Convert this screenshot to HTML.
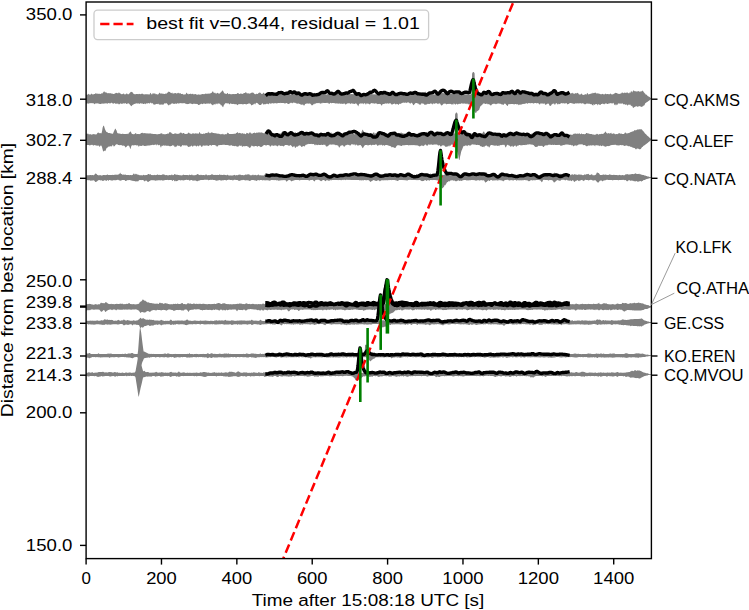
<!DOCTYPE html><html><head><meta charset="utf-8"><style>html,body{margin:0;padding:0;background:#fff;overflow:hidden}svg{display:block}text{font-family:"Liberation Sans",sans-serif;font-size:17.40px;fill:#000;stroke:none}</style></head><body>
<svg width="749" height="610" viewBox="0 0 749 610">
<rect width="749" height="610" fill="#fff"/>
<defs><clipPath id="ax"><rect x="86.10" y="2.00" width="565.30" height="556.60"/></clipPath></defs>
<g clip-path="url(#ax)">
<g fill="#808080" stroke="none"><path d="M86.1,95 86.6,94.6 87.1,94.8 87.6,94.8 88.1,93.8 88.6,93.9 89.1,94.6 89.6,94.6 90.1,94.7 90.6,94.4 91.1,94.1 91.6,93.5 92.1,94 92.6,94.4 93.1,94.4 93.6,94.3 94.1,94 94.6,94.1 95.1,94 95.6,93 96.1,93.5 96.6,93.6 97.1,94 97.6,93.6 98.1,93.6 98.6,93.9 99.1,93.8 99.6,93.7 100.1,93.9 100.6,93.9 101.1,93.6 101.6,93.3 102.1,93.8 102.6,93.1 103.1,92.6 103.6,92 104.1,91 104.6,92 105.1,92.4 105.6,92.2 106.1,92.4 106.6,92.5 107.1,93.3 107.6,93.2 108.1,93.1 108.6,93.2 109.1,93.2 109.6,93.2 110.1,93.3 110.6,93.3 111.1,93.3 111.6,93.8 112.1,93.6 112.6,93.8 113.1,93.9 113.6,93.9 114.1,93.8 114.6,93.7 115.1,93.4 115.6,92.9 116.1,92.7 116.6,93 117.1,93.1 117.6,93.3 118.1,93.5 118.6,92.4 119.1,92.4 119.6,93 120.1,93.5 120.6,93.6 121.1,94.1 121.6,94.3 122.1,94.3 122.6,94.1 123.1,93.8 123.6,93.5 124.1,93.8 124.6,94.4 125.1,94.4 125.6,94.3 126.1,93.7 126.6,93.6 127.1,93.4 127.6,94.2 128.1,94.3 128.6,94.3 129.1,93.9 129.6,93 130.1,92.8 130.6,92 131.1,91.7 131.6,91.9 132.1,92 132.6,92.5 133.1,93.1 133.6,93.9 134.1,94.1 134.6,94.2 135.1,94.3 135.6,94.2 136.1,94 136.6,94.1 137.1,94 137.6,93.9 138.1,94.3 138.6,93.9 139.1,93.8 139.6,94 140.1,94.1 140.6,94.2 141.1,93.9 141.6,93.8 142.1,93.6 142.6,93.8 143.1,94.2 143.6,94.3 144.1,94.3 144.6,94.4 145.1,94.3 145.6,94.3 146.1,94.2 146.6,94.2 147.1,94.3 147.6,94.3 148.1,94.5 148.6,94.3 149.1,94.4 149.6,94.5 150.1,93.3 150.6,92.7 151.1,93.8 151.6,94.5 152.1,94.5 152.6,93.3 153.1,93.5 153.6,93.4 154.1,93.2 154.6,93.7 155.1,93.2 155.6,94.2 156.1,94.2 156.6,94 157.1,94.5 157.6,94.4 158.1,94.2 158.6,94.2 159.1,92.7 159.6,92.8 160.1,93.5 160.6,93.6 161.1,93.5 161.6,93.6 162.1,93.6 162.6,93.8 163.1,93.8 163.6,93.8 164.1,93.9 164.6,94.1 165.1,93.8 165.6,93.6 166.1,93.8 166.6,93.6 167.1,93.1 167.6,92.6 168.1,92.3 168.6,91.6 169.1,91.7 169.6,92.1 170.1,92 170.6,92.9 171.1,93 171.6,93.3 172.1,92.3 172.6,93.4 173.1,93.6 173.6,93.6 174.1,93.3 174.6,93.3 175.1,92.9 175.6,93 176.1,93.4 176.6,93.5 177.1,93.2 177.6,93.2 178.1,92.5 178.6,93.2 179.1,93.1 179.6,93.6 180.1,93.6 180.6,93 181.1,93.9 181.6,94.1 182.1,94 182.6,93.8 183.1,94.4 183.6,94.4 184.1,94.5 184.6,94.6 185.1,94.3 185.6,94.4 186.1,93.2 186.6,92.6 187.1,93.5 187.6,94 188.1,93.5 188.6,94.4 189.1,94.1 189.6,93.9 190.1,93.8 190.6,93.7 191.1,93.8 191.6,94.3 192.1,93.9 192.6,93.7 193.1,93.8 193.6,94.5 194.1,94.2 194.6,94.2 195.1,93.9 195.6,94.1 196.1,94.6 196.6,94.6 197.1,94.8 197.6,94.8 198.1,94.3 198.6,94.4 199.1,94.7 199.6,94.6 200.1,94.7 200.6,94.6 201.1,94.5 201.6,94.2 202.1,94.1 202.6,94 203.1,94.3 203.6,93.9 204.1,94.2 204.6,94.1 205.1,93.8 205.6,93.6 206.1,93.9 206.6,93.7 207.1,93.3 207.6,93.9 208.1,93.7 208.6,93.6 209.1,93.7 209.6,93.6 210.1,93.6 210.6,93.3 211.1,93 211.6,93.1 212.1,91.8 212.6,91.6 213.1,91.5 213.6,92.5 214.1,93.3 214.6,92.7 215.1,92.6 215.6,93.5 216.1,93.6 216.6,93.6 217.1,92.9 217.6,92.8 218.1,93.3 218.6,93.5 219.1,93.7 219.6,93.4 220.1,93 220.6,92.4 221.1,92.1 221.6,91.6 222.1,90.9 222.6,90.2 223.1,91.1 223.6,92 224.1,92.9 224.6,93.5 225.1,93.4 225.6,93.7 226.1,94 226.6,93.9 227.1,92.9 227.6,93 228.1,93.7 228.6,94.2 229.1,94.1 229.6,93.7 230.1,94 230.6,94.3 231.1,94.3 231.6,94.3 232.1,94.3 232.6,94 233.1,94.1 233.6,94.1 234.1,94.2 234.6,94 235.1,94 235.6,94 236.1,93.9 236.6,94 237.1,93.5 237.6,93 238.1,92.9 238.6,93.6 239.1,94.1 239.6,94 240.1,93.8 240.6,93.6 241.1,93.6 241.6,93.8 242.1,93.9 242.6,93.8 243.1,93.9 243.6,92.9 244.1,92.9 244.6,93 245.1,92.9 245.6,91.9 246.1,92.6 246.6,92.7 247.1,93.9 247.6,93.1 248.1,92.9 248.6,93.5 249.1,93.7 249.6,93.5 250.1,93.6 250.6,93.3 251.1,92.8 251.6,92.7 252.1,92.7 252.6,92.4 253.1,92.6 253.6,93.1 254.1,93.6 254.6,93.9 255.1,94.3 255.6,94.2 256.1,93.8 256.6,93.8 257.1,94.1 257.6,94 258.1,93.6 258.6,93 259.1,92.7 259.6,92.5 260.1,92.8 260.6,92.7 261.1,93.6 261.6,93.9 262.1,94.1 262.6,93.7 263.1,93.1 263.6,92.6 264.1,93.6 264.6,93.6 265.1,94.2 265.6,94.2 266.1,94.2 266.6,94.3 267.1,94 267.6,94.3 268.1,94.3 268.6,94.2 269.1,93.4 269.6,94.2 270.1,93.7 270.6,94.1 271.1,94.1 271.6,94.4 272.1,94.2 272.6,94.2 273.1,94.2 273.6,94.1 274.1,94 274.6,93.9 275.1,94.1 275.6,93.6 276.1,93.7 276.6,93.8 277.1,93.8 277.6,94 278.1,93.5 278.6,93.4 279.1,93.4 279.6,93.5 280.1,93.9 280.6,93.6 281.1,93.8 281.6,93 282.1,93.8 282.6,94 283.1,93.9 283.6,94 284.1,93.6 284.6,93.8 285.1,94.3 285.6,94.4 286.1,94.3 286.6,94.1 287.1,94.1 287.6,93.8 288.1,93.1 288.6,93.1 289.1,92.9 289.6,93.1 290.1,94.3 290.6,94.6 291.1,94.7 291.6,94.5 292.1,94.1 292.6,94 293.1,94.5 293.6,94.3 294.1,94 294.6,94.2 295.1,94.4 295.6,94.3 296.1,93.7 296.6,93.9 297.1,94 297.6,94.3 298.1,93.4 298.6,93.6 299.1,93.8 299.6,93.7 300.1,94.2 300.6,94 301.1,93.9 301.6,94.2 302.1,93.6 302.6,93.6 303.1,93.6 303.6,93.6 304.1,93.9 304.6,94.3 305.1,94.7 305.6,94.7 306.1,95 306.6,95 307.1,94.9 307.6,94.8 308.1,93.6 308.6,94.7 309.1,94.7 309.6,94.7 310.1,94.5 310.6,94.1 311.1,93.5 311.6,93 312.1,92.6 312.6,92.7 313.1,93.3 313.6,93.6 314.1,92.7 314.6,93 315.1,93.5 315.6,94.1 316.1,94.6 316.6,94.4 317.1,93.7 317.6,93.9 318.1,94.5 318.6,94.4 319.1,94.2 319.6,94.4 320.1,94.4 320.6,94.6 321.1,94.8 321.6,93.7 322.1,93.9 322.6,94 323.1,94.5 323.6,94.3 324.1,94.8 324.6,94.7 325.1,94.6 325.6,94.6 326.1,94.7 326.6,94.6 327.1,93.8 327.6,94.3 328.1,94.6 328.6,94.5 329.1,94.3 329.6,94.2 330.1,93.8 330.6,94 331.1,94.1 331.6,94.3 332.1,93.9 332.6,94 333.1,93.4 333.6,93.4 334.1,93.9 334.6,93.7 335.1,93.9 335.6,94.3 336.1,94.4 336.6,94.5 337.1,93.9 337.6,93.6 338.1,93.9 338.6,94.4 339.1,93.5 339.6,94.6 340.1,94.4 340.6,94.3 341.1,94.5 341.6,94.9 342.1,94.8 342.6,94.9 343.1,94.7 343.6,94.6 344.1,94.2 344.6,94.3 345.1,93.9 345.6,94.2 346.1,94.2 346.6,94.6 347.1,94.6 347.6,94.3 348.1,94.3 348.6,94.3 349.1,94.3 349.6,94 350.1,94 350.6,94.2 351.1,94 351.6,94.1 352.1,94.3 352.6,94 353.1,94.1 353.6,94.2 354.1,94 354.6,94.1 355.1,94 355.6,94.1 356.1,93.6 356.6,93.6 357.1,93.3 357.6,92.8 358.1,92.5 358.6,91.7 359.1,93.4 359.6,93.7 360.1,94.1 360.6,94 361.1,94.4 361.6,94.3 362.1,94.3 362.6,94.1 363.1,94.2 363.6,93.7 364.1,94.1 364.6,93.1 365.1,93.1 365.6,93.9 366.1,93.6 366.6,93.5 367.1,93.8 367.6,93.6 368.1,93.7 368.6,93.4 369.1,93.4 369.6,93.4 370.1,93.5 370.6,93.5 371.1,93.3 371.6,93.6 372.1,94.2 372.6,94.2 373.1,93.9 373.6,94.4 374.1,94.5 374.6,94.3 375.1,94.1 375.6,94.6 376.1,94.6 376.6,94.7 377.1,94.4 377.6,94.7 378.1,94.6 378.6,94.4 379.1,94.6 379.6,93.8 380.1,93.7 380.6,93.4 381.1,94.2 381.6,93.9 382.1,92.5 382.6,92.7 383.1,93.5 383.6,93.7 384.1,93 384.6,92.4 385.1,92 385.6,92.6 386.1,93.3 386.6,93.5 387.1,93.1 387.6,93 388.1,93.6 388.6,93.5 389.1,93.4 389.6,93.2 390.1,93.2 390.6,93.1 391.1,93.3 391.6,93.1 392.1,92.6 392.6,93.2 393.1,93.2 393.6,93.5 394.1,94 394.6,94.1 395.1,94 395.6,94 396.1,94.2 396.6,94.2 397.1,94 397.6,93.8 398.1,94.1 398.6,94 399.1,94.2 399.6,94 400.1,94 400.6,94.1 401.1,93.6 401.6,93.8 402.1,93.7 402.6,93.3 403.1,93.6 403.6,93.7 404.1,93.8 404.6,93.6 405.1,93.4 405.6,93.3 406.1,93.6 406.6,92.9 407.1,93.2 407.6,93.2 408.1,93.1 408.6,92.4 409.1,92.7 409.6,93.9 410.1,94.1 410.6,94.3 411.1,94.4 411.6,93.9 412.1,93.7 412.6,93.3 413.1,92.5 413.6,92.2 414.1,92.8 414.6,93.5 415.1,93.7 415.6,94.3 416.1,94 416.6,93.9 417.1,93.9 417.6,93.8 418.1,94.1 418.6,94 419.1,93.9 419.6,93.7 420.1,93.7 420.6,93.5 421.1,93.4 421.6,92.5 422.1,92.5 422.6,92.4 423.1,92.9 423.6,92.6 424.1,92.3 424.6,92.2 425.1,91.6 425.6,92 426.1,92.3 426.6,92.9 427.1,93.2 427.6,93.2 428.1,93.8 428.6,92.8 429.1,93 429.6,93.4 430.1,93.6 430.6,93.9 431.1,94.1 431.6,94.2 432.1,94.4 432.6,94.1 433.1,94 433.6,94.5 434.1,94.4 434.6,94.5 435.1,94.3 435.6,94.4 436.1,94.3 436.6,94 437.1,94.6 437.6,94.5 438.1,94.5 438.6,94.5 439.1,94.5 439.6,94.5 440.1,94.1 440.6,93.6 441.1,93.4 441.6,92.5 442.1,92.5 442.6,93.1 443.1,93.5 443.6,92.9 444.1,93 444.6,93.2 445.1,94 445.6,93.9 446.1,93.9 446.6,92.6 447.1,92.6 447.6,92.7 448.1,93.7 448.6,93.7 449.1,93.5 449.6,92.9 450.1,93.3 450.6,93.7 451.1,93.7 451.6,93.4 452.1,93.7 452.6,94 453.1,93.9 453.6,92.9 454.1,93.6 454.6,93.6 455.1,93.5 455.6,94 456.1,94 456.6,94 457.1,93.7 457.6,94 458.1,94 458.6,93.8 459.1,93.8 459.6,94 460.1,93.9 460.6,93.9 461.1,94.2 461.6,94.3 462.1,94.2 462.6,94.2 463.1,94.2 463.6,94.4 464.1,94.4 464.6,94.4 465.1,94.3 465.6,94.5 466.1,93.9 466.6,94.8 467.1,94.6 467.6,94.6 468.1,94.6 468.6,94.7 469.1,94.7 469.6,94.8 470.1,94.7 470.6,94.6 471.1,93.5 471.6,93.8 472.1,73.7 472.6,72.6 473.1,72 473.6,71.9 474.1,72.4 474.6,73.5 475.1,93.8 475.6,93.3 476.1,93.4 476.6,93.2 477.1,93.1 477.6,91.7 478.1,92.7 478.6,92.8 479.1,92.4 479.6,93.1 480.1,94.1 480.6,94.4 481.1,94.5 481.6,94.3 482.1,93.3 482.6,93.5 483.1,93.6 483.6,94.5 484.1,94 484.6,94.2 485.1,94.2 485.6,94.4 486.1,94.2 486.6,93.6 487.1,93.3 487.6,93.5 488.1,93.9 488.6,94 489.1,93.9 489.6,94.1 490.1,93.1 490.6,92.8 491.1,93.7 491.6,93.5 492.1,94 492.6,94.5 493.1,94.4 493.6,94.7 494.1,94.5 494.6,94.6 495.1,94.4 495.6,93.7 496.1,93.8 496.6,93.6 497.1,94.3 497.6,93.7 498.1,93.8 498.6,93.9 499.1,93.9 499.6,94.1 500.1,93.9 500.6,93.6 501.1,93.1 501.6,92.7 502.1,92.6 502.6,92.3 503.1,92.5 503.6,92.6 504.1,92.4 504.6,93.5 505.1,93.2 505.6,93.5 506.1,93.5 506.6,93.8 507.1,93.8 507.6,93.9 508.1,93.8 508.6,93.5 509.1,93.6 509.6,93.4 510.1,93.4 510.6,93.2 511.1,93.5 511.6,93.2 512.1,93 512.6,93.6 513.1,92.6 513.6,92.6 514.1,92.2 514.6,93.6 515.1,93.6 515.6,92.6 516.1,92.5 516.6,92.7 517.1,94 517.6,93.9 518.1,94.1 518.6,93.7 519.1,93.7 519.6,93.8 520.1,93.8 520.6,93.8 521.1,93.6 521.6,93.1 522.1,92.9 522.6,93.7 523.1,93.5 523.6,93.2 524.1,93.5 524.6,93.3 525.1,93.2 525.6,93.5 526.1,93.4 526.6,93.4 527.1,93.2 527.6,93.2 528.1,93.4 528.6,93.2 529.1,93.6 529.6,93.7 530.1,93.6 530.6,93.4 531.1,93.6 531.6,93.7 532.1,94 532.6,93.7 533.1,93.8 533.6,94 534.1,93.9 534.6,93.8 535.1,93.7 535.6,93.4 536.1,94.1 536.6,93.9 537.1,93.8 537.6,93.7 538.1,94.1 538.6,94.2 539.1,94.1 539.6,93.8 540.1,94 540.6,93.5 541.1,93.9 541.6,94 542.1,93.7 542.6,94 543.1,94.1 543.6,93.8 544.1,93.6 544.6,93.6 545.1,93.3 545.6,93.3 546.1,93.4 546.6,93.5 547.1,93.5 547.6,93.6 548.1,92.7 548.6,92.6 549.1,92.8 549.6,92 550.1,92.6 550.6,92.6 551.1,92.6 551.6,92.5 552.1,92.7 552.6,92.6 553.1,92.9 553.6,93.5 554.1,93.5 554.6,93.3 555.1,93.6 555.6,93.7 556.1,93.8 556.6,93.5 557.1,93.6 557.6,92.5 558.1,92.8 558.6,93.3 559.1,93.7 559.6,93.5 560.1,94.2 560.6,94 561.1,93.2 561.6,94.3 562.1,94.1 562.6,94.1 563.1,94.4 563.6,94.1 564.1,94.3 564.6,94.2 565.1,92.9 565.6,94 566.1,93.9 566.6,93.8 567.1,93.3 567.6,92.8 568.1,92.1 568.6,92.7 569.1,93.2 569.6,93.7 570.1,93.7 570.6,93.6 571.1,93.4 571.6,93 572.1,93.6 572.6,92.6 573.1,93.5 573.6,93.6 574.1,93.7 574.6,93.8 575.1,93.6 575.6,92.9 576.1,93.3 576.6,93.6 577.1,92.8 577.6,93 578.1,93 578.6,94.1 579.1,94.4 579.6,94.5 580.1,94.5 580.6,94.5 581.1,93.5 581.6,93.7 582.1,94 582.6,95 583.1,94.7 583.6,94.9 584.1,94.9 584.6,94.5 585.1,94 585.6,94.2 586.1,94.8 586.6,94.2 587.1,93 587.6,93.1 588.1,94.5 588.6,94.3 589.1,94.2 589.6,94.1 590.1,94.1 590.6,93.8 591.1,93.4 591.6,93.7 592.1,92.5 592.6,93.5 593.1,93.3 593.6,93 594.1,92.7 594.6,92.9 595.1,92.7 595.6,92.5 596.1,93.2 596.6,93.6 597.1,93.6 597.6,93.2 598.1,93.4 598.6,93.6 599.1,93.8 599.6,93.7 600.1,93.9 600.6,94.3 601.1,94.3 601.6,94.3 602.1,93.9 602.6,93.7 603.1,94.3 603.6,94.3 604.1,94.5 604.6,94.2 605.1,94.1 605.6,93.6 606.1,93.9 606.6,94.2 607.1,94.1 607.6,94.1 608.1,94.1 608.6,94.2 609.1,94.2 609.6,94.2 610.1,93.8 610.6,93.6 611.1,93.9 611.6,94.5 612.1,94.3 612.6,94.5 613.1,94.3 613.6,94.1 614.1,93.5 614.6,93.5 615.1,92.9 615.6,92.8 616.1,93.1 616.6,93 617.1,93.2 617.6,93.6 618.1,94 618.6,93.8 619.1,93.7 619.6,93.9 620.1,93.8 620.6,93.5 621.1,93.4 621.6,93 622.1,92.1 622.6,92.9 623.1,92.7 623.6,93.3 624.1,93.1 624.6,92.6 625.1,92.4 625.6,92.9 626.1,92.9 626.6,92.5 627.1,92.5 627.6,92.5 628.1,93 628.6,93.3 629.1,93.5 629.6,92.2 630.1,92.9 630.6,92.3 631.1,90.8 631.6,91.6 632.1,92.5 632.6,91.7 633.1,90.6 633.6,90.6 634.1,90.7 634.6,91.2 635.1,91.2 635.6,91.2 636.1,91.5 636.6,91.5 637.1,91.3 637.6,91.4 638.1,91.3 638.6,90.9 639.1,91.5 639.6,91.7 640.1,91.6 640.6,91.6 641.1,91.5 641.6,91.2 642.1,90.9 642.6,90.6 643.1,90.9 643.6,91.9 644.1,92.5 644.6,93.2 645.1,93.6 645.6,94.4 646.1,94.4 646.6,94.8 647.1,95.3 647.6,95.9 648.1,96.3 648.6,96.6 649.1,96.8 649.6,97.1 650.1,97.6 650.6,98 651.1,98.4 651.1,99.1 650.6,99.4 650.1,99.9 649.6,100.2 649.1,100.5 648.6,100.9 648.1,101.2 647.6,101.7 647.1,102.1 646.6,102.3 646.1,102.8 645.6,103 645.1,103.5 644.6,104.9 644.1,105.5 643.6,105.5 643.1,106.2 642.6,106.5 642.1,106.5 641.6,106.9 641.1,106.7 640.6,106.8 640.1,106 639.6,106 639.1,106.4 638.6,106.4 638.1,106.3 637.6,107 637.1,106.5 636.6,106.3 636.1,106.3 635.6,106.4 635.1,106.7 634.6,106.9 634.1,107.3 633.6,107.7 633.1,107.9 632.6,106.9 632.1,105.8 631.6,105.7 631.1,106.2 630.6,105.1 630.1,104.6 629.6,104.7 629.1,104.7 628.6,104.6 628.1,105 627.6,105.7 627.1,105 626.6,104.5 626.1,104.4 625.6,104.8 625.1,104.7 624.6,104.2 624.1,104 623.6,104.4 623.1,104 622.6,103.3 622.1,103.4 621.6,103.6 621.1,103.7 620.6,103.8 620.1,103.3 619.6,103.4 619.1,103.8 618.6,103.4 618.1,103.3 617.6,104.5 617.1,105 616.6,105.3 616.1,104.1 615.6,104.4 615.1,105.4 614.6,104.8 614.1,104.5 613.6,103 613.1,102.7 612.6,103.6 612.1,103.4 611.6,103.4 611.1,102.9 610.6,103.1 610.1,103.6 609.6,103.5 609.1,103.2 608.6,103.4 608.1,103.9 607.6,104.1 607.1,104 606.6,103.6 606.1,103.6 605.6,103.5 605.1,103.6 604.6,103.9 604.1,104.4 603.6,104 603.1,103.8 602.6,103.6 602.1,104 601.6,103.9 601.1,103.9 600.6,104.9 600.1,104.7 599.6,104.9 599.1,104.2 598.6,104.1 598.1,104.7 597.6,105.5 597.1,104 596.6,104 596.1,104.2 595.6,104 595.1,104.4 594.6,104.9 594.1,104.4 593.6,104.1 593.1,105.9 592.6,104.9 592.1,105.1 591.6,104.2 591.1,103.9 590.6,104.3 590.1,104.1 589.6,103.6 589.1,104 588.6,103.7 588.1,103.6 587.6,103.6 587.1,103.7 586.6,103.6 586.1,103.8 585.6,104.6 585.1,104.1 584.6,104.5 584.1,103.8 583.6,103.8 583.1,103.2 582.6,103.6 582.1,103.1 581.6,103.8 581.1,103.6 580.6,103.1 580.1,103.4 579.6,103.6 579.1,103.1 578.6,103.4 578.1,103.5 577.6,103.1 577.1,103.7 576.6,103.2 576.1,103.4 575.6,103.2 575.1,103.4 574.6,103.8 574.1,104 573.6,104 573.1,103.3 572.6,103.6 572.1,103.4 571.6,103.2 571.1,103.1 570.6,103 570.1,103 569.6,103.2 569.1,103.4 568.6,103.9 568.1,104 567.6,104.5 567.1,104.1 566.6,102.9 566.1,103.2 565.6,103.2 565.1,103.6 564.6,103.6 564.1,103.4 563.6,102.9 563.1,103.5 562.6,103.4 562.1,103.1 561.6,103.2 561.1,103.1 560.6,103.5 560.1,104.1 559.6,104 559.1,104.3 558.6,103.6 558.1,104.4 557.6,104.6 557.1,103.7 556.6,103.2 556.1,103.1 555.6,103.7 555.1,104.8 554.6,104.7 554.1,103.6 553.6,103.4 553.1,103.7 552.6,103.7 552.1,104.3 551.6,104.6 551.1,105.6 550.6,106 550.1,105.7 549.6,105.8 549.1,104.4 548.6,103.5 548.1,103.8 547.6,103.6 547.1,104.1 546.6,104.2 546.1,104.4 545.6,104.7 545.1,104.7 544.6,103.6 544.1,103.3 543.6,103.7 543.1,103.7 542.6,103.4 542.1,103.4 541.6,103.4 541.1,103.5 540.6,103.3 540.1,104.3 539.6,104.2 539.1,104.4 538.6,103.3 538.1,103.3 537.6,103.1 537.1,103.2 536.6,103.5 536.1,102.9 535.6,103 535.1,102.9 534.6,103.2 534.1,103 533.6,104 533.1,103 532.6,103.2 532.1,102.9 531.6,103 531.1,103.2 530.6,103.2 530.1,103.2 529.6,103 529.1,103.2 528.6,103.1 528.1,103.3 527.6,103.4 527.1,104.1 526.6,103.1 526.1,103.3 525.6,103.5 525.1,103.8 524.6,103.8 524.1,103.9 523.6,104 523.1,103.8 522.6,103.9 522.1,104.3 521.6,104.6 521.1,104.6 520.6,104.7 520.1,104.4 519.6,104.5 519.1,105.1 518.6,105.3 518.1,104.2 517.6,104.2 517.1,104.2 516.6,104.4 516.1,104.1 515.6,104.1 515.1,104.1 514.6,104.2 514.1,104.4 513.6,104.3 513.1,104 512.6,104 512.1,103.9 511.6,104 511.1,104 510.6,103.9 510.1,104.3 509.6,104.2 509.1,104 508.6,104 508.1,104.9 507.6,106 507.1,106.1 506.6,105 506.1,104.7 505.6,103.7 505.1,103.7 504.6,103.6 504.1,104 503.6,104.7 503.1,105.1 502.6,104.8 502.1,104 501.6,104.6 501.1,104.2 500.6,103.8 500.1,103.7 499.6,103.7 499.1,103.5 498.6,103.6 498.1,103.6 497.6,103.8 497.1,103.6 496.6,103.9 496.1,104.3 495.6,104.2 495.1,103.7 494.6,103.7 494.1,103.8 493.6,103.7 493.1,103.7 492.6,104.1 492.1,104.3 491.6,104.7 491.1,105.4 490.6,105.4 490.1,105 489.6,104.7 489.1,104 488.6,104 488.1,104.4 487.6,104.2 487.1,103.5 486.6,103.7 486.1,103.7 485.6,104 485.1,104 484.6,103.4 484.1,103.5 483.6,103.5 483.1,103.5 482.6,104.2 482.1,105 481.6,105.2 481.1,105.7 480.6,106 480.1,107.1 479.6,108.5 479.1,109.9 478.6,110.2 478.1,110.5 477.6,111.2 477.1,111.1 476.6,111.8 476.1,113 475.6,112.9 475.1,112.2 474.6,111.6 474.1,111.6 473.6,110.3 473.1,107.9 472.6,106.9 472.1,106 471.6,104.8 471.1,104 470.6,103.5 470.1,104.3 469.6,104.4 469.1,104.3 468.6,103.8 468.1,104.9 467.6,103.6 467.1,103.7 466.6,103.5 466.1,104.3 465.6,103.8 465.1,103.5 464.6,103.5 464.1,103.4 463.6,103.6 463.1,103.8 462.6,103.5 462.1,103.4 461.6,103.3 461.1,103.5 460.6,103.8 460.1,104 459.6,104 459.1,103.6 458.6,104 458.1,104.3 457.6,104.4 457.1,104.2 456.6,103.7 456.1,103.8 455.6,104.7 455.1,104.6 454.6,103.9 454.1,103.6 453.6,103.6 453.1,105 452.6,104.3 452.1,104.2 451.6,104.6 451.1,104.2 450.6,103.7 450.1,103.9 449.6,103.8 449.1,104 448.6,103.9 448.1,103.8 447.6,104.1 447.1,104 446.6,104.4 446.1,103.9 445.6,103.7 445.1,103.6 444.6,103.7 444.1,103.6 443.6,103.8 443.1,104.3 442.6,104.7 442.1,105.2 441.6,105.6 441.1,105.2 440.6,104.5 440.1,103.5 439.6,103.4 439.1,103.3 438.6,103.5 438.1,104.2 437.6,104.1 437.1,103.3 436.6,103.2 436.1,103.3 435.6,103.2 435.1,103.4 434.6,103.8 434.1,103.8 433.6,103.2 433.1,103.7 432.6,104.7 432.1,103.5 431.6,103.7 431.1,103.6 430.6,103.5 430.1,103.5 429.6,104.1 429.1,104 428.6,104.1 428.1,103.8 427.6,103.8 427.1,104.3 426.6,104.6 426.1,104.6 425.6,104.5 425.1,105 424.6,104.7 424.1,104.2 423.6,103.8 423.1,103.5 422.6,103.5 422.1,103.4 421.6,103 421.1,104.2 420.6,104.5 420.1,104.8 419.6,104.4 419.1,104.4 418.6,104.1 418.1,103.3 417.6,103.5 417.1,103.2 416.6,103.1 416.1,103 415.6,103.1 415.1,103.5 414.6,104 414.1,104.7 413.6,105.2 413.1,104.9 412.6,103.8 412.1,103.3 411.6,103 411.1,102.5 410.6,103.7 410.1,103.4 409.6,103.2 409.1,102.7 408.6,102.6 408.1,102.3 407.6,102.4 407.1,102.4 406.6,103.3 406.1,102.4 405.6,102.6 405.1,102.8 404.6,102.8 404.1,102.8 403.6,102.6 403.1,102.8 402.6,102.8 402.1,103 401.6,103.2 401.1,103.4 400.6,103.7 400.1,104 399.6,103.8 399.1,103.8 398.6,104.9 398.1,104.8 397.6,104 397.1,103.9 396.6,103.7 396.1,104.4 395.6,104.3 395.1,104.2 394.6,103.5 394.1,103.5 393.6,103.9 393.1,104 392.6,104.2 392.1,104.7 391.6,104.5 391.1,103.9 390.6,103.5 390.1,102.9 389.6,103 389.1,103.9 388.6,104 388.1,102.9 387.6,103.3 387.1,103.7 386.6,103.7 386.1,103.3 385.6,103.4 385.1,103.5 384.6,103.7 384.1,104 383.6,103.9 383.1,104 382.6,104.1 382.1,105.3 381.6,105.5 381.1,105.2 380.6,104 380.1,103.9 379.6,104 379.1,103.8 378.6,103.9 378.1,104 377.6,104.3 377.1,103.8 376.6,103.6 376.1,103.4 375.6,103.3 375.1,103.5 374.6,103.7 374.1,103.4 373.6,103.2 373.1,103.4 372.6,103.2 372.1,103.3 371.6,103.1 371.1,103.2 370.6,103.4 370.1,104.3 369.6,104.4 369.1,104 368.6,103.6 368.1,103.9 367.6,103.4 367.1,103.5 366.6,103.2 366.1,104.4 365.6,104.5 365.1,103.3 364.6,103.3 364.1,103.2 363.6,104.5 363.1,103.3 362.6,103.4 362.1,103.4 361.6,103.5 361.1,103.6 360.6,103 360.1,104.2 359.6,103.4 359.1,104 358.6,105.4 358.1,106.5 357.6,105 357.1,104.4 356.6,103.9 356.1,103.3 355.6,103.5 355.1,103.5 354.6,104 354.1,104.1 353.6,103.5 353.1,103.9 352.6,103.7 352.1,103.3 351.6,103.4 351.1,103.3 350.6,104.3 350.1,103.5 349.6,103.5 349.1,103.1 348.6,103.3 348.1,103.5 347.6,103.5 347.1,103.3 346.6,104 346.1,104.2 345.6,104.7 345.1,103.9 344.6,103.5 344.1,103.5 343.6,103.7 343.1,103.8 342.6,103.7 342.1,103.9 341.6,103.7 341.1,103.5 340.6,103.9 340.1,103.5 339.6,103.5 339.1,103.5 338.6,103.8 338.1,103.6 337.6,103.6 337.1,103.4 336.6,103.4 336.1,103.2 335.6,103.4 335.1,103.4 334.6,103.1 334.1,103.2 333.6,103.1 333.1,103.1 332.6,103.1 332.1,103.1 331.6,103.3 331.1,103.2 330.6,102.8 330.1,103 329.6,103.9 329.1,103.6 328.6,103.8 328.1,102.8 327.6,102.8 327.1,103.2 326.6,102.8 326.1,103 325.6,102.9 325.1,103.1 324.6,103 324.1,103 323.6,103 323.1,102.8 322.6,102.8 322.1,103.4 321.6,103.6 321.1,102.8 320.6,103.7 320.1,103.8 319.6,103.3 319.1,102.8 318.6,102.9 318.1,103.2 317.6,103.1 317.1,103.2 316.6,103.3 316.1,103.1 315.6,103.6 315.1,104 314.6,103.6 314.1,104.4 313.6,103.8 313.1,104.9 312.6,105 312.1,105.6 311.6,105.3 311.1,104.5 310.6,103.9 310.1,103.4 309.6,103.5 309.1,103.6 308.6,103.7 308.1,103.5 307.6,103.6 307.1,103.6 306.6,103.6 306.1,103.7 305.6,104.1 305.1,103.8 304.6,105.4 304.1,105.2 303.6,105.5 303.1,104.5 302.6,104.6 302.1,104.7 301.6,104.6 301.1,104.9 300.6,104.6 300.1,104 299.6,103.9 299.1,103.8 298.6,103.6 298.1,103.6 297.6,104 297.1,103.2 296.6,103.5 296.1,103.4 295.6,102.9 295.1,102.8 294.6,102.7 294.1,102.7 293.6,102.6 293.1,102.8 292.6,103.1 292.1,103.5 291.6,102.8 291.1,102.7 290.6,102.7 290.1,103.2 289.6,103.4 289.1,103.7 288.6,104.1 288.1,103.9 287.6,103.7 287.1,103.3 286.6,102.9 286.1,103 285.6,103.5 285.1,103.2 284.6,103.4 284.1,103.3 283.6,102.9 283.1,103.1 282.6,103.1 282.1,102.9 281.6,102.9 281.1,103 280.6,102.8 280.1,103.2 279.6,102.9 279.1,103.1 278.6,103.1 278.1,103 277.6,103.3 277.1,103.3 276.6,103.6 276.1,103.2 275.6,103.3 275.1,103.1 274.6,103.4 274.1,103.1 273.6,103.6 273.1,103.5 272.6,103.2 272.1,103.1 271.6,103.5 271.1,103.6 270.6,103.7 270.1,103.5 269.6,103.1 269.1,103.8 268.6,104.4 268.1,103.7 267.6,104 267.1,103.5 266.6,103.8 266.1,103.9 265.6,104.2 265.1,104.3 264.6,104.2 264.1,104.2 263.6,104.7 263.1,103.9 262.6,103.3 262.1,103.5 261.6,104.1 261.1,105 260.6,105.1 260.1,105 259.6,104.9 259.1,104.8 258.6,104.3 258.1,103.8 257.6,103.3 257.1,103 256.6,102.8 256.1,103.1 255.6,103.4 255.1,104.7 254.6,103.7 254.1,103.5 253.6,104.3 253.1,104.7 252.6,104.8 252.1,105.1 251.6,105.4 251.1,105.1 250.6,104.1 250.1,103.8 249.6,103.6 249.1,103.5 248.6,103.6 248.1,103.8 247.6,103.9 247.1,104 246.6,104.4 246.1,104.2 245.6,104.2 245.1,103.9 244.6,104 244.1,103.9 243.6,104.4 243.1,104.1 242.6,104.3 242.1,104.5 241.6,103.9 241.1,104 240.6,104 240.1,104.2 239.6,104 239.1,104.2 238.6,104 238.1,104.8 237.6,105.2 237.1,104.7 236.6,104.6 236.1,104.1 235.6,104.3 235.1,104.3 234.6,104.3 234.1,104 233.6,104 233.1,103.8 232.6,104.1 232.1,104.1 231.6,103.9 231.1,103.6 230.6,103.6 230.1,103.5 229.6,104.4 229.1,104.1 228.6,103.3 228.1,103.4 227.6,103.4 227.1,103.2 226.6,103.2 226.1,103.2 225.6,103.2 225.1,103.2 224.6,104.4 224.1,104.5 223.6,105.9 223.1,107.3 222.6,106.9 222.1,106.1 221.6,104.9 221.1,105.8 220.6,104.7 220.1,104 219.6,103.8 219.1,103.5 218.6,103.5 218.1,103.5 217.6,103.5 217.1,104.4 216.6,103.7 216.1,103.6 215.6,103.7 215.1,105.1 214.6,104.3 214.1,104 213.6,104.4 213.1,105.2 212.6,105.2 212.1,104.8 211.6,104.6 211.1,104 210.6,103.5 210.1,103.2 209.6,103.7 209.1,103.8 208.6,103.4 208.1,103.5 207.6,103.5 207.1,103.8 206.6,103.5 206.1,103.7 205.6,103.9 205.1,103.8 204.6,103.6 204.1,103.8 203.6,103.6 203.1,103.7 202.6,104.3 202.1,104 201.6,103.8 201.1,103.8 200.6,103.9 200.1,104.4 199.6,104.7 199.1,104.8 198.6,104.9 198.1,104.9 197.6,104.1 197.1,103.9 196.6,103.9 196.1,103.8 195.6,103.9 195.1,103.7 194.6,103.7 194.1,103.8 193.6,103.7 193.1,103.8 192.6,104.2 192.1,104.1 191.6,103.9 191.1,103.5 190.6,103.4 190.1,103.5 189.6,103.4 189.1,103.7 188.6,104.1 188.1,104 187.6,104 187.1,104.2 186.6,104 186.1,103.8 185.6,103.7 185.1,103.4 184.6,103.2 184.1,103.1 183.6,103.2 183.1,103.2 182.6,103 182.1,103.8 181.6,103.2 181.1,102.9 180.6,103.2 180.1,103.1 179.6,103.2 179.1,103.4 178.6,103.5 178.1,103.5 177.6,103.2 177.1,103.3 176.6,103.7 176.1,104.1 175.6,103.6 175.1,103.6 174.6,104.1 174.1,103.8 173.6,104 173.1,103.5 172.6,103.4 172.1,103.2 171.6,103.4 171.1,104 170.6,104.4 170.1,104.5 169.6,104.5 169.1,105.3 168.6,105.2 168.1,105.3 167.6,104.2 167.1,103.7 166.6,103.1 166.1,103.5 165.6,103.5 165.1,103.3 164.6,103.3 164.1,103.8 163.6,104.4 163.1,104.8 162.6,104.9 162.1,104.1 161.6,104.6 161.1,104.7 160.6,104.6 160.1,104.7 159.6,104.3 159.1,105 158.6,103.8 158.1,103.8 157.6,104.3 157.1,103.7 156.6,103.9 156.1,104 155.6,104.1 155.1,104.9 154.6,104.3 154.1,105 153.6,104.4 153.1,103.8 152.6,103.1 152.1,103.5 151.6,103.5 151.1,102.8 150.6,102.8 150.1,102.7 149.6,103.6 149.1,103.8 148.6,103.1 148.1,103 147.6,103.4 147.1,103.5 146.6,103 146.1,104.1 145.6,104.2 145.1,103.4 144.6,103.5 144.1,103.9 143.6,103.9 143.1,104 142.6,103.4 142.1,103.5 141.6,103.6 141.1,103.5 140.6,103.2 140.1,103.2 139.6,103.8 139.1,104 138.6,103.3 138.1,103.4 137.6,103.6 137.1,103.4 136.6,103.3 136.1,103.4 135.6,103.8 135.1,103.6 134.6,103.9 134.1,104 133.6,104.5 133.1,104.5 132.6,104.9 132.1,105.3 131.6,106.2 131.1,105.9 130.6,105.4 130.1,104.9 129.6,104.2 129.1,103.8 128.6,103.2 128.1,103.5 127.6,103.2 127.1,104.3 126.6,103.7 126.1,104.1 125.6,103.1 125.1,103.3 124.6,103.4 124.1,103.4 123.6,103.2 123.1,103.4 122.6,103.4 122.1,103.9 121.6,103.7 121.1,103.7 120.6,103.3 120.1,103.8 119.6,104.1 119.1,104.4 118.6,104.2 118.1,103.5 117.6,103.7 117.1,103.6 116.6,103.5 116.1,104 115.6,103.7 115.1,103.5 114.6,103 114.1,103.2 113.6,103.8 113.1,103.5 112.6,103.6 112.1,103 111.6,102.8 111.1,102.8 110.6,103.3 110.1,103.4 109.6,103.5 109.1,103.1 108.6,103 108.1,103.3 107.6,103.8 107.1,103.6 106.6,103.2 106.1,103.4 105.6,103.3 105.1,103.5 104.6,103.4 104.1,103.4 103.6,103.7 103.1,103.6 102.6,103.5 102.1,103.7 101.6,103.6 101.1,103.9 100.6,104 100.1,103.9 99.6,103.7 99.1,103.9 98.6,103.5 98.1,103.6 97.6,103.3 97.1,103.4 96.6,103.6 96.1,103.3 95.6,103.3 95.1,104 94.6,104.3 94.1,103.8 93.6,103.5 93.1,103.1 92.6,103.3 92.1,103.3 91.6,103.2 91.1,103.1 90.6,103.1 90.1,103.6 89.6,103.3 89.1,103.3 88.6,103.7 88.1,103.4 87.6,103.2 87.1,103.7 86.6,103.7 86.1,103.4Z"/><path d="M86.1,133.7 86.6,133.8 87.1,133.8 87.6,133.7 88.1,133.6 88.6,134.2 89.1,134.4 89.6,134.3 90.1,134.1 90.6,134.3 91.1,134.7 91.6,134.6 92.1,134.5 92.6,134.2 93.1,134.2 93.6,133.9 94.1,134.2 94.6,134.3 95.1,134.3 95.6,134.5 96.1,134.4 96.6,134.2 97.1,133.6 97.6,132.8 98.1,132.8 98.6,132.5 99.1,133.1 99.6,133.3 100.1,133.2 100.6,133.1 101.1,133.4 101.6,133.1 102.1,131 102.6,127.8 103.1,126.2 103.6,125.4 104.1,126.2 104.6,127.9 105.1,129.4 105.6,130.4 106.1,131.6 106.6,131.9 107.1,132.2 107.6,132.3 108.1,132.9 108.6,133.1 109.1,133 109.6,133 110.1,133.2 110.6,133.3 111.1,133.5 111.6,133.6 112.1,133.7 112.6,133.8 113.1,133.6 113.6,132.1 114.1,131.1 114.6,129.8 115.1,129 115.6,128.5 116.1,130 116.6,130.6 117.1,132.5 117.6,133.2 118.1,133.2 118.6,133.5 119.1,133.5 119.6,133.6 120.1,133.8 120.6,133.8 121.1,133.9 121.6,133.9 122.1,133.7 122.6,133.7 123.1,133.8 123.6,133.9 124.1,134 124.6,133.9 125.1,134.1 125.6,133.9 126.1,134 126.6,134 127.1,133.6 127.6,134 128.1,134.3 128.6,133.4 129.1,132.2 129.6,132.7 130.1,131.4 130.6,131.4 131.1,132.3 131.6,133.4 132.1,133.9 132.6,134.1 133.1,134.3 133.6,134.3 134.1,134 134.6,134.3 135.1,133.2 135.6,133.3 136.1,133.3 136.6,134.3 137.1,134.1 137.6,134 138.1,134.1 138.6,134.1 139.1,134.2 139.6,133.9 140.1,134.1 140.6,133.6 141.1,133.1 141.6,133 142.1,132.8 142.6,132.8 143.1,133.4 143.6,133.1 144.1,133.2 144.6,133.1 145.1,133.3 145.6,133.2 146.1,133.3 146.6,133.4 147.1,133.3 147.6,133.5 148.1,133.5 148.6,133.4 149.1,133.4 149.6,133.5 150.1,133.3 150.6,133.4 151.1,133.7 151.6,133.7 152.1,133.6 152.6,134.1 153.1,134 153.6,134.1 154.1,134 154.6,134.1 155.1,134 155.6,134.1 156.1,134.3 156.6,134.3 157.1,134.1 157.6,134.4 158.1,134.3 158.6,134.1 159.1,134.1 159.6,134 160.1,133.8 160.6,133.4 161.1,133.4 161.6,133.2 162.1,133.3 162.6,134.2 163.1,134.3 163.6,134 164.1,134.3 164.6,134.2 165.1,134.2 165.6,134.2 166.1,134.1 166.6,134 167.1,134 167.6,133.2 168.1,134 168.6,133.5 169.1,132.6 169.6,132.2 170.1,132.1 170.6,132.4 171.1,132.5 171.6,133.2 172.1,133.8 172.6,133.8 173.1,134.1 173.6,133.9 174.1,133.7 174.6,133.6 175.1,133.3 175.6,133.4 176.1,133.4 176.6,133.8 177.1,134 177.6,133.8 178.1,133.8 178.6,133.8 179.1,133.8 179.6,133.3 180.1,132.6 180.6,132.8 181.1,132.6 181.6,133.1 182.1,133.4 182.6,133.6 183.1,132.9 183.6,133 184.1,133 184.6,134 185.1,133.9 185.6,133.9 186.1,133.8 186.6,133.9 187.1,133.9 187.6,133.6 188.1,133 188.6,132.6 189.1,132.7 189.6,133.3 190.1,133.9 190.6,133.5 191.1,133.6 191.6,134.2 192.1,133.7 192.6,133.2 193.1,133.2 193.6,133.5 194.1,133.4 194.6,133.7 195.1,133.4 195.6,133.3 196.1,133.4 196.6,133.6 197.1,133.6 197.6,133.5 198.1,133.7 198.6,133.7 199.1,132.7 199.6,131.7 200.1,133 200.6,133.7 201.1,133.7 201.6,133.8 202.1,134 202.6,134.1 203.1,133.7 203.6,133.6 204.1,133.8 204.6,133.8 205.1,133.6 205.6,133.1 206.1,133 206.6,132.9 207.1,133.3 207.6,132.9 208.1,131.5 208.6,132.2 209.1,133.4 209.6,132.5 210.1,133.2 210.6,133.1 211.1,132.3 211.6,132.4 212.1,132.8 212.6,132.4 213.1,133.1 213.6,133 214.1,133 214.6,133.3 215.1,133.3 215.6,133.3 216.1,133.3 216.6,133.5 217.1,133.7 217.6,133.6 218.1,134.1 218.6,133.6 219.1,133.8 219.6,134.1 220.1,134.3 220.6,134.3 221.1,134.3 221.6,134.1 222.1,134.4 222.6,133.8 223.1,133.8 223.6,134.5 224.1,134.5 224.6,134.5 225.1,134.2 225.6,133.9 226.1,134.4 226.6,134 227.1,133.6 227.6,132.5 228.1,133 228.6,133.3 229.1,134.1 229.6,133.9 230.1,133.9 230.6,133.9 231.1,134 231.6,134 232.1,133.9 232.6,133.9 233.1,133.8 233.6,133.9 234.1,133.8 234.6,133.8 235.1,133.7 235.6,133.7 236.1,133 236.6,132.9 237.1,132.3 237.6,132.3 238.1,132.8 238.6,133.4 239.1,132.8 239.6,132.9 240.1,132.9 240.6,133.2 241.1,133.4 241.6,133.4 242.1,133.4 242.6,133 243.1,133.4 243.6,133.8 244.1,133.7 244.6,133.6 245.1,134.1 245.6,134.2 246.1,133.7 246.6,132.7 247.1,132.9 247.6,133.1 248.1,133.8 248.6,133.6 249.1,133.3 249.6,132.5 250.1,132 250.6,133.1 251.1,133.6 251.6,133.6 252.1,133.8 252.6,133.6 253.1,133.1 253.6,133.1 254.1,132.8 254.6,132.5 255.1,133 255.6,133.2 256.1,132.8 256.6,132.4 257.1,132.9 257.6,132.4 258.1,132.4 258.6,132.4 259.1,132.3 259.6,132.6 260.1,132.8 260.6,132.5 261.1,132.3 261.6,132.4 262.1,132.7 262.6,132.8 263.1,133.1 263.6,133.2 264.1,133.3 264.6,133.2 265.1,132.6 265.6,132.8 266.1,131.9 266.6,132.6 267.1,132.5 267.6,133.1 268.1,133.2 268.6,133.2 269.1,132.7 269.6,131.8 270.1,131 270.6,131.3 271.1,131.9 271.6,132.8 272.1,132.3 272.6,133.2 273.1,133.8 273.6,133.8 274.1,133.8 274.6,133.6 275.1,133.8 275.6,133.1 276.1,133.4 276.6,132.9 277.1,133.6 277.6,134.3 278.1,134 278.6,133.9 279.1,133.8 279.6,133.3 280.1,133.6 280.6,133.5 281.1,133.3 281.6,132.5 282.1,131.5 282.6,131.5 283.1,131 283.6,132 284.1,132.2 284.6,132.7 285.1,133.2 285.6,132.1 286.1,132.6 286.6,132.6 287.1,133.4 287.6,133.4 288.1,133.3 288.6,133.1 289.1,133.6 289.6,133.8 290.1,133.8 290.6,134 291.1,134.2 291.6,133.8 292.1,133.4 292.6,133.1 293.1,133.1 293.6,133.4 294.1,134.5 294.6,132.5 295.1,132.2 295.6,132.2 296.1,133.1 296.6,133.5 297.1,133.4 297.6,132.9 298.1,132.9 298.6,133 299.1,133.4 299.6,132.6 300.1,132.3 300.6,131.9 301.1,132.4 301.6,131.8 302.1,131.7 302.6,132.6 303.1,132.9 303.6,133.1 304.1,132.6 304.6,132.2 305.1,132.4 305.6,133 306.1,133.5 306.6,133.5 307.1,133 307.6,133.8 308.1,133.1 308.6,133.9 309.1,133.8 309.6,132.7 310.1,133.3 310.6,133.3 311.1,133.3 311.6,133.8 312.1,133.9 312.6,133.8 313.1,134 313.6,133.9 314.1,133.9 314.6,133.9 315.1,133.8 315.6,133.7 316.1,133.9 316.6,133.8 317.1,133.9 317.6,133.9 318.1,134 318.6,133.6 319.1,133.8 319.6,133.8 320.1,133.5 320.6,133.3 321.1,133.4 321.6,133.5 322.1,133.7 322.6,133.7 323.1,133.6 323.6,133.8 324.1,133.5 324.6,132.7 325.1,133.1 325.6,133.2 326.1,133 326.6,132.8 327.1,132.3 327.6,132.6 328.1,133.3 328.6,133.8 329.1,134.1 329.6,133.8 330.1,133.6 330.6,132.5 331.1,132.8 331.6,132.4 332.1,133.3 332.6,133.6 333.1,133.4 333.6,133.8 334.1,134 334.6,133.8 335.1,133.9 335.6,133.9 336.1,133.4 336.6,133.8 337.1,133.4 337.6,132.5 338.1,133.1 338.6,132 339.1,130.9 339.6,132.3 340.1,132.5 340.6,132.9 341.1,133.6 341.6,133.1 342.1,133.6 342.6,133.4 343.1,133.3 343.6,132.7 344.1,132.2 344.6,132.7 345.1,133.5 345.6,134.2 346.1,134.1 346.6,134.3 347.1,134.2 347.6,134.2 348.1,134.3 348.6,134.4 349.1,133.9 349.6,133.5 350.1,134.3 350.6,133.8 351.1,133.9 351.6,134.3 352.1,132.8 352.6,133.1 353.1,133.3 353.6,134.1 354.1,134.1 354.6,134.4 355.1,134.1 355.6,134.1 356.1,134.5 356.6,133.9 357.1,134.4 357.6,134.1 358.1,134.1 358.6,133.8 359.1,134.2 359.6,134 360.1,134.1 360.6,132.8 361.1,133.2 361.6,131.8 362.1,130.5 362.6,129.5 363.1,130.6 363.6,131.1 364.1,132 364.6,133 365.1,133.3 365.6,133.5 366.1,133.7 366.6,133.6 367.1,133.4 367.6,133.4 368.1,133.4 368.6,133.7 369.1,133.4 369.6,133.2 370.1,133.4 370.6,133.3 371.1,133.3 371.6,133.6 372.1,133.4 372.6,133.7 373.1,132.7 373.6,132.6 374.1,132.2 374.6,133.7 375.1,133.9 375.6,132.8 376.1,133.8 376.6,133.3 377.1,131.6 377.6,132.1 378.1,132.8 378.6,133.4 379.1,133.8 379.6,134.2 380.1,133.8 380.6,134.4 381.1,134.4 381.6,134.2 382.1,133.3 382.6,133.4 383.1,133.1 383.6,134.2 384.1,134.2 384.6,134.3 385.1,133.6 385.6,133.4 386.1,133.5 386.6,133.7 387.1,134.1 387.6,133.7 388.1,133.3 388.6,133.4 389.1,133.6 389.6,133.5 390.1,132.6 390.6,132 391.1,131.9 391.6,131.8 392.1,131.4 392.6,131.9 393.1,132.5 393.6,132.9 394.1,132.3 394.6,131.7 395.1,131.4 395.6,131.8 396.1,132.6 396.6,133.1 397.1,133.5 397.6,133.8 398.1,133.2 398.6,132.7 399.1,133.3 399.6,133.6 400.1,133.2 400.6,132.8 401.1,132.4 401.6,132.7 402.1,132.9 402.6,133.2 403.1,133.6 403.6,133.5 404.1,133.7 404.6,133.5 405.1,133.4 405.6,133.7 406.1,133.7 406.6,133.6 407.1,133.8 407.6,133.9 408.1,134 408.6,133.1 409.1,133.6 409.6,133.5 410.1,134.3 410.6,134 411.1,134.3 411.6,134.6 412.1,134.4 412.6,134.2 413.1,134.2 413.6,134.5 414.1,134.1 414.6,133.9 415.1,134 415.6,134 416.1,134.1 416.6,134 417.1,133.9 417.6,133.4 418.1,133.2 418.6,132.9 419.1,132.5 419.6,132.8 420.1,133.1 420.6,133.4 421.1,133.3 421.6,133.3 422.1,133.1 422.6,133.1 423.1,133.3 423.6,133.1 424.1,133.3 424.6,133.3 425.1,133 425.6,133.1 426.1,132.7 426.6,132.1 427.1,131.8 427.6,132.6 428.1,133.8 428.6,133.7 429.1,133.5 429.6,133.6 430.1,134.1 430.6,134.4 431.1,134 431.6,134.1 432.1,134.2 432.6,133.9 433.1,133.9 433.6,134.4 434.1,134.8 434.6,134.8 435.1,134.7 435.6,134.8 436.1,134.4 436.6,134.2 437.1,134.7 437.6,134.7 438.1,134.3 438.6,134.6 439.1,134.5 439.6,134.2 440.1,134.6 440.6,134.2 441.1,134.3 441.6,133.8 442.1,134.3 442.6,134.4 443.1,133.3 443.6,133.5 444.1,134.3 444.6,133.9 445.1,132.7 445.6,133.3 446.1,132.9 446.6,132.1 447.1,131.5 447.6,132.3 448.1,133.3 448.6,133.5 449.1,133.6 449.6,133.5 450.1,133.9 450.6,133.9 451.1,133.7 451.6,133.4 452.1,133.4 452.6,133.7 453.1,133.8 453.6,133.6 454.1,133.4 454.6,133.5 455.1,114.4 455.6,113.2 456.1,112.6 456.6,112.5 457.1,113 457.6,114.1 458.1,133.3 458.6,133.3 459.1,132.6 459.6,131.3 460.1,130.6 460.6,131.8 461.1,132.1 461.6,133.1 462.1,133.5 462.6,133.4 463.1,133.6 463.6,133.4 464.1,133 464.6,132.5 465.1,133 465.6,133.2 466.1,133.3 466.6,133 467.1,131.7 467.6,132 468.1,133.3 468.6,133.4 469.1,133.4 469.6,133.4 470.1,132.9 470.6,132.9 471.1,133.7 471.6,133.6 472.1,133.8 472.6,133.3 473.1,133.6 473.6,133.6 474.1,133.5 474.6,133.1 475.1,132.6 475.6,133.2 476.1,133.2 476.6,133 477.1,133.7 477.6,133.7 478.1,133.7 478.6,133.5 479.1,133.5 479.6,133.6 480.1,133.8 480.6,133.8 481.1,133.5 481.6,133.8 482.1,133.4 482.6,133 483.1,132.1 483.6,131.6 484.1,131.6 484.6,132.8 485.1,134 485.6,134.3 486.1,134.5 486.6,134.3 487.1,134.2 487.6,133 488.1,132.8 488.6,133.2 489.1,133.6 489.6,133.9 490.1,134.1 490.6,134.5 491.1,134.2 491.6,134.4 492.1,134.2 492.6,134 493.1,133.8 493.6,134.3 494.1,134.3 494.6,134.2 495.1,134.1 495.6,133.8 496.1,134.1 496.6,134 497.1,134.1 497.6,134.1 498.1,134 498.6,134.1 499.1,133.8 499.6,133.7 500.1,133.4 500.6,133.8 501.1,133.7 501.6,133.7 502.1,133.8 502.6,132.8 503.1,132.9 503.6,133.5 504.1,133.5 504.6,133.5 505.1,133.6 505.6,133.5 506.1,133.4 506.6,133.4 507.1,133.1 507.6,132.8 508.1,132.7 508.6,132.5 509.1,132.5 509.6,132 510.1,131.4 510.6,132 511.1,132.6 511.6,132.7 512.1,133.1 512.6,131.9 513.1,132.2 513.6,132.7 514.1,133.3 514.6,133.6 515.1,132.7 515.6,132.9 516.1,133.8 516.6,133.8 517.1,133.9 517.6,134 518.1,133.8 518.6,133.5 519.1,133.2 519.6,132.9 520.1,133.6 520.6,134.1 521.1,134 521.6,134.1 522.1,134.1 522.6,134.3 523.1,134.2 523.6,133.9 524.1,133.8 524.6,133.7 525.1,133.1 525.6,132.9 526.1,134 526.6,134.2 527.1,133.9 527.6,134.1 528.1,134 528.6,134.1 529.1,134 529.6,134.2 530.1,134.1 530.6,134.2 531.1,134.1 531.6,133.8 532.1,133.1 532.6,134 533.1,134.2 533.6,133.4 534.1,133.2 534.6,132.8 535.1,132.2 535.6,131.7 536.1,133.4 536.6,133.6 537.1,133.4 537.6,134.1 538.1,134.3 538.6,134.6 539.1,134.5 539.6,134.1 540.1,134.5 540.6,134.6 541.1,134.4 541.6,134.7 542.1,134.5 542.6,134.7 543.1,134.5 543.6,134.5 544.1,134.4 544.6,134.3 545.1,134.4 545.6,134.1 546.1,133.9 546.6,133.7 547.1,134 547.6,133.6 548.1,133.1 548.6,133.3 549.1,133.5 549.6,133.9 550.1,134 550.6,133.9 551.1,133.7 551.6,134 552.1,133.9 552.6,134 553.1,134 553.6,134.1 554.1,134.2 554.6,134.3 555.1,134.2 555.6,133.9 556.1,133.5 556.6,133.6 557.1,133.2 557.6,133.8 558.1,133.7 558.6,133.7 559.1,133.6 559.6,133.5 560.1,132.4 560.6,131.6 561.1,132.3 561.6,133 562.1,133.4 562.6,133.7 563.1,133.3 563.6,132.9 564.1,133.2 564.6,134 565.1,134.1 565.6,133.8 566.1,134 566.6,133.7 567.1,134.4 567.6,134.5 568.1,134.2 568.6,134.8 569.1,134.8 569.6,134.6 570.1,134.6 570.6,134.6 571.1,134.7 571.6,134.7 572.1,134.8 572.6,134.7 573.1,134.3 573.6,133.7 574.1,133.7 574.6,133.8 575.1,133.2 575.6,133.7 576.1,133.6 576.6,133.9 577.1,133.7 577.6,133.4 578.1,133.8 578.6,133.8 579.1,133.5 579.6,133.3 580.1,133.9 580.6,134.3 581.1,133.8 581.6,133.2 582.1,134.2 582.6,134.1 583.1,134.1 583.6,134.1 584.1,134.3 584.6,134.3 585.1,134.1 585.6,133.9 586.1,133.1 586.6,133 587.1,133.1 587.6,133.5 588.1,133.5 588.6,133.5 589.1,133.6 589.6,133.9 590.1,134 590.6,133.9 591.1,133.9 591.6,133.9 592.1,134.2 592.6,134.4 593.1,134.5 593.6,134.6 594.1,134.8 594.6,134.7 595.1,134.8 595.6,134.5 596.1,134.4 596.6,133.8 597.1,133.9 597.6,133.8 598.1,134.8 598.6,134.6 599.1,134.2 599.6,134.1 600.1,134.2 600.6,134.1 601.1,133.9 601.6,133.8 602.1,133.7 602.6,134 603.1,134 603.6,133.5 604.1,133 604.6,132.8 605.1,131.8 605.6,131.6 606.1,132.5 606.6,132.9 607.1,133.4 607.6,133.5 608.1,133.2 608.6,133.1 609.1,133.5 609.6,133.6 610.1,133.3 610.6,133.2 611.1,132.6 611.6,133.7 612.1,133.7 612.6,133.9 613.1,132.9 613.6,133.7 614.1,133.3 614.6,133.9 615.1,134.2 615.6,134.2 616.1,134 616.6,134 617.1,134.3 617.6,134.1 618.1,133.8 618.6,133.3 619.1,133.5 619.6,132.9 620.1,133.5 620.6,133.7 621.1,133.7 621.6,133.4 622.1,134.1 622.6,134 623.1,134 623.6,133.9 624.1,133.9 624.6,132.9 625.1,132.5 625.6,132.5 626.1,133.6 626.6,133.3 627.1,133.5 627.6,133.2 628.1,133.3 628.6,132.9 629.1,132.9 629.6,132.7 630.1,132.3 630.6,132.3 631.1,131.8 631.6,132.1 632.1,131.4 632.6,131.4 633.1,131.3 633.6,131.2 634.1,130.8 634.6,130 635.1,130.1 635.6,130.5 636.1,130.2 636.6,130 637.1,129.4 637.6,129.5 638.1,129.5 638.6,129.6 639.1,129.3 639.6,129.3 640.1,129.5 640.6,129.2 641.1,129.1 641.6,129.4 642.1,129.8 642.6,130.4 643.1,131 643.6,131.5 644.1,132.1 644.6,132.9 645.1,133.4 645.6,133.9 646.1,134.3 646.6,134.9 647.1,135.5 647.6,136 648.1,136.3 648.6,136.7 649.1,137.2 649.6,137.7 650.1,138.2 650.6,138.6 651.1,139.1 651.1,139.9 650.6,140.4 650.1,140.8 649.6,141.3 649.1,141.7 648.6,142.1 648.1,142.5 647.6,142.9 647.1,143.3 646.6,143.8 646.1,144 645.6,144.4 645.1,144.7 644.6,145.2 644.1,145.6 643.6,145.8 643.1,146.2 642.6,147 642.1,147.1 641.6,147.7 641.1,148.4 640.6,149.2 640.1,149 639.6,149.4 639.1,148.9 638.6,148.8 638.1,148.7 637.6,148.6 637.1,148.6 636.6,148.8 636.1,149.5 635.6,149.2 635.1,148.4 634.6,148.1 634.1,148 633.6,147.9 633.1,147.5 632.6,147.6 632.1,147.4 631.6,147.1 631.1,146.7 630.6,146.7 630.1,146.7 629.6,146.2 629.1,146.1 628.6,146.3 628.1,146.3 627.6,146 627.1,145.6 626.6,145.4 626.1,145.4 625.6,145.5 625.1,146 624.6,146.1 624.1,145.8 623.6,145.6 623.1,145.2 622.6,145.3 622.1,145.1 621.6,145.2 621.1,145.2 620.6,145.1 620.1,145.1 619.6,145.2 619.1,145.4 618.6,145 618.1,145.9 617.6,145 617.1,145.4 616.6,145.2 616.1,144.9 615.6,144.8 615.1,144.7 614.6,144.7 614.1,145 613.6,145.1 613.1,144.8 612.6,144.9 612.1,145 611.6,144.9 611.1,145.3 610.6,145.5 610.1,145.3 609.6,146 609.1,145.9 608.6,146.1 608.1,146.2 607.6,146.1 607.1,146.1 606.6,146.5 606.1,146.2 605.6,146.7 605.1,146.8 604.6,146.1 604.1,146.7 603.6,145.7 603.1,145.7 602.6,145.6 602.1,145.8 601.6,146.3 601.1,146 600.6,145.5 600.1,145.6 599.6,145.7 599.1,146.3 598.6,145.4 598.1,145.3 597.6,145.4 597.1,145.2 596.6,145.3 596.1,145.2 595.6,145.1 595.1,146.4 594.6,145.7 594.1,145.3 593.6,145.5 593.1,145.1 592.6,145.3 592.1,145.6 591.6,145.5 591.1,145.4 590.6,145.3 590.1,145.4 589.6,145.6 589.1,145.8 588.6,145.6 588.1,145.6 587.6,145.9 587.1,146.2 586.6,146.1 586.1,146.6 585.6,145.6 585.1,145.2 584.6,145.1 584.1,145 583.6,145.2 583.1,145.1 582.6,144.6 582.1,144.3 581.6,144.3 581.1,144.5 580.6,144.3 580.1,144.6 579.6,144.4 579.1,144.3 578.6,144.5 578.1,145.1 577.6,145.5 577.1,145.1 576.6,145.4 576.1,146.2 575.6,145.5 575.1,144.9 574.6,145.7 574.1,145.8 573.6,146.5 573.1,146.1 572.6,145.1 572.1,145.5 571.6,145.5 571.1,145 570.6,144.8 570.1,144.9 569.6,144.8 569.1,145.1 568.6,144.6 568.1,144.7 567.6,144.5 567.1,144.5 566.6,144.6 566.1,144.5 565.6,144.5 565.1,144.7 564.6,144.7 564.1,145.2 563.6,145 563.1,144.9 562.6,145.4 562.1,145.3 561.6,145.6 561.1,145.9 560.6,145.7 560.1,145.3 559.6,144.8 559.1,144.9 558.6,145 558.1,144.8 557.6,144.9 557.1,144.9 556.6,145 556.1,144.9 555.6,145.1 555.1,145 554.6,144.8 554.1,144.8 553.6,145 553.1,145 552.6,144.8 552.1,144.7 551.6,145.1 551.1,144.9 550.6,144.8 550.1,144.8 549.6,144.6 549.1,144.9 548.6,144.8 548.1,144.8 547.6,145.3 547.1,145.5 546.6,145.1 546.1,145.8 545.6,145.3 545.1,145.4 544.6,145.8 544.1,146.5 543.6,147.1 543.1,147.1 542.6,146.3 542.1,145.8 541.6,145.8 541.1,145.9 540.6,145.8 540.1,146 539.6,145.8 539.1,145.9 538.6,145.8 538.1,145.8 537.6,146.6 537.1,147.1 536.6,146.8 536.1,147.1 535.6,147.1 535.1,146.7 534.6,146.2 534.1,145.8 533.6,145.1 533.1,145.1 532.6,144.7 532.1,144.6 531.6,144.4 531.1,144.7 530.6,144.3 530.1,144.4 529.6,144.2 529.1,144.3 528.6,144.6 528.1,144.5 527.6,144.5 527.1,144.6 526.6,145 526.1,144.7 525.6,144.8 525.1,145.2 524.6,145.1 524.1,145.1 523.6,144.9 523.1,145.1 522.6,144.9 522.1,145.4 521.6,145.4 521.1,145 520.6,145.6 520.1,144.9 519.6,145 519.1,145.1 518.6,145.3 518.1,146 517.6,145.7 517.1,145.6 516.6,146.4 516.1,146.9 515.6,145.8 515.1,145.2 514.6,146.1 514.1,145.7 513.6,146.8 513.1,147 512.6,146.4 512.1,145.6 511.6,146.3 511.1,146.6 510.6,146.9 510.1,145.9 509.6,145.8 509.1,145.5 508.6,145.6 508.1,144.8 507.6,144.8 507.1,145 506.6,145.7 506.1,146.9 505.6,147.5 505.1,146.4 504.6,145.1 504.1,144.7 503.6,144.8 503.1,145 502.6,144.8 502.1,144.9 501.6,144.9 501.1,145.3 500.6,145.1 500.1,145.3 499.6,145.2 499.1,146.4 498.6,145.6 498.1,145.8 497.6,146 497.1,145.8 496.6,145.6 496.1,145.5 495.6,145.8 495.1,145.5 494.6,145.7 494.1,145.6 493.6,145.4 493.1,145.2 492.6,145.2 492.1,145.1 491.6,145.1 491.1,145 490.6,145.3 490.1,146.1 489.6,147.3 489.1,147.4 488.6,146.9 488.1,145.8 487.6,146.8 487.1,145.9 486.6,145.5 486.1,145.5 485.6,145.8 485.1,145.9 484.6,146.3 484.1,147.4 483.6,146.8 483.1,146.6 482.6,147 482.1,147.1 481.6,146.3 481.1,146.6 480.6,146.3 480.1,146 479.6,145.1 479.1,145.2 478.6,145.1 478.1,145.1 477.6,144.8 477.1,145.1 476.6,144.9 476.1,144.9 475.6,144.7 475.1,144.5 474.6,144.6 474.1,144.7 473.6,144.6 473.1,144.6 472.6,144.3 472.1,144.5 471.6,144.6 471.1,145.3 470.6,145.5 470.1,145.6 469.6,145.4 469.1,145.4 468.6,145.3 468.1,145.1 467.6,145.8 467.1,146.2 466.6,145.6 466.1,145.5 465.6,145.5 465.1,145.6 464.6,146.3 464.1,145.7 463.6,146 463.1,147.1 462.6,148.3 462.1,149.6 461.6,150.4 461.1,152.1 460.6,154.4 460.1,156.6 459.6,159.4 459.1,160.2 458.6,157.7 458.1,154.5 457.6,152.6 457.1,151.6 456.6,150.3 456.1,149.3 455.6,147 455.1,145.5 454.6,145.2 454.1,145.1 453.6,145.8 453.1,145.2 452.6,144.5 452.1,144.7 451.6,144.6 451.1,144.7 450.6,145.5 450.1,146.1 449.6,146.4 449.1,145.1 448.6,145.9 448.1,146.6 447.6,146.2 447.1,146.8 446.6,146.9 446.1,146.3 445.6,147.1 445.1,146.6 444.6,146.1 444.1,145.2 443.6,145.5 443.1,145.2 442.6,145.4 442.1,145.2 441.6,146 441.1,146.5 440.6,146.5 440.1,146 439.6,144.9 439.1,145.2 438.6,145.5 438.1,145.4 437.6,144.9 437.1,144.6 436.6,144.5 436.1,144.5 435.6,144.6 435.1,144.5 434.6,144.6 434.1,144.4 433.6,144.6 433.1,144.9 432.6,145 432.1,144.6 431.6,144.4 431.1,144.5 430.6,144.5 430.1,144.8 429.6,144.8 429.1,144.4 428.6,144.5 428.1,144.4 427.6,145.4 427.1,146.1 426.6,145.6 426.1,145 425.6,144.6 425.1,144.6 424.6,145.1 424.1,145.8 423.6,145.8 423.1,146.2 422.6,145.6 422.1,145.8 421.6,145.5 421.1,145.4 420.6,146.1 420.1,146.2 419.6,146.2 419.1,146.5 418.6,145.7 418.1,145.7 417.6,145.4 417.1,145.3 416.6,145.3 416.1,145.4 415.6,145.3 415.1,145.2 414.6,145.2 414.1,145.1 413.6,145 413.1,145.2 412.6,145.1 412.1,145.3 411.6,145 411.1,145.3 410.6,145.2 410.1,144.9 409.6,145.1 409.1,145.6 408.6,145.5 408.1,144.9 407.6,144.9 407.1,145.1 406.6,145 406.1,145 405.6,145.1 405.1,145.3 404.6,145.2 404.1,145.2 403.6,145.4 403.1,145 402.6,145.2 402.1,145.7 401.6,146.1 401.1,146 400.6,145.8 400.1,145.6 399.6,145.5 399.1,145.2 398.6,145.2 398.1,145.3 397.6,145.2 397.1,145.5 396.6,146 396.1,146.7 395.6,147.7 395.1,148 394.6,147.9 394.1,147.6 393.6,147.5 393.1,146.9 392.6,147.3 392.1,147 391.6,147.5 391.1,146.6 390.6,146.3 390.1,146.1 389.6,145.7 389.1,146.1 388.6,145.6 388.1,145.6 387.6,145.2 387.1,145.1 386.6,145.1 386.1,145.1 385.6,144.9 385.1,145.2 384.6,146.2 384.1,144.9 383.6,144.9 383.1,145.4 382.6,145.5 382.1,145.6 381.6,144.7 381.1,144.7 380.6,144.8 380.1,145.4 379.6,144.4 379.1,145.4 378.6,145.1 378.1,145.8 377.6,146.1 377.1,145.3 376.6,144.6 376.1,144.4 375.6,144.4 375.1,144.5 374.6,145.1 374.1,144.9 373.6,144.7 373.1,144.9 372.6,144.7 372.1,145.1 371.6,145.5 371.1,145.3 370.6,144.7 370.1,144.7 369.6,145.1 369.1,145 368.6,145.3 368.1,145.6 367.6,145.5 367.1,144.7 366.6,145.1 366.1,145.1 365.6,145 365.1,145 364.6,145.4 364.1,146.1 363.6,146.9 363.1,147.7 362.6,148.2 362.1,147.3 361.6,146.3 361.1,145.8 360.6,145 360.1,145 359.6,145.3 359.1,144.9 358.6,145.6 358.1,145.6 357.6,145.7 357.1,145 356.6,144.8 356.1,144.4 355.6,144.7 355.1,145.9 354.6,144.3 354.1,144.6 353.6,144.9 353.1,144.1 352.6,144.6 352.1,144.2 351.6,144.2 351.1,144.6 350.6,145.6 350.1,145.4 349.6,145.5 349.1,144.7 348.6,145 348.1,144.8 347.6,144.7 347.1,144.8 346.6,145 346.1,145.3 345.6,145.4 345.1,145.4 344.6,146.4 344.1,147 343.6,146.2 343.1,145.5 342.6,145.2 342.1,145.2 341.6,145.5 341.1,145.4 340.6,145.8 340.1,146.5 339.6,147.3 339.1,147.8 338.6,146.5 338.1,145.4 337.6,145.5 337.1,145.3 336.6,145.1 336.1,145.3 335.6,145.2 335.1,144.8 334.6,144.7 334.1,144.6 333.6,144.6 333.1,144.6 332.6,144.5 332.1,144.5 331.6,144.7 331.1,144.5 330.6,144.6 330.1,144.6 329.6,144.6 329.1,144.9 328.6,145.4 328.1,145.8 327.6,146.2 327.1,146.6 326.6,146.6 326.1,146.6 325.6,145.8 325.1,144.6 324.6,144.7 324.1,145.1 323.6,144.6 323.1,144.9 322.6,144.9 322.1,145 321.6,144.8 321.1,144.8 320.6,144.9 320.1,144.9 319.6,144.9 319.1,144.9 318.6,144.8 318.1,144.8 317.6,145 317.1,145.3 316.6,145 316.1,144.6 315.6,144.6 315.1,145.4 314.6,145.1 314.1,144.2 313.6,144.1 313.1,144 312.6,144 312.1,144.3 311.6,144.1 311.1,143.8 310.6,143.9 310.1,144 309.6,143.9 309.1,144 308.6,143.8 308.1,144.3 307.6,144.2 307.1,144.3 306.6,144.6 306.1,144.9 305.6,144.7 305.1,145.7 304.6,146.7 304.1,146.1 303.6,146 303.1,146.2 302.6,146.2 302.1,147 301.6,147 301.1,146.6 300.6,145.8 300.1,145.6 299.6,145.5 299.1,145.3 298.6,145.8 298.1,146.2 297.6,146.8 297.1,146.6 296.6,146.5 296.1,147.1 295.6,147.8 295.1,148.1 294.6,146.8 294.1,145.7 293.6,146.5 293.1,147 292.6,147.3 292.1,146.4 291.6,145.9 291.1,145.4 290.6,145 290.1,145.3 289.6,145.6 289.1,145.9 288.6,145.8 288.1,145.2 287.6,145.2 287.1,145.1 286.6,145.1 286.1,145.1 285.6,145 285.1,145 284.6,145.4 284.1,145.9 283.6,146.4 283.1,146.2 282.6,145.8 282.1,145.9 281.6,145.8 281.1,146.1 280.6,145.9 280.1,145.7 279.6,145.4 279.1,145.2 278.6,145.6 278.1,145.6 277.6,146.4 277.1,146.2 276.6,146 276.1,145.3 275.6,145.5 275.1,145.5 274.6,145.2 274.1,145.9 273.6,145.8 273.1,145.8 272.6,145.5 272.1,145.4 271.6,145.4 271.1,145.6 270.6,146.5 270.1,146.7 269.6,145.7 269.1,145 268.6,145.2 268.1,144.9 267.6,144.9 267.1,145 266.6,145.8 266.1,145 265.6,145.4 265.1,145.3 264.6,145 264.1,145 263.6,145.3 263.1,145.7 262.6,145.9 262.1,146.8 261.6,147 261.1,146.8 260.6,146.7 260.1,147.2 259.6,146 259.1,146.2 258.6,146 258.1,145.9 257.6,146.4 257.1,147.1 256.6,146 256.1,146 255.6,145.9 255.1,146.1 254.6,146.3 254.1,146.5 253.6,146.3 253.1,146.5 252.6,145.9 252.1,145.7 251.6,145.6 251.1,146.5 250.6,147 250.1,147.9 249.6,147.7 249.1,147.7 248.6,146.9 248.1,146.6 247.6,146.5 247.1,146.3 246.6,146 246.1,146.1 245.6,146.2 245.1,146.1 244.6,146.6 244.1,146 243.6,145.9 243.1,146.5 242.6,146.5 242.1,147.1 241.6,145.7 241.1,145.5 240.6,145.8 240.1,145.9 239.6,145.4 239.1,145.4 238.6,146.2 238.1,146.7 237.6,146.6 237.1,146.7 236.6,146.4 236.1,146.1 235.6,145.7 235.1,146.2 234.6,146.1 234.1,146.2 233.6,145.8 233.1,146 232.6,145.9 232.1,145.4 231.6,145.3 231.1,145.3 230.6,145.5 230.1,145.4 229.6,145.7 229.1,145.5 228.6,145.2 228.1,145.2 227.6,145.1 227.1,144.9 226.6,145 226.1,145 225.6,144.9 225.1,144.9 224.6,144.8 224.1,144.7 223.6,144.7 223.1,144.8 222.6,144.8 222.1,145.1 221.6,145 221.1,145 220.6,145.1 220.1,145.1 219.6,145.2 219.1,145.1 218.6,145.3 218.1,145.5 217.6,146.4 217.1,146.4 216.6,146.4 216.1,145.6 215.6,145.4 215.1,145.2 214.6,145.1 214.1,145.1 213.6,145 213.1,145.1 212.6,145 212.1,145.1 211.6,146.2 211.1,145 210.6,145.2 210.1,145.1 209.6,145.2 209.1,145.6 208.6,145.9 208.1,146.1 207.6,145.7 207.1,145.3 206.6,145.5 206.1,145.6 205.6,145.4 205.1,145.8 204.6,145.7 204.1,145.5 203.6,145.4 203.1,145.6 202.6,145.8 202.1,147 201.6,146.7 201.1,146.4 200.6,145.3 200.1,145.5 199.6,145.6 199.1,145.4 198.6,146.2 198.1,146.4 197.6,145.6 197.1,145.8 196.6,146.5 196.1,146.6 195.6,145.7 195.1,145.6 194.6,145.6 194.1,145.9 193.6,145.6 193.1,146.5 192.6,146.6 192.1,146.6 191.6,145.6 191.1,145.7 190.6,146.6 190.1,146.5 189.6,146.5 189.1,147.1 188.6,146.9 188.1,146.8 187.6,146.2 187.1,145.4 186.6,145.4 186.1,145.3 185.6,145.6 185.1,145.5 184.6,145.2 184.1,145.4 183.6,145.5 183.1,145.3 182.6,145 182.1,145.5 181.6,146.3 181.1,146.7 180.6,146.8 180.1,146.6 179.6,145.8 179.1,145.7 178.6,145.9 178.1,145.5 177.6,145.4 177.1,145.6 176.6,146.4 176.1,146.7 175.6,146.4 175.1,147.3 174.6,147.1 174.1,145.6 173.6,145.8 173.1,145.3 172.6,145.3 172.1,145.5 171.6,145.9 171.1,146.1 170.6,146.2 170.1,146.2 169.6,146.2 169.1,145.9 168.6,145.8 168.1,145.8 167.6,145.8 167.1,145.8 166.6,145.8 166.1,145.8 165.6,145.6 165.1,145.4 164.6,145.8 164.1,145.5 163.6,145.4 163.1,145.2 162.6,146.1 162.1,145.7 161.6,145.7 161.1,147.6 160.6,147.2 160.1,145.4 159.6,145 159.1,144.8 158.6,145.4 158.1,145.1 157.6,144.4 157.1,144.5 156.6,145.7 156.1,144.3 155.6,144.7 155.1,144.6 154.6,145 154.1,144.8 153.6,145.2 153.1,144.8 152.6,144.8 152.1,145 151.6,145 151.1,145.3 150.6,145.3 150.1,145.3 149.6,145.6 149.1,145.5 148.6,145.4 148.1,145.5 147.6,145.6 147.1,145.7 146.6,145.5 146.1,146.2 145.6,145.9 145.1,145.8 144.6,146 144.1,145.9 143.6,145.6 143.1,145.5 142.6,145.6 142.1,145.6 141.6,145.9 141.1,146.1 140.6,145.8 140.1,145.9 139.6,145.5 139.1,146.5 138.6,146.8 138.1,145.6 137.6,145.3 137.1,145.5 136.6,145.6 136.1,145.2 135.6,145.1 135.1,145.2 134.6,144.9 134.1,145.4 133.6,145.2 133.1,145.6 132.6,145 132.1,145.5 131.6,145.5 131.1,146.7 130.6,149.1 130.1,148.6 129.6,147.1 129.1,146 128.6,145.5 128.1,145.7 127.6,145.7 127.1,145.8 126.6,147.1 126.1,146.8 125.6,147.7 125.1,146.7 124.6,145.9 124.1,145.7 123.6,145.6 123.1,145.8 122.6,145.8 122.1,145.4 121.6,145.3 121.1,145 120.6,144.9 120.1,145.2 119.6,145.3 119.1,144.9 118.6,144.9 118.1,144.9 117.6,144.4 117.1,144.3 116.6,144.3 116.1,144.4 115.6,144.8 115.1,145.5 114.6,146.3 114.1,146.3 113.6,146.6 113.1,145 112.6,144.8 112.1,146.2 111.6,146.2 111.1,146.6 110.6,145.9 110.1,146.4 109.6,146.4 109.1,146.4 108.6,146.5 108.1,147 107.6,147.4 107.1,147.8 106.6,148 106.1,149.3 105.6,150.4 105.1,151.2 104.6,150.5 104.1,151.1 103.6,151.6 103.1,151.3 102.6,149.6 102.1,147.4 101.6,145.9 101.1,145.4 100.6,145.4 100.1,146.2 99.6,146.8 99.1,146.6 98.6,145.6 98.1,145.4 97.6,145.6 97.1,145.9 96.6,145.5 96.1,145.5 95.6,145.5 95.1,144.9 94.6,145.1 94.1,145.3 93.6,145.5 93.1,145.4 92.6,145 92.1,144.8 91.6,145.1 91.1,144.8 90.6,144.9 90.1,145.4 89.6,145.4 89.1,145 88.6,144.9 88.1,145.1 87.6,144.9 87.1,145 86.6,145 86.1,145Z"/><path d="M86.1,175.1 86.6,175.3 87.1,175.2 87.6,175.2 88.1,175.3 88.6,175.3 89.1,175 89.6,175.3 90.1,175.1 90.6,175 91.1,175.1 91.6,175.3 92.1,175.1 92.6,175.1 93.1,175.2 93.6,175.3 94.1,175.1 94.6,174.6 95.1,173.8 95.6,173.5 96.1,173.7 96.6,174.1 97.1,174.7 97.6,174.9 98.1,175.1 98.6,175.5 99.1,175.3 99.6,175.2 100.1,175 100.6,175.2 101.1,175.5 101.6,175.4 102.1,175.4 102.6,175.3 103.1,174.9 103.6,174.9 104.1,175 104.6,175.1 105.1,175.3 105.6,174.9 106.1,175.1 106.6,175.1 107.1,174.6 107.6,174.6 108.1,175.1 108.6,175 109.1,174.9 109.6,175.1 110.1,175 110.6,175 111.1,175.1 111.6,175.1 112.1,175 112.6,174.8 113.1,175 113.6,175.1 114.1,174.8 114.6,174.8 115.1,174.9 115.6,174.4 116.1,174.4 116.6,174.8 117.1,175 117.6,174.5 118.1,174.7 118.6,174.2 119.1,174.3 119.6,173.8 120.1,172.6 120.6,173.6 121.1,173.9 121.6,174 122.1,174.5 122.6,174.7 123.1,174.8 123.6,174.6 124.1,174.6 124.6,174.8 125.1,175 125.6,174.3 126.1,174.9 126.6,175 127.1,175.1 127.6,175 128.1,175.1 128.6,175.1 129.1,174.9 129.6,175.2 130.1,175 130.6,175 131.1,175.1 131.6,175.2 132.1,175.1 132.6,175 133.1,174.2 133.6,173.6 134.1,173.5 134.6,174.5 135.1,174.6 135.6,173.7 136.1,173.7 136.6,174.2 137.1,174.4 137.6,174.5 138.1,174.8 138.6,174.8 139.1,175 139.6,175.2 140.1,175.3 140.6,175.3 141.1,175.3 141.6,175.2 142.1,175.2 142.6,175.4 143.1,175 143.6,174.8 144.1,175.1 144.6,175.2 145.1,175.2 145.6,174.9 146.1,175.1 146.6,175.1 147.1,174.9 147.6,174.4 148.1,174.1 148.6,174.1 149.1,174.2 149.6,174.6 150.1,174.5 150.6,174 151.1,174.9 151.6,175.1 152.1,175.2 152.6,175.1 153.1,175 153.6,175.2 154.1,174.8 154.6,174.9 155.1,175.2 155.6,175.1 156.1,175 156.6,175 157.1,174.5 157.6,174.5 158.1,174.8 158.6,174.9 159.1,175 159.6,174.7 160.1,174.9 160.6,175 161.1,174.9 161.6,174.9 162.1,174.6 162.6,174.6 163.1,174.2 163.6,174.4 164.1,174.4 164.6,174.8 165.1,175 165.6,175.2 166.1,175 166.6,175 167.1,175.3 167.6,175.3 168.1,175.4 168.6,175.3 169.1,175.1 169.6,175.1 170.1,175.3 170.6,175.1 171.1,175.3 171.6,174.4 172.1,174.4 172.6,175.2 173.1,175 173.6,175.2 174.1,174.6 174.6,173.9 175.1,174.1 175.6,174.7 176.1,174.8 176.6,174.8 177.1,174.8 177.6,174.7 178.1,174.9 178.6,175.1 179.1,175.1 179.6,175.3 180.1,175.2 180.6,175.3 181.1,175.2 181.6,175.4 182.1,175.3 182.6,175.2 183.1,174.6 183.6,174.7 184.1,174.9 184.6,175.1 185.1,175.1 185.6,175.1 186.1,175.1 186.6,175 187.1,175.1 187.6,175.1 188.1,175.2 188.6,175.2 189.1,174.9 189.6,174.6 190.1,174.9 190.6,175.1 191.1,175.3 191.6,174.6 192.1,174.6 192.6,175.3 193.1,175.2 193.6,175.2 194.1,175.3 194.6,175.2 195.1,175.3 195.6,175.1 196.1,175 196.6,174.7 197.1,174 197.6,174.2 198.1,174.1 198.6,174.7 199.1,175.1 199.6,174.9 200.1,175.2 200.6,174.8 201.1,174.8 201.6,175 202.1,175.2 202.6,175 203.1,175.1 203.6,175 204.1,175.1 204.6,175.2 205.1,175.2 205.6,174.4 206.1,174.3 206.6,174.7 207.1,175.2 207.6,175.2 208.1,175.2 208.6,174.9 209.1,174.9 209.6,175.2 210.1,175 210.6,175.1 211.1,174.8 211.6,174.3 212.1,174.3 212.6,174.4 213.1,174.7 213.6,175 214.1,175 214.6,175 215.1,174.8 215.6,174.9 216.1,174.9 216.6,175 217.1,174.7 217.6,174.9 218.1,175.1 218.6,175.1 219.1,175 219.6,174.3 220.1,174.4 220.6,175.1 221.1,175.1 221.6,174.7 222.1,174.9 222.6,175 223.1,175 223.6,174.8 224.1,174.5 224.6,175 225.1,175.1 225.6,175 226.1,175.3 226.6,175.2 227.1,174.7 227.6,174.8 228.1,175 228.6,175.4 229.1,175.4 229.6,175.4 230.1,175.2 230.6,175.4 231.1,175.5 231.6,175.5 232.1,175.5 232.6,175.4 233.1,175.3 233.6,175.3 234.1,174.9 234.6,174.8 235.1,175.3 235.6,175.4 236.1,175.3 236.6,174.9 237.1,175.2 237.6,175.2 238.1,175 238.6,174.7 239.1,174.5 239.6,174.7 240.1,174.6 240.6,174.8 241.1,175.2 241.6,175 242.1,174.9 242.6,175.1 243.1,175.3 243.6,175.3 244.1,175.3 244.6,175 245.1,174.7 245.6,174.4 246.1,174.4 246.6,174.8 247.1,174.7 247.6,174.3 248.1,174.2 248.6,174.4 249.1,173.9 249.6,175.1 250.1,175.2 250.6,175.2 251.1,175.3 251.6,175.3 252.1,175.3 252.6,174.7 253.1,174.6 253.6,175.2 254.1,175.3 254.6,175 255.1,174.8 255.6,175 256.1,175.3 256.6,175.2 257.1,175.2 257.6,175.1 258.1,174.4 258.6,174.6 259.1,175.3 259.6,175.3 260.1,175.3 260.6,175.2 261.1,175.3 261.6,175.4 262.1,175.2 262.6,175.5 263.1,175.4 263.6,175.4 264.1,175.3 264.6,174.6 265.1,174.6 265.6,175.2 266.1,175.1 266.6,175.2 267.1,175.1 267.6,175.1 268.1,175.3 268.6,175 269.1,174.4 269.6,174.6 270.1,174.5 270.6,174.9 271.1,175.1 271.6,175.1 272.1,174.9 272.6,175 273.1,175.1 273.6,175 274.1,175 274.6,174.9 275.1,175.1 275.6,174.5 276.1,174.7 276.6,175.1 277.1,175.2 277.6,175.1 278.1,175 278.6,174.7 279.1,174.7 279.6,174.9 280.1,175.2 280.6,175.2 281.1,175.4 281.6,174.9 282.1,175 282.6,175.3 283.1,175.3 283.6,175.5 284.1,175.3 284.6,175.3 285.1,175.4 285.6,174.9 286.1,174.6 286.6,174.7 287.1,174.8 287.6,174.9 288.1,175.2 288.6,175.2 289.1,175.2 289.6,175 290.1,174.8 290.6,174.5 291.1,174 291.6,173.6 292.1,173.8 292.6,174.3 293.1,174.3 293.6,174.7 294.1,174.8 294.6,174.3 295.1,174.3 295.6,174.5 296.1,175 296.6,175.2 297.1,175 297.6,174.6 298.1,174.9 298.6,175 299.1,175.1 299.6,175.2 300.1,175.2 300.6,175 301.1,175.1 301.6,174.8 302.1,174.9 302.6,175.1 303.1,175.2 303.6,174.6 304.1,174.6 304.6,175.3 305.1,175.2 305.6,175.3 306.1,174.8 306.6,174.7 307.1,175 307.6,174.7 308.1,175 308.6,174.8 309.1,175.1 309.6,174.8 310.1,174.5 310.6,174.7 311.1,175.1 311.6,175 312.1,175 312.6,175.2 313.1,174.7 313.6,174.2 314.1,173.7 314.6,174 315.1,174.4 315.6,174.8 316.1,175.3 316.6,175.1 317.1,175.3 317.6,175.4 318.1,175 318.6,174.8 319.1,174.9 319.6,174.5 320.1,174.5 320.6,174.3 321.1,173.7 321.6,174.1 322.1,174.3 322.6,174.5 323.1,174.9 323.6,175.1 324.1,175.1 324.6,174.8 325.1,174.3 325.6,173.6 326.1,174.5 326.6,174.9 327.1,175.1 327.6,175 328.1,175.2 328.6,175.3 329.1,175 329.6,175.2 330.1,175.4 330.6,175.3 331.1,175.3 331.6,175.2 332.1,175.4 332.6,175.2 333.1,175.4 333.6,175.3 334.1,175.4 334.6,175.1 335.1,175.3 335.6,174.9 336.1,175.2 336.6,175.2 337.1,175.2 337.6,175.3 338.1,174.8 338.6,175.2 339.1,175 339.6,175.3 340.1,175.3 340.6,175.1 341.1,175.2 341.6,175.3 342.1,174.6 342.6,174.9 343.1,174.8 343.6,175.4 344.1,175.3 344.6,175.2 345.1,175.4 345.6,175.3 346.1,175.4 346.6,175.4 347.1,175.1 347.6,175.1 348.1,175.1 348.6,175 349.1,175.1 349.6,174.5 350.1,174.8 350.6,174.8 351.1,174.8 351.6,175.4 352.1,175 352.6,174.9 353.1,175.4 353.6,175.2 354.1,175.4 354.6,175.4 355.1,175.4 355.6,175.3 356.1,175.2 356.6,175.3 357.1,175.3 357.6,175.3 358.1,175.4 358.6,175.5 359.1,175.3 359.6,174.8 360.1,174.9 360.6,175.1 361.1,174.8 361.6,174.8 362.1,174.7 362.6,175.1 363.1,175.1 363.6,175.2 364.1,175.1 364.6,175.3 365.1,175.3 365.6,175.3 366.1,175.4 366.6,175.3 367.1,175.3 367.6,174.8 368.1,175.3 368.6,175.1 369.1,174.8 369.6,174.6 370.1,174.5 370.6,174.3 371.1,174.5 371.6,174.7 372.1,174.9 372.6,175.2 373.1,175 373.6,175.2 374.1,175.1 374.6,174.9 375.1,174.2 375.6,174.2 376.1,174.4 376.6,174.7 377.1,174.6 377.6,174.7 378.1,174.8 378.6,175.1 379.1,174.8 379.6,174.2 380.1,174.2 380.6,174.6 381.1,174.5 381.6,174.8 382.1,175.1 382.6,175 383.1,175.2 383.6,175.3 384.1,175.1 384.6,175.3 385.1,175.3 385.6,175.4 386.1,175.4 386.6,175.4 387.1,175.3 387.6,175.4 388.1,175.3 388.6,175.2 389.1,175.4 389.6,174.6 390.1,174.7 390.6,174.4 391.1,175.2 391.6,175.3 392.1,175.3 392.6,175.3 393.1,175.3 393.6,174.7 394.1,174.5 394.6,174.2 395.1,174.4 395.6,174.4 396.1,174.1 396.6,173.7 397.1,173.4 397.6,173.4 398.1,173.9 398.6,174.4 399.1,174.7 399.6,174.9 400.1,174.9 400.6,175 401.1,174.3 401.6,173.7 402.1,173.7 402.6,174.4 403.1,174.8 403.6,175 404.1,174.7 404.6,174.9 405.1,174.7 405.6,174.8 406.1,175 406.6,174.9 407.1,174.8 407.6,174.9 408.1,174.9 408.6,175 409.1,174.9 409.6,174.8 410.1,174.9 410.6,174.9 411.1,174.8 411.6,174.8 412.1,174.9 412.6,174.7 413.1,175 413.6,174.9 414.1,174.9 414.6,174.6 415.1,175.1 415.6,175.2 416.1,174.5 416.6,173.9 417.1,174.5 417.6,174.9 418.1,175.2 418.6,175.1 419.1,175.1 419.6,175.1 420.1,175.2 420.6,175 421.1,174.7 421.6,174.3 422.1,174.1 422.6,174.4 423.1,174.1 423.6,174.4 424.1,175.1 424.6,175 425.1,175.2 425.6,175.2 426.1,174.5 426.6,173.9 427.1,174.7 427.6,174.8 428.1,174.6 428.6,174.5 429.1,175.2 429.6,174.3 430.1,173.4 430.6,173.6 431.1,175 431.6,175 432.1,175 432.6,175.1 433.1,175 433.6,175 434.1,175.2 434.6,175.2 435.1,175 435.6,174.4 436.1,174.6 436.6,174.8 437.1,174.4 437.6,174.2 438.1,174.4 438.6,174.7 439.1,175.1 439.6,175.1 440.1,174.8 440.6,174.8 441.1,174.4 441.6,174.3 442.1,174.3 442.6,175.1 443.1,175.1 443.6,175.1 444.1,174.5 444.6,174.5 445.1,174.9 445.6,175.1 446.1,175 446.6,175.1 447.1,175.2 447.6,174.9 448.1,174.7 448.6,174.3 449.1,174.5 449.6,174.7 450.1,174.7 450.6,175.1 451.1,175.2 451.6,175 452.1,174.9 452.6,175.3 453.1,175.2 453.6,175.1 454.1,175 454.6,174.9 455.1,174.8 455.6,174.8 456.1,174.2 456.6,173.9 457.1,174.3 457.6,174.7 458.1,175.1 458.6,175.2 459.1,174.9 459.6,174.7 460.1,174.9 460.6,175.3 461.1,175.4 461.6,175.4 462.1,175.4 462.6,175.2 463.1,175.2 463.6,175.3 464.1,175.3 464.6,175.1 465.1,175 465.6,175.1 466.1,175.1 466.6,174.3 467.1,175 467.6,174.9 468.1,174.8 468.6,174.3 469.1,174.3 469.6,175 470.1,175 470.6,175.2 471.1,174.8 471.6,174.6 472.1,174.7 472.6,174.7 473.1,174.6 473.6,175.2 474.1,175.3 474.6,175.1 475.1,175 475.6,175.1 476.1,175.3 476.6,175.1 477.1,174.6 477.6,174.5 478.1,174.4 478.6,175 479.1,175.1 479.6,175.1 480.1,175.2 480.6,175.1 481.1,175.1 481.6,174.8 482.1,174.6 482.6,175 483.1,175 483.6,175 484.1,174.6 484.6,174 485.1,172.8 485.6,172.7 486.1,172.3 486.6,172.6 487.1,174.3 487.6,174.6 488.1,175 488.6,175.1 489.1,175.2 489.6,175.2 490.1,174.8 490.6,175 491.1,175.1 491.6,175.2 492.1,174.5 492.6,174.7 493.1,174.1 493.6,175 494.1,174.8 494.6,175 495.1,175.1 495.6,175.1 496.1,175.1 496.6,175.3 497.1,175.1 497.6,175.1 498.1,174.7 498.6,175.3 499.1,175.2 499.6,175.1 500.1,175 500.6,174.4 501.1,174.4 501.6,175 502.1,174.7 502.6,174.5 503.1,174.2 503.6,173.9 504.1,173.6 504.6,173.8 505.1,174 505.6,174.3 506.1,175.2 506.6,175.1 507.1,175.1 507.6,175.1 508.1,175 508.6,174.8 509.1,174.8 509.6,174.8 510.1,174.6 510.6,174.3 511.1,173.9 511.6,174.7 512.1,174.6 512.6,174.6 513.1,174.8 513.6,174.5 514.1,174.2 514.6,174.4 515.1,174.9 515.6,174.8 516.1,174.7 516.6,174.9 517.1,175 517.6,175 518.1,175.1 518.6,175.1 519.1,174.5 519.6,174.5 520.1,174.5 520.6,175.3 521.1,175.2 521.6,175 522.1,174.9 522.6,174.9 523.1,175.1 523.6,175.3 524.1,175.3 524.6,174.9 525.1,174.9 525.6,175.1 526.1,175.4 526.6,175.4 527.1,175.3 527.6,174.9 528.1,174.6 528.6,173.9 529.1,174.3 529.6,175.1 530.1,175.4 530.6,175.6 531.1,175.5 531.6,175.7 532.1,175.3 532.6,175.1 533.1,175.4 533.6,175.6 534.1,175.4 534.6,175.6 535.1,175.2 535.6,175.1 536.1,175.2 536.6,174.9 537.1,174.5 537.6,174.7 538.1,175.2 538.6,175.4 539.1,175.6 539.6,175.3 540.1,175 540.6,174.6 541.1,174.5 541.6,174.2 542.1,174.4 542.6,175.1 543.1,175.5 543.6,175.4 544.1,175.2 544.6,174.6 545.1,174.6 545.6,175.3 546.1,175.2 546.6,175.2 547.1,175.2 547.6,175.1 548.1,175.2 548.6,175.2 549.1,174.6 549.6,174.4 550.1,174.6 550.6,174.9 551.1,174.9 551.6,175.1 552.1,174.6 552.6,174.8 553.1,174.2 553.6,173.3 554.1,173 554.6,172.4 555.1,172.9 555.6,173.4 556.1,174 556.6,174.4 557.1,174.8 557.6,175.1 558.1,175 558.6,174.9 559.1,175 559.6,174.4 560.1,174 560.6,173.8 561.1,173.9 561.6,174.3 562.1,174.8 562.6,175.3 563.1,175.2 563.6,175.3 564.1,175.3 564.6,175.4 565.1,175.2 565.6,175.3 566.1,175.4 566.6,175.4 567.1,175.4 567.6,175.2 568.1,174.9 568.6,174.3 569.1,174.8 569.6,174.9 570.1,174.8 570.6,175.2 571.1,175 571.6,174.5 572.1,174.1 572.6,174.6 573.1,174.8 573.6,174.7 574.1,174.5 574.6,174.1 575.1,174.4 575.6,174.6 576.1,174.5 576.6,174.8 577.1,174.8 577.6,175 578.1,174.6 578.6,174.6 579.1,174.5 579.6,174.6 580.1,174.7 580.6,174.6 581.1,174.7 581.6,174.6 582.1,175.3 582.6,175.1 583.1,175.2 583.6,174.9 584.1,175.1 584.6,174.3 585.1,174.2 585.6,175 586.1,174.2 586.6,174.2 587.1,174 587.6,174.2 588.1,173.9 588.6,173.7 589.1,174.7 589.6,174.9 590.1,174.8 590.6,174.9 591.1,174.5 591.6,174.3 592.1,174.3 592.6,175.2 593.1,175.2 593.6,175.3 594.1,175.2 594.6,175.3 595.1,175 595.6,174.8 596.1,174.4 596.6,173.1 597.1,172.3 597.6,172.8 598.1,173.1 598.6,173.1 599.1,173.5 599.6,174.2 600.1,174.9 600.6,175.1 601.1,175.1 601.6,174.9 602.1,174.9 602.6,174.8 603.1,174.4 603.6,174.6 604.1,174.8 604.6,174.8 605.1,174.7 605.6,174.4 606.1,174.6 606.6,174.9 607.1,175 607.6,175 608.1,174.8 608.6,174.9 609.1,174.9 609.6,174 610.1,174.6 610.6,174.8 611.1,174.8 611.6,174.9 612.1,174.9 612.6,174.9 613.1,175 613.6,174.7 614.1,174.7 614.6,175 615.1,175.1 615.6,175 616.1,174.9 616.6,175.1 617.1,175.1 617.6,175.2 618.1,175.2 618.6,175.3 619.1,174.7 619.6,175.1 620.1,175.1 620.6,175.2 621.1,175.3 621.6,175.3 622.1,175.1 622.6,175 623.1,175.2 623.6,175.2 624.1,175.2 624.6,175.3 625.1,174.8 625.6,174.3 626.1,174.5 626.6,174.3 627.1,174.1 627.6,174.2 628.1,174.5 628.6,174.5 629.1,174.5 629.6,174.6 630.1,174.2 630.6,174.4 631.1,174.1 631.6,174.2 632.1,174.1 632.6,174.1 633.1,174 633.6,174.2 634.1,174.1 634.6,173.8 635.1,173.8 635.6,173 636.1,173.9 636.6,173.8 637.1,174 637.6,174 638.1,174.1 638.6,173.9 639.1,173.4 639.6,174.2 640.1,174.3 640.6,174.3 641.1,174.4 641.6,174.7 642.1,174.7 642.6,175.1 643.1,175 643.6,175.1 644.1,175.2 644.6,175.4 645.1,175.7 645.6,175.4 646.1,175.9 646.6,176 647.1,176.2 647.6,176.4 648.1,176.4 648.6,176.5 649.1,176.8 649.6,176.9 650.1,177.1 650.6,177.2 651.1,177.2 651.1,177.9 650.6,177.9 650.1,178 649.6,178.2 649.1,178.3 648.6,178.5 648.1,178.7 647.6,178.8 647.1,178.9 646.6,179 646.1,179.2 645.6,179.6 645.1,179.8 644.6,180 644.1,180.1 643.6,180.1 643.1,180.4 642.6,180.9 642.1,180.9 641.6,181.5 641.1,181.6 640.6,181.1 640.1,181.1 639.6,181.1 639.1,181.8 638.6,181.3 638.1,182 637.6,181.8 637.1,181.3 636.6,181.1 636.1,181.2 635.6,181.3 635.1,181.4 634.6,181.1 634.1,181.6 633.6,181 633.1,180.7 632.6,180.6 632.1,181 631.6,180.6 631.1,180.5 630.6,180.7 630.1,180.7 629.6,180.2 629.1,180.1 628.6,180.2 628.1,180.7 627.6,180.9 627.1,181.4 626.6,181.1 626.1,180.4 625.6,180 625.1,179.9 624.6,180.3 624.1,179.9 623.6,179.8 623.1,179.9 622.6,179.9 622.1,179.8 621.6,179.9 621.1,179.9 620.6,179.9 620.1,180 619.6,180.1 619.1,179.9 618.6,180.2 618.1,180.3 617.6,180.1 617.1,180.1 616.6,180.1 616.1,180.1 615.6,179.9 615.1,180.1 614.6,180.1 614.1,180.1 613.6,180.1 613.1,180.3 612.6,180.4 612.1,180 611.6,180 611.1,180 610.6,180 610.1,179.9 609.6,180 609.1,179.9 608.6,180.1 608.1,179.9 607.6,179.8 607.1,179.8 606.6,179.8 606.1,179.9 605.6,180.3 605.1,180.3 604.6,180.5 604.1,180.3 603.6,180.6 603.1,180.9 602.6,181.3 602.1,181.2 601.6,180.8 601.1,180.1 600.6,180.7 600.1,180.5 599.6,181 599.1,181.8 598.6,182.4 598.1,182.6 597.6,182.5 597.1,182 596.6,181.4 596.1,181 595.6,180.3 595.1,180.2 594.6,180 594.1,180.8 593.6,180.3 593.1,180.7 592.6,180.6 592.1,179.9 591.6,180 591.1,179.8 590.6,179.8 590.1,179.9 589.6,179.9 589.1,180.2 588.6,180.6 588.1,180.3 587.6,179.9 587.1,179.9 586.6,180 586.1,179.9 585.6,179.8 585.1,179.8 584.6,180.4 584.1,180.5 583.6,181.2 583.1,180.4 582.6,180.5 582.1,179.8 581.6,180 581.1,179.9 580.6,180.2 580.1,180.8 579.6,180.6 579.1,181.3 578.6,181 578.1,180.6 577.6,180 577.1,180.2 576.6,180.5 576.1,180.9 575.6,180.7 575.1,181.4 574.6,181.7 574.1,181.9 573.6,181 573.1,180.2 572.6,180.3 572.1,180.6 571.6,181.3 571.1,180.9 570.6,180.3 570.1,180.7 569.6,180.8 569.1,180.5 568.6,180.7 568.1,180.3 567.6,180.4 567.1,180 566.6,179.8 566.1,180 565.6,180.3 565.1,180.5 564.6,180.1 564.1,179.8 563.6,179.8 563.1,179.7 562.6,179.7 562.1,179.8 561.6,179.8 561.1,179.9 560.6,180.6 560.1,181 559.6,180.8 559.1,180.4 558.6,180.4 558.1,180.2 557.6,180.1 557.1,180.2 556.6,180.4 556.1,180.9 555.6,181.4 555.1,181.8 554.6,182.6 554.1,182.2 553.6,182.2 553.1,181.1 552.6,180.7 552.1,180.1 551.6,180.1 551.1,180.2 550.6,180.1 550.1,180 549.6,180.1 549.1,180.3 548.6,180.6 548.1,180.5 547.6,180 547.1,180 546.6,180.1 546.1,180.1 545.6,179.9 545.1,180 544.6,179.8 544.1,179.9 543.6,179.8 543.1,180 542.6,181.2 542.1,182 541.6,182.2 541.1,181.2 540.6,180.7 540.1,180.3 539.6,180.3 539.1,179.9 538.6,180 538.1,180 537.6,180.1 537.1,180.1 536.6,180.1 536.1,180 535.6,180.3 535.1,180.2 534.6,180.3 534.1,180.3 533.6,180.1 533.1,180.4 532.6,180.4 532.1,180.3 531.6,180.2 531.1,180.1 530.6,180.2 530.1,180.7 529.6,181 529.1,181.2 528.6,181.3 528.1,180.8 527.6,180.4 527.1,180.2 526.6,180.3 526.1,180.2 525.6,180.3 525.1,180 524.6,180.1 524.1,180 523.6,180.2 523.1,180.2 522.6,180.2 522.1,180.2 521.6,180.3 521.1,180.4 520.6,180.2 520.1,180.2 519.6,180.2 519.1,180.4 518.6,180.2 518.1,180.2 517.6,180.1 517.1,180.6 516.6,180.8 516.1,180.2 515.6,180 515.1,180.1 514.6,180 514.1,179.9 513.6,180.6 513.1,180.6 512.6,180.4 512.1,180.1 511.6,180.2 511.1,180.1 510.6,180.2 510.1,180.3 509.6,180.6 509.1,180.4 508.6,180.3 508.1,179.7 507.6,179.7 507.1,179.8 506.6,179.9 506.1,179.8 505.6,180 505.1,180.1 504.6,180.3 504.1,180.5 503.6,180.9 503.1,181.6 502.6,180.7 502.1,180.5 501.6,180.4 501.1,180.2 500.6,180.3 500.1,180.3 499.6,180.2 499.1,180 498.6,180.3 498.1,180.5 497.6,180.5 497.1,180.4 496.6,180.2 496.1,180.3 495.6,180.3 495.1,180.4 494.6,180.4 494.1,180.3 493.6,180.4 493.1,180.4 492.6,180.8 492.1,180.2 491.6,180.1 491.1,180 490.6,179.9 490.1,180.6 489.6,180.9 489.1,181 488.6,180.3 488.1,180.4 487.6,181 487.1,181.3 486.6,181.9 486.1,182.1 485.6,182.5 485.1,182.4 484.6,181.2 484.1,180.6 483.6,180.2 483.1,180.3 482.6,180.4 482.1,180.2 481.6,180.2 481.1,180.1 480.6,180.4 480.1,180.1 479.6,180.4 479.1,180.7 478.6,180.1 478.1,180.2 477.6,180.2 477.1,180.3 476.6,180.4 476.1,180.8 475.6,180.5 475.1,180.5 474.6,180.2 474.1,180.1 473.6,180.1 473.1,180.2 472.6,180 472.1,180 471.6,180.1 471.1,180.1 470.6,180.3 470.1,180.3 469.6,180.3 469.1,180.3 468.6,180.4 468.1,180.3 467.6,180.4 467.1,180.3 466.6,180.4 466.1,180.2 465.6,180.1 465.1,180 464.6,180.1 464.1,180.1 463.6,180.2 463.1,180.1 462.6,180.8 462.1,180.2 461.6,180.9 461.1,181 460.6,180.6 460.1,180.7 459.6,181.1 459.1,180.7 458.6,180.3 458.1,180.6 457.6,180.7 457.1,180.8 456.6,181.2 456.1,181.3 455.6,181.3 455.1,181 454.6,180.5 454.1,180.5 453.6,180.7 453.1,180.5 452.6,180.2 452.1,180.3 451.6,180.3 451.1,180.4 450.6,180.2 450.1,181 449.6,181.2 449.1,181.5 448.6,180.9 448.1,181.8 447.6,182.2 447.1,182 446.6,182.9 446.1,184 445.6,184.7 445.1,185.4 444.6,185.1 444.1,186.6 443.6,187.2 443.1,187.5 442.6,188.6 442.1,187.9 441.6,186.5 441.1,185 440.6,184.2 440.1,183 439.6,181.8 439.1,180.8 438.6,180.9 438.1,180 437.6,180.6 437.1,180.6 436.6,180.1 436.1,180.5 435.6,179.9 435.1,180 434.6,180 434.1,179.9 433.6,180 433.1,179.9 432.6,180 432.1,180.2 431.6,180.1 431.1,180 430.6,180.1 430.1,180.1 429.6,180.6 429.1,180.7 428.6,180.3 428.1,180.1 427.6,180 427.1,180.7 426.6,180.9 426.1,180.4 425.6,180 425.1,180.3 424.6,180.3 424.1,180.6 423.6,180.9 423.1,180.9 422.6,181.1 422.1,181.2 421.6,181 421.1,180.7 420.6,180.5 420.1,179.9 419.6,179.9 419.1,180 418.6,179.9 418.1,180.2 417.6,180.1 417.1,180.2 416.6,180 416.1,180.2 415.6,180.1 415.1,179.9 414.6,179.9 414.1,179.9 413.6,180.1 413.1,180 412.6,179.9 412.1,180 411.6,179.9 411.1,180 410.6,179.8 410.1,179.9 409.6,179.8 409.1,179.9 408.6,179.9 408.1,180 407.6,180.4 407.1,180.6 406.6,180.6 406.1,180.3 405.6,180.3 405.1,180.3 404.6,180.2 404.1,180.1 403.6,180.1 403.1,180.2 402.6,180.1 402.1,180 401.6,180 401.1,179.9 400.6,180 400.1,180 399.6,180 399.1,179.9 398.6,180.2 398.1,181 397.6,181 397.1,180.8 396.6,180.6 396.1,180.4 395.6,180.2 395.1,180.3 394.6,180.1 394.1,179.9 393.6,179.9 393.1,180.1 392.6,179.9 392.1,180.1 391.6,180.2 391.1,180 390.6,180 390.1,180 389.6,180.1 389.1,180.2 388.6,180.1 388.1,180.3 387.6,180.5 387.1,180.1 386.6,180.3 386.1,180.3 385.6,180.3 385.1,180.3 384.6,180.3 384.1,180.3 383.6,180.3 383.1,180.4 382.6,180.3 382.1,180.2 381.6,180.3 381.1,180.4 380.6,180.8 380.1,181.2 379.6,181.3 379.1,180.6 378.6,180.2 378.1,180.3 377.6,180.6 377.1,180.5 376.6,181 376.1,181 375.6,180.8 375.1,180.8 374.6,180.4 374.1,180.1 373.6,180.1 373.1,180.2 372.6,180.5 372.1,181 371.6,181.2 371.1,181.2 370.6,182 370.1,181.7 369.6,181.1 369.1,180.4 368.6,180.3 368.1,180.1 367.6,180.1 367.1,180.2 366.6,180.3 366.1,180.2 365.6,180.2 365.1,180.1 364.6,180 364.1,180 363.6,180.4 363.1,180.2 362.6,180.3 362.1,180.3 361.6,180.4 361.1,180.3 360.6,180.2 360.1,180.2 359.6,180.5 359.1,180 358.6,180.1 358.1,180 357.6,180.1 357.1,180 356.6,180 356.1,180 355.6,180 355.1,180 354.6,180 354.1,179.9 353.6,180 353.1,180 352.6,180.1 352.1,180.1 351.6,180 351.1,180 350.6,179.9 350.1,179.8 349.6,180 349.1,179.8 348.6,180.1 348.1,179.8 347.6,179.8 347.1,179.9 346.6,179.8 346.1,179.7 345.6,180.1 345.1,180.2 344.6,179.7 344.1,179.7 343.6,179.7 343.1,180.2 342.6,179.7 342.1,180 341.6,180.1 341.1,180.4 340.6,180.1 340.1,180 339.6,179.9 339.1,180 338.6,180.1 338.1,180.2 337.6,180.1 337.1,179.9 336.6,179.9 336.1,179.9 335.6,180 335.1,180.1 334.6,180 334.1,179.9 333.6,180 333.1,180 332.6,180.1 332.1,180 331.6,180.4 331.1,180.1 330.6,180 330.1,180.4 329.6,180.6 329.1,180.7 328.6,180.8 328.1,180.5 327.6,180.3 327.1,180.2 326.6,180.3 326.1,180.6 325.6,181.3 325.1,181.1 324.6,180.6 324.1,180.1 323.6,180 323.1,180.1 322.6,180.3 322.1,180.6 321.6,181.1 321.1,181.2 320.6,181 320.1,180.6 319.6,180.2 319.1,180 318.6,179.8 318.1,179.8 317.6,179.8 317.1,179.8 316.6,180 316.1,179.7 315.6,180 315.1,180.4 314.6,181.5 314.1,181.2 313.6,180.7 313.1,180.3 312.6,179.8 312.1,180.1 311.6,179.9 311.1,180.1 310.6,180.1 310.1,180.3 309.6,180.4 309.1,180.8 308.6,180.2 308.1,180 307.6,180.1 307.1,180 306.6,180 306.1,180.1 305.6,179.9 305.1,179.9 304.6,180 304.1,180.1 303.6,179.9 303.1,180 302.6,179.9 302.1,179.9 301.6,180 301.1,179.9 300.6,180.1 300.1,180.3 299.6,180.6 299.1,180.2 298.6,180.1 298.1,179.9 297.6,179.9 297.1,179.9 296.6,180 296.1,180.1 295.6,180 295.1,179.9 294.6,180.2 294.1,180.2 293.6,180.4 293.1,180.7 292.6,180.8 292.1,181 291.6,181.4 291.1,180.9 290.6,180.6 290.1,180.2 289.6,180.1 289.1,180 288.6,180.1 288.1,180.4 287.6,180.8 287.1,181.3 286.6,181.4 286.1,181.5 285.6,180.2 285.1,180.1 284.6,180.2 284.1,180.1 283.6,180.2 283.1,180.1 282.6,180.2 282.1,180.2 281.6,180.3 281.1,180.3 280.6,180.5 280.1,180.2 279.6,180.6 279.1,180.7 278.6,180.8 278.1,180.5 277.6,180.3 277.1,180.3 276.6,180.3 276.1,180.4 275.6,180 275.1,180 274.6,180.2 274.1,180 273.6,180.1 273.1,180.3 272.6,180.1 272.1,180.1 271.6,180.1 271.1,180.1 270.6,180.2 270.1,180.7 269.6,180.7 269.1,180.6 268.6,180.4 268.1,180.3 267.6,180.2 267.1,180.2 266.6,180.2 266.1,180.2 265.6,180.2 265.1,180.5 264.6,180.3 264.1,180.3 263.6,180.3 263.1,180.1 262.6,180.4 262.1,180.3 261.6,180 261.1,179.9 260.6,180.1 260.1,180 259.6,180.6 259.1,180.2 258.6,180.1 258.1,180.2 257.6,180.1 257.1,180.7 256.6,180.7 256.1,181 255.6,180.5 255.1,180.3 254.6,180.3 254.1,180.4 253.6,180.1 253.1,180 252.6,180.1 252.1,180.1 251.6,180 251.1,180.3 250.6,180.5 250.1,180.9 249.6,180.7 249.1,180.9 248.6,180.3 248.1,180.6 247.6,180.2 247.1,180.3 246.6,180.2 246.1,180.3 245.6,180.5 245.1,180.2 244.6,180.2 244.1,180 243.6,179.9 243.1,179.8 242.6,180 242.1,180.2 241.6,180.2 241.1,180 240.6,180.2 240.1,181 239.6,180.7 239.1,180.7 238.6,180.7 238.1,180.4 237.6,180.1 237.1,179.9 236.6,180 236.1,179.9 235.6,179.8 235.1,179.9 234.6,179.8 234.1,179.8 233.6,179.9 233.1,180.6 232.6,180.5 232.1,179.8 231.6,180 231.1,179.9 230.6,180 230.1,179.9 229.6,179.7 229.1,179.8 228.6,179.8 228.1,179.8 227.6,180.1 227.1,180 226.6,180.3 226.1,180.7 225.6,180 225.1,180 224.6,180 224.1,180 223.6,180 223.1,180.8 222.6,180.1 222.1,180.4 221.6,180.6 221.1,180.5 220.6,180.2 220.1,180.6 219.6,180.1 219.1,179.9 218.6,180.2 218.1,180.4 217.6,180.6 217.1,180.6 216.6,180.9 216.1,180.2 215.6,180.4 215.1,180.3 214.6,180 214.1,180 213.6,180.1 213.1,180 212.6,179.8 212.1,179.8 211.6,180 211.1,179.8 210.6,179.8 210.1,179.9 209.6,180 209.1,180.1 208.6,180.2 208.1,180.2 207.6,179.6 207.1,179.9 206.6,179.8 206.1,179.8 205.6,179.8 205.1,179.7 204.6,179.7 204.1,179.7 203.6,179.9 203.1,180 202.6,180 202.1,179.9 201.6,180 201.1,180 200.6,180 200.1,180.2 199.6,180.4 199.1,180.6 198.6,180.8 198.1,180.8 197.6,180.9 197.1,181.4 196.6,180.9 196.1,180.7 195.6,180.4 195.1,180.4 194.6,180.4 194.1,180.6 193.6,180.6 193.1,180.7 192.6,180.7 192.1,180.1 191.6,180 191.1,179.9 190.6,180.2 190.1,180.3 189.6,180.8 189.1,180.3 188.6,179.9 188.1,179.8 187.6,179.9 187.1,179.9 186.6,179.8 186.1,179.7 185.6,180 185.1,180.1 184.6,180.1 184.1,180.5 183.6,180.6 183.1,180.2 182.6,180.3 182.1,180.2 181.6,180.2 181.1,179.9 180.6,180.7 180.1,180.1 179.6,180 179.1,180.3 178.6,180.1 178.1,180.5 177.6,180.7 177.1,181 176.6,181.2 176.1,181 175.6,180.5 175.1,181.4 174.6,181.2 174.1,180.6 173.6,180.1 173.1,180.1 172.6,180.9 172.1,180.7 171.6,179.9 171.1,180 170.6,180 170.1,180 169.6,179.9 169.1,179.9 168.6,180.1 168.1,180.3 167.6,179.8 167.1,180.1 166.6,180 166.1,180 165.6,179.9 165.1,180 164.6,180.2 164.1,180.3 163.6,180.5 163.1,180.6 162.6,180.6 162.1,180.4 161.6,180.2 161.1,180.1 160.6,180.4 160.1,180.3 159.6,180.2 159.1,180.3 158.6,180.2 158.1,180.3 157.6,180.4 157.1,180.3 156.6,180.4 156.1,180.4 155.6,180.9 155.1,180.3 154.6,180.4 154.1,180.3 153.6,180.3 153.1,180.2 152.6,180.1 152.1,180.4 151.6,180.2 151.1,180.1 150.6,180.3 150.1,180.9 149.6,181 149.1,181.3 148.6,181.7 148.1,181.9 147.6,182.1 147.1,181.1 146.6,180.7 146.1,180.5 145.6,180.4 145.1,181.3 144.6,181.4 144.1,180.8 143.6,180.5 143.1,180 142.6,180.1 142.1,179.9 141.6,179.9 141.1,180.3 140.6,180.1 140.1,180 139.6,180.1 139.1,180.3 138.6,180.7 138.1,181.5 137.6,181.4 137.1,180.9 136.6,181.1 136.1,182 135.6,181.6 135.1,181.1 134.6,181.1 134.1,181.2 133.6,181 133.1,180.7 132.6,180.9 132.1,180.6 131.6,180.8 131.1,180.2 130.6,180.3 130.1,180.2 129.6,180.1 129.1,180.1 128.6,180.2 128.1,180.1 127.6,180.1 127.1,180.4 126.6,180.6 126.1,181.1 125.6,181 125.1,180.8 124.6,180 124.1,180 123.6,180 123.1,179.9 122.6,179.9 122.1,179.9 121.6,179.9 121.1,180.9 120.6,180.9 120.1,180 119.6,180.4 119.1,180.6 118.6,180 118.1,179.7 117.6,179.7 117.1,179.9 116.6,180.1 116.1,180.3 115.6,180.2 115.1,180.2 114.6,180 114.1,180.4 113.6,180.2 113.1,179.9 112.6,180.6 112.1,180.7 111.6,180.7 111.1,179.9 110.6,180.4 110.1,180 109.6,180.1 109.1,180 108.6,180.7 108.1,180.8 107.6,180.1 107.1,180.1 106.6,181 106.1,180.8 105.6,180.5 105.1,180.3 104.6,180.2 104.1,180.3 103.6,180.8 103.1,180.9 102.6,180.9 102.1,180.6 101.6,180.4 101.1,180.1 100.6,180.7 100.1,180.1 99.6,180 99.1,180.3 98.6,180.1 98.1,180.4 97.6,180.8 97.1,181.3 96.6,181.5 96.1,181.9 95.6,182 95.1,181.8 94.6,180.9 94.1,180.4 93.6,180.1 93.1,180.7 92.6,180.3 92.1,180.7 91.6,180.2 91.1,181 90.6,180.6 90.1,180.7 89.6,180.2 89.1,180.1 88.6,180.2 88.1,180.2 87.6,180.1 87.1,180.2 86.6,180.3 86.1,180.2Z"/><path d="M86.1,304.4 86.6,303.9 87.1,304.5 87.6,304.6 88.1,304.3 88.6,304.3 89.1,304 89.6,303.7 90.1,304.1 90.6,304.3 91.1,304.7 91.6,304.7 92.1,304.7 92.6,304.9 93.1,304.9 93.6,304.9 94.1,304.9 94.6,305 95.1,305.1 95.6,304.9 96.1,305 96.6,305.2 97.1,305.1 97.6,304.8 98.1,304.1 98.6,304.4 99.1,304.8 99.6,304.3 100.1,303.7 100.6,302.9 101.1,302.6 101.6,303 102.1,303.2 102.6,302.9 103.1,303.1 103.6,303.3 104.1,303.3 104.6,303.2 105.1,302.8 105.6,301.9 106.1,302.2 106.6,302.5 107.1,302.8 107.6,303.4 108.1,303.6 108.6,303.9 109.1,303.9 109.6,304.2 110.1,304.1 110.6,304.2 111.1,303.6 111.6,304.2 112.1,304.2 112.6,304.2 113.1,304.3 113.6,304.3 114.1,304.4 114.6,304.4 115.1,304.1 115.6,304 116.1,303.9 116.6,303.8 117.1,303.7 117.6,303.9 118.1,304.1 118.6,303.9 119.1,304 119.6,303.8 120.1,303.8 120.6,303.4 121.1,304 121.6,303.7 122.1,303.6 122.6,303.8 123.1,304.4 123.6,304.2 124.1,304.2 124.6,304.3 125.1,304.3 125.6,304.3 126.1,304 126.6,303.7 127.1,303.7 127.6,303.9 128.1,303.7 128.6,304.1 129.1,304.1 129.6,304 130.1,304.3 130.6,304 131.1,304.3 131.6,304.4 132.1,304.4 132.6,304.4 133.1,304.5 133.6,304.5 134.1,304.6 134.6,304.5 135.1,304.7 135.6,304.6 136.1,304.5 136.6,304.5 137.1,304.4 137.6,303.9 138.1,303.8 138.6,303.9 139.1,303.6 139.6,302.4 140.1,301.7 140.6,301.7 141.1,301.5 141.6,301.1 142.1,300.6 142.6,299.6 143.1,299.4 143.6,299.9 144.1,300.5 144.6,300.7 145.1,300.6 145.6,300.9 146.1,301.4 146.6,301.8 147.1,302.1 147.6,302.4 148.1,302.5 148.6,302.3 149.1,302.5 149.6,303 150.1,303.1 150.6,303.1 151.1,303.2 151.6,303 152.1,303 152.6,303.5 153.1,303.8 153.6,303.3 154.1,303.6 154.6,303.7 155.1,303.8 155.6,303.7 156.1,303.6 156.6,303.7 157.1,303.8 157.6,303.5 158.1,304 158.6,304 159.1,303.3 159.6,302.7 160.1,302.5 160.6,303.2 161.1,303 161.6,303.3 162.1,303.2 162.6,303.2 163.1,303.6 163.6,304.1 164.1,303.8 164.6,303.3 165.1,303.4 165.6,303.1 166.1,303.2 166.6,303.4 167.1,303.7 167.6,303.6 168.1,304 168.6,303.9 169.1,304.2 169.6,304.5 170.1,304.5 170.6,304.5 171.1,304.5 171.6,304.5 172.1,304.6 172.6,304.5 173.1,304.1 173.6,303.8 174.1,303.9 174.6,304.1 175.1,303.8 175.6,303.8 176.1,304.1 176.6,304.2 177.1,304.3 177.6,304.4 178.1,304.2 178.6,304.3 179.1,304.2 179.6,304.4 180.1,304.1 180.6,303.8 181.1,303.7 181.6,303 182.1,303 182.6,303.1 183.1,304.1 183.6,304.3 184.1,304.6 184.6,304.7 185.1,304.6 185.6,304.5 186.1,304.7 186.6,304.5 187.1,303.8 187.6,303.3 188.1,303.3 188.6,303.4 189.1,303.9 189.6,304.1 190.1,304.5 190.6,304.5 191.1,304.4 191.6,304.6 192.1,304.7 192.6,304.5 193.1,304.6 193.6,304.7 194.1,304.5 194.6,304.7 195.1,304.5 195.6,304.4 196.1,304.3 196.6,304.6 197.1,304.7 197.6,304.6 198.1,304.5 198.6,304.5 199.1,304.5 199.6,304.6 200.1,304.3 200.6,304.5 201.1,304.3 201.6,304.1 202.1,304 202.6,303.8 203.1,303.7 203.6,303.8 204.1,303.8 204.6,304 205.1,304 205.6,304.2 206.1,304.3 206.6,304.3 207.1,304.4 207.6,304.5 208.1,304.1 208.6,303.9 209.1,304.6 209.6,304.6 210.1,304.4 210.6,304.4 211.1,304.4 211.6,304.3 212.1,303.9 212.6,303.9 213.1,303.9 213.6,303.9 214.1,304 214.6,304.1 215.1,303.9 215.6,304 216.1,303.9 216.6,303.5 217.1,303.2 217.6,303.5 218.1,303.1 218.6,302.9 219.1,303.2 219.6,303.3 220.1,303.5 220.6,304 221.1,303.9 221.6,304 222.1,303.9 222.6,303.3 223.1,303.6 223.6,303.7 224.1,304.2 224.6,304.3 225.1,304.3 225.6,304.5 226.1,304.6 226.6,304.6 227.1,304.6 227.6,304.4 228.1,304.3 228.6,304.7 229.1,304.8 229.6,304.8 230.1,304.7 230.6,304.7 231.1,304.7 231.6,304.7 232.1,304.7 232.6,304.6 233.1,304.6 233.6,304.6 234.1,304.5 234.6,304.4 235.1,304.5 235.6,304 236.1,303.9 236.6,304 237.1,303.8 237.6,303.7 238.1,303.9 238.6,304.2 239.1,304.2 239.6,304.1 240.1,303.9 240.6,303.6 241.1,303.5 241.6,303.8 242.1,303.8 242.6,304.3 243.1,304.4 243.6,304.3 244.1,304.2 244.6,304.3 245.1,303.9 245.6,303.6 246.1,303.6 246.6,303.3 247.1,303.6 247.6,304.6 248.1,304.6 248.6,304.5 249.1,304.6 249.6,304.6 250.1,304.7 250.6,304.4 251.1,304.5 251.6,304.5 252.1,304.7 252.6,304.7 253.1,304.5 253.6,304.6 254.1,304.5 254.6,304.6 255.1,304.6 255.6,304.2 256.1,304.2 256.6,304.3 257.1,304.6 257.6,304.6 258.1,304.7 258.6,304.5 259.1,304.4 259.6,304.5 260.1,303.9 260.6,304.2 261.1,304.4 261.6,304.6 262.1,304.2 262.6,303.4 263.1,303.8 263.6,303.6 264.1,304.1 264.6,304.3 265.1,304.3 265.6,303.6 266.1,303.6 266.6,303.4 267.1,303.5 267.6,303.6 268.1,303.7 268.6,303.9 269.1,304.2 269.6,304.2 270.1,304.3 270.6,303.9 271.1,303.3 271.6,303 272.1,304 272.6,304.5 273.1,304 273.6,304 274.1,304 274.6,304.5 275.1,304.4 275.6,304.4 276.1,304.5 276.6,304.4 277.1,304.2 277.6,303.8 278.1,304.1 278.6,304.3 279.1,304.5 279.6,303.9 280.1,304 280.6,304.5 281.1,304.1 281.6,304.3 282.1,304.6 282.6,304.7 283.1,304.6 283.6,304.6 284.1,304.7 284.6,304.6 285.1,304.7 285.6,304.7 286.1,304.7 286.6,304.7 287.1,304.6 287.6,304.2 288.1,303.5 288.6,303.3 289.1,303.1 289.6,303.7 290.1,304.1 290.6,303.9 291.1,304.3 291.6,304.4 292.1,304.4 292.6,304.7 293.1,304.6 293.6,304.6 294.1,304.4 294.6,304.5 295.1,304.7 295.6,304.6 296.1,304.4 296.6,304.5 297.1,304.6 297.6,304.6 298.1,304 298.6,303.6 299.1,303.6 299.6,303.9 300.1,304 300.6,304.1 301.1,304.4 301.6,304.5 302.1,304.3 302.6,304.2 303.1,304.3 303.6,304.3 304.1,304.5 304.6,304.2 305.1,304.4 305.6,304.6 306.1,304.6 306.6,304.4 307.1,304.5 307.6,304.6 308.1,304.6 308.6,304.6 309.1,304.4 309.6,304.6 310.1,304.4 310.6,304.4 311.1,304.5 311.6,304.6 312.1,304.5 312.6,304.2 313.1,304.2 313.6,304.1 314.1,304.3 314.6,304.4 315.1,304 315.6,303.8 316.1,304.3 316.6,304.4 317.1,304.5 317.6,304.4 318.1,304.5 318.6,304.2 319.1,304.4 319.6,304.6 320.1,304.5 320.6,304.5 321.1,304.3 321.6,304.6 322.1,303.7 322.6,303.6 323.1,303.8 323.6,304.4 324.1,304.3 324.6,304.4 325.1,304.4 325.6,304.4 326.1,304.4 326.6,303.7 327.1,303.5 327.6,303.9 328.1,304.2 328.6,304.3 329.1,304.3 329.6,304.2 330.1,304.3 330.6,304.2 331.1,304.2 331.6,304.2 332.1,304.3 332.6,304.2 333.1,303.9 333.6,303.8 334.1,303.6 334.6,303.4 335.1,303.2 335.6,303.4 336.1,303.8 336.6,303.8 337.1,303.5 337.6,303.9 338.1,304.3 338.6,304.5 339.1,304.3 339.6,304.5 340.1,304.6 340.6,304.7 341.1,304.7 341.6,304.7 342.1,304.6 342.6,304.5 343.1,304.7 343.6,304.6 344.1,304.4 344.6,304.3 345.1,304.2 345.6,304.4 346.1,304.5 346.6,304.7 347.1,304.7 347.6,304.6 348.1,304.7 348.6,304.6 349.1,304.5 349.6,304.6 350.1,304.5 350.6,304.4 351.1,304.4 351.6,304.2 352.1,304.1 352.6,303.8 353.1,303.8 353.6,304.3 354.1,304.4 354.6,304.2 355.1,304.3 355.6,304 356.1,304.4 356.6,304.3 357.1,304.4 357.6,304.3 358.1,304.1 358.6,304.1 359.1,303.9 359.6,304 360.1,303.9 360.6,304 361.1,304.3 361.6,304.4 362.1,304.3 362.6,304 363.1,303.4 363.6,303.2 364.1,303.5 364.6,303.8 365.1,303.6 365.6,303.9 366.1,304.4 366.6,304.4 367.1,304.4 367.6,304.3 368.1,304.3 368.6,304.2 369.1,304.4 369.6,304.5 370.1,304.2 370.6,303.9 371.1,304 371.6,303.8 372.1,303.8 372.6,303.9 373.1,304 373.6,303.3 374.1,303.6 374.6,304.1 375.1,303.6 375.6,303.7 376.1,304.2 376.6,304.3 377.1,304.2 377.6,304.1 378.1,304.1 378.6,303.9 379.1,303.9 379.6,303.9 380.1,303.4 380.6,302.7 381.1,302.7 381.6,303.1 382.1,303.5 382.6,303.9 383.1,304 383.6,304.6 384.1,304.6 384.6,304.6 385.1,304.3 385.6,304.3 386.1,304.1 386.6,304.1 387.1,303.8 387.6,303.6 388.1,303.8 388.6,304.1 389.1,304.2 389.6,304.2 390.1,304.3 390.6,304.4 391.1,304.2 391.6,304.1 392.1,303.8 392.6,303.4 393.1,303.8 393.6,304.3 394.1,304.6 394.6,304.4 395.1,304.3 395.6,304.3 396.1,304.5 396.6,304.4 397.1,304.4 397.6,304.4 398.1,304.5 398.6,304.5 399.1,304.4 399.6,304.3 400.1,304.4 400.6,304.3 401.1,303.8 401.6,303.5 402.1,303.3 402.6,303.6 403.1,304 403.6,304.3 404.1,304.3 404.6,304.3 405.1,304.1 405.6,304 406.1,304.3 406.6,304.3 407.1,304.2 407.6,304.3 408.1,304.1 408.6,304.2 409.1,304.1 409.6,303.8 410.1,303.6 410.6,303.7 411.1,304 411.6,303.9 412.1,303.7 412.6,303.5 413.1,303.6 413.6,303.8 414.1,303.8 414.6,304.1 415.1,304.2 415.6,304.4 416.1,304.4 416.6,304.2 417.1,304.3 417.6,304.5 418.1,304.4 418.6,304.4 419.1,304.2 419.6,304.3 420.1,304.3 420.6,304.5 421.1,304.2 421.6,304.1 422.1,304.3 422.6,303.8 423.1,303.7 423.6,303.6 424.1,303.7 424.6,303.6 425.1,304.1 425.6,303.9 426.1,303.8 426.6,303.8 427.1,304.1 427.6,304.1 428.1,304.1 428.6,304 429.1,304.1 429.6,304 430.1,304 430.6,304 431.1,304.2 431.6,304.3 432.1,304.1 432.6,304 433.1,304.2 433.6,304.4 434.1,304.4 434.6,304.6 435.1,304.6 435.6,304.6 436.1,304.7 436.6,304.6 437.1,304.5 437.6,304.6 438.1,304.6 438.6,304.5 439.1,304.4 439.6,304.4 440.1,304 440.6,304 441.1,304.1 441.6,304.2 442.1,304.1 442.6,303.8 443.1,303.7 443.6,303.5 444.1,303.8 444.6,304 445.1,303.8 445.6,303.2 446.1,303 446.6,302.9 447.1,303.6 447.6,303.8 448.1,304.5 448.6,304.5 449.1,304.7 449.6,304.7 450.1,304.8 450.6,304.8 451.1,304.8 451.6,304.8 452.1,304.9 452.6,304.8 453.1,304.8 453.6,304.8 454.1,304.7 454.6,304.6 455.1,304.5 455.6,304.6 456.1,304.7 456.6,304.3 457.1,304.4 457.6,304.2 458.1,304.3 458.6,304.5 459.1,304.6 459.6,304.5 460.1,304.5 460.6,304.4 461.1,304.5 461.6,304.6 462.1,304.7 462.6,304.7 463.1,304.6 463.6,304.5 464.1,304.9 464.6,304.8 465.1,304.8 465.6,304.5 466.1,304.6 466.6,304.1 467.1,303.9 467.6,304.2 468.1,304.4 468.6,304.6 469.1,304.7 469.6,304.7 470.1,304.7 470.6,304.6 471.1,304.3 471.6,303.7 472.1,303.6 472.6,304 473.1,304.1 473.6,304.2 474.1,304.6 474.6,304.5 475.1,304.6 475.6,304.4 476.1,304.7 476.6,304.6 477.1,304.7 477.6,304.8 478.1,304.4 478.6,304.9 479.1,304.9 479.6,304.9 480.1,304.9 480.6,304.9 481.1,304.9 481.6,304.8 482.1,304.7 482.6,304.6 483.1,304.7 483.6,304.7 484.1,304.3 484.6,304.1 485.1,304.2 485.6,304.1 486.1,303.2 486.6,303.1 487.1,303.7 487.6,304.4 488.1,304.5 488.6,304.5 489.1,304.3 489.6,304.5 490.1,304.5 490.6,304.4 491.1,304.6 491.6,304.4 492.1,304.6 492.6,304.7 493.1,304.7 493.6,304.6 494.1,304.8 494.6,304.5 495.1,304.6 495.6,304.8 496.1,304.7 496.6,304.7 497.1,304.8 497.6,304.8 498.1,304.8 498.6,304.7 499.1,304.9 499.6,304.9 500.1,304.9 500.6,304.8 501.1,304.1 501.6,304.3 502.1,303.9 502.6,303.7 503.1,303.9 503.6,304.4 504.1,304.5 504.6,304.6 505.1,304.5 505.6,304.7 506.1,304.8 506.6,304.7 507.1,304.7 507.6,304.7 508.1,304.3 508.6,304.3 509.1,304.2 509.6,304.8 510.1,304.7 510.6,304.8 511.1,304.8 511.6,304.8 512.1,304.9 512.6,304.9 513.1,304.8 513.6,304.8 514.1,304.9 514.6,304.9 515.1,304.9 515.6,304.9 516.1,304.9 516.6,304.8 517.1,304.9 517.6,304.6 518.1,304.8 518.6,304.3 519.1,304.3 519.6,304.8 520.1,304.7 520.6,304.5 521.1,304.5 521.6,304.6 522.1,304.7 522.6,304.4 523.1,304.5 523.6,304.7 524.1,304.7 524.6,304.6 525.1,304.5 525.6,304.4 526.1,304.4 526.6,304.3 527.1,304.2 527.6,304.2 528.1,304.2 528.6,304.4 529.1,304.3 529.6,304.6 530.1,304.7 530.6,304.6 531.1,304.6 531.6,304.5 532.1,304.7 532.6,304.2 533.1,304.9 533.6,304.9 534.1,304.9 534.6,304.8 535.1,304.7 535.6,304.7 536.1,304.7 536.6,304.7 537.1,304.5 537.6,304.6 538.1,304.4 538.6,304.5 539.1,304.5 539.6,304.3 540.1,304.4 540.6,304.3 541.1,304.5 541.6,304.4 542.1,304.5 542.6,304.5 543.1,304.5 543.6,304.5 544.1,303.6 544.6,303.2 545.1,303.6 545.6,303.7 546.1,304.3 546.6,304.6 547.1,304.5 547.6,304.6 548.1,304.5 548.6,304.6 549.1,304.5 549.6,304.4 550.1,304.4 550.6,304.5 551.1,304.5 551.6,304.4 552.1,304.3 552.6,304.6 553.1,304.6 553.6,304.5 554.1,304.1 554.6,304 555.1,304.4 555.6,304.3 556.1,304.3 556.6,304.2 557.1,303.5 557.6,303.7 558.1,304.3 558.6,304.2 559.1,304.3 559.6,304.3 560.1,304.2 560.6,304 561.1,303.7 561.6,303.3 562.1,303.8 562.6,304.1 563.1,304.2 563.6,304.2 564.1,303.7 564.6,303.5 565.1,303.5 565.6,304.3 566.1,304.4 566.6,303.9 567.1,303.5 567.6,304.5 568.1,304.5 568.6,304.5 569.1,304.6 569.6,304.6 570.1,304.6 570.6,304.7 571.1,304.6 571.6,304.5 572.1,304.2 572.6,304.3 573.1,304.5 573.6,304.4 574.1,304.4 574.6,304.4 575.1,304.2 575.6,303.8 576.1,303.6 576.6,303.8 577.1,304 577.6,304 578.1,304.2 578.6,304.2 579.1,304.4 579.6,304.5 580.1,304.1 580.6,304.5 581.1,304.4 581.6,304.2 582.1,304.1 582.6,304.2 583.1,304.4 583.6,304.3 584.1,304.1 584.6,304.2 585.1,304.1 585.6,304.1 586.1,304.3 586.6,304.5 587.1,304.3 587.6,304.7 588.1,304.7 588.6,304.7 589.1,304.4 589.6,304.6 590.1,304.7 590.6,304.7 591.1,304.2 591.6,304 592.1,304.5 592.6,304 593.1,304.5 593.6,304.1 594.1,304.1 594.6,304.1 595.1,304 595.6,304.1 596.1,303.8 596.6,304 597.1,304.4 597.6,304.4 598.1,304.2 598.6,304.1 599.1,304 599.6,304.3 600.1,304.6 600.6,304.3 601.1,304.2 601.6,304.7 602.1,304.1 602.6,304.2 603.1,304.3 603.6,304.3 604.1,304.9 604.6,304.1 605.1,304.2 605.6,304.8 606.1,304.3 606.6,304.4 607.1,304.2 607.6,304.8 608.1,304.5 608.6,304.6 609.1,304.7 609.6,304.5 610.1,304.7 610.6,304.8 611.1,304.7 611.6,304.4 612.1,304.4 612.6,303.9 613.1,304.6 613.6,304.8 614.1,304.9 614.6,304.9 615.1,304.9 615.6,304.9 616.1,304.9 616.6,304.6 617.1,304.7 617.6,304.7 618.1,304.5 618.6,304.5 619.1,304.4 619.6,304 620.1,303.9 620.6,303.9 621.1,304.1 621.6,304.1 622.1,303.1 622.6,302.8 623.1,303.3 623.6,302.9 624.1,303.2 624.6,303.3 625.1,303.3 625.6,303.1 626.1,303 626.6,303.2 627.1,304 627.6,303.6 628.1,304 628.6,304 629.1,303.9 629.6,303.4 630.1,303.7 630.6,303.1 631.1,303.5 631.6,303.6 632.1,303.6 632.6,303.6 633.1,303.6 633.6,303.1 634.1,302.7 634.6,302.7 635.1,302.9 635.6,303.3 636.1,303.2 636.6,303.2 637.1,303.1 637.6,303.1 638.1,302.6 638.6,302.7 639.1,302.6 639.6,303.2 640.1,303 640.6,303.1 641.1,303.4 641.6,303.6 642.1,303.7 642.6,303.7 643.1,304.1 643.6,304.2 644.1,304.5 644.6,304.6 645.1,304.9 645.6,305 646.1,305 646.6,304.9 647.1,305 647.6,305.2 648.1,305.3 648.6,305.5 649.1,305.8 649.6,306.2 650.1,306.4 650.6,306.6 651.1,306.6 651.1,307.4 650.6,307.4 650.1,307.6 649.6,307.8 649.1,308.1 648.6,308.3 648.1,308.6 647.6,308.8 647.1,308.9 646.6,308.9 646.1,308.9 645.6,309 645.1,309 644.6,309.2 644.1,309.5 643.6,309.8 643.1,309.9 642.6,310 642.1,310.2 641.6,310.3 641.1,310.4 640.6,310.6 640.1,310.4 639.6,310.4 639.1,310.4 638.6,310.5 638.1,310.5 637.6,310.4 637.1,310.4 636.6,310.4 636.1,310.5 635.6,310.4 635.1,310.4 634.6,310.4 634.1,310.4 633.6,310.3 633.1,310.4 632.6,310.2 632.1,310.4 631.6,310.1 631.1,310.2 630.6,310.3 630.1,310.1 629.6,310 629.1,310.2 628.6,310.1 628.1,310 627.6,310 627.1,310.1 626.6,310.5 626.1,310.6 625.6,310.7 625.1,311.3 624.6,311.4 624.1,311.4 623.6,311.2 623.1,310.8 622.6,310.4 622.1,310.1 621.6,309.8 621.1,309.7 620.6,309.7 620.1,309.7 619.6,309.6 619.1,309.5 618.6,309.5 618.1,310 617.6,310.1 617.1,310 616.6,309.6 616.1,309.6 615.6,309.5 615.1,309.6 614.6,309.7 614.1,309.7 613.6,309.6 613.1,309.6 612.6,309.7 612.1,309.7 611.6,310.1 611.1,310.3 610.6,310.5 610.1,309.7 609.6,309.6 609.1,309.6 608.6,309.9 608.1,310.2 607.6,310.1 607.1,309.8 606.6,309.7 606.1,310.2 605.6,309.7 605.1,309.6 604.6,309.7 604.1,310 603.6,310 603.1,310.5 602.6,310.1 602.1,310 601.6,309.5 601.1,309.6 600.6,309.6 600.1,309.7 599.6,310 599.1,310.4 598.6,310.3 598.1,309.7 597.6,309.6 597.1,309.7 596.6,309.7 596.1,309.6 595.6,309.5 595.1,310.2 594.6,310.1 594.1,309.6 593.6,310 593.1,309.6 592.6,309.4 592.1,309.4 591.6,309.4 591.1,309.6 590.6,309.8 590.1,309.4 589.6,309.5 589.1,309.3 588.6,309.4 588.1,309.3 587.6,309.5 587.1,309.5 586.6,309.6 586.1,309.7 585.6,309.9 585.1,310.1 584.6,310.1 584.1,309.7 583.6,309.3 583.1,309.6 582.6,309.6 582.1,309.7 581.6,309.2 581.1,309.2 580.6,309.4 580.1,309.8 579.6,309.7 579.1,309.4 578.6,309.4 578.1,309.4 577.6,309.5 577.1,309.6 576.6,310.1 576.1,310.6 575.6,310.4 575.1,310.4 574.6,309.7 574.1,309.4 573.6,309.4 573.1,309.4 572.6,309.5 572.1,309.5 571.6,309.5 571.1,309.5 570.6,309.7 570.1,309.8 569.6,309.7 569.1,309.6 568.6,309.7 568.1,309.8 567.6,309.8 567.1,309.5 566.6,309.6 566.1,309.7 565.6,309.6 565.1,309.6 564.6,309.4 564.1,309.4 563.6,309.2 563.1,309.2 562.6,309.1 562.1,309.4 561.6,309.8 561.1,309.6 560.6,309.2 560.1,309.2 559.6,309.2 559.1,309.2 558.6,309.3 558.1,309.5 557.6,309.6 557.1,309.6 556.6,309.5 556.1,309.9 555.6,309.9 555.1,309.7 554.6,309.7 554.1,309.7 553.6,309.8 553.1,309.9 552.6,309.7 552.1,310.1 551.6,309.9 551.1,309.9 550.6,309.9 550.1,309.7 549.6,309.6 549.1,310.4 548.6,309.8 548.1,309.7 547.6,310.3 547.1,310.2 546.6,310.2 546.1,309.8 545.6,310.1 545.1,311.1 544.6,310.7 544.1,310.1 543.6,309.7 543.1,309.8 542.6,310 542.1,309.7 541.6,309.6 541.1,309.6 540.6,309.6 540.1,309.8 539.6,309.5 539.1,309.6 538.6,309.5 538.1,309.5 537.6,309.4 537.1,309.3 536.6,309.4 536.1,309.6 535.6,309.6 535.1,309.4 534.6,309.5 534.1,309.6 533.6,309.6 533.1,309.5 532.6,310 532.1,310.1 531.6,309.8 531.1,309.7 530.6,309.9 530.1,310 529.6,310 529.1,310.1 528.6,310.2 528.1,310.1 527.6,310.2 527.1,310 526.6,309.9 526.1,309.8 525.6,309.5 525.1,309.5 524.6,309.5 524.1,309.5 523.6,309.5 523.1,309.4 522.6,309.5 522.1,309.5 521.6,309.5 521.1,309.5 520.6,309.4 520.1,309.4 519.6,309.4 519.1,309.5 518.6,309.7 518.1,309.8 517.6,309.7 517.1,309.6 516.6,309.5 516.1,309.8 515.6,309.8 515.1,309.7 514.6,309.9 514.1,309.9 513.6,309.8 513.1,309.7 512.6,309.9 512.1,309.8 511.6,309.7 511.1,309.7 510.6,309.9 510.1,309.8 509.6,309.8 509.1,309.7 508.6,309.8 508.1,309.7 507.6,309.7 507.1,309.6 506.6,309.7 506.1,309.7 505.6,309.9 505.1,310.4 504.6,310.5 504.1,310 503.6,309.9 503.1,310.1 502.6,310.1 502.1,310.1 501.6,310 501.1,310.3 500.6,309.4 500.1,309.5 499.6,309.7 499.1,309.6 498.6,309.9 498.1,309.7 497.6,309.6 497.1,309.5 496.6,309.4 496.1,309.5 495.6,309.7 495.1,309.7 494.6,309.4 494.1,309.6 493.6,309.6 493.1,309.5 492.6,309.6 492.1,309.4 491.6,309.5 491.1,309.6 490.6,309.8 490.1,309.7 489.6,309.5 489.1,309.5 488.6,309.6 488.1,309.6 487.6,309.8 487.1,310.1 486.6,310.4 486.1,310.4 485.6,310.1 485.1,309.7 484.6,309.8 484.1,309.9 483.6,309.9 483.1,310.2 482.6,310.2 482.1,310.3 481.6,310.1 481.1,309.8 480.6,309.8 480.1,309.6 479.6,309.7 479.1,309.6 478.6,309.5 478.1,309.6 477.6,309.8 477.1,309.6 476.6,309.5 476.1,309.5 475.6,309.3 475.1,309.5 474.6,309.4 474.1,309.3 473.6,309.4 473.1,310 472.6,309.8 472.1,310.1 471.6,310.2 471.1,309.3 470.6,309.3 470.1,309.5 469.6,309.5 469.1,309.7 468.6,309.9 468.1,309.9 467.6,310.3 467.1,310.2 466.6,309.9 466.1,309.6 465.6,309.4 465.1,309.3 464.6,309.3 464.1,309.4 463.6,309.3 463.1,309.3 462.6,309.7 462.1,309.8 461.6,309.5 461.1,309.4 460.6,309.5 460.1,309.5 459.6,309.6 459.1,309.5 458.6,309.2 458.1,309.4 457.6,309.4 457.1,310 456.6,309.7 456.1,309.8 455.6,309.3 455.1,309.3 454.6,309.4 454.1,309.3 453.6,309.3 453.1,309.4 452.6,309.5 452.1,309.5 451.6,309.5 451.1,309.4 450.6,309.5 450.1,309.4 449.6,309.5 449.1,309.5 448.6,309.5 448.1,309.7 447.6,309.6 447.1,309.7 446.6,309.9 446.1,309.9 445.6,310 445.1,309.9 444.6,309.9 444.1,309.9 443.6,309.9 443.1,310.3 442.6,310.1 442.1,310 441.6,309.5 441.1,309.4 440.6,309.4 440.1,309.4 439.6,309.5 439.1,309.4 438.6,309.5 438.1,309.6 437.6,309.5 437.1,309.3 436.6,309.6 436.1,310.1 435.6,309.9 435.1,309.9 434.6,309.2 434.1,309.2 433.6,309.4 433.1,309.1 432.6,309.4 432.1,309.4 431.6,309.4 431.1,309.4 430.6,309.2 430.1,309.2 429.6,309.4 429.1,309.4 428.6,309.7 428.1,309.7 427.6,309.7 427.1,309.9 426.6,309.5 426.1,309.4 425.6,309.3 425.1,309.8 424.6,309.9 424.1,309.6 423.6,309.5 423.1,309.4 422.6,309.4 422.1,309.6 421.6,309.7 421.1,309.4 420.6,309.6 420.1,309.4 419.6,309.4 419.1,309.5 418.6,309.6 418.1,309.6 417.6,309.3 417.1,309.5 416.6,309.7 416.1,309.4 415.6,309.3 415.1,309.3 414.6,309.8 414.1,310.2 413.6,310.2 413.1,310.1 412.6,310.6 412.1,310.3 411.6,309.7 411.1,309.6 410.6,309.3 410.1,309.3 409.6,309.4 409.1,309.2 408.6,309.3 408.1,309.4 407.6,309.3 407.1,309.3 406.6,309.4 406.1,309.4 405.6,309.3 405.1,309.4 404.6,309.4 404.1,309.5 403.6,309.7 403.1,310.2 402.6,310.3 402.1,310.4 401.6,310.6 401.1,309.8 400.6,309.6 400.1,309.8 399.6,310 399.1,309.9 398.6,309.8 398.1,309.8 397.6,309.9 397.1,310.2 396.6,310.2 396.1,310.2 395.6,310.2 395.1,310.5 394.6,311.3 394.1,311.5 393.6,312.2 393.1,312.6 392.6,312.7 392.1,312.9 391.6,313 391.1,313.5 390.6,313.8 390.1,313.5 389.6,314.1 389.1,314.7 388.6,314 388.1,314.1 387.6,313.5 387.1,312.6 386.6,311.9 386.1,311.2 385.6,310.7 385.1,310 384.6,309.8 384.1,309.8 383.6,309.6 383.1,309.9 382.6,310.1 382.1,310.3 381.6,310.8 381.1,311.1 380.6,311.3 380.1,310.8 379.6,310 379.1,309.8 378.6,310 378.1,309.7 377.6,309.5 377.1,309.3 376.6,309.3 376.1,309.4 375.6,309.2 375.1,309.2 374.6,309.3 374.1,309.3 373.6,309.4 373.1,309.7 372.6,310 372.1,309.9 371.6,309.8 371.1,309.7 370.6,309.5 370.1,309.8 369.6,309.6 369.1,309.6 368.6,309.6 368.1,309.7 367.6,309.5 367.1,309.5 366.6,309.6 366.1,309.8 365.6,310.1 365.1,310.2 364.6,310.3 364.1,310.5 363.6,310.8 363.1,310.4 362.6,310.1 362.1,309.8 361.6,309.9 361.1,309.9 360.6,310.1 360.1,310 359.6,309.9 359.1,310 358.6,310 358.1,309.7 357.6,309.7 357.1,309.5 356.6,309.4 356.1,309.6 355.6,309.3 355.1,309.3 354.6,309.5 354.1,309.3 353.6,309.5 353.1,309.4 352.6,309.6 352.1,309.7 351.6,309.5 351.1,309.5 350.6,309.9 350.1,309.9 349.6,309.9 349.1,309.9 348.6,310.1 348.1,309.7 347.6,309.7 347.1,309.8 346.6,309.8 346.1,310 345.6,310.2 345.1,310.3 344.6,310.5 344.1,310.1 343.6,309.9 343.1,309.7 342.6,309.7 342.1,310.1 341.6,309.5 341.1,309.5 340.6,309.4 340.1,309.5 339.6,309.5 339.1,309.5 338.6,309.4 338.1,309.9 337.6,310.1 337.1,309.6 336.6,309.6 336.1,310 335.6,310.4 335.1,310 334.6,309.7 334.1,309.6 333.6,310 333.1,310 332.6,309.2 332.1,309.3 331.6,309.4 331.1,309.4 330.6,309.4 330.1,309.7 329.6,309.7 329.1,310 328.6,309.7 328.1,309.5 327.6,309.6 327.1,309.9 326.6,310.3 326.1,310.1 325.6,309.8 325.1,309.7 324.6,309.7 324.1,309.7 323.6,309.8 323.1,310.4 322.6,310.4 322.1,309.8 321.6,309.7 321.1,309.6 320.6,309.6 320.1,309.8 319.6,309.7 319.1,309.7 318.6,309.8 318.1,310.1 317.6,309.9 317.1,309.9 316.6,309.9 316.1,309.9 315.6,310.2 315.1,310.1 314.6,309.9 314.1,310.3 313.6,310.3 313.1,310.1 312.6,309.8 312.1,310.2 311.6,310.1 311.1,309.9 310.6,309.6 310.1,309.4 309.6,309.5 309.1,309.4 308.6,309.4 308.1,309.5 307.6,309.4 307.1,309.5 306.6,309.5 306.1,309.5 305.6,309.5 305.1,309.6 304.6,309.6 304.1,309.6 303.6,309.6 303.1,310 302.6,309.7 302.1,309.9 301.6,309.5 301.1,309.7 300.6,309.6 300.1,309.9 299.6,310.3 299.1,310.9 298.6,310.9 298.1,310.5 297.6,309.8 297.1,309.9 296.6,309.8 296.1,309.5 295.6,309.4 295.1,309.4 294.6,310.1 294.1,309.9 293.6,309.3 293.1,309.3 292.6,309.4 292.1,309.3 291.6,309.3 291.1,309.8 290.6,309.7 290.1,309.9 289.6,310.9 289.1,311.3 288.6,311.2 288.1,311.2 287.6,310.3 287.1,309.5 286.6,309.3 286.1,309.4 285.6,309.4 285.1,309.5 284.6,309.5 284.1,309.6 283.6,309.7 283.1,309.6 282.6,309.7 282.1,309.7 281.6,310.2 281.1,310.2 280.6,310.1 280.1,309.7 279.6,309.8 279.1,309.8 278.6,309.7 278.1,309.7 277.6,309.8 277.1,309.8 276.6,309.7 276.1,309.5 275.6,309.6 275.1,309.7 274.6,309.8 274.1,309.3 273.6,309.4 273.1,309.8 272.6,309.8 272.1,309.5 271.6,309.8 271.1,310.1 270.6,309.9 270.1,309.9 269.6,309.6 269.1,309.4 268.6,309.7 268.1,310 267.6,310.2 267.1,310.4 266.6,310.1 266.1,310.1 265.6,309.9 265.1,309.6 264.6,309.6 264.1,310.3 263.6,310.4 263.1,310.6 262.6,310.4 262.1,310.1 261.6,309.6 261.1,310.3 260.6,310.3 260.1,310.7 259.6,310.3 259.1,310.3 258.6,309.7 258.1,310.2 257.6,310.1 257.1,310.2 256.6,309.8 256.1,309.5 255.6,309.5 255.1,309.4 254.6,309.4 254.1,309.4 253.6,309.4 253.1,309.2 252.6,309.3 252.1,309.2 251.6,309.2 251.1,309.1 250.6,309.1 250.1,309.1 249.6,309.3 249.1,309.2 248.6,309.2 248.1,309.3 247.6,309.4 247.1,309.7 246.6,310.2 246.1,310.5 245.6,310.6 245.1,310.2 244.6,309.6 244.1,309.7 243.6,309.6 243.1,309.9 242.6,310.2 242.1,309.9 241.6,309.9 241.1,310 240.6,310.1 240.1,310.1 239.6,309.9 239.1,309.8 238.6,309.6 238.1,309.7 237.6,310.6 237.1,311.2 236.6,310.9 236.1,309.7 235.6,309.6 235.1,309.5 234.6,309.3 234.1,309.4 233.6,309.4 233.1,309.4 232.6,309.4 232.1,309.5 231.6,309.7 231.1,309.8 230.6,309.8 230.1,309.6 229.6,309.5 229.1,309.7 228.6,309.9 228.1,309.5 227.6,310.4 227.1,310 226.6,309.6 226.1,309.6 225.6,310.5 225.1,310.4 224.6,310.2 224.1,309.7 223.6,309.8 223.1,310.4 222.6,310.4 222.1,309.8 221.6,309.8 221.1,309.6 220.6,309.6 220.1,310.1 219.6,310.6 219.1,310.4 218.6,310.3 218.1,309.9 217.6,309.7 217.1,309.7 216.6,309.6 216.1,309.6 215.6,309.5 215.1,309.5 214.6,309.9 214.1,310 213.6,309.6 213.1,309.8 212.6,310 212.1,310.3 211.6,310.2 211.1,309.9 210.6,310 210.1,309.8 209.6,309.9 209.1,309.8 208.6,310 208.1,310 207.6,309.9 207.1,309.7 206.6,309.8 206.1,309.8 205.6,309.8 205.1,310 204.6,310.1 204.1,310 203.6,310.1 203.1,310.1 202.6,310.4 202.1,310.3 201.6,309.9 201.1,310 200.6,310 200.1,309.8 199.6,309.5 199.1,309.3 198.6,309.3 198.1,309.3 197.6,309.3 197.1,309.3 196.6,309.3 196.1,309.4 195.6,309.4 195.1,309.3 194.6,309.3 194.1,309.2 193.6,309.5 193.1,309.6 192.6,309.7 192.1,309.5 191.6,309.4 191.1,309.4 190.6,309.7 190.1,310.1 189.6,310.2 189.1,310.9 188.6,311.9 188.1,311.4 187.6,310.6 187.1,310.2 186.6,309.6 186.1,309.6 185.6,309.6 185.1,309.6 184.6,309.6 184.1,310.3 183.6,310.5 183.1,310.6 182.6,310.4 182.1,310.3 181.6,310.5 181.1,310.3 180.6,310 180.1,309.7 179.6,309.7 179.1,309.9 178.6,309.9 178.1,309.6 177.6,309.9 177.1,310.1 176.6,310 176.1,310.1 175.6,310.3 175.1,310.5 174.6,310.6 174.1,311.1 173.6,310.7 173.1,310.4 172.6,309.9 172.1,310 171.6,310.1 171.1,309.7 170.6,309.8 170.1,309.6 169.6,309.5 169.1,309.6 168.6,309.5 168.1,309.7 167.6,310.1 167.1,310.2 166.6,310.4 166.1,310.7 165.6,310.3 165.1,309.9 164.6,309.9 164.1,309.9 163.6,309.7 163.1,309.9 162.6,309.9 162.1,310.1 161.6,310.3 161.1,310.5 160.6,310.3 160.1,310.1 159.6,310 159.1,309.9 158.6,309.9 158.1,309.9 157.6,309.8 157.1,310 156.6,310.2 156.1,310.4 155.6,310.4 155.1,310 154.6,310 154.1,310.2 153.6,310.1 153.1,310 152.6,310.3 152.1,310.5 151.6,310.5 151.1,310.9 150.6,311.2 150.1,311.9 149.6,311.8 149.1,311.7 148.6,311.2 148.1,311 147.6,311.1 147.1,311.3 146.6,311.5 146.1,311.7 145.6,312.2 145.1,312.4 144.6,312.5 144.1,312.4 143.6,312.3 143.1,312.6 142.6,312 142.1,311.9 141.6,312 141.1,312.6 140.6,312.9 140.1,312.5 139.6,311.7 139.1,311 138.6,310.5 138.1,310.2 137.6,310.1 137.1,309.8 136.6,309.4 136.1,309.4 135.6,309.3 135.1,309.5 134.6,309.4 134.1,309.5 133.6,309.5 133.1,309.5 132.6,309.5 132.1,309.5 131.6,309.7 131.1,309.8 130.6,309.7 130.1,309.5 129.6,309.4 129.1,309.4 128.6,309.6 128.1,309.6 127.6,309.7 127.1,309.6 126.6,309.6 126.1,309.7 125.6,309.6 125.1,309.6 124.6,309.7 124.1,309.5 123.6,309.4 123.1,309.6 122.6,309.7 122.1,309.7 121.6,309.7 121.1,309.7 120.6,309.7 120.1,309.7 119.6,309.6 119.1,310 118.6,309.4 118.1,309.4 117.6,309.4 117.1,309.5 116.6,309.9 116.1,310.5 115.6,310.1 115.1,309.5 114.6,309.4 114.1,309.4 113.6,309.4 113.1,309.4 112.6,309.7 112.1,310.3 111.6,310.1 111.1,309.4 110.6,309.5 110.1,309.6 109.6,309.7 109.1,309.6 108.6,310 108.1,310.1 107.6,310.4 107.1,310.6 106.6,310.9 106.1,311.4 105.6,312.1 105.1,311.7 104.6,310.8 104.1,310 103.6,310.1 103.1,310.5 102.6,311.1 102.1,311.5 101.6,311.7 101.1,311.7 100.6,311.3 100.1,310.5 99.6,310 99.1,309.5 98.6,309.4 98.1,309.4 97.6,309.5 97.1,309.4 96.6,309.5 96.1,309.4 95.6,309.5 95.1,309.4 94.6,309.4 94.1,309.6 93.6,309.6 93.1,309.7 92.6,309.5 92.1,309.3 91.6,309.6 91.1,309.6 90.6,309.7 90.1,310.2 89.6,310.3 89.1,309.9 88.6,310.3 88.1,310.3 87.6,310.1 87.1,310.4 86.6,310.7 86.1,310.2Z"/><path d="M86.1,304.5 86.6,304.5 87.1,304.2 87.6,304.2 88.1,304.3 88.6,304 89.1,304.6 89.6,304.2 90.1,304.2 90.6,304.1 91.1,304 91.6,304.7 92.1,304.6 92.6,304.5 93.1,304.7 93.6,304.7 94.1,304.6 94.6,304.6 95.1,304.5 95.6,303.9 96.1,304.1 96.6,304.6 97.1,304.8 97.6,304.8 98.1,304.7 98.6,304.8 99.1,304.8 99.6,304.8 100.1,304.8 100.6,304.8 101.1,304.6 101.6,304.7 102.1,304.8 102.6,304.9 103.1,304.8 103.6,304.7 104.1,304.4 104.6,304.2 105.1,304 105.6,303.1 106.1,303.3 106.6,303 107.1,303.7 107.6,303.8 108.1,304.2 108.6,304.4 109.1,304.3 109.6,304.4 110.1,304.4 110.6,304.4 111.1,304.5 111.6,304.4 112.1,304.2 112.6,304.2 113.1,304.1 113.6,304.4 114.1,304.4 114.6,304.5 115.1,304.4 115.6,304.3 116.1,304 116.6,304.5 117.1,304.3 117.6,304.4 118.1,304.5 118.6,304.6 119.1,304.5 119.6,304.5 120.1,304.4 120.6,304.6 121.1,304.5 121.6,304.6 122.1,304.6 122.6,304.6 123.1,304.6 123.6,304.5 124.1,304.5 124.6,304.6 125.1,304.5 125.6,304.6 126.1,304 126.6,303.9 127.1,303.9 127.6,304.2 128.1,304.2 128.6,303.1 129.1,302.9 129.6,303.2 130.1,304.1 130.6,304.2 131.1,304.1 131.6,304.4 132.1,304.5 132.6,304.4 133.1,304.1 133.6,304.2 134.1,304.4 134.6,304.6 135.1,304.4 135.6,304.7 136.1,304.6 136.6,304.4 137.1,304.5 137.6,304.6 138.1,304.7 138.6,304.8 139.1,304.7 139.6,304.7 140.1,304.6 140.6,304.7 141.1,304.5 141.6,304.4 142.1,304.1 142.6,303.9 143.1,303.8 143.6,304 144.1,304 144.6,304 145.1,303.5 145.6,303.6 146.1,304 146.6,304.3 147.1,304.4 147.6,303.7 148.1,303.8 148.6,304.5 149.1,304.5 149.6,304.4 150.1,304.5 150.6,304.6 151.1,303.9 151.6,304 152.1,303.7 152.6,304.4 153.1,304.5 153.6,304.2 154.1,304.3 154.6,304.4 155.1,304.4 155.6,304.4 156.1,304.4 156.6,304.4 157.1,304.5 157.6,304.5 158.1,304.4 158.6,304.4 159.1,304.5 159.6,304.5 160.1,303.8 160.6,304 161.1,303.9 161.6,304.2 162.1,303.7 162.6,304 163.1,304 163.6,304.4 164.1,304.5 164.6,304.5 165.1,304.5 165.6,304.4 166.1,304.3 166.6,304.3 167.1,304.4 167.6,304 168.1,304.1 168.6,304.2 169.1,304.5 169.6,304.5 170.1,304.6 170.6,304.5 171.1,304.4 171.6,304.3 172.1,304.6 172.6,304.6 173.1,304.7 173.6,304.5 174.1,304.6 174.6,304.7 175.1,304.6 175.6,304.2 176.1,304.2 176.6,304 177.1,303.7 177.6,303.6 178.1,303.8 178.6,304 179.1,304 179.6,304.1 180.1,304.1 180.6,304 181.1,304 181.6,304.1 182.1,304 182.6,303.9 183.1,304.2 183.6,304.6 184.1,303.9 184.6,304 185.1,304.3 185.6,304.4 186.1,304.4 186.6,304.4 187.1,304.2 187.6,304 188.1,304.1 188.6,303.6 189.1,303.6 189.6,303.7 190.1,303.6 190.6,303.6 191.1,303.8 191.6,304 192.1,304.1 192.6,303.9 193.1,303.7 193.6,303.5 194.1,303.5 194.6,303.8 195.1,303.7 195.6,304.2 196.1,303.8 196.6,303.8 197.1,304.1 197.6,304.1 198.1,303.5 198.6,304.2 199.1,304.1 199.6,303.8 200.1,303.5 200.6,303.9 201.1,304.1 201.6,304.2 202.1,304.4 202.6,304.1 203.1,304.4 203.6,304.4 204.1,304.3 204.6,304.3 205.1,304.3 205.6,304.4 206.1,304.4 206.6,304.4 207.1,304.4 207.6,304.5 208.1,304.5 208.6,304.2 209.1,304.1 209.6,304.1 210.1,304.2 210.6,304.3 211.1,304.3 211.6,304.2 212.1,304.3 212.6,304.3 213.1,303.8 213.6,304.2 214.1,303.7 214.6,303.8 215.1,303.9 215.6,304.3 216.1,304.2 216.6,304.2 217.1,303.8 217.6,304 218.1,304.3 218.6,304.3 219.1,303.9 219.6,303.5 220.1,303.4 220.6,303.9 221.1,304.2 221.6,304.1 222.1,303.9 222.6,303.9 223.1,303.6 223.6,303.6 224.1,303.2 224.6,303.3 225.1,303.4 225.6,303.7 226.1,303.9 226.6,304.1 227.1,304.3 227.6,304.3 228.1,304.1 228.6,304.2 229.1,304.4 229.6,304.3 230.1,304.3 230.6,304.2 231.1,304.3 231.6,304.4 232.1,304.4 232.6,304.4 233.1,304.3 233.6,304.2 234.1,304.2 234.6,304.3 235.1,304.4 235.6,304.5 236.1,304.5 236.6,304.4 237.1,304.2 237.6,304.3 238.1,304.2 238.6,303.8 239.1,303.6 239.6,303.6 240.1,303.6 240.6,303.9 241.1,304.1 241.6,304.4 242.1,304.5 242.6,304.3 243.1,304 243.6,303.9 244.1,304.5 244.6,304.6 245.1,304.6 245.6,304.5 246.1,304.3 246.6,304 247.1,304 247.6,303.8 248.1,304.1 248.6,304 249.1,304 249.6,303.7 250.1,304.3 250.6,304.3 251.1,304.2 251.6,303.9 252.1,303.9 252.6,303.7 253.1,303.8 253.6,304 254.1,304.1 254.6,304.4 255.1,304.4 255.6,304.4 256.1,304.4 256.6,304.4 257.1,304.5 257.6,304.4 258.1,304.2 258.6,303.9 259.1,303.9 259.6,304.4 260.1,304.5 260.6,304.5 261.1,304.6 261.6,304.6 262.1,304.6 262.6,304.3 263.1,304.5 263.6,304.6 264.1,304.7 264.6,304.5 265.1,304.4 265.6,304.8 266.1,304.5 266.6,304.7 267.1,304.7 267.6,304.7 268.1,304.7 268.6,304.6 269.1,304.2 269.6,304.1 270.1,303.9 270.6,304.1 271.1,304.1 271.6,304.3 272.1,304.4 272.6,304.1 273.1,303.7 273.6,303.5 274.1,303.6 274.6,303.8 275.1,304.2 275.6,304.2 276.1,304.4 276.6,304.2 277.1,303.8 277.6,303.2 278.1,303.7 278.6,304.1 279.1,303.9 279.6,304.4 280.1,304.2 280.6,304.2 281.1,304.5 281.6,304.2 282.1,304.3 282.6,304.2 283.1,304.1 283.6,303.8 284.1,303.5 284.6,303.8 285.1,303.8 285.6,304.6 286.1,304.5 286.6,304.2 287.1,304 287.6,304.1 288.1,304.7 288.6,304.7 289.1,304.8 289.6,304.8 290.1,304.8 290.6,304.7 291.1,304.6 291.6,304.5 292.1,304.6 292.6,304.7 293.1,304.9 293.6,304.4 294.1,304.4 294.6,304.5 295.1,304.8 295.6,304.7 296.1,304.6 296.6,304.7 297.1,304.7 297.6,304.6 298.1,304.3 298.6,304.2 299.1,303.8 299.6,303.5 300.1,303.7 300.6,304.1 301.1,304.2 301.6,304.4 302.1,304.6 302.6,304.4 303.1,304.4 303.6,304.6 304.1,304.3 304.6,304.4 305.1,304.6 305.6,304.6 306.1,304.6 306.6,304.5 307.1,304.3 307.6,304.5 308.1,304.4 308.6,303.7 309.1,304.2 309.6,304.5 310.1,304.6 310.6,304.5 311.1,304.6 311.6,304.6 312.1,304.7 312.6,304.6 313.1,304.7 313.6,304 314.1,304 314.6,304.1 315.1,304.5 315.6,304.5 316.1,304.3 316.6,304.5 317.1,304.5 317.6,304.5 318.1,304.4 318.6,304.2 319.1,304.2 319.6,304.2 320.1,304 320.6,304 321.1,304 321.6,304.1 322.1,304.3 322.6,304.4 323.1,304.6 323.6,304.7 324.1,304.5 324.6,304.7 325.1,304.7 325.6,304.7 326.1,304.5 326.6,304.5 327.1,303.9 327.6,303.9 328.1,303.7 328.6,304 329.1,304.5 329.6,304.5 330.1,304.4 330.6,304.4 331.1,304.2 331.6,304.2 332.1,304.3 332.6,304.2 333.1,304.4 333.6,304.5 334.1,304.2 334.6,304.1 335.1,304.5 335.6,304.3 336.1,304.2 336.6,303.9 337.1,304.4 337.6,304.3 338.1,304.3 338.6,304 339.1,304.2 339.6,304.3 340.1,304.1 340.6,303.9 341.1,304 341.6,304 342.1,304.3 342.6,304.2 343.1,303.6 343.6,303.6 344.1,304.1 344.6,304.3 345.1,303.8 345.6,303.7 346.1,303.9 346.6,304.3 347.1,304.3 347.6,304 348.1,303.9 348.6,304.2 349.1,304.2 349.6,304.1 350.1,303.6 350.6,303.5 351.1,304.2 351.6,303.8 352.1,303.5 352.6,303.5 353.1,303.5 353.6,303.9 354.1,304.3 354.6,304.3 355.1,304 355.6,303.3 356.1,303.1 356.6,303.8 357.1,304.3 357.6,304.4 358.1,304.8 358.6,304.5 359.1,304.4 359.6,304.3 360.1,304.5 360.6,304.8 361.1,304.7 361.6,304.9 362.1,304.7 362.6,304.6 363.1,304.7 363.6,304.7 364.1,304.4 364.6,304.6 365.1,304.2 365.6,303.9 366.1,303.8 366.6,303.7 367.1,303.4 367.6,303.9 368.1,303.9 368.6,304.2 369.1,304.3 369.6,304.3 370.1,304.4 370.6,304.4 371.1,304.4 371.6,304 372.1,304.1 372.6,304.3 373.1,304 373.6,303.7 374.1,303.3 374.6,303.7 375.1,303.8 375.6,304.1 376.1,304.2 376.6,304.4 377.1,304.5 377.6,304.5 378.1,304.3 378.6,304.3 379.1,304.3 379.6,304.4 380.1,304 380.6,304.3 381.1,304.1 381.6,304 382.1,303.8 382.6,304 383.1,304.1 383.6,303.6 384.1,303.3 384.6,303.5 385.1,304.5 385.6,304.4 386.1,304.5 386.6,304.5 387.1,304.5 387.6,304.5 388.1,304.2 388.6,303.6 389.1,303.9 389.6,304.1 390.1,304.1 390.6,304.2 391.1,304.4 391.6,304.4 392.1,304.5 392.6,304.5 393.1,304.4 393.6,304.4 394.1,304.3 394.6,304.3 395.1,304.1 395.6,304 396.1,304.1 396.6,304.3 397.1,304.1 397.6,304.1 398.1,304.1 398.6,304.3 399.1,303.9 399.6,303.7 400.1,303.3 400.6,303.5 401.1,303.7 401.6,304.3 402.1,304.3 402.6,304.1 403.1,304.2 403.6,304.3 404.1,304.3 404.6,304.3 405.1,304.2 405.6,304.1 406.1,304.1 406.6,303.9 407.1,303.8 407.6,303.7 408.1,303.6 408.6,303.1 409.1,303.5 409.6,304.2 410.1,304.4 410.6,304.5 411.1,304.7 411.6,304.6 412.1,304.1 412.6,304.4 413.1,304.4 413.6,304.2 414.1,304.2 414.6,304 415.1,303.6 415.6,303.9 416.1,303.7 416.6,304.5 417.1,304.5 417.6,304.7 418.1,304.6 418.6,304.5 419.1,304.7 419.6,304.7 420.1,304.5 420.6,304.5 421.1,304.6 421.6,304.6 422.1,304.3 422.6,304.3 423.1,304.2 423.6,304 424.1,304 424.6,303.8 425.1,304 425.6,304.1 426.1,304.5 426.6,304.4 427.1,304.4 427.6,304.4 428.1,304.5 428.6,304.2 429.1,304.2 429.6,303.5 430.1,303.4 430.6,303 431.1,302.8 431.6,303.4 432.1,303.7 432.6,303.6 433.1,303.9 433.6,303.8 434.1,304.2 434.6,304.2 435.1,304.3 435.6,304.4 436.1,304.4 436.6,304.2 437.1,304.3 437.6,304.3 438.1,304.2 438.6,304.4 439.1,304.4 439.6,304.4 440.1,304.3 440.6,304.1 441.1,304 441.6,304.2 442.1,304.3 442.6,304.4 443.1,304.4 443.6,304.6 444.1,304 444.6,303.9 445.1,304.4 445.6,304.5 446.1,304.4 446.6,304.5 447.1,304.4 447.6,304.5 448.1,304.5 448.6,304.5 449.1,304.4 449.6,304.5 450.1,304.5 450.6,304.5 451.1,304.5 451.6,304.4 452.1,304.5 452.6,304.3 453.1,304.2 453.6,304.1 454.1,304.3 454.6,304.5 455.1,304.4 455.6,304.3 456.1,304 456.6,303.5 457.1,303.5 457.6,303.8 458.1,304 458.6,304.5 459.1,304.3 459.6,304.4 460.1,303.8 460.6,304.4 461.1,304.4 461.6,304 462.1,303.9 462.6,304.3 463.1,304.4 463.6,304.6 464.1,304.6 464.6,304.7 465.1,304.7 465.6,304.8 466.1,304.7 466.6,304.6 467.1,304.1 467.6,304 468.1,304.4 468.6,304.2 469.1,303.3 469.6,303.3 470.1,303.8 470.6,304.3 471.1,304.7 471.6,304.6 472.1,304.5 472.6,304.4 473.1,304.4 473.6,304.2 474.1,304 474.6,304.3 475.1,304.5 475.6,304.5 476.1,304.4 476.6,304.6 477.1,304.6 477.6,304 478.1,303.7 478.6,303.7 479.1,304.1 479.6,304.7 480.1,304.3 480.6,304.7 481.1,304.7 481.6,304.7 482.1,304.5 482.6,304.2 483.1,303.7 483.6,304.2 484.1,304.2 484.6,304.6 485.1,304.7 485.6,304.7 486.1,304.5 486.6,304.2 487.1,304.2 487.6,304.2 488.1,304 488.6,304.3 489.1,304 489.6,304.2 490.1,304.2 490.6,304.1 491.1,304.6 491.6,304.7 492.1,304.7 492.6,304.3 493.1,303.7 493.6,303.3 494.1,303.8 494.6,304.2 495.1,304.6 495.6,304.5 496.1,304.6 496.6,304.5 497.1,304.5 497.6,304.5 498.1,304.3 498.6,304.5 499.1,304.4 499.6,304.3 500.1,304.5 500.6,304.2 501.1,304.4 501.6,304.5 502.1,304.4 502.6,304.3 503.1,304.1 503.6,304.1 504.1,304.4 504.6,304.4 505.1,304.5 505.6,304.5 506.1,304.4 506.6,304.3 507.1,304.4 507.6,304.3 508.1,304.2 508.6,304.3 509.1,304.4 509.6,304.4 510.1,304.2 510.6,304.4 511.1,304 511.6,304 512.1,303.7 512.6,304 513.1,304.1 513.6,304.4 514.1,304.1 514.6,304.1 515.1,303.1 515.6,302.7 516.1,302.9 516.6,303.7 517.1,303.9 517.6,304 518.1,303.9 518.6,304 519.1,304.3 519.6,304.3 520.1,304.2 520.6,304.3 521.1,304.3 521.6,304.3 522.1,304.4 522.6,304.4 523.1,304.4 523.6,304.5 524.1,304.4 524.6,304.5 525.1,304.5 525.6,304.4 526.1,304.5 526.6,304.1 527.1,304 527.6,303.4 528.1,303.1 528.6,303 529.1,303.9 529.6,303.6 530.1,303.3 530.6,303.4 531.1,303.6 531.6,303.9 532.1,304 532.6,304 533.1,303.9 533.6,304.3 534.1,304.3 534.6,304.3 535.1,304.4 535.6,304.2 536.1,304.1 536.6,304.3 537.1,304.2 537.6,303.6 538.1,303.9 538.6,304.3 539.1,303.9 539.6,304.6 540.1,304.8 540.6,304.8 541.1,304.2 541.6,304.3 542.1,304.3 542.6,304.5 543.1,304.3 543.6,304 544.1,303.9 544.6,303.9 545.1,304 545.6,304.3 546.1,304.5 546.6,304.6 547.1,304.5 547.6,304.2 548.1,304.1 548.6,304.1 549.1,304.1 549.6,304.4 550.1,303.8 550.6,304.3 551.1,303.7 551.6,304.4 552.1,304.4 552.6,304.2 553.1,304.2 553.6,304.4 554.1,304.4 554.6,304.1 555.1,303.9 555.6,304.3 556.1,304.3 556.6,303.6 557.1,303.8 557.6,304.5 558.1,304.5 558.6,304.6 559.1,304.5 559.6,304.5 560.1,304.5 560.6,304.3 561.1,303.8 561.6,303.4 562.1,303.3 562.6,303.2 563.1,303.3 563.6,304.3 564.1,304.5 564.6,304.7 565.1,304.8 565.6,304.8 566.1,304.8 566.6,304.8 567.1,304.7 567.6,304.6 568.1,304.4 568.6,304.2 569.1,303.9 569.6,304 570.1,304.1 570.6,304.3 571.1,304.5 571.6,304.5 572.1,304.4 572.6,304.5 573.1,304.6 573.6,304.5 574.1,304.2 574.6,304.8 575.1,304.8 575.6,304.8 576.1,304.6 576.6,304.9 577.1,304.7 577.6,304.4 578.1,304.7 578.6,304.9 579.1,304.9 579.6,304.8 580.1,304.5 580.6,304.3 581.1,304.3 581.6,304 582.1,303.7 582.6,303.8 583.1,304.1 583.6,304.2 584.1,304.4 584.6,304.6 585.1,304.3 585.6,304.3 586.1,304.2 586.6,304.3 587.1,304.2 587.6,304 588.1,303.9 588.6,303.8 589.1,304 589.6,304 590.1,304 590.6,304.1 591.1,304.4 591.6,304.4 592.1,304.4 592.6,304.4 593.1,303.7 593.6,303.8 594.1,303.7 594.6,304.3 595.1,304.5 595.6,304.6 596.1,304.6 596.6,304.4 597.1,304.3 597.6,303.5 598.1,303.6 598.6,303.3 599.1,302.6 599.6,304.2 600.1,304.4 600.6,304.4 601.1,304.5 601.6,304.5 602.1,304 602.6,303.8 603.1,303.5 603.6,303.3 604.1,303.3 604.6,303.2 605.1,303.4 605.6,303.4 606.1,303.3 606.6,303.4 607.1,304.1 607.6,304.1 608.1,304.4 608.6,304.2 609.1,304.5 609.6,304.4 610.1,304.4 610.6,304.4 611.1,304.4 611.6,304.4 612.1,304.5 612.6,304.4 613.1,304 613.6,304.4 614.1,304.5 614.6,304.4 615.1,304.3 615.6,304.6 616.1,304.3 616.6,303.7 617.1,303.8 617.6,303.6 618.1,303.6 618.6,304 619.1,304 619.6,304.3 620.1,304.7 620.6,304.7 621.1,304.5 621.6,304.4 622.1,304.4 622.6,303.9 623.1,303.8 623.6,304.3 624.1,304.2 624.6,303.7 625.1,303.3 625.6,303.5 626.1,303.8 626.6,303.9 627.1,304.1 627.6,303.9 628.1,304 628.6,303.7 629.1,303.7 629.6,303.7 630.1,303.5 630.6,303.4 631.1,303.4 631.6,304 632.1,303.5 632.6,303.4 633.1,303.2 633.6,303.7 634.1,303.9 634.6,303.9 635.1,303.9 635.6,303.9 636.1,303.5 636.6,303.3 637.1,303.4 637.6,303.4 638.1,303.6 638.6,303.8 639.1,303.7 639.6,303.8 640.1,303.8 640.6,303.7 641.1,303.8 641.6,303.5 642.1,303.4 642.6,303.6 643.1,303.4 643.6,303.8 644.1,304.4 644.6,304.6 645.1,304.4 645.6,304.4 646.1,304.7 646.6,305.1 647.1,305.2 647.6,305.4 648.1,305.5 648.6,305.6 649.1,305.8 649.6,305.9 650.1,306.1 650.6,306.2 651.1,306.2 651.1,307 650.6,307 650.1,307.1 649.6,307.2 649.1,307.3 648.6,307.6 648.1,307.7 647.6,307.8 647.1,308.6 646.6,308.4 646.1,308.2 645.6,308.4 645.1,308.5 644.6,309 644.1,309.1 643.6,309.4 643.1,309.8 642.6,309.9 642.1,309.5 641.6,309.3 641.1,309.4 640.6,309.4 640.1,309.6 639.6,309.3 639.1,309.4 638.6,309.3 638.1,309.4 637.6,309.3 637.1,309.2 636.6,309.4 636.1,309.3 635.6,309.4 635.1,309.5 634.6,309.5 634.1,309.5 633.6,309.2 633.1,309.4 632.6,309.5 632.1,309.4 631.6,309.3 631.1,309.3 630.6,309.2 630.1,309.4 629.6,309.2 629.1,309.1 628.6,309 628.1,309 627.6,308.9 627.1,309 626.6,309.6 626.1,309.2 625.6,309.3 625.1,309.4 624.6,309.3 624.1,308.9 623.6,308.5 623.1,308.5 622.6,308.6 622.1,308.6 621.6,308.6 621.1,308.4 620.6,308.8 620.1,308.6 619.6,308.9 619.1,308.9 618.6,309.2 618.1,309.4 617.6,309.4 617.1,309.2 616.6,309 616.1,308.8 615.6,308.7 615.1,308.8 614.6,308.9 614.1,308.8 613.6,308.9 613.1,309 612.6,309 612.1,308.9 611.6,309 611.1,308.8 610.6,309 610.1,309.2 609.6,309.1 609.1,308.7 608.6,309 608.1,308.8 607.6,308.7 607.1,308.8 606.6,308.9 606.1,309.2 605.6,309.2 605.1,309.4 604.6,309.5 604.1,309.3 603.6,309.3 603.1,309.1 602.6,308.9 602.1,308.9 601.6,308.7 601.1,308.6 600.6,308.7 600.1,308.8 599.6,308.9 599.1,309.3 598.6,309.4 598.1,308.9 597.6,308.6 597.1,308.6 596.6,308.7 596.1,308.7 595.6,308.6 595.1,308.8 594.6,309 594.1,309.3 593.6,309.1 593.1,309.1 592.6,308.5 592.1,308.6 591.6,308.7 591.1,308.5 590.6,308.5 590.1,308.7 589.6,308.8 589.1,308.9 588.6,309.2 588.1,309.2 587.6,309.3 587.1,309.1 586.6,309.3 586.1,309.3 585.6,308.8 585.1,308.8 584.6,308.8 584.1,308.8 583.6,309.1 583.1,309.1 582.6,309.5 582.1,309.7 581.6,309.7 581.1,309.3 580.6,309.3 580.1,308.9 579.6,309 579.1,308.8 578.6,308.9 578.1,309.1 577.6,309.2 577.1,308.9 576.6,308.9 576.1,309 575.6,309.1 575.1,309 574.6,309 574.1,309 573.6,308.9 573.1,308.9 572.6,309 572.1,308.8 571.6,308.8 571.1,308.8 570.6,309.3 570.1,309.4 569.6,309.6 569.1,309.7 568.6,309.6 568.1,309.3 567.6,308.7 567.1,308.8 566.6,309.1 566.1,309 565.6,308.8 565.1,308.6 564.6,309.3 564.1,309.4 563.6,309.3 563.1,309.5 562.6,309.9 562.1,310 561.6,309.9 561.1,309.4 560.6,309.1 560.1,308.8 559.6,308.8 559.1,308.8 558.6,308.8 558.1,309 557.6,308.8 557.1,308.7 556.6,309 556.1,309 555.6,308.8 555.1,309.3 554.6,309.2 554.1,308.8 553.6,309.2 553.1,308.7 552.6,309.4 552.1,309.4 551.6,309.3 551.1,308.8 550.6,308.8 550.1,308.7 549.6,309 549.1,308.9 548.6,308.9 548.1,308.9 547.6,308.9 547.1,309.1 546.6,309 546.1,308.9 545.6,309.1 545.1,309.2 544.6,309.4 544.1,309.5 543.6,309.9 543.1,309.1 542.6,308.8 542.1,308.8 541.6,308.9 541.1,308.9 540.6,308.7 540.1,308.7 539.6,308.7 539.1,308.6 538.6,308.7 538.1,309 537.6,309.3 537.1,309.6 536.6,309.4 536.1,308.8 535.6,308.6 535.1,308.7 534.6,308.7 534.1,308.8 533.6,308.7 533.1,309 532.6,309.1 532.1,309.1 531.6,309.2 531.1,309.2 530.6,309.5 530.1,309.5 529.6,309.5 529.1,309.7 528.6,309.2 528.1,309 527.6,309.3 527.1,309.4 526.6,309.1 526.1,309.3 525.6,309.1 525.1,308.6 524.6,308.6 524.1,308.5 523.6,308.7 523.1,308.5 522.6,308.5 522.1,308.7 521.6,308.7 521.1,308.6 520.6,308.6 520.1,308.7 519.6,308.8 519.1,308.8 518.6,309 518.1,309.1 517.6,309.2 517.1,309 516.6,309.2 516.1,309.2 515.6,309.3 515.1,309 514.6,308.9 514.1,308.8 513.6,309 513.1,309.1 512.6,309.2 512.1,309.2 511.6,309.2 511.1,308.8 510.6,308.9 510.1,309 509.6,309.2 509.1,309.2 508.6,309.8 508.1,310 507.6,309.5 507.1,309.3 506.6,308.8 506.1,308.8 505.6,308.7 505.1,308.7 504.6,308.7 504.1,308.7 503.6,308.6 503.1,308.5 502.6,308.6 502.1,308.8 501.6,309.1 501.1,309 500.6,308.9 500.1,308.7 499.6,308.6 499.1,308.7 498.6,308.5 498.1,308.4 497.6,308.6 497.1,308.6 496.6,308.3 496.1,308.8 495.6,309.1 495.1,309.3 494.6,309.1 494.1,309.9 493.6,310 493.1,309.2 492.6,308.7 492.1,308.3 491.6,308.5 491.1,308.3 490.6,308.4 490.1,308.6 489.6,308.7 489.1,308.8 488.6,309 488.1,309 487.6,309.1 487.1,308.9 486.6,308.8 486.1,308.9 485.6,308.7 485.1,308.7 484.6,308.7 484.1,308.9 483.6,308.9 483.1,308.7 482.6,308.8 482.1,308.7 481.6,308.8 481.1,309.3 480.6,309 480.1,308.9 479.6,308.7 479.1,308.8 478.6,308.8 478.1,308.7 477.6,308.8 477.1,309.2 476.6,309.4 476.1,309 475.6,308.8 475.1,308.8 474.6,308.8 474.1,309.1 473.6,308.8 473.1,308.6 472.6,308.4 472.1,308.6 471.6,308.5 471.1,308.4 470.6,308.4 470.1,308.5 469.6,308.5 469.1,308.6 468.6,309.2 468.1,309.4 467.6,310 467.1,310.3 466.6,309.3 466.1,308.6 465.6,308.7 465.1,308.9 464.6,308.7 464.1,308.9 463.6,308.7 463.1,308.7 462.6,308.8 462.1,308.9 461.6,308.9 461.1,308.7 460.6,308.9 460.1,308.9 459.6,308.7 459.1,308.8 458.6,308.8 458.1,309.1 457.6,309.4 457.1,309.6 456.6,309.7 456.1,309.7 455.6,309.5 455.1,308.7 454.6,308.6 454.1,308.6 453.6,308.6 453.1,308.5 452.6,308.5 452.1,308.6 451.6,308.6 451.1,308.5 450.6,308.6 450.1,308.9 449.6,309 449.1,308.7 448.6,308.8 448.1,309 447.6,308.8 447.1,308.8 446.6,308.8 446.1,309 445.6,309 445.1,309.1 444.6,308.9 444.1,308.7 443.6,308.7 443.1,308.7 442.6,308.9 442.1,309.3 441.6,308.8 441.1,308.7 440.6,308.7 440.1,308.9 439.6,308.7 439.1,309 438.6,309.2 438.1,309.2 437.6,309 437.1,308.6 436.6,308.9 436.1,308.9 435.6,308.7 435.1,308.6 434.6,308.7 434.1,309 433.6,309.3 433.1,309.4 432.6,309.5 432.1,309.5 431.6,309.9 431.1,311 430.6,310.7 430.1,310.3 429.6,309.6 429.1,309.1 428.6,308.6 428.1,308.4 427.6,308.8 427.1,308.9 426.6,308.7 426.1,308.6 425.6,308.6 425.1,308.7 424.6,308.9 424.1,309 423.6,309 423.1,308.8 422.6,309.1 422.1,309.4 421.6,309.3 421.1,308.9 420.6,308.9 420.1,308.7 419.6,308.7 419.1,308.7 418.6,308.5 418.1,308.7 417.6,308.5 417.1,308.8 416.6,308.7 416.1,308.8 415.6,308.8 415.1,308.9 414.6,308.9 414.1,309.1 413.6,309 413.1,309.2 412.6,309.2 412.1,308.8 411.6,309 411.1,308.7 410.6,308.8 410.1,308.9 409.6,309.2 409.1,309.4 408.6,309.6 408.1,309.3 407.6,309.3 407.1,309.4 406.6,309.1 406.1,308.8 405.6,308.8 405.1,308.4 404.6,308.6 404.1,308.7 403.6,308.6 403.1,308.7 402.6,308.6 402.1,309.1 401.6,309.1 401.1,309.1 400.6,309.1 400.1,308.6 399.6,308.9 399.1,308.7 398.6,309.3 398.1,309.1 397.6,308.9 397.1,308.7 396.6,309 396.1,308.8 395.6,308.6 395.1,308.5 394.6,308.5 394.1,308.5 393.6,308.7 393.1,308.6 392.6,308.6 392.1,308.9 391.6,308.9 391.1,308.9 390.6,309.1 390.1,309 389.6,309.6 389.1,309.8 388.6,309.6 388.1,309.7 387.6,309.2 387.1,309 386.6,309.2 386.1,309.2 385.6,308.8 385.1,309 384.6,309 384.1,309 383.6,309.3 383.1,309.4 382.6,310.2 382.1,310.1 381.6,309.3 381.1,309.3 380.6,309.1 380.1,308.9 379.6,308.8 379.1,309.1 378.6,308.8 378.1,309.1 377.6,308.9 377.1,308.8 376.6,308.7 376.1,308.9 375.6,309.2 375.1,310 374.6,310.3 374.1,309.8 373.6,309.3 373.1,309.1 372.6,309 372.1,308.6 371.6,308.8 371.1,308.7 370.6,308.6 370.1,308.7 369.6,308.9 369.1,308.6 368.6,308.8 368.1,309.2 367.6,309.2 367.1,309.3 366.6,309.2 366.1,309.2 365.6,309.2 365.1,309 364.6,308.5 364.1,308.5 363.6,308.7 363.1,308.9 362.6,308.9 362.1,308.9 361.6,308.9 361.1,308.8 360.6,308.9 360.1,309.1 359.6,309.2 359.1,309.2 358.6,308.8 358.1,308.6 357.6,309.1 357.1,309.1 356.6,309.1 356.1,309.4 355.6,309.1 355.1,308.7 354.6,308.8 354.1,308.9 353.6,308.9 353.1,309.2 352.6,309.6 352.1,309.6 351.6,309.2 351.1,308.7 350.6,308.7 350.1,308.7 349.6,308.8 349.1,308.8 348.6,308.8 348.1,309 347.6,308.9 347.1,308.9 346.6,308.9 346.1,308.9 345.6,308.7 345.1,308.7 344.6,308.6 344.1,308.7 343.6,308.7 343.1,308.6 342.6,308.7 342.1,308.7 341.6,308.7 341.1,308.8 340.6,308.6 340.1,308.7 339.6,309.3 339.1,309.3 338.6,308.7 338.1,308.7 337.6,308.8 337.1,308.7 336.6,308.8 336.1,308.9 335.6,309 335.1,308.9 334.6,308.6 334.1,309.3 333.6,309.1 333.1,308.8 332.6,308.8 332.1,308.8 331.6,308.5 331.1,308.6 330.6,308.7 330.1,308.7 329.6,309.3 329.1,308.6 328.6,309 328.1,309.1 327.6,309.3 327.1,308.9 326.6,308.8 326.1,308.9 325.6,308.9 325.1,308.9 324.6,308.8 324.1,308.9 323.6,308.9 323.1,309.2 322.6,309.1 322.1,309.2 321.6,309.4 321.1,309.7 320.6,309.7 320.1,309.6 319.6,309.6 319.1,309.4 318.6,309 318.1,308.9 317.6,309.2 317.1,309.3 316.6,309.2 316.1,309.2 315.6,308.9 315.1,308.9 314.6,309.5 314.1,308.9 313.6,308.9 313.1,308.8 312.6,309.2 312.1,308.8 311.6,308.8 311.1,309.1 310.6,309.1 310.1,308.7 309.6,308.8 309.1,308.8 308.6,309 308.1,308.8 307.6,308.8 307.1,308.6 306.6,308.6 306.1,308.6 305.6,308.5 305.1,308.7 304.6,308.5 304.1,308.8 303.6,309 303.1,308.8 302.6,308.6 302.1,308.6 301.6,308.8 301.1,308.9 300.6,309.1 300.1,309.8 299.6,309.3 299.1,309 298.6,308.9 298.1,309 297.6,309 297.1,308.8 296.6,308.7 296.1,309.3 295.6,309.4 295.1,309.4 294.6,308.7 294.1,308.8 293.6,308.8 293.1,309 292.6,309.1 292.1,309.5 291.6,308.6 291.1,308.6 290.6,308.6 290.1,308.5 289.6,308.6 289.1,308.5 288.6,308.5 288.1,309 287.6,309.4 287.1,309.4 286.6,308.8 286.1,309 285.6,308.8 285.1,309 284.6,309.2 284.1,309.4 283.6,309.6 283.1,309.3 282.6,309.1 282.1,308.9 281.6,308.8 281.1,308.7 280.6,308.7 280.1,308.7 279.6,309 279.1,309.2 278.6,308.9 278.1,309.4 277.6,309.5 277.1,309.6 276.6,309.1 276.1,308.8 275.6,309 275.1,309.2 274.6,309.4 274.1,309.6 273.6,309.6 273.1,309.4 272.6,309.1 272.1,309 271.6,309.1 271.1,309.3 270.6,309.2 270.1,309.4 269.6,309.4 269.1,309.3 268.6,308.9 268.1,308.8 267.6,308.9 267.1,308.9 266.6,309.1 266.1,308.9 265.6,308.8 265.1,309 264.6,308.7 264.1,308.9 263.6,308.8 263.1,308.8 262.6,308.8 262.1,308.7 261.6,308.8 261.1,308.9 260.6,308.7 260.1,308.7 259.6,309 259.1,308.8 258.6,308.8 258.1,308.9 257.6,308.7 257.1,308.8 256.6,308.9 256.1,308.6 255.6,308.8 255.1,308.6 254.6,308.9 254.1,309 253.6,309 253.1,309.1 252.6,309.1 252.1,309 251.6,308.8 251.1,308.7 250.6,308.6 250.1,308.5 249.6,308.6 249.1,308.7 248.6,308.8 248.1,308.7 247.6,309 247.1,309.1 246.6,309.1 246.1,309 245.6,308.8 245.1,308.8 244.6,308.8 244.1,308.8 243.6,309 243.1,308.9 242.6,308.8 242.1,309 241.6,309 241.1,309.1 240.6,309.2 240.1,309.3 239.6,309.7 239.1,309.5 238.6,309.4 238.1,309.1 237.6,308.7 237.1,308.5 236.6,308.5 236.1,308.6 235.6,308.6 235.1,309.2 234.6,309.1 234.1,309.2 233.6,308.6 233.1,308.6 232.6,308.7 232.1,308.6 231.6,308.9 231.1,308.6 230.6,308.6 230.1,308.8 229.6,308.8 229.1,309.3 228.6,309.5 228.1,309.5 227.6,308.8 227.1,309.2 226.6,309.4 226.1,309.4 225.6,309.2 225.1,309.3 224.6,309.8 224.1,309.6 223.6,309.3 223.1,309.3 222.6,309 222.1,309 221.6,308.8 221.1,309.4 220.6,308.8 220.1,308.7 219.6,308.7 219.1,308.8 218.6,308.8 218.1,308.9 217.6,308.8 217.1,309.2 216.6,309.4 216.1,309.1 215.6,309.1 215.1,308.8 214.6,308.8 214.1,308.8 213.6,308.8 213.1,308.9 212.6,308.8 212.1,308.8 211.6,308.8 211.1,309.4 210.6,308.7 210.1,308.8 209.6,308.6 209.1,308.6 208.6,308.5 208.1,308.5 207.6,308.7 207.1,309.2 206.6,309.1 206.1,309 205.6,308.9 205.1,308.8 204.6,308.6 204.1,308.6 203.6,309.1 203.1,309 202.6,309.4 202.1,309.1 201.6,308.9 201.1,308.9 200.6,309.1 200.1,309.1 199.6,309 199.1,308.9 198.6,308.7 198.1,308.6 197.6,309.1 197.1,308.8 196.6,309.3 196.1,308.8 195.6,308.8 195.1,308.9 194.6,309 194.1,309.1 193.6,309.3 193.1,309.2 192.6,309.2 192.1,309.3 191.6,309.7 191.1,309.6 190.6,309.7 190.1,310 189.6,309.8 189.1,309.6 188.6,309.4 188.1,309.1 187.6,309.4 187.1,309.3 186.6,308.8 186.1,308.6 185.6,308.5 185.1,308.6 184.6,309.1 184.1,309.2 183.6,309.3 183.1,309.1 182.6,308.6 182.1,309 181.6,309.1 181.1,309.2 180.6,309.4 180.1,309.4 179.6,309.7 179.1,309.7 178.6,309.8 178.1,310.3 177.6,309.7 177.1,309.6 176.6,309.6 176.1,309.2 175.6,309.2 175.1,308.9 174.6,308.7 174.1,308.8 173.6,309 173.1,308.8 172.6,308.7 172.1,308.8 171.6,308.9 171.1,308.6 170.6,308.8 170.1,308.8 169.6,308.8 169.1,308.8 168.6,308.8 168.1,308.9 167.6,309 167.1,308.9 166.6,308.8 166.1,308.8 165.6,308.9 165.1,308.9 164.6,308.9 164.1,308.8 163.6,308.8 163.1,308.9 162.6,309.6 162.1,309.6 161.6,309 161.1,308.9 160.6,309 160.1,308.9 159.6,308.7 159.1,308.7 158.6,308.8 158.1,308.6 157.6,308.8 157.1,308.8 156.6,308.8 156.1,308.8 155.6,308.7 155.1,308.8 154.6,308.9 154.1,308.7 153.6,309 153.1,309 152.6,309 152.1,309.2 151.6,309 151.1,308.8 150.6,308.9 150.1,308.9 149.6,309.1 149.1,308.8 148.6,308.7 148.1,308.7 147.6,308.7 147.1,308.8 146.6,308.9 146.1,309 145.6,309.2 145.1,309.1 144.6,308.8 144.1,309 143.6,308.9 143.1,309.1 142.6,309.4 142.1,309.3 141.6,308.8 141.1,308.6 140.6,308.7 140.1,308.7 139.6,308.8 139.1,308.6 138.6,308.5 138.1,308.5 137.6,308.5 137.1,308.5 136.6,308.6 136.1,308.6 135.6,309 135.1,308.9 134.6,308.6 134.1,308.5 133.6,308.8 133.1,308.7 132.6,308.6 132.1,308.7 131.6,308.6 131.1,308.6 130.6,308.7 130.1,309 129.6,309.1 129.1,309.1 128.6,309.1 128.1,308.9 127.6,309 127.1,308.6 126.6,308.8 126.1,308.5 125.6,308.6 125.1,308.6 124.6,308.6 124.1,308.4 123.6,308.4 123.1,308.5 122.6,308.5 122.1,308.8 121.6,309 121.1,308.8 120.6,308.6 120.1,308.5 119.6,308.6 119.1,308.7 118.6,308.6 118.1,308.7 117.6,308.5 117.1,308.4 116.6,308.5 116.1,308.5 115.6,308.5 115.1,308.6 114.6,308.6 114.1,308.6 113.6,308.9 113.1,309 112.6,309 112.1,309.1 111.6,309.1 111.1,308.7 110.6,308.6 110.1,308.7 109.6,308.8 109.1,308.8 108.6,308.8 108.1,309.1 107.6,309.1 107.1,309.1 106.6,309.3 106.1,309.5 105.6,309.5 105.1,309.4 104.6,309.2 104.1,309.4 103.6,308.8 103.1,308.9 102.6,309 102.1,308.9 101.6,309 101.1,309 100.6,308.9 100.1,308.9 99.6,308.8 99.1,308.9 98.6,309.3 98.1,309 97.6,309 97.1,308.9 96.6,308.8 96.1,308.8 95.6,308.8 95.1,309 94.6,309.3 94.1,309.5 93.6,309.2 93.1,309 92.6,309 92.1,308.9 91.6,309 91.1,308.9 90.6,309.1 90.1,309.1 89.6,309 89.1,308.7 88.6,308.7 88.1,308.9 87.6,309.6 87.1,309.6 86.6,309.4 86.1,308.5Z"/><path d="M86.1,320.7 86.6,320.9 87.1,320.8 87.6,320.8 88.1,320.9 88.6,320.7 89.1,320.8 89.6,320.8 90.1,320.7 90.6,320.6 91.1,320.7 91.6,320.7 92.1,320.6 92.6,320.7 93.1,320.8 93.6,320.7 94.1,320.7 94.6,320.8 95.1,320.7 95.6,320.8 96.1,320.8 96.6,320.6 97.1,320.3 97.6,320.4 98.1,320.8 98.6,320.7 99.1,320.7 99.6,320.8 100.1,320.7 100.6,320.4 101.1,320.3 101.6,320.3 102.1,320.2 102.6,320.4 103.1,320.4 103.6,320 104.1,319.5 104.6,319.2 105.1,319.4 105.6,319.5 106.1,319.7 106.6,319.7 107.1,319.4 107.6,319.4 108.1,319.8 108.6,320.1 109.1,320 109.6,319.7 110.1,319.9 110.6,320 111.1,319.8 111.6,320.1 112.1,320.1 112.6,320.1 113.1,320.5 113.6,320.7 114.1,320.8 114.6,320.7 115.1,320.7 115.6,320.6 116.1,320.8 116.6,320.7 117.1,320.5 117.6,320.2 118.1,319.8 118.6,320 119.1,320.2 119.6,320.6 120.1,320.7 120.6,320.8 121.1,320.4 121.6,320.2 122.1,320.4 122.6,320.3 123.1,320.2 123.6,319.5 124.1,319.4 124.6,319.9 125.1,320.2 125.6,320.6 126.1,320.6 126.6,320.5 127.1,320.2 127.6,319.9 128.1,320.1 128.6,320.4 129.1,320.4 129.6,320.6 130.1,320.8 130.6,320.8 131.1,320.8 131.6,320.7 132.1,320.8 132.6,320.8 133.1,320.5 133.6,320.3 134.1,320.2 134.6,320.7 135.1,320.8 135.6,320.7 136.1,320.6 136.6,320.5 137.1,320.5 137.6,320.2 138.1,319.9 138.6,319.6 139.1,319.3 139.6,318.8 140.1,318 140.6,317.8 141.1,318.4 141.6,318.7 142.1,318.5 142.6,318.4 143.1,318.3 143.6,318.3 144.1,318.8 144.6,318.9 145.1,319.2 145.6,319.4 146.1,319.7 146.6,319.7 147.1,319.6 147.6,319.7 148.1,319.8 148.6,319.9 149.1,319.6 149.6,319.5 150.1,319.7 150.6,319.8 151.1,319.8 151.6,319.8 152.1,319.9 152.6,319.9 153.1,319.8 153.6,320.1 154.1,320.2 154.6,320.4 155.1,320.5 155.6,320.5 156.1,320.5 156.6,320.5 157.1,320.4 157.6,320.5 158.1,320.4 158.6,320.7 159.1,320.6 159.6,320.7 160.1,320.7 160.6,320 161.1,319.8 161.6,320 162.1,320.3 162.6,320.4 163.1,320.6 163.6,320.7 164.1,320.9 164.6,320.9 165.1,320.8 165.6,320.8 166.1,320.9 166.6,320.8 167.1,320.8 167.6,320.7 168.1,320.9 168.6,320.8 169.1,320.9 169.6,320.6 170.1,320.2 170.6,319.4 171.1,319.7 171.6,320.1 172.1,320.7 172.6,320.9 173.1,320.7 173.6,320.7 174.1,320.8 174.6,320.7 175.1,320.8 175.6,320.5 176.1,320.5 176.6,320.7 177.1,320.6 177.6,320.6 178.1,320.4 178.6,320.6 179.1,320.5 179.6,320.6 180.1,320.7 180.6,320.6 181.1,320.5 181.6,320.6 182.1,320.6 182.6,320.5 183.1,320.7 183.6,320.7 184.1,320.6 184.6,320.7 185.1,320.6 185.6,320.4 186.1,320 186.6,319.7 187.1,319.3 187.6,319.7 188.1,320.3 188.6,320.4 189.1,320.6 189.6,320.8 190.1,320.6 190.6,320.7 191.1,320.7 191.6,320.9 192.1,320.8 192.6,320.9 193.1,320.8 193.6,320.7 194.1,320.4 194.6,320.6 195.1,320.5 195.6,320.6 196.1,320.8 196.6,320.8 197.1,320.8 197.6,320.8 198.1,320.9 198.6,320.8 199.1,320.9 199.6,320.7 200.1,320.6 200.6,320.6 201.1,320.8 201.6,320.7 202.1,320.8 202.6,320.8 203.1,320.8 203.6,320.8 204.1,320.6 204.6,320.8 205.1,320.5 205.6,320.5 206.1,320.5 206.6,320.8 207.1,320.7 207.6,320.8 208.1,320.9 208.6,320.8 209.1,320.9 209.6,320.9 210.1,320.8 210.6,320.7 211.1,320.7 211.6,320.8 212.1,320.9 212.6,320.8 213.1,320.9 213.6,320.9 214.1,320.8 214.6,320.6 215.1,320.5 215.6,320.4 216.1,320.3 216.6,320.2 217.1,320.4 217.6,320.8 218.1,320.6 218.6,320.5 219.1,320.4 219.6,320.2 220.1,320.4 220.6,320.5 221.1,320.8 221.6,320.2 222.1,320.2 222.6,320.6 223.1,320.8 223.6,320.6 224.1,320.4 224.6,320.2 225.1,320.1 225.6,319.8 226.1,320.4 226.6,320.6 227.1,320.7 227.6,320.6 228.1,320.6 228.6,320.7 229.1,320.7 229.6,320.7 230.1,320.7 230.6,320.8 231.1,320.4 231.6,320.2 232.1,320.2 232.6,320.4 233.1,320.6 233.6,320.6 234.1,320.8 234.6,320.8 235.1,320.9 235.6,320.8 236.1,320.8 236.6,320.8 237.1,320.8 237.6,320.4 238.1,320.4 238.6,320.7 239.1,320.6 239.6,320.5 240.1,320.4 240.6,320.4 241.1,320.3 241.6,320.5 242.1,320.5 242.6,320.5 243.1,320.5 243.6,320.6 244.1,320.6 244.6,320.4 245.1,320.4 245.6,320.7 246.1,320.8 246.6,320.7 247.1,320.6 247.6,320.7 248.1,320.6 248.6,320.7 249.1,320.5 249.6,320.4 250.1,320.4 250.6,320.7 251.1,319.9 251.6,319.8 252.1,319.8 252.6,320.3 253.1,320.8 253.6,320.6 254.1,320.6 254.6,320.7 255.1,320.7 255.6,320.6 256.1,320.6 256.6,320.8 257.1,320.8 257.6,320.7 258.1,320.9 258.6,320.8 259.1,320.7 259.6,320.4 260.1,319.8 260.6,319.7 261.1,320.5 261.6,320.6 262.1,320.8 262.6,320.9 263.1,321 263.6,320.9 264.1,320.9 264.6,321 265.1,320.8 265.6,320.9 266.1,320.9 266.6,320.6 267.1,320.5 267.6,320.6 268.1,320.9 268.6,320.9 269.1,320.9 269.6,320.8 270.1,320.9 270.6,320.9 271.1,321 271.6,320.9 272.1,320.9 272.6,320.8 273.1,320.6 273.6,320.3 274.1,320.1 274.6,320.5 275.1,320.2 275.6,320.8 276.1,320.8 276.6,320.5 277.1,320.1 277.6,320.1 278.1,320.4 278.6,320.9 279.1,320.9 279.6,320.5 280.1,320.2 280.6,319.9 281.1,320.1 281.6,320.4 282.1,320.5 282.6,320.8 283.1,321 283.6,321 284.1,321 284.6,321 285.1,320.8 285.6,320.6 286.1,320.8 286.6,320.6 287.1,320.9 287.6,320.9 288.1,321 288.6,320.8 289.1,320.9 289.6,320.9 290.1,320.9 290.6,321 291.1,320.8 291.6,320.8 292.1,320.8 292.6,320.6 293.1,320.7 293.6,320.6 294.1,320.7 294.6,320.2 295.1,320.4 295.6,320.7 296.1,320.4 296.6,320 297.1,320.5 297.6,320.5 298.1,320.7 298.6,320.4 299.1,320.6 299.6,320.4 300.1,320.2 300.6,320.5 301.1,320.6 301.6,320.5 302.1,320.2 302.6,320.1 303.1,320.4 303.6,320.8 304.1,320.7 304.6,320.9 305.1,320.9 305.6,320.8 306.1,320.9 306.6,320.8 307.1,320.6 307.6,320.4 308.1,320.9 308.6,320.9 309.1,320.8 309.6,320.8 310.1,320.9 310.6,320.7 311.1,320.8 311.6,320.9 312.1,320.7 312.6,320.9 313.1,320.8 313.6,320.6 314.1,320.2 314.6,319.9 315.1,320 315.6,320.3 316.1,320.6 316.6,320.8 317.1,320.4 317.6,320.3 318.1,320.9 318.6,320.9 319.1,320.8 319.6,320.9 320.1,320.8 320.6,320.7 321.1,320.4 321.6,320.7 322.1,320.8 322.6,320.7 323.1,320.5 323.6,320.3 324.1,320 324.6,319.9 325.1,320 325.6,320.3 326.1,320.5 326.6,320.7 327.1,320.8 327.6,320.6 328.1,320.6 328.6,320.7 329.1,320.8 329.6,320.8 330.1,320.6 330.6,320.5 331.1,320.4 331.6,320.4 332.1,320.5 332.6,320.5 333.1,320.6 333.6,320.8 334.1,320.8 334.6,320.7 335.1,320.3 335.6,320.4 336.1,320.3 336.6,320.8 337.1,320.8 337.6,320.8 338.1,320.8 338.6,320.7 339.1,320.7 339.6,320.8 340.1,320.4 340.6,320.6 341.1,320.3 341.6,320.3 342.1,320.3 342.6,320.5 343.1,320.4 343.6,320.6 344.1,320.6 344.6,320 345.1,320.2 345.6,320.1 346.1,320.4 346.6,320.6 347.1,320.6 347.6,320.7 348.1,320.8 348.6,320.8 349.1,320.7 349.6,320.5 350.1,320.6 350.6,320.5 351.1,320.7 351.6,320.9 352.1,320.8 352.6,320.6 353.1,320.8 353.6,320.8 354.1,320.9 354.6,320.9 355.1,320.8 355.6,320.9 356.1,320.9 356.6,320.9 357.1,320.8 357.6,320.9 358.1,320.9 358.6,320.9 359.1,320.7 359.6,320.8 360.1,320.8 360.6,320.9 361.1,320.8 361.6,320.8 362.1,320.9 362.6,321 363.1,320.9 363.6,320.7 364.1,320.7 364.6,320.6 365.1,320.8 365.6,320.4 366.1,320.3 366.6,320.7 367.1,320.5 367.6,320.4 368.1,320.4 368.6,320.7 369.1,320.6 369.6,320.6 370.1,320.4 370.6,320.2 371.1,320.3 371.6,320.6 372.1,320.6 372.6,320.8 373.1,320.5 373.6,320.6 374.1,320.8 374.6,320.8 375.1,320.9 375.6,320.8 376.1,320.9 376.6,320.6 377.1,320.7 377.6,320.8 378.1,320.7 378.6,320.9 379.1,320.8 379.6,320.8 380.1,320.6 380.6,320.6 381.1,320.5 381.6,320.5 382.1,320.6 382.6,320.3 383.1,320.3 383.6,320.3 384.1,320.8 384.6,320.7 385.1,320.6 385.6,320.3 386.1,320.4 386.6,320.4 387.1,320.5 387.6,320.7 388.1,320.8 388.6,320.8 389.1,320.8 389.6,320.7 390.1,320.5 390.6,320.6 391.1,320.6 391.6,320.5 392.1,320.5 392.6,320.5 393.1,320.7 393.6,320.4 394.1,320 394.6,320.4 395.1,320.3 395.6,320.8 396.1,320.8 396.6,320.7 397.1,320.9 397.6,320.9 398.1,320.8 398.6,320.8 399.1,320.9 399.6,320.8 400.1,320.8 400.6,320.7 401.1,320.8 401.6,320.8 402.1,320.8 402.6,320.6 403.1,320.7 403.6,320.8 404.1,320.7 404.6,320.8 405.1,320.7 405.6,320.7 406.1,320.8 406.6,320.9 407.1,320.6 407.6,320.1 408.1,320.3 408.6,320.5 409.1,320.7 409.6,320.8 410.1,320.8 410.6,320.2 411.1,320 411.6,320.1 412.1,320.4 412.6,320.5 413.1,320.8 413.6,320.8 414.1,320.8 414.6,320.9 415.1,320.8 415.6,320.8 416.1,320.8 416.6,320.7 417.1,320.3 417.6,320.2 418.1,320.2 418.6,320.8 419.1,320.8 419.6,320.8 420.1,320.9 420.6,320.9 421.1,320.9 421.6,320.8 422.1,320.9 422.6,320.5 423.1,320.2 423.6,320.9 424.1,320.9 424.6,320.4 425.1,320.3 425.6,320.1 426.1,320.2 426.6,320.4 427.1,320.6 427.6,320.6 428.1,320.5 428.6,320.5 429.1,320 429.6,320.2 430.1,320 430.6,320.3 431.1,320.3 431.6,320.6 432.1,320.5 432.6,320.5 433.1,320.6 433.6,320.5 434.1,320.7 434.6,320.8 435.1,320.3 435.6,320.3 436.1,320.4 436.6,320.8 437.1,320.8 437.6,320.8 438.1,320.7 438.6,320.8 439.1,320.8 439.6,320.5 440.1,320.6 440.6,320.7 441.1,320.6 441.6,320.4 442.1,320.2 442.6,320 443.1,320.2 443.6,320.3 444.1,320.3 444.6,320.6 445.1,320.7 445.6,320.8 446.1,320.8 446.6,320.8 447.1,320.6 447.6,320.6 448.1,320.5 448.6,320.2 449.1,320.3 449.6,320.2 450.1,320.5 450.6,320.6 451.1,320.8 451.6,320.9 452.1,320.8 452.6,320.8 453.1,320.8 453.6,320.7 454.1,320.7 454.6,320.8 455.1,320.9 455.6,320.7 456.1,320.8 456.6,320.9 457.1,320.8 457.6,320.7 458.1,320.9 458.6,320.9 459.1,320.7 459.6,320.6 460.1,320.6 460.6,320.8 461.1,320.7 461.6,320.8 462.1,320.7 462.6,320.7 463.1,320.7 463.6,320.6 464.1,320.7 464.6,320.7 465.1,320.7 465.6,320.8 466.1,320.7 466.6,320.4 467.1,320.3 467.6,320.5 468.1,320.1 468.6,319.8 469.1,320.1 469.6,320.1 470.1,320.3 470.6,320.6 471.1,320.7 471.6,320.5 472.1,320.6 472.6,320.9 473.1,320.9 473.6,320.7 474.1,320.7 474.6,320.4 475.1,320.3 475.6,320.2 476.1,319.9 476.6,320.3 477.1,320.2 477.6,320.3 478.1,320.5 478.6,320.5 479.1,320.7 479.6,320.9 480.1,320.8 480.6,320.9 481.1,320.9 481.6,320.8 482.1,320.8 482.6,320.8 483.1,320.7 483.6,320.6 484.1,320.4 484.6,320.8 485.1,320.7 485.6,320.8 486.1,320.8 486.6,320.8 487.1,320.7 487.6,320.7 488.1,320.8 488.6,320.8 489.1,320.8 489.6,320.8 490.1,320.7 490.6,320.5 491.1,320.7 491.6,320.8 492.1,320.8 492.6,320.9 493.1,320.9 493.6,320.9 494.1,320.8 494.6,320.7 495.1,320.8 495.6,320.8 496.1,321 496.6,320.8 497.1,320.5 497.6,320.3 498.1,320.1 498.6,320.3 499.1,320.5 499.6,320.5 500.1,319.9 500.6,320.7 501.1,320.7 501.6,320.8 502.1,320.6 502.6,320.3 503.1,319.7 503.6,319 504.1,319.4 504.6,320 505.1,320.3 505.6,320.5 506.1,320.4 506.6,320.4 507.1,320.3 507.6,320.4 508.1,320.4 508.6,320.5 509.1,320.6 509.6,320.5 510.1,320.7 510.6,320.7 511.1,320.6 511.6,320.4 512.1,320.1 512.6,319.9 513.1,319.7 513.6,319.9 514.1,320.3 514.6,320.4 515.1,320.5 515.6,320.7 516.1,320.8 516.6,320.4 517.1,320.5 517.6,320.6 518.1,320.7 518.6,320.8 519.1,320.7 519.6,320.8 520.1,320.8 520.6,320.7 521.1,320.8 521.6,320.8 522.1,320.8 522.6,320.7 523.1,320.5 523.6,320.6 524.1,320.8 524.6,320.8 525.1,320.7 525.6,320.7 526.1,320.5 526.6,320.7 527.1,320.7 527.6,320.7 528.1,320.7 528.6,320.6 529.1,320.6 529.6,320.8 530.1,320.7 530.6,320.7 531.1,320.7 531.6,320.7 532.1,320.7 532.6,320.5 533.1,320.2 533.6,319.7 534.1,319.8 534.6,320.6 535.1,320.8 535.6,320.9 536.1,320.9 536.6,320.9 537.1,320.9 537.6,320.9 538.1,320.8 538.6,320.7 539.1,320.4 539.6,320.2 540.1,320.1 540.6,320.4 541.1,320.4 541.6,320.2 542.1,319.6 542.6,320.4 543.1,320.7 543.6,320.7 544.1,320.7 544.6,320.7 545.1,320.8 545.6,320.8 546.1,320.7 546.6,320.5 547.1,320.6 547.6,320.8 548.1,320.8 548.6,320.5 549.1,320.5 549.6,320.4 550.1,320.7 550.6,320.7 551.1,320.8 551.6,320.8 552.1,320.5 552.6,320.6 553.1,320.7 553.6,320.7 554.1,320.7 554.6,320.8 555.1,320.7 555.6,320.7 556.1,320.5 556.6,320.5 557.1,320.8 557.6,320.7 558.1,320.8 558.6,320.8 559.1,320.9 559.6,320.8 560.1,320.9 560.6,320.4 561.1,319.7 561.6,319.9 562.1,320.6 562.6,320.9 563.1,320.9 563.6,320.5 564.1,320.6 564.6,320.2 565.1,320.5 565.6,320.8 566.1,320.8 566.6,320.9 567.1,320.8 567.6,320.7 568.1,320.7 568.6,320.5 569.1,320.3 569.6,320.3 570.1,320.6 570.6,320.6 571.1,320.7 571.6,320.6 572.1,320.2 572.6,320.3 573.1,320.9 573.6,320.9 574.1,320.8 574.6,320.7 575.1,320.8 575.6,320.7 576.1,320.8 576.6,320.7 577.1,320.6 577.6,320.6 578.1,320.6 578.6,320.5 579.1,320.5 579.6,320.6 580.1,320.7 580.6,320.7 581.1,320.7 581.6,320.3 582.1,320.3 582.6,320.2 583.1,320.7 583.6,320.6 584.1,320.6 584.6,320.6 585.1,320.2 585.6,320.4 586.1,320.6 586.6,320.5 587.1,320.5 587.6,320.7 588.1,320.8 588.6,320.8 589.1,320.8 589.6,320.6 590.1,320.7 590.6,320.8 591.1,320.8 591.6,320.8 592.1,320.8 592.6,320.4 593.1,320.7 593.6,320.4 594.1,320.6 594.6,320.3 595.1,320.7 595.6,320.6 596.1,320 596.6,319.7 597.1,319.3 597.6,319.5 598.1,319.7 598.6,319.8 599.1,319.7 599.6,319.6 600.1,319.7 600.6,320.1 601.1,320.6 601.6,320.7 602.1,320.7 602.6,320.3 603.1,320.1 603.6,320 604.1,320.5 604.6,320.6 605.1,320.6 605.6,320.1 606.1,320.4 606.6,320.6 607.1,320.6 607.6,320.5 608.1,320.5 608.6,320.6 609.1,320.7 609.6,320.5 610.1,320.6 610.6,320.7 611.1,320.3 611.6,320.1 612.1,320.2 612.6,320.3 613.1,320.6 613.6,320.5 614.1,320.7 614.6,320.6 615.1,320.5 615.6,320.5 616.1,320.7 616.6,320.6 617.1,320.6 617.6,320.6 618.1,320.6 618.6,320.3 619.1,320.3 619.6,320.5 620.1,320.3 620.6,320.3 621.1,320.2 621.6,319.7 622.1,319.7 622.6,319.2 623.1,319.2 623.6,319.7 624.1,319.5 624.6,320 625.1,319.9 625.6,319.8 626.1,320.1 626.6,319.9 627.1,319.9 627.6,319.8 628.1,319.8 628.6,319.7 629.1,319.7 629.6,319.5 630.1,319.3 630.6,319.2 631.1,319.4 631.6,319.1 632.1,319.3 632.6,319.2 633.1,319.1 633.6,319.2 634.1,319.1 634.6,319 635.1,319 635.6,319 636.1,318.9 636.6,319 637.1,319.1 637.6,319.1 638.1,318.9 638.6,319 639.1,318.7 639.6,318.9 640.1,318.8 640.6,318.7 641.1,318.8 641.6,318.3 642.1,318.7 642.6,319.1 643.1,319.6 643.6,320.1 644.1,320.3 644.6,320.5 645.1,320.6 645.6,320.8 646.1,320.9 646.6,321.1 647.1,321.2 647.6,321.4 648.1,321.5 648.6,321.6 649.1,321.8 649.6,321.9 650.1,322.1 650.6,322.1 651.1,322.1 651.1,322.9 650.6,322.9 650.1,323 649.6,323 649.1,323.2 648.6,323.3 648.1,323.4 647.6,323.6 647.1,323.7 646.6,323.9 646.1,324 645.6,324.2 645.1,324.4 644.6,324.6 644.1,325.1 643.6,325.6 643.1,325.5 642.6,325.8 642.1,326.2 641.6,326.5 641.1,326.5 640.6,326.2 640.1,326 639.6,326.6 639.1,326.2 638.6,326.1 638.1,326.4 637.6,326.3 637.1,326.3 636.6,326 636.1,326.1 635.6,326.1 635.1,325.9 634.6,325.9 634.1,326 633.6,325.9 633.1,325.9 632.6,325.8 632.1,325.8 631.6,325.8 631.1,326 630.6,326.3 630.1,325.7 629.6,325.5 629.1,325.6 628.6,325.6 628.1,325.5 627.6,325.3 627.1,325.4 626.6,325.2 626.1,325.2 625.6,325 625.1,324.9 624.6,324.9 624.1,325.1 623.6,325.3 623.1,325.2 622.6,325 622.1,325.1 621.6,324.9 621.1,325 620.6,324.8 620.1,324.6 619.6,324.8 619.1,324.7 618.6,324.6 618.1,324.3 617.6,324.3 617.1,324.2 616.6,324.2 616.1,324.2 615.6,324.4 615.1,324.3 614.6,324.2 614.1,324.2 613.6,324.2 613.1,324.3 612.6,324.7 612.1,324.9 611.6,324.9 611.1,324.5 610.6,324.3 610.1,324.4 609.6,324.3 609.1,324.1 608.6,324.3 608.1,324.2 607.6,324.3 607.1,324.3 606.6,324.5 606.1,324.3 605.6,324.2 605.1,324.3 604.6,324.4 604.1,324.4 603.6,324.3 603.1,324.2 602.6,324.2 602.1,324.5 601.6,324.5 601.1,324.4 600.6,324.7 600.1,324.5 599.6,324.6 599.1,324.3 598.6,324.6 598.1,324.8 597.6,325 597.1,325 596.6,324.5 596.1,324.2 595.6,324.2 595.1,324.3 594.6,324 594.1,324.1 593.6,324.1 593.1,324.1 592.6,324.2 592.1,324.3 591.6,324.3 591.1,324.8 590.6,324.7 590.1,324.3 589.6,324.5 589.1,325.1 588.6,324.9 588.1,324.4 587.6,324.4 587.1,324.4 586.6,324.4 586.1,324.5 585.6,324.6 585.1,324.7 584.6,324.7 584.1,324.5 583.6,324.5 583.1,324.4 582.6,324.4 582.1,324.3 581.6,324.3 581.1,324.4 580.6,324.5 580.1,324.4 579.6,324.3 579.1,324.3 578.6,324.3 578.1,324.3 577.6,324.3 577.1,324.2 576.6,324.3 576.1,324.4 575.6,324.2 575.1,324.4 574.6,324.3 574.1,324.3 573.6,324.4 573.1,324.3 572.6,324.4 572.1,324.3 571.6,324.5 571.1,324.6 570.6,324.6 570.1,324.5 569.6,324.6 569.1,324.8 568.6,324.6 568.1,324.4 567.6,324.3 567.1,324.3 566.6,324.2 566.1,324.1 565.6,324.2 565.1,324.1 564.6,324.2 564.1,324.3 563.6,324.3 563.1,324.2 562.6,324.2 562.1,324.5 561.6,324.9 561.1,325.2 560.6,324.6 560.1,324.2 559.6,324.3 559.1,324.3 558.6,324.5 558.1,324.5 557.6,324.5 557.1,324.5 556.6,324.5 556.1,324.4 555.6,324.3 555.1,324.4 554.6,324.5 554.1,324.4 553.6,324.4 553.1,324.5 552.6,324.3 552.1,324.3 551.6,324.2 551.1,324.5 550.6,324.2 550.1,324.1 549.6,324.1 549.1,324.2 548.6,324.3 548.1,324.2 547.6,324.2 547.1,324 546.6,324 546.1,324.1 545.6,324.3 545.1,324.4 544.6,324.3 544.1,324 543.6,324.1 543.1,324.3 542.6,324.5 542.1,325 541.6,325 541.1,324.6 540.6,324.8 540.1,324.9 539.6,324.9 539.1,324.6 538.6,324.5 538.1,324.2 537.6,324.1 537.1,324.1 536.6,324.1 536.1,324.5 535.6,324.7 535.1,324.4 534.6,324.6 534.1,324.9 533.6,325 533.1,325.3 532.6,325.1 532.1,324.5 531.6,324.3 531.1,324.3 530.6,324.8 530.1,324.7 529.6,324.7 529.1,324.3 528.6,324.2 528.1,324.3 527.6,324.2 527.1,324.5 526.6,324.5 526.1,324.1 525.6,324.2 525.1,324.5 524.6,324.1 524.1,324.1 523.6,324.2 523.1,324.1 522.6,324.1 522.1,324.1 521.6,324.2 521.1,324.3 520.6,324.3 520.1,324.2 519.6,324.2 519.1,324.2 518.6,324.1 518.1,324.2 517.6,324.2 517.1,324.5 516.6,324.6 516.1,324.6 515.6,324.3 515.1,324.3 514.6,324.4 514.1,324.6 513.6,324.6 513.1,324.5 512.6,324.4 512.1,324.5 511.6,324.1 511.1,324.2 510.6,324.1 510.1,324.1 509.6,324.1 509.1,324.1 508.6,324.2 508.1,324 507.6,324.2 507.1,324 506.6,324.1 506.1,324.5 505.6,324.3 505.1,325 504.6,325.4 504.1,325.7 503.6,325.6 503.1,325.6 502.6,324.8 502.1,324.6 501.6,324.6 501.1,324.7 500.6,324.6 500.1,324.8 499.6,324.7 499.1,324.6 498.6,324.4 498.1,324.5 497.6,324.5 497.1,324.4 496.6,324.3 496.1,324.2 495.6,324.2 495.1,324.2 494.6,324.3 494.1,324.2 493.6,324.2 493.1,324.5 492.6,324.2 492.1,324.1 491.6,324.2 491.1,324.8 490.6,324.6 490.1,324.2 489.6,324.2 489.1,324.2 488.6,324.2 488.1,324.6 487.6,324.1 487.1,324.1 486.6,324.1 486.1,324.1 485.6,324.2 485.1,324.4 484.6,324.1 484.1,324.6 483.6,324.6 483.1,324.2 482.6,324.2 482.1,324.1 481.6,324.3 481.1,324.2 480.6,324.2 480.1,324.6 479.6,324.5 479.1,324.2 478.6,324.4 478.1,324.5 477.6,324.7 477.1,324.8 476.6,325 476.1,324.9 475.6,324.7 475.1,324.4 474.6,324.2 474.1,324.2 473.6,324.2 473.1,324.6 472.6,324.6 472.1,325 471.6,324.7 471.1,324.6 470.6,324.2 470.1,324.3 469.6,325 469.1,325.1 468.6,324.9 468.1,324.5 467.6,324.6 467.1,324.6 466.6,324.5 466.1,324.3 465.6,324.3 465.1,324.2 464.6,324.2 464.1,324.2 463.6,324.4 463.1,324.3 462.6,324.2 462.1,324.3 461.6,324.3 461.1,324.4 460.6,324.4 460.1,324.3 459.6,324.3 459.1,324.2 458.6,324.2 458.1,324.1 457.6,324.1 457.1,324.1 456.6,324.1 456.1,324 455.6,324.2 455.1,324.2 454.6,324.1 454.1,324.2 453.6,324.1 453.1,324.1 452.6,324 452.1,324.1 451.6,324 451.1,324.1 450.6,324.6 450.1,324.1 449.6,324.4 449.1,324.4 448.6,324.4 448.1,324.4 447.6,324.3 447.1,324.2 446.6,324.1 446.1,324.2 445.6,324.2 445.1,324.3 444.6,324.4 444.1,324.6 443.6,324.9 443.1,325.5 442.6,325.2 442.1,325.1 441.6,325 441.1,324.6 440.6,324.6 440.1,324.4 439.6,324.2 439.1,324.2 438.6,324.2 438.1,324.1 437.6,324.1 437.1,324.3 436.6,324.4 436.1,324.1 435.6,324.6 435.1,324.1 434.6,324.4 434.1,324.5 433.6,324.5 433.1,324.3 432.6,324.2 432.1,324.2 431.6,324.3 431.1,324.5 430.6,324.7 430.1,325.3 429.6,325.3 429.1,324.9 428.6,324.6 428.1,324.4 427.6,324.3 427.1,324.4 426.6,324.5 426.1,324.7 425.6,324.9 425.1,324.6 424.6,324.4 424.1,324.2 423.6,324.3 423.1,324.5 422.6,324.2 422.1,324.2 421.6,324.3 421.1,324.2 420.6,324.3 420.1,324.3 419.6,324.2 419.1,324.2 418.6,324 418.1,324.3 417.6,325 417.1,324.8 416.6,324.4 416.1,324.1 415.6,323.9 415.1,323.9 414.6,324.1 414.1,323.9 413.6,323.9 413.1,323.9 412.6,324.1 412.1,324.8 411.6,325.1 411.1,324.7 410.6,324.4 410.1,324.1 409.6,324 409.1,324 408.6,324.3 408.1,324.5 407.6,324.8 407.1,324.3 406.6,324.1 406.1,324.6 405.6,325.1 405.1,324.5 404.6,324.5 404.1,324.2 403.6,324.3 403.1,324.2 402.6,324.2 402.1,324.3 401.6,324.3 401.1,324.4 400.6,324.2 400.1,324.7 399.6,324.3 399.1,324.2 398.6,324.3 398.1,324.2 397.6,324.2 397.1,324.2 396.6,324.3 396.1,324.2 395.6,324.3 395.1,324.2 394.6,324.4 394.1,324.3 393.6,324.3 393.1,324.4 392.6,324.4 392.1,324.2 391.6,324.3 391.1,324.5 390.6,324.9 390.1,324.9 389.6,324.6 389.1,324.7 388.6,324.8 388.1,325.1 387.6,325.4 387.1,326 386.6,326.1 386.1,326.6 385.6,326.5 385.1,326.7 384.6,326.7 384.1,326.7 383.6,326.9 383.1,327.5 382.6,327.6 382.1,327 381.6,326.1 381.1,325.6 380.6,325.4 380.1,324.9 379.6,324.5 379.1,324.2 378.6,324.3 378.1,324.1 377.6,324.1 377.1,324.1 376.6,324 376.1,324.1 375.6,324.1 375.1,324 374.6,324 374.1,324.1 373.6,324 373.1,324 372.6,324.1 372.1,324.2 371.6,324.5 371.1,324.5 370.6,324.4 370.1,324.4 369.6,324.2 369.1,324.4 368.6,324.6 368.1,324.4 367.6,324.6 367.1,324.7 366.6,324.6 366.1,324.4 365.6,324.3 365.1,324.4 364.6,324.4 364.1,324.4 363.6,324.3 363.1,324.4 362.6,324.3 362.1,324.1 361.6,324.2 361.1,324.3 360.6,324.2 360.1,324.2 359.6,324.2 359.1,324.3 358.6,324.4 358.1,324.4 357.6,324.4 357.1,324.4 356.6,324.4 356.1,324.4 355.6,324.3 355.1,324.3 354.6,324.7 354.1,324.7 353.6,324.5 353.1,324.5 352.6,324.4 352.1,324.4 351.6,324.3 351.1,324.4 350.6,324.6 350.1,324.9 349.6,324.5 349.1,324.9 348.6,324.7 348.1,324.2 347.6,324.6 347.1,325.2 346.6,325.2 346.1,324.8 345.6,324.8 345.1,324.8 344.6,324.7 344.1,324.5 343.6,324.2 343.1,324.4 342.6,324.2 342.1,324.4 341.6,324.8 341.1,324.5 340.6,324.5 340.1,324.2 339.6,324.3 339.1,324.1 338.6,324.2 338.1,324.2 337.6,324.2 337.1,324.3 336.6,324.3 336.1,324.2 335.6,324.2 335.1,324.2 334.6,324.2 334.1,324.1 333.6,324.2 333.1,324.3 332.6,324.3 332.1,324.4 331.6,324.5 331.1,324.7 330.6,324.2 330.1,324.3 329.6,324.2 329.1,324 328.6,324.1 328.1,324.1 327.6,324 327.1,324.1 326.6,324.1 326.1,324.3 325.6,325 325.1,325.2 324.6,324.9 324.1,324.8 323.6,324.6 323.1,324.3 322.6,324.1 322.1,324.1 321.6,324 321.1,324.1 320.6,324 320.1,324 319.6,324.1 319.1,324.2 318.6,324.2 318.1,324.1 317.6,324.1 317.1,324.1 316.6,324.3 316.1,324.5 315.6,324.6 315.1,324.8 314.6,325 314.1,324.7 313.6,324.6 313.1,324.3 312.6,324.3 312.1,324.3 311.6,324.3 311.1,324.3 310.6,324.6 310.1,324.7 309.6,324.4 309.1,324.3 308.6,324.2 308.1,324.3 307.6,324.3 307.1,324.3 306.6,324.2 306.1,324.1 305.6,324.3 305.1,324.2 304.6,324.1 304.1,324.2 303.6,324.1 303.1,324.4 302.6,324.7 302.1,324.5 301.6,324.3 301.1,324.4 300.6,324.6 300.1,324.9 299.6,324.7 299.1,324.2 298.6,324.1 298.1,324.2 297.6,324.2 297.1,324.2 296.6,324.1 296.1,324.2 295.6,324.3 295.1,324.4 294.6,324.3 294.1,324.2 293.6,324.7 293.1,324.8 292.6,324.3 292.1,324.2 291.6,324.6 291.1,324.6 290.6,324.6 290.1,324.1 289.6,324.2 289.1,324.3 288.6,324.2 288.1,324.1 287.6,324.3 287.1,324.1 286.6,324.3 286.1,324.2 285.6,324.1 285.1,324.1 284.6,324.2 284.1,324.2 283.6,324.1 283.1,324.1 282.6,324.3 282.1,324.9 281.6,325.2 281.1,325.4 280.6,324.7 280.1,324.6 279.6,324.3 279.1,324.1 278.6,324.2 278.1,324.2 277.6,324.2 277.1,324.1 276.6,324.1 276.1,324.1 275.6,324.4 275.1,324.4 274.6,324.5 274.1,324.8 273.6,324.6 273.1,324.3 272.6,324.4 272.1,324.5 271.6,324.1 271.1,324.1 270.6,324.2 270.1,324.2 269.6,324.1 269.1,324.1 268.6,324.1 268.1,324.1 267.6,324.1 267.1,324.2 266.6,324.3 266.1,324.2 265.6,324.3 265.1,324.3 264.6,324.3 264.1,324.3 263.6,324.3 263.1,324.4 262.6,324.3 262.1,324.3 261.6,324.5 261.1,324.8 260.6,325 260.1,324.9 259.6,324.8 259.1,324.6 258.6,324.6 258.1,324.3 257.6,324.4 257.1,324.4 256.6,324.2 256.1,324.2 255.6,324.2 255.1,324.1 254.6,324.1 254.1,324.3 253.6,324.2 253.1,324.5 252.6,324.7 252.1,325 251.6,324.8 251.1,324.7 250.6,324.1 250.1,324.1 249.6,324.2 249.1,324.2 248.6,324.2 248.1,324.6 247.6,324.7 247.1,324.5 246.6,324.4 246.1,324.3 245.6,324.3 245.1,324.3 244.6,324.2 244.1,324.3 243.6,324.3 243.1,324.2 242.6,324.3 242.1,324.4 241.6,324.6 241.1,324.7 240.6,324.6 240.1,324.6 239.6,324.5 239.1,324.4 238.6,324.3 238.1,324.2 237.6,324.7 237.1,324.7 236.6,324.2 236.1,324.1 235.6,324.2 235.1,324.4 234.6,324.2 234.1,324.3 233.6,324.6 233.1,324.6 232.6,324.7 232.1,325 231.6,324.9 231.1,324.6 230.6,324.3 230.1,324.2 229.6,324.3 229.1,324.5 228.6,324.5 228.1,324.5 227.6,324.6 227.1,324.5 226.6,324.4 226.1,324.4 225.6,324.5 225.1,324.6 224.6,324.7 224.1,324.6 223.6,324.5 223.1,324.3 222.6,324.2 222.1,324 221.6,324 221.1,324.2 220.6,324.3 220.1,324.2 219.6,324.3 219.1,324.3 218.6,324.2 218.1,324.5 217.6,324.3 217.1,324.5 216.6,324.5 216.1,324.5 215.6,324.5 215.1,324.6 214.6,324.4 214.1,324.3 213.6,324 213.1,324.2 212.6,324.2 212.1,324.4 211.6,324.1 211.1,324.2 210.6,324.2 210.1,324.3 209.6,324.4 209.1,324.1 208.6,324.2 208.1,324.2 207.6,324.2 207.1,324.3 206.6,324.2 206.1,324.4 205.6,324.5 205.1,324.2 204.6,324.2 204.1,324.7 203.6,324.3 203.1,324.1 202.6,324.1 202.1,324.1 201.6,324.1 201.1,324.1 200.6,324.4 200.1,324.4 199.6,324.2 199.1,324 198.6,324 198.1,324.1 197.6,324 197.1,324.1 196.6,324.2 196.1,324.3 195.6,324.2 195.1,324.2 194.6,324.1 194.1,324.2 193.6,324.1 193.1,324.3 192.6,324.4 192.1,324.3 191.6,324.2 191.1,324.2 190.6,324.3 190.1,324.3 189.6,324.2 189.1,324.3 188.6,324.6 188.1,324.6 187.6,324.7 187.1,325.1 186.6,325.2 186.1,325 185.6,325 185.1,324.9 184.6,324.6 184.1,324.5 183.6,324.5 183.1,324.2 182.6,324.2 182.1,324.3 181.6,324.3 181.1,324.2 180.6,324.2 180.1,324.2 179.6,324.4 179.1,324.2 178.6,324.4 178.1,324.2 177.6,324.2 177.1,324.1 176.6,324.1 176.1,324.2 175.6,324.6 175.1,324.7 174.6,324.3 174.1,324.7 173.6,324.8 173.1,324.8 172.6,324.3 172.1,324.5 171.6,324.8 171.1,324.9 170.6,325 170.1,324.5 169.6,324.3 169.1,324.3 168.6,324.2 168.1,324.2 167.6,324.2 167.1,324.2 166.6,324.2 166.1,324.2 165.6,324.4 165.1,324.4 164.6,324.5 164.1,324.3 163.6,324.4 163.1,324.7 162.6,324.7 162.1,324.8 161.6,325.2 161.1,325.6 160.6,325.1 160.1,324.5 159.6,324.3 159.1,324.4 158.6,324.4 158.1,324.5 157.6,324.9 157.1,324.8 156.6,324.4 156.1,324.4 155.6,324.7 155.1,324.7 154.6,324.7 154.1,325 153.6,325.3 153.1,325.7 152.6,325.6 152.1,325.5 151.6,325.5 151.1,325.6 150.6,325.7 150.1,326.1 149.6,326 149.1,325.6 148.6,325.2 148.1,324.9 147.6,325.2 147.1,325.4 146.6,325.6 146.1,326 145.6,326.1 145.1,326 144.6,326 144.1,326.4 143.6,326.9 143.1,327.5 142.6,327.7 142.1,327.2 141.6,326.9 141.1,327.5 140.6,327.9 140.1,327.7 139.6,326.4 139.1,325.3 138.6,325.1 138.1,324.9 137.6,324.7 137.1,325.1 136.6,325 136.1,324.6 135.6,324.5 135.1,324.4 134.6,324.6 134.1,324.5 133.6,324.2 133.1,325 132.6,325.5 132.1,325.1 131.6,324.6 131.1,324.2 130.6,324.2 130.1,324.2 129.6,324.4 129.1,324.5 128.6,324.7 128.1,324.9 127.6,324.9 127.1,324.6 126.6,324.4 126.1,324.7 125.6,324.5 125.1,324.9 124.6,324.9 124.1,325.5 123.6,325.3 123.1,324.7 122.6,324.2 122.1,324 121.6,324 121.1,324.1 120.6,324.1 120.1,324 119.6,324.2 119.1,324.3 118.6,324.5 118.1,324.6 117.6,324.5 117.1,324.5 116.6,324.3 116.1,324.2 115.6,324.2 115.1,324.2 114.6,324.3 114.1,324.3 113.6,324.3 113.1,324.2 112.6,324.3 112.1,324.4 111.6,324.5 111.1,324.4 110.6,324.5 110.1,325 109.6,324.4 109.1,324.5 108.6,324.6 108.1,324.6 107.6,324.8 107.1,324.6 106.6,324.5 106.1,324.3 105.6,324.3 105.1,324.4 104.6,324.8 104.1,325.1 103.6,325 103.1,324.5 102.6,324.9 102.1,324.8 101.6,324.8 101.1,324.5 100.6,324.5 100.1,324.5 99.6,324.6 99.1,324.3 98.6,324.2 98.1,324.3 97.6,324.2 97.1,324.3 96.6,324.3 96.1,324.3 95.6,324.4 95.1,324.6 94.6,324.7 94.1,324.4 93.6,324.7 93.1,324.6 92.6,324.6 92.1,324.5 91.6,324.4 91.1,324.4 90.6,324.4 90.1,324.2 89.6,324.2 89.1,324.2 88.6,324.5 88.1,324.4 87.6,324.1 87.1,324.1 86.6,324.1 86.1,324Z"/><path d="M86.1,353.6 86.6,353.3 87.1,353.5 87.6,353.6 88.1,353.7 88.6,353.3 89.1,352.9 89.6,353 90.1,353.3 90.6,353.7 91.1,353.9 91.6,354.1 92.1,353.9 92.6,353.9 93.1,354.1 93.6,353.9 94.1,353.9 94.6,353.9 95.1,353.9 95.6,354.1 96.1,354 96.6,353.9 97.1,353.9 97.6,354 98.1,353.6 98.6,353.3 99.1,353.7 99.6,354.1 100.1,354 100.6,354 101.1,354.1 101.6,354.1 102.1,354 102.6,354 103.1,354.1 103.6,354.1 104.1,354 104.6,354.1 105.1,354.1 105.6,354.1 106.1,354.1 106.6,354.1 107.1,353.8 107.6,353.8 108.1,353.5 108.6,353.8 109.1,353.6 109.6,353.8 110.1,353.8 110.6,353.6 111.1,353.6 111.6,353.7 112.1,353.9 112.6,354 113.1,354 113.6,353.9 114.1,353.9 114.6,354 115.1,354 115.6,354 116.1,354 116.6,353.9 117.1,354 117.6,354 118.1,354 118.6,354 119.1,353.9 119.6,353.9 120.1,354 120.6,354 121.1,354 121.6,354 122.1,354 122.6,353.8 123.1,354 123.6,354 124.1,353.9 124.6,353.8 125.1,353.7 125.6,353.6 126.1,353.9 126.6,354 127.1,353.9 127.6,353.7 128.1,353.5 128.6,353.5 129.1,353.6 129.6,353.5 130.1,353.6 130.6,353.5 131.1,353.2 131.6,353.1 132.1,352.9 132.6,352.9 133.1,353.4 133.6,353.7 134.1,353.8 134.6,354 135.1,354.1 135.6,354 136.1,354.1 136.6,354 137.1,354 137.6,354.1 138.1,350.5 138.6,343.9 139.1,337.3 139.6,330.8 140.1,326.2 140.6,329.3 141.1,332.1 141.6,335.9 142.1,340.2 142.6,344.2 143.1,348.1 143.6,351.4 144.1,351.6 144.6,351.8 145.1,352.1 145.6,352.2 146.1,352.6 146.6,352.7 147.1,352.9 147.6,353.3 148.1,353.6 148.6,353.7 149.1,353.9 149.6,353.8 150.1,353.8 150.6,354 151.1,353.9 151.6,353.8 152.1,354 152.6,353.9 153.1,353.8 153.6,353.9 154.1,353.9 154.6,353.9 155.1,354 155.6,354 156.1,354 156.6,354 157.1,354 157.6,353.9 158.1,354 158.6,353.9 159.1,354 159.6,353.9 160.1,354 160.6,354 161.1,354 161.6,354 162.1,354 162.6,354.1 163.1,353.7 163.6,353.9 164.1,353.8 164.6,353.6 165.1,353.6 165.6,353.6 166.1,353.9 166.6,354 167.1,353.6 167.6,353.6 168.1,353.5 168.6,353.6 169.1,353.5 169.6,354 170.1,354.1 170.6,354.1 171.1,354.1 171.6,354.1 172.1,354.2 172.6,354.1 173.1,354.1 173.6,354 174.1,353.9 174.6,353.9 175.1,353.8 175.6,353.9 176.1,353.9 176.6,354 177.1,353.9 177.6,353.9 178.1,353.9 178.6,353.9 179.1,354.1 179.6,354.1 180.1,354.1 180.6,354.1 181.1,354 181.6,354.1 182.1,354 182.6,354 183.1,354 183.6,354 184.1,354.1 184.6,354 185.1,354.1 185.6,354.1 186.1,353.9 186.6,353.9 187.1,353.9 187.6,353.8 188.1,354.1 188.6,353.9 189.1,353.2 189.6,353.3 190.1,353.9 190.6,354.1 191.1,354 191.6,354.1 192.1,354 192.6,354.1 193.1,354.2 193.6,354.2 194.1,353.9 194.6,354.1 195.1,353.9 195.6,354 196.1,353.7 196.6,353.9 197.1,354 197.6,354.1 198.1,354.1 198.6,354.2 199.1,354.2 199.6,354 200.1,354.1 200.6,354.1 201.1,354.1 201.6,354.1 202.1,354.1 202.6,354 203.1,353.8 203.6,354 204.1,353.9 204.6,354 205.1,354 205.6,354 206.1,354 206.6,354 207.1,353.6 207.6,353.3 208.1,353.4 208.6,353.6 209.1,353.9 209.6,354 210.1,353.9 210.6,353.6 211.1,353.3 211.6,353.3 212.1,353.5 212.6,353.6 213.1,353.8 213.6,353.9 214.1,353.9 214.6,353.8 215.1,353.7 215.6,353.9 216.1,353.9 216.6,353.9 217.1,354 217.6,354 218.1,354 218.6,354.1 219.1,353.6 219.6,353.7 220.1,353.7 220.6,353.7 221.1,354 221.6,354.1 222.1,353.7 222.6,354 223.1,353.9 223.6,353.8 224.1,353.6 224.6,353.5 225.1,353.7 225.6,353.6 226.1,353.6 226.6,353.5 227.1,353.8 227.6,353.7 228.1,353.7 228.6,353.3 229.1,353.8 229.6,353.9 230.1,353.9 230.6,353.7 231.1,354 231.6,353.9 232.1,353.9 232.6,354.1 233.1,353.9 233.6,353.9 234.1,354.1 234.6,354.1 235.1,353.9 235.6,353.9 236.1,354.1 236.6,354.1 237.1,354.1 237.6,354.1 238.1,354.1 238.6,354.1 239.1,354 239.6,354 240.1,354.1 240.6,354.1 241.1,354.1 241.6,354.1 242.1,354.1 242.6,354 243.1,353.9 243.6,353.8 244.1,353.9 244.6,354 245.1,353.9 245.6,353.9 246.1,353.5 246.6,353.6 247.1,353.5 247.6,353.7 248.1,353.8 248.6,353.9 249.1,353.9 249.6,354 250.1,354 250.6,353.8 251.1,353.4 251.6,353.5 252.1,353.4 252.6,353.6 253.1,353.5 253.6,353.6 254.1,353.7 254.6,353.7 255.1,353.7 255.6,353.7 256.1,353.8 256.6,353.9 257.1,354 257.6,353.9 258.1,354 258.6,354 259.1,354 259.6,353.7 260.1,353.7 260.6,353.3 261.1,354 261.6,354 262.1,354 262.6,353.8 263.1,353.9 263.6,354 264.1,353.6 264.6,354 265.1,353.9 265.6,353.9 266.1,354 266.6,354 267.1,353.8 267.6,353.9 268.1,353.8 268.6,353.7 269.1,353.7 269.6,353.9 270.1,354 270.6,354 271.1,354 271.6,354 272.1,354.1 272.6,354.1 273.1,354 273.6,354 274.1,354 274.6,354.1 275.1,354 275.6,353.9 276.1,353.9 276.6,354 277.1,353.9 277.6,354 278.1,354.1 278.6,354.1 279.1,354.1 279.6,354.1 280.1,354 280.6,353.7 281.1,353.3 281.6,353.4 282.1,353.8 282.6,354 283.1,353.9 283.6,353.9 284.1,354 284.6,354 285.1,353.9 285.6,354 286.1,353.9 286.6,354 287.1,353.9 287.6,353.8 288.1,353.7 288.6,353.6 289.1,353.8 289.6,353.9 290.1,354.1 290.6,353.9 291.1,354 291.6,354 292.1,354.1 292.6,354 293.1,354.1 293.6,353.9 294.1,354.1 294.6,354.1 295.1,354 295.6,353.9 296.1,354.1 296.6,353.8 297.1,354.1 297.6,353.8 298.1,353.8 298.6,354.1 299.1,354 299.6,354.1 300.1,354.1 300.6,354 301.1,354 301.6,354 302.1,354 302.6,353.9 303.1,353.9 303.6,353.9 304.1,353.9 304.6,353.9 305.1,353.7 305.6,353.7 306.1,353.4 306.6,353.7 307.1,353.5 307.6,353.5 308.1,353.6 308.6,353.5 309.1,353.4 309.6,353.5 310.1,353.2 310.6,353 311.1,353.2 311.6,353.6 312.1,353.5 312.6,353.8 313.1,353.7 313.6,354.1 314.1,354.2 314.6,354.2 315.1,354.1 315.6,354.2 316.1,354 316.6,354.1 317.1,353.8 317.6,354.1 318.1,354.1 318.6,354.1 319.1,354.1 319.6,354.1 320.1,354.1 320.6,354.2 321.1,354.2 321.6,354 322.1,354.2 322.6,354.1 323.1,354.1 323.6,354 324.1,354.1 324.6,354.1 325.1,354.2 325.6,354.1 326.1,354 326.6,353.8 327.1,353.9 327.6,354 328.1,353.8 328.6,354 329.1,354.1 329.6,354.1 330.1,354.1 330.6,354 331.1,354.1 331.6,354.1 332.1,354.1 332.6,354 333.1,353.9 333.6,353.9 334.1,354 334.6,354.1 335.1,354 335.6,354 336.1,354 336.6,354 337.1,354 337.6,354 338.1,354 338.6,353.7 339.1,353.7 339.6,353.5 340.1,353.7 340.6,353.7 341.1,353.8 341.6,354.1 342.1,354.1 342.6,354.1 343.1,354 343.6,353.9 344.1,354 344.6,354 345.1,354 345.6,354.2 346.1,354.1 346.6,354.1 347.1,354.2 347.6,354.2 348.1,354 348.6,353.7 349.1,353.7 349.6,354.1 350.1,354.1 350.6,353.9 351.1,354 351.6,354 352.1,354 352.6,353.9 353.1,353.8 353.6,353.9 354.1,353.9 354.6,354 355.1,353.9 355.6,353.9 356.1,354 356.6,354 357.1,353.9 357.6,353.9 358.1,353.7 358.6,353.6 359.1,353.7 359.6,353.7 360.1,353.7 360.6,353.8 361.1,353.9 361.6,353.7 362.1,353.4 362.6,353.1 363.1,353.4 363.6,353.8 364.1,353.9 364.6,354 365.1,345.1 365.6,344.7 366.1,344.6 366.6,344.8 367.1,345.3 367.6,354 368.1,354 368.6,354.1 369.1,354.1 369.6,354.1 370.1,354.1 370.6,354.1 371.1,354.1 371.6,354.1 372.1,354 372.6,354.1 373.1,354.1 373.6,354.1 374.1,354.1 374.6,354.1 375.1,353.9 375.6,354.1 376.1,354.1 376.6,354.1 377.1,354.1 377.6,354 378.1,354 378.6,354.1 379.1,354 379.6,354.1 380.1,354.1 380.6,354 381.1,354.1 381.6,354.1 382.1,354.1 382.6,354.1 383.1,354.1 383.6,354.1 384.1,354 384.6,354 385.1,354.1 385.6,354.1 386.1,354 386.6,353.9 387.1,354 387.6,353.6 388.1,353.6 388.6,353.9 389.1,353.8 389.6,354 390.1,354 390.6,353.9 391.1,353.7 391.6,353.5 392.1,353.7 392.6,353.6 393.1,353.6 393.6,353.8 394.1,353.7 394.6,353.9 395.1,353.5 395.6,353.9 396.1,353.9 396.6,353.8 397.1,353.7 397.6,353.7 398.1,354 398.6,353.9 399.1,353.7 399.6,353.6 400.1,353.5 400.6,353.7 401.1,353.8 401.6,353.8 402.1,353.8 402.6,353.9 403.1,354 403.6,354 404.1,354 404.6,354 405.1,354 405.6,354 406.1,353.9 406.6,353.8 407.1,354 407.6,354 408.1,354.1 408.6,353.7 409.1,354 409.6,353.9 410.1,353.7 410.6,353.7 411.1,353.7 411.6,353.8 412.1,354 412.6,354.2 413.1,354.2 413.6,354.2 414.1,354.2 414.6,354.1 415.1,354.2 415.6,354.1 416.1,354.2 416.6,354.1 417.1,354.1 417.6,354.2 418.1,354.1 418.6,354.1 419.1,354.1 419.6,354.1 420.1,354.1 420.6,354.1 421.1,354 421.6,353.9 422.1,353.9 422.6,354 423.1,354.1 423.6,354.2 424.1,354.1 424.6,354.1 425.1,354.1 425.6,354.1 426.1,354.1 426.6,354.2 427.1,353.8 427.6,353.7 428.1,354.1 428.6,354.1 429.1,354.1 429.6,353.9 430.1,353.7 430.6,353.7 431.1,354 431.6,353.9 432.1,353.7 432.6,353.6 433.1,353.7 433.6,353.8 434.1,354 434.6,353.9 435.1,354.1 435.6,354.1 436.1,353.9 436.6,353.8 437.1,353.8 437.6,353.6 438.1,353.8 438.6,354 439.1,354 439.6,353.9 440.1,353.9 440.6,353.9 441.1,353.8 441.6,353.9 442.1,354 442.6,354 443.1,354 443.6,353.7 444.1,354 444.6,353.8 445.1,353.7 445.6,353.6 446.1,353.7 446.6,353.8 447.1,353.8 447.6,354 448.1,354.1 448.6,354.1 449.1,354.1 449.6,354.1 450.1,354.1 450.6,354.2 451.1,354.1 451.6,353.8 452.1,354.2 452.6,354.2 453.1,354.2 453.6,354.2 454.1,354.2 454.6,354.1 455.1,354.1 455.6,354.1 456.1,354.1 456.6,354 457.1,354.1 457.6,354.1 458.1,354 458.6,354 459.1,354.1 459.6,354.1 460.1,353.7 460.6,353.8 461.1,353.8 461.6,354 462.1,354.1 462.6,354.1 463.1,354 463.6,354.1 464.1,354.1 464.6,354.1 465.1,354.1 465.6,354 466.1,354.1 466.6,353.8 467.1,353.7 467.6,353.9 468.1,353.9 468.6,353.7 469.1,353.9 469.6,354 470.1,353.7 470.6,353.7 471.1,353.8 471.6,354.1 472.1,353.8 472.6,354 473.1,353.7 473.6,353.6 474.1,353.4 474.6,354 475.1,354 475.6,354.1 476.1,354 476.6,354.2 477.1,354.2 477.6,354.2 478.1,354.1 478.6,354.1 479.1,354 479.6,354.1 480.1,354.2 480.6,354.2 481.1,354.2 481.6,354.1 482.1,354.2 482.6,354.1 483.1,354.2 483.6,354.1 484.1,353.6 484.6,353.5 485.1,353.9 485.6,354 486.1,354 486.6,354 487.1,354.1 487.6,354.2 488.1,354.2 488.6,354.1 489.1,354 489.6,353.9 490.1,353.8 490.6,353.8 491.1,353.8 491.6,353.8 492.1,353.8 492.6,353.8 493.1,353.7 493.6,353.6 494.1,353.4 494.6,353.7 495.1,353.8 495.6,354 496.1,354.1 496.6,354 497.1,354.1 497.6,354 498.1,353.9 498.6,353.9 499.1,353.9 499.6,354 500.1,354 500.6,354.1 501.1,353.8 501.6,353.8 502.1,353.7 502.6,353.9 503.1,353.9 503.6,353.9 504.1,354 504.6,353.9 505.1,354 505.6,353.8 506.1,353.3 506.6,353.3 507.1,353.3 507.6,353.5 508.1,353.8 508.6,353.9 509.1,354 509.6,354 510.1,354.1 510.6,354.1 511.1,353.9 511.6,353.9 512.1,353.5 512.6,353.5 513.1,353.6 513.6,353.7 514.1,354 514.6,353.9 515.1,353.8 515.6,353.7 516.1,353.6 516.6,353.6 517.1,353.6 517.6,353.8 518.1,353.8 518.6,353.9 519.1,354 519.6,354 520.1,353.8 520.6,353.8 521.1,353.8 521.6,353.8 522.1,354 522.6,354 523.1,353.9 523.6,353.5 524.1,353.3 524.6,353.6 525.1,353.5 525.6,353.8 526.1,354.1 526.6,353.9 527.1,354 527.6,353.9 528.1,354 528.6,354 529.1,354 529.6,354 530.1,354 530.6,353.9 531.1,354 531.6,353.7 532.1,354 532.6,354 533.1,353.7 533.6,353.9 534.1,353.9 534.6,353.9 535.1,353.9 535.6,354 536.1,354 536.6,354 537.1,354 537.6,354 538.1,353.9 538.6,353.8 539.1,353.8 539.6,354 540.1,354 540.6,354 541.1,354 541.6,354 542.1,353.9 542.6,353.9 543.1,353.6 543.6,353.5 544.1,353.5 544.6,353.8 545.1,353.6 545.6,353.7 546.1,353.7 546.6,353.9 547.1,354 547.6,353.9 548.1,353.9 548.6,353.7 549.1,353.7 549.6,353.5 550.1,353.1 550.6,353.1 551.1,353.6 551.6,353.5 552.1,353.5 552.6,353.3 553.1,353.2 553.6,353.2 554.1,353.4 554.6,353.5 555.1,353.8 555.6,353.9 556.1,354 556.6,354 557.1,354.1 557.6,354.1 558.1,354.1 558.6,354.1 559.1,354.1 559.6,354 560.1,353.9 560.6,353.7 561.1,353.3 561.6,353.6 562.1,353.8 562.6,353.9 563.1,353.9 563.6,353.7 564.1,353.7 564.6,353.5 565.1,353.9 565.6,353.9 566.1,354 566.6,354 567.1,354.1 567.6,354.1 568.1,354 568.6,354.1 569.1,354 569.6,354 570.1,354 570.6,354.1 571.1,354.1 571.6,354.1 572.1,354.1 572.6,354 573.1,354 573.6,353.7 574.1,353.8 574.6,353.4 575.1,353.5 575.6,353.4 576.1,353.9 576.6,353.8 577.1,353.8 577.6,354 578.1,353.7 578.6,353.7 579.1,354.1 579.6,354.1 580.1,354.1 580.6,354.1 581.1,354.1 581.6,354.2 582.1,354.1 582.6,354.1 583.1,354.1 583.6,354.1 584.1,353.9 584.6,354.1 585.1,354 585.6,353.9 586.1,354 586.6,354.1 587.1,353.7 587.6,353.7 588.1,353.5 588.6,353.5 589.1,353.6 589.6,353.7 590.1,353.4 590.6,353.7 591.1,353.7 591.6,354 592.1,354 592.6,354 593.1,354 593.6,354 594.1,353.9 594.6,353.9 595.1,353.8 595.6,353.9 596.1,353.6 596.6,353.6 597.1,353.7 597.6,353.7 598.1,353.8 598.6,353.8 599.1,353.8 599.6,353.9 600.1,353.7 600.6,353.4 601.1,353.2 601.6,353.7 602.1,353.8 602.6,353.9 603.1,353.8 603.6,353.6 604.1,353.8 604.6,353.9 605.1,354 605.6,353.9 606.1,353.9 606.6,354 607.1,354 607.6,354 608.1,354 608.6,353.9 609.1,353.7 609.6,353.7 610.1,353.4 610.6,353.4 611.1,353.7 611.6,353.8 612.1,353.7 612.6,353.6 613.1,353.5 613.6,353.4 614.1,353.5 614.6,353.6 615.1,354 615.6,353.9 616.1,353.9 616.6,353.9 617.1,354 617.6,354.1 618.1,354.1 618.6,354.1 619.1,354.1 619.6,354 620.1,354.1 620.6,353.9 621.1,354.1 621.6,353.9 622.1,354 622.6,354.1 623.1,354 623.6,353.9 624.1,353.9 624.6,353.8 625.1,353.6 625.6,353.3 626.1,353.2 626.6,353.3 627.1,353.6 627.6,353.6 628.1,353.8 628.6,354 629.1,354 629.6,354 630.1,354 630.6,354 631.1,354 631.6,353.9 632.1,353.9 632.6,353.9 633.1,353.9 633.6,353.9 634.1,353.9 634.6,353.8 635.1,353.7 635.6,353.6 636.1,353.3 636.6,353.5 637.1,353.3 637.6,353.6 638.1,353.4 638.6,353.2 639.1,353.4 639.6,353.6 640.1,353.7 640.6,353.8 641.1,353.8 641.6,353.7 642.1,353.4 642.6,353.6 643.1,354.1 643.6,353.8 644.1,354.1 644.6,354.2 645.1,354.4 645.6,354.5 646.1,354.6 646.6,354.7 647.1,354.7 647.6,354.6 648.1,354.6 648.6,354.9 649.1,355 649.6,355.1 650.1,355.2 650.6,355.2 651.1,355.2 651.1,356 650.6,356 650.1,356 649.6,356.1 649.1,356.2 648.6,356.3 648.1,356.3 647.6,356.5 647.1,356.5 646.6,356.6 646.1,356.5 645.6,356.8 645.1,357 644.6,357.1 644.1,357 643.6,356.9 643.1,357 642.6,357 642.1,357.2 641.6,357.2 641.1,357.2 640.6,357.4 640.1,357.2 639.6,357.3 639.1,357.5 638.6,357.9 638.1,357.6 637.6,357.8 637.1,357.5 636.6,357.5 636.1,357.4 635.6,357.5 635.1,357.4 634.6,357.3 634.1,357.3 633.6,357.3 633.1,357.3 632.6,357.3 632.1,357.3 631.6,357.5 631.1,357.5 630.6,357.5 630.1,357.2 629.6,357.3 629.1,357.3 628.6,357.5 628.1,357.6 627.6,357.7 627.1,357.7 626.6,357.7 626.1,357.9 625.6,357.8 625.1,357.6 624.6,357.5 624.1,357.4 623.6,357.3 623.1,357.4 622.6,357.6 622.1,357.5 621.6,357.2 621.1,357.2 620.6,357.5 620.1,357.2 619.6,357.3 619.1,357.3 618.6,357.3 618.1,357.2 617.6,357.3 617.1,357.3 616.6,357.3 616.1,357.2 615.6,357.3 615.1,357.5 614.6,357.4 614.1,357.6 613.6,357.6 613.1,357.7 612.6,357.7 612.1,357.6 611.6,357.5 611.1,357.4 610.6,357.4 610.1,357.3 609.6,357.3 609.1,357.4 608.6,357.6 608.1,357.4 607.6,357.5 607.1,357.3 606.6,357.4 606.1,357.4 605.6,357.5 605.1,357.5 604.6,357.5 604.1,357.7 603.6,357.6 603.1,357.3 602.6,357.2 602.1,357.4 601.6,357.5 601.1,357.6 600.6,357.3 600.1,357.3 599.6,357.2 599.1,357.2 598.6,357.3 598.1,357.4 597.6,357.9 597.1,357.9 596.6,357.5 596.1,357.5 595.6,357.2 595.1,357.2 594.6,357.4 594.1,357.4 593.6,357 593.1,357.2 592.6,357.4 592.1,357.3 591.6,357.3 591.1,357.4 590.6,357.3 590.1,357.4 589.6,357.4 589.1,357.5 588.6,357.5 588.1,357.6 587.6,357.4 587.1,357.2 586.6,357.1 586.1,357.1 585.6,357.1 585.1,357.2 584.6,357.1 584.1,357.1 583.6,357.2 583.1,357.3 582.6,357.2 582.1,357.1 581.6,357.1 581.1,357.1 580.6,357.2 580.1,357.1 579.6,357.1 579.1,357.1 578.6,357.1 578.1,357.3 577.6,357.3 577.1,357.5 576.6,357.4 576.1,357.4 575.6,357.4 575.1,357.6 574.6,357.5 574.1,357.3 573.6,357.3 573.1,357.2 572.6,357.1 572.1,357.2 571.6,357.1 571.1,357.1 570.6,357.2 570.1,357.1 569.6,357.1 569.1,357.2 568.6,357.1 568.1,357.2 567.6,357.1 567.1,357.3 566.6,357.2 566.1,357.2 565.6,357.4 565.1,357.4 564.6,357.2 564.1,357.1 563.6,357.3 563.1,357.3 562.6,357.3 562.1,357.5 561.6,357.6 561.1,357.6 560.6,357.5 560.1,357.2 559.6,357.2 559.1,357.2 558.6,357.1 558.1,357 557.6,357.1 557.1,357.1 556.6,357 556.1,357.1 555.6,357.2 555.1,357.4 554.6,357.4 554.1,357.6 553.6,357.6 553.1,357.8 552.6,357.7 552.1,357.5 551.6,357.9 551.1,357.6 550.6,357.7 550.1,357.6 549.6,357.5 549.1,357.5 548.6,357.7 548.1,357.6 547.6,357.6 547.1,357.1 546.6,357.3 546.1,357.3 545.6,357.3 545.1,357.4 544.6,357.5 544.1,357.4 543.6,357.4 543.1,357.4 542.6,357.2 542.1,357.2 541.6,357.3 541.1,357.3 540.6,357.5 540.1,357.6 539.6,357.6 539.1,357.3 538.6,357.3 538.1,357.5 537.6,357.3 537.1,357.2 536.6,357.2 536.1,357.2 535.6,357.2 535.1,357.2 534.6,357.2 534.1,357.2 533.6,357.2 533.1,357.1 532.6,357.2 532.1,357.2 531.6,357.2 531.1,357.3 530.6,357.4 530.1,357.3 529.6,357.2 529.1,357.2 528.6,357.2 528.1,357.2 527.6,357.2 527.1,357.2 526.6,357.1 526.1,357.1 525.6,357.2 525.1,357.2 524.6,357.5 524.1,357.7 523.6,357.4 523.1,357.1 522.6,357.2 522.1,357.1 521.6,357.4 521.1,357.6 520.6,357.4 520.1,357.3 519.6,357.1 519.1,357.1 518.6,357.1 518.1,357.2 517.6,357.2 517.1,357.3 516.6,357.3 516.1,357.4 515.6,357.3 515.1,357.3 514.6,357.1 514.1,357.1 513.6,357.3 513.1,357.3 512.6,357.4 512.1,357.3 511.6,357.1 511.1,357.1 510.6,357.1 510.1,357.2 509.6,357.2 509.1,357.4 508.6,357.2 508.1,357.5 507.6,357.6 507.1,358.1 506.6,358 506.1,357.6 505.6,357.3 505.1,357.2 504.6,357.1 504.1,357.1 503.6,357.4 503.1,357.6 502.6,357.6 502.1,357.2 501.6,357.1 501.1,357.1 500.6,357.2 500.1,357.2 499.6,357.2 499.1,357.4 498.6,357.4 498.1,357.5 497.6,357.5 497.1,357.6 496.6,357.3 496.1,357.5 495.6,357.4 495.1,357.5 494.6,357.6 494.1,357.8 493.6,357.7 493.1,357.6 492.6,357.6 492.1,357.5 491.6,357.5 491.1,357.5 490.6,357.7 490.1,357.7 489.6,357.5 489.1,357.3 488.6,357.2 488.1,357.1 487.6,357.1 487.1,357.1 486.6,357.3 486.1,357.3 485.6,357.6 485.1,357.6 484.6,357.8 484.1,357.5 483.6,357.5 483.1,357.1 482.6,357.1 482.1,357.2 481.6,357.1 481.1,357.1 480.6,357.4 480.1,357.1 479.6,357.1 479.1,357.2 478.6,357.3 478.1,357.1 477.6,357.2 477.1,357.1 476.6,357.1 476.1,357.1 475.6,357.1 475.1,357.1 474.6,357.2 474.1,357.2 473.6,357.1 473.1,357.1 472.6,357.2 472.1,357.1 471.6,357.1 471.1,357.2 470.6,357.3 470.1,357.3 469.6,357.4 469.1,357.2 468.6,357.3 468.1,357.2 467.6,357.5 467.1,357.5 466.6,357.4 466.1,357.1 465.6,357.1 465.1,357 464.6,357.2 464.1,357.2 463.6,357.2 463.1,357.2 462.6,357.1 462.1,357.1 461.6,357.1 461.1,357.5 460.6,357.1 460.1,357.1 459.6,357.1 459.1,357.4 458.6,357.5 458.1,357.1 457.6,357.1 457.1,357.1 456.6,357.5 456.1,357.1 455.6,357.1 455.1,357.2 454.6,357.3 454.1,357.3 453.6,357.4 453.1,357.1 452.6,357.1 452.1,357.2 451.6,357.1 451.1,357.1 450.6,357.2 450.1,357 449.6,357.1 449.1,357.3 448.6,357.3 448.1,357 447.6,357.1 447.1,357.1 446.6,357 446.1,357.2 445.6,357.4 445.1,357.3 444.6,357.1 444.1,357.1 443.6,357 443.1,357.5 442.6,357.5 442.1,357.1 441.6,357.1 441.1,357.1 440.6,357.1 440.1,357.1 439.6,357.2 439.1,357.2 438.6,357.2 438.1,357.2 437.6,357.4 437.1,357.3 436.6,357.3 436.1,357.1 435.6,357.2 435.1,357.2 434.6,357.1 434.1,357.2 433.6,357.5 433.1,357.6 432.6,357.8 432.1,357.9 431.6,357.8 431.1,357.5 430.6,357.1 430.1,357.1 429.6,357.1 429.1,357.4 428.6,357.4 428.1,357.2 427.6,357.2 427.1,357.4 426.6,357.2 426.1,357.2 425.6,357.4 425.1,357.3 424.6,357 424.1,357.4 423.6,357.3 423.1,357.2 422.6,357.3 422.1,357.4 421.6,357.6 421.1,357.4 420.6,357.2 420.1,357.1 419.6,357.1 419.1,357.2 418.6,357.1 418.1,357.1 417.6,357.1 417.1,357.2 416.6,357.2 416.1,357.2 415.6,357.3 415.1,357.2 414.6,357.1 414.1,357 413.6,357.2 413.1,357.2 412.6,357.2 412.1,357 411.6,357 411.1,357 410.6,357 410.1,357 409.6,357 409.1,357.1 408.6,357 408.1,357 407.6,357.3 407.1,357.5 406.6,357.1 406.1,357.1 405.6,357.2 405.1,357.1 404.6,357.1 404.1,357.1 403.6,357.1 403.1,357.2 402.6,357.2 402.1,357.2 401.6,357.4 401.1,357.6 400.6,357.7 400.1,357.9 399.6,357.7 399.1,357.5 398.6,357.3 398.1,357.6 397.6,357.6 397.1,357.4 396.6,357.3 396.1,357.2 395.6,357.2 395.1,357.3 394.6,357.4 394.1,357.5 393.6,357.5 393.1,357.6 392.6,357.8 392.1,357.9 391.6,358.4 391.1,357.9 390.6,357.3 390.1,357.2 389.6,357.2 389.1,357.1 388.6,357.2 388.1,357.2 387.6,357.2 387.1,357.1 386.6,357.3 386.1,357.2 385.6,357.2 385.1,357.1 384.6,357.5 384.1,357.5 383.6,357.5 383.1,357.2 382.6,357.2 382.1,357.3 381.6,357.2 381.1,357.2 380.6,357.2 380.1,357.2 379.6,357.2 379.1,357.3 378.6,357.2 378.1,357.2 377.6,357.3 377.1,357.3 376.6,357.3 376.1,357.2 375.6,357.4 375.1,357.8 374.6,358.4 374.1,358.8 373.6,358.8 373.1,359.1 372.6,359.3 372.1,360 371.6,360.2 371.1,360.5 370.6,361.2 370.1,361.2 369.6,360.4 369.1,360.1 368.6,359.7 368.1,359 367.6,358.7 367.1,358.2 366.6,357.7 366.1,357.3 365.6,357.1 365.1,357.2 364.6,357.2 364.1,357.1 363.6,357.3 363.1,357.4 362.6,357.5 362.1,357.6 361.6,357.4 361.1,357.2 360.6,357.3 360.1,357.6 359.6,357.6 359.1,357.4 358.6,357.4 358.1,357.6 357.6,357.4 357.1,357.4 356.6,357.3 356.1,357.2 355.6,357.3 355.1,357.1 354.6,357.2 354.1,357.4 353.6,357.4 353.1,357.3 352.6,357.1 352.1,357.2 351.6,357.2 351.1,357.2 350.6,357 350.1,357.4 349.6,357.2 349.1,357.3 348.6,357 348.1,357.1 347.6,357.1 347.1,357.4 346.6,357.4 346.1,357.5 345.6,357.1 345.1,357.3 344.6,357.3 344.1,357.3 343.6,357.4 343.1,357.3 342.6,357.2 342.1,357.2 341.6,357.1 341.1,357.2 340.6,357.3 340.1,357.5 339.6,357.6 339.1,357.6 338.6,357.4 338.1,357.4 337.6,357.3 337.1,357.4 336.6,357.2 336.1,357.4 335.6,357.4 335.1,357.2 334.6,357.2 334.1,357.3 333.6,357.4 333.1,357.4 332.6,357.4 332.1,357.3 331.6,357.2 331.1,357.2 330.6,357.5 330.1,357.5 329.6,357.3 329.1,357.4 328.6,357.4 328.1,357.4 327.6,357.4 327.1,357.5 326.6,357.4 326.1,357.5 325.6,357.2 325.1,357.1 324.6,357.2 324.1,357.2 323.6,357.1 323.1,357.2 322.6,357.3 322.1,357.4 321.6,357.4 321.1,357.3 320.6,357.3 320.1,357.2 319.6,357.3 319.1,357.3 318.6,357.3 318.1,357.3 317.6,357.2 317.1,357.2 316.6,357.3 316.1,357.2 315.6,357.4 315.1,357.3 314.6,357.3 314.1,357.2 313.6,357.3 313.1,357.2 312.6,357.4 312.1,357.5 311.6,357.8 311.1,358.4 310.6,358.6 310.1,358.3 309.6,357.8 309.1,358 308.6,357.9 308.1,357.6 307.6,357.5 307.1,357.4 306.6,357.3 306.1,357.5 305.6,357.5 305.1,357.4 304.6,357.1 304.1,357.2 303.6,357.1 303.1,357.6 302.6,357.3 302.1,357.2 301.6,357.2 301.1,357.1 300.6,357.1 300.1,357.1 299.6,357.2 299.1,357.6 298.6,357.3 298.1,357.3 297.6,357.1 297.1,357.1 296.6,357.3 296.1,357.2 295.6,357.2 295.1,357.1 294.6,357.3 294.1,357.3 293.6,357.2 293.1,357.3 292.6,357.2 292.1,357.2 291.6,357.2 291.1,357.2 290.6,357.2 290.1,357.2 289.6,357.1 289.1,357.2 288.6,357.2 288.1,357.2 287.6,357.2 287.1,357.3 286.6,357.5 286.1,357.5 285.6,357.3 285.1,357.3 284.6,357.2 284.1,357.3 283.6,357.3 283.1,357.2 282.6,357.2 282.1,357.4 281.6,357.6 281.1,357.7 280.6,357.4 280.1,357.1 279.6,357.1 279.1,357.1 278.6,357 278.1,357 277.6,357.1 277.1,357.2 276.6,357.4 276.1,357.4 275.6,357.4 275.1,357 274.6,357.2 274.1,357.1 273.6,357 273.1,357.1 272.6,357.1 272.1,357.1 271.6,357.1 271.1,357.1 270.6,357.2 270.1,357.1 269.6,357.1 269.1,357.2 268.6,357.3 268.1,357.1 267.6,357.4 267.1,357.3 266.6,357.4 266.1,357.4 265.6,357.4 265.1,357.1 264.6,357.1 264.1,357.2 263.6,357.2 263.1,357.1 262.6,357.1 262.1,357.3 261.6,357.3 261.1,357.1 260.6,357.1 260.1,357.2 259.6,357.2 259.1,357.2 258.6,357.2 258.1,357.2 257.6,357.3 257.1,357.3 256.6,357.8 256.1,357.8 255.6,357.9 255.1,357.7 254.6,357.7 254.1,357.6 253.6,357.5 253.1,357.5 252.6,357.3 252.1,357.4 251.6,357.4 251.1,357.3 250.6,357.1 250.1,357.1 249.6,357.1 249.1,357.2 248.6,357.4 248.1,357.4 247.6,357.4 247.1,357.4 246.6,357.4 246.1,357.2 245.6,357.2 245.1,357.1 244.6,357.2 244.1,357.2 243.6,357.2 243.1,357.3 242.6,357.2 242.1,357.1 241.6,357.1 241.1,357 240.6,357 240.1,357.2 239.6,357.2 239.1,357.3 238.6,357 238.1,357 237.6,357 237.1,357 236.6,357.4 236.1,357.4 235.6,357.4 235.1,357.1 234.6,357.1 234.1,357.1 233.6,357.2 233.1,357.3 232.6,357.2 232.1,357.1 231.6,357.1 231.1,357.1 230.6,357.2 230.1,357.3 229.6,357.3 229.1,357.5 228.6,357.4 228.1,357.3 227.6,357.3 227.1,357.4 226.6,357.4 226.1,357.2 225.6,357.4 225.1,357.5 224.6,357.6 224.1,357.8 223.6,357.5 223.1,357.3 222.6,357.2 222.1,357.3 221.6,357.4 221.1,357.3 220.6,357.2 220.1,357.3 219.6,357.3 219.1,357.2 218.6,357.2 218.1,357.2 217.6,357.4 217.1,357.5 216.6,357.6 216.1,357.5 215.6,357.5 215.1,357.5 214.6,357.5 214.1,357.5 213.6,357.3 213.1,357.3 212.6,357.5 212.1,357.7 211.6,358 211.1,357.9 210.6,357.7 210.1,357.4 209.6,357.3 209.1,357.5 208.6,357.7 208.1,358.1 207.6,358.2 207.1,357.7 206.6,357.6 206.1,357.2 205.6,357.2 205.1,357.4 204.6,357.5 204.1,357.3 203.6,357.2 203.1,357.2 202.6,357.2 202.1,357.3 201.6,357.1 201.1,357.1 200.6,357.1 200.1,357.2 199.6,357.1 199.1,357.1 198.6,357.2 198.1,357.2 197.6,357.1 197.1,357.1 196.6,357.2 196.1,357.4 195.6,357.3 195.1,357.1 194.6,357.1 194.1,357.2 193.6,357.1 193.1,357.1 192.6,357.2 192.1,357.4 191.6,357.3 191.1,357.5 190.6,357.6 190.1,357.2 189.6,357.5 189.1,357.8 188.6,357.4 188.1,357.3 187.6,357.6 187.1,357.8 186.6,357.6 186.1,357.3 185.6,357.1 185.1,357.1 184.6,357.1 184.1,357.1 183.6,357.1 183.1,357.1 182.6,357.2 182.1,357.2 181.6,357.1 181.1,357.1 180.6,357.2 180.1,357.4 179.6,357.5 179.1,357.2 178.6,357.3 178.1,357.2 177.6,357.1 177.1,357.2 176.6,357.6 176.1,357.3 175.6,357.4 175.1,357.8 174.6,357.9 174.1,357.6 173.6,357.5 173.1,357.1 172.6,357 172.1,357.1 171.6,357.2 171.1,357.2 170.6,357.1 170.1,357.1 169.6,357.2 169.1,357.3 168.6,357.5 168.1,357.6 167.6,357.6 167.1,357.4 166.6,357.3 166.1,357.1 165.6,357.1 165.1,357.2 164.6,357.3 164.1,357.4 163.6,357.3 163.1,357.2 162.6,357.2 162.1,357.1 161.6,357.1 161.1,357.3 160.6,357.3 160.1,357.3 159.6,357.4 159.1,357.2 158.6,357.1 158.1,357.1 157.6,357.1 157.1,357.1 156.6,357.1 156.1,357.5 155.6,357.4 155.1,357.2 154.6,357.1 154.1,357.1 153.6,357.1 153.1,357.1 152.6,357.1 152.1,357.1 151.6,357.2 151.1,357.3 150.6,357.2 150.1,357.3 149.6,357.7 149.1,357.7 148.6,357.6 148.1,357.3 147.6,357.5 147.1,357.9 146.6,357.7 146.1,357.8 145.6,358 145.1,358.1 144.6,358.2 144.1,358.3 143.6,359.3 143.1,360.5 142.6,361.6 142.1,362.7 141.6,364.4 141.1,365.5 140.6,365.8 140.1,366.1 139.6,364.7 139.1,362.8 138.6,360.9 138.1,359 137.6,357.4 137.1,357.1 136.6,357.1 136.1,357 135.6,357.1 135.1,357.2 134.6,357.3 134.1,357.3 133.6,357.8 133.1,358.1 132.6,358.2 132.1,358.3 131.6,358.1 131.1,358 130.6,357.7 130.1,357.4 129.6,357.5 129.1,357.5 128.6,357.6 128.1,357.6 127.6,357.5 127.1,357.3 126.6,357.4 126.1,357.3 125.6,357.1 125.1,357.3 124.6,357.2 124.1,357.1 123.6,357.1 123.1,357.1 122.6,357.1 122.1,357 121.6,357.1 121.1,357 120.6,357.1 120.1,357.2 119.6,357.2 119.1,357.3 118.6,357.5 118.1,357.6 117.6,357.2 117.1,357.1 116.6,357.1 116.1,357.1 115.6,357.1 115.1,357.2 114.6,357.3 114.1,357.3 113.6,357.2 113.1,357.3 112.6,357.3 112.1,357.1 111.6,357.3 111.1,357.3 110.6,357.3 110.1,357.5 109.6,357.9 109.1,357.4 108.6,357.3 108.1,357.2 107.6,357.2 107.1,357.2 106.6,357.2 106.1,357.2 105.6,357.2 105.1,357.2 104.6,357.3 104.1,357.2 103.6,357.3 103.1,357.2 102.6,357.3 102.1,357.4 101.6,357.3 101.1,357.6 100.6,357.6 100.1,357.5 99.6,357.2 99.1,357.2 98.6,357.2 98.1,357.2 97.6,357.1 97.1,357.2 96.6,357.1 96.1,357.3 95.6,357.3 95.1,357.3 94.6,357.1 94.1,357.1 93.6,357.1 93.1,357.2 92.6,357.1 92.1,357.1 91.6,357.5 91.1,357.4 90.6,357.7 90.1,358 89.6,358.2 89.1,358.3 88.6,358 88.1,357.6 87.6,357.6 87.1,357.8 86.6,357.9 86.1,357.5Z"/><path d="M86.1,372.8 86.6,372.7 87.1,372.7 87.6,372.7 88.1,372.6 88.6,372.3 89.1,372.2 89.6,372.5 90.1,372.6 90.6,372.7 91.1,372.7 91.6,372.2 92.1,372.4 92.6,372.1 93.1,372.7 93.6,372.9 94.1,372.8 94.6,372.8 95.1,372.7 95.6,372.6 96.1,372.7 96.6,372.6 97.1,372.6 97.6,372.4 98.1,372.2 98.6,372.1 99.1,372.1 99.6,372 100.1,372 100.6,371.9 101.1,372 101.6,371.9 102.1,371.9 102.6,371.7 103.1,371.7 103.6,372 104.1,372.2 104.6,372.5 105.1,372.4 105.6,372.3 106.1,372.4 106.6,372.3 107.1,372.4 107.6,372.4 108.1,372.4 108.6,372 109.1,372.1 109.6,372 110.1,372.3 110.6,372 111.1,372 111.6,372.2 112.1,372.5 112.6,372.6 113.1,372.5 113.6,372.5 114.1,372.3 114.6,372 115.1,372 115.6,372.2 116.1,372.4 116.6,372.6 117.1,372.3 117.6,372.3 118.1,372.7 118.6,372.8 119.1,372.8 119.6,372.8 120.1,372.8 120.6,372.9 121.1,372.9 121.6,372.8 122.1,372.4 122.6,372.4 123.1,372.9 123.6,372.8 124.1,372.9 124.6,372.9 125.1,372.8 125.6,372.5 126.1,372.5 126.6,372.6 127.1,372.7 127.6,372.7 128.1,372.9 128.6,372.5 129.1,372.5 129.6,372.5 130.1,372.4 130.6,372.6 131.1,372.9 131.6,372.7 132.1,372.8 132.6,372.8 133.1,372.8 133.6,372.5 134.1,372.7 134.6,372.6 135.1,372.1 135.6,371 136.1,368 136.6,365.3 137.1,362.4 137.6,359.6 138.1,356.4 138.6,354.2 139.1,355.8 139.6,357.8 140.1,359.9 140.6,361.8 141.1,363.8 141.6,365.7 142.1,367.7 142.6,369.6 143.1,371.3 143.6,371.3 144.1,370.7 144.6,371.1 145.1,371.4 145.6,372.1 146.1,372.2 146.6,372.1 147.1,372.1 147.6,372 148.1,372.1 148.6,372.2 149.1,372.6 149.6,372.7 150.1,372.9 150.6,372.5 151.1,372.4 151.6,372.7 152.1,372.8 152.6,372.6 153.1,372.7 153.6,372.6 154.1,372.4 154.6,372.5 155.1,372.5 155.6,372.1 156.1,371.8 156.6,372.1 157.1,372.4 157.6,372.5 158.1,372.5 158.6,372.7 159.1,372.5 159.6,372.6 160.1,372.6 160.6,372.5 161.1,372.4 161.6,372.1 162.1,371.9 162.6,372.5 163.1,372.5 163.6,372.4 164.1,372.7 164.6,372.8 165.1,372.6 165.6,372.6 166.1,372.8 166.6,372.7 167.1,372.6 167.6,372.7 168.1,372.7 168.6,372.7 169.1,372.5 169.6,372.4 170.1,371.9 170.6,371.9 171.1,371.7 171.6,372.1 172.1,372.4 172.6,372.4 173.1,372.4 173.6,372.6 174.1,372.8 174.6,372.6 175.1,372.4 175.6,372.6 176.1,372.7 176.6,372.8 177.1,372.8 177.6,372.5 178.1,372.2 178.6,371.6 179.1,371.5 179.6,372.3 180.1,372.6 180.6,372.8 181.1,372.8 181.6,372.8 182.1,372.8 182.6,372.6 183.1,372.3 183.6,372.6 184.1,372.3 184.6,372.6 185.1,372.9 185.6,372.8 186.1,372.9 186.6,372.8 187.1,372.8 187.6,372.6 188.1,372.9 188.6,372.8 189.1,372.7 189.6,372.8 190.1,372.8 190.6,372.8 191.1,372.9 191.6,372.8 192.1,372.9 192.6,372.8 193.1,372.8 193.6,372.8 194.1,372.7 194.6,372.7 195.1,372.7 195.6,372.8 196.1,372.6 196.6,372.6 197.1,372.7 197.6,372.8 198.1,372.7 198.6,372.9 199.1,372.8 199.6,372.8 200.1,372.7 200.6,372.1 201.1,372.5 201.6,372.6 202.1,372.6 202.6,372.3 203.1,372 203.6,372 204.1,372 204.6,372 205.1,372.1 205.6,372.3 206.1,372.4 206.6,372.3 207.1,372.4 207.6,372.8 208.1,372.6 208.6,372.6 209.1,372.7 209.6,372.7 210.1,372.9 210.6,372.8 211.1,372.9 211.6,372.8 212.1,372.7 212.6,372.6 213.1,372.5 213.6,372.5 214.1,372.1 214.6,372.3 215.1,372.4 215.6,372.7 216.1,372.7 216.6,372.6 217.1,372.7 217.6,372.7 218.1,372.7 218.6,372.6 219.1,372.5 219.6,372.7 220.1,372.8 220.6,372.8 221.1,372.4 221.6,372.3 222.1,372.7 222.6,372.8 223.1,372.8 223.6,372.8 224.1,372.8 224.6,372.6 225.1,372.4 225.6,372.3 226.1,372.3 226.6,372.6 227.1,372.5 227.6,372.7 228.1,372.4 228.6,372.2 229.1,371.8 229.6,371.8 230.1,371.6 230.6,371.9 231.1,371.8 231.6,371.8 232.1,371.8 232.6,372 233.1,372.1 233.6,372.2 234.1,372.1 234.6,372.6 235.1,372.7 235.6,372.8 236.1,372.6 236.6,372.3 237.1,372 237.6,371.4 238.1,371.3 238.6,371.6 239.1,371.8 239.6,372.1 240.1,372.4 240.6,372.6 241.1,372.8 241.6,372.8 242.1,372.8 242.6,372.7 243.1,372.8 243.6,372.3 244.1,372.3 244.6,372.4 245.1,372.6 245.6,372.5 246.1,372.2 246.6,372.4 247.1,372.8 247.6,372.8 248.1,372.9 248.6,372.8 249.1,372.8 249.6,372.8 250.1,372.9 250.6,372.8 251.1,372.8 251.6,372.6 252.1,372.7 252.6,372.7 253.1,372.5 253.6,372.3 254.1,372.3 254.6,372.5 255.1,372.5 255.6,372.7 256.1,372.8 256.6,372.8 257.1,372.8 257.6,372.9 258.1,372.8 258.6,372.1 259.1,372.3 259.6,372.5 260.1,372.7 260.6,372.8 261.1,372.7 261.6,372.7 262.1,372.9 262.6,372.9 263.1,372.4 263.6,372.3 264.1,372.7 264.6,372.3 265.1,372.4 265.6,372.3 266.1,372.4 266.6,372.6 267.1,372.6 267.6,372.8 268.1,373 268.6,372.8 269.1,372.6 269.6,372.3 270.1,372.5 270.6,372.4 271.1,372.8 271.6,372.8 272.1,372.6 272.6,371.9 273.1,372 273.6,372.5 274.1,372.4 274.6,372.5 275.1,372.5 275.6,372.6 276.1,372.4 276.6,372 277.1,371.7 277.6,371.9 278.1,372.1 278.6,372.3 279.1,372.5 279.6,372.7 280.1,372.4 280.6,372.6 281.1,372.3 281.6,371.8 282.1,372.1 282.6,372.2 283.1,372.5 283.6,372.9 284.1,372.8 284.6,372.8 285.1,372.9 285.6,372.6 286.1,372.2 286.6,372.7 287.1,372.3 287.6,371.9 288.1,371.8 288.6,372 289.1,372.2 289.6,372.2 290.1,372.3 290.6,372.2 291.1,371.8 291.6,372.4 292.1,372.2 292.6,372.6 293.1,372.8 293.6,372.8 294.1,372.7 294.6,372.5 295.1,372.8 295.6,372.8 296.1,372.9 296.6,372.8 297.1,372.9 297.6,372.8 298.1,372.9 298.6,372.9 299.1,372.8 299.6,372.9 300.1,372.7 300.6,372.8 301.1,373 301.6,373 302.1,373 302.6,372.7 303.1,372.8 303.6,373 304.1,373 304.6,372.9 305.1,372.9 305.6,373 306.1,372.8 306.6,372.6 307.1,372.6 307.6,372.4 308.1,372.5 308.6,372.6 309.1,372.8 309.6,372.6 310.1,372.4 310.6,372.4 311.1,372.7 311.6,372.8 312.1,372.7 312.6,372.8 313.1,372.7 313.6,372.6 314.1,372.3 314.6,372.2 315.1,371.8 315.6,372.3 316.1,372.2 316.6,371.8 317.1,372 317.6,372.1 318.1,372.7 318.6,372.6 319.1,372.9 319.6,373 320.1,372.8 320.6,372.8 321.1,372.7 321.6,372.6 322.1,372.8 322.6,372.6 323.1,373 323.6,372.5 324.1,372.6 324.6,373 325.1,373.1 325.6,373 326.1,372.9 326.6,372.9 327.1,372.9 327.6,373 328.1,373 328.6,372.9 329.1,372.9 329.6,372.6 330.1,372.5 330.6,372.6 331.1,372.6 331.6,372.8 332.1,372.5 332.6,372.3 333.1,372.8 333.6,372.8 334.1,372.8 334.6,372.7 335.1,372.8 335.6,372.8 336.1,372.8 336.6,372.8 337.1,372.5 337.6,372.7 338.1,372.6 338.6,372.7 339.1,372.7 339.6,372.7 340.1,372.6 340.6,372.8 341.1,372.6 341.6,372.6 342.1,372.8 342.6,372.8 343.1,372.7 343.6,372.7 344.1,372.4 344.6,372.5 345.1,372.8 345.6,372.8 346.1,372.8 346.6,372.8 347.1,372.8 347.6,372.8 348.1,372.8 348.6,372.7 349.1,372.8 349.6,372.6 350.1,372.7 350.6,372.8 351.1,372.6 351.6,372.5 352.1,372.5 352.6,372.2 353.1,372 353.6,372.2 354.1,372.3 354.6,372.4 355.1,372.2 355.6,372.4 356.1,372.6 356.6,372.5 357.1,372.3 357.6,372.3 358.1,372.5 358.6,372.9 359.1,372.8 359.6,372.8 360.1,372.8 360.6,373 361.1,373 361.6,373 362.1,372.9 362.6,372.8 363.1,372.8 363.6,372.8 364.1,373 364.6,372.8 365.1,372.5 365.6,372.9 366.1,372.7 366.6,372.6 367.1,372.7 367.6,372.7 368.1,372.8 368.6,372.8 369.1,372.6 369.6,372.3 370.1,372 370.6,372.7 371.1,372.7 371.6,372.4 372.1,372.6 372.6,372.8 373.1,372.8 373.6,372.9 374.1,372.9 374.6,372.8 375.1,372.7 375.6,372.8 376.1,372.9 376.6,372.9 377.1,372.9 377.6,372.6 378.1,372.7 378.6,372.9 379.1,372 379.6,372.2 380.1,372.6 380.6,373 381.1,372.8 381.6,372.4 382.1,372.5 382.6,372.8 383.1,373 383.6,372.9 384.1,373 384.6,372.8 385.1,372.9 385.6,372.9 386.1,373 386.6,372.8 387.1,372.9 387.6,372.8 388.1,372.5 388.6,372.6 389.1,372.7 389.6,372.4 390.1,372.3 390.6,372.5 391.1,372.5 391.6,372.6 392.1,372.7 392.6,372.8 393.1,372.9 393.6,372.8 394.1,372.7 394.6,372.6 395.1,372.6 395.6,372.4 396.1,372.7 396.6,372.7 397.1,372.8 397.6,372.5 398.1,372.3 398.6,372.1 399.1,372.5 399.6,372.5 400.1,372.8 400.6,372.9 401.1,372.9 401.6,372.9 402.1,372.8 402.6,372.8 403.1,372.8 403.6,372.6 404.1,372.7 404.6,372.9 405.1,372.7 405.6,372.7 406.1,372.6 406.6,372.9 407.1,372.8 407.6,372.9 408.1,372.7 408.6,372.7 409.1,372.7 409.6,372.9 410.1,372.7 410.6,372.8 411.1,372.2 411.6,372.2 412.1,372.2 412.6,372.8 413.1,372.8 413.6,372.8 414.1,372.8 414.6,372.8 415.1,372.8 415.6,372.4 416.1,372.8 416.6,372.8 417.1,372.7 417.6,372.9 418.1,372.4 418.6,372.4 419.1,372.9 419.6,372.9 420.1,372.8 420.6,372.9 421.1,372.8 421.6,372.9 422.1,372.7 422.6,372.7 423.1,372.5 423.6,372.6 424.1,372.3 424.6,372.5 425.1,372.4 425.6,372.6 426.1,372.5 426.6,372.8 427.1,372.3 427.6,372.2 428.1,372.3 428.6,372.4 429.1,372.2 429.6,372.6 430.1,372.7 430.6,372.8 431.1,372.8 431.6,372.2 432.1,372.2 432.6,372.7 433.1,372.7 433.6,372.7 434.1,372.6 434.6,372.7 435.1,372.5 435.6,372.1 436.1,371.6 436.6,371.8 437.1,372 437.6,371.7 438.1,371.5 438.6,371.9 439.1,372 439.6,372.1 440.1,372.3 440.6,372.5 441.1,372.6 441.6,372.5 442.1,372.7 442.6,372.6 443.1,372.6 443.6,372.7 444.1,372.7 444.6,372.8 445.1,372.7 445.6,372.6 446.1,372.4 446.6,372.7 447.1,372.7 447.6,372.7 448.1,372.6 448.6,372.6 449.1,372.6 449.6,372.7 450.1,372.7 450.6,372.7 451.1,372.6 451.6,372.7 452.1,372.7 452.6,372.4 453.1,372.1 453.6,371.9 454.1,372 454.6,372.2 455.1,372.5 455.6,372.9 456.1,372.9 456.6,372.9 457.1,372.9 457.6,372.9 458.1,372.9 458.6,372.9 459.1,372.9 459.6,372.9 460.1,372.9 460.6,372.9 461.1,372.6 461.6,372.7 462.1,372.7 462.6,372.7 463.1,372.4 463.6,372.5 464.1,372.6 464.6,372.8 465.1,372.8 465.6,372.8 466.1,372.9 466.6,373 467.1,373 467.6,372.9 468.1,373 468.6,372.8 469.1,372.9 469.6,372.4 470.1,372.2 470.6,372.9 471.1,372.9 471.6,372.8 472.1,372.9 472.6,372.7 473.1,372.8 473.6,372.8 474.1,372.7 474.6,372.8 475.1,372.5 475.6,372.4 476.1,372.6 476.6,372.7 477.1,372.8 477.6,372.7 478.1,372.7 478.6,372.8 479.1,372.8 479.6,372.8 480.1,372.7 480.6,372.8 481.1,372.8 481.6,372.8 482.1,372.8 482.6,372.8 483.1,372.6 483.6,372.7 484.1,372.7 484.6,372.8 485.1,372.8 485.6,372.7 486.1,372.8 486.6,372.8 487.1,372.8 487.6,372.8 488.1,372.8 488.6,372.8 489.1,372.8 489.6,372.9 490.1,372.9 490.6,372.8 491.1,372.7 491.6,372.9 492.1,372.9 492.6,372.8 493.1,372.8 493.6,372.3 494.1,372.3 494.6,372.6 495.1,372.5 495.6,372.4 496.1,372.4 496.6,372.5 497.1,372.6 497.6,372.8 498.1,372.9 498.6,372.8 499.1,372.8 499.6,372.7 500.1,372.8 500.6,372.8 501.1,372.9 501.6,372.9 502.1,372.9 502.6,372.9 503.1,372.8 503.6,372.8 504.1,372.9 504.6,373 505.1,373 505.6,372.8 506.1,372.8 506.6,372.6 507.1,372.5 507.6,372.7 508.1,372.4 508.6,372.3 509.1,372.1 509.6,371.8 510.1,371.9 510.6,372.1 511.1,372.3 511.6,372.4 512.1,372.7 512.6,372.2 513.1,372.3 513.6,372.4 514.1,373.1 514.6,372.9 515.1,372.8 515.6,372.9 516.1,372.6 516.6,372.6 517.1,372.7 517.6,372.9 518.1,372.9 518.6,373 519.1,373 519.6,373 520.1,373 520.6,372.9 521.1,372.9 521.6,373 522.1,373 522.6,372.9 523.1,372.9 523.6,373 524.1,372.4 524.6,372.3 525.1,372.4 525.6,373 526.1,372.5 526.6,372.4 527.1,372.8 527.6,372.9 528.1,372.8 528.6,372.9 529.1,372.6 529.6,372.7 530.1,372.3 530.6,372.2 531.1,371.8 531.6,371.8 532.1,371.9 532.6,372 533.1,371.8 533.6,371.5 534.1,371.9 534.6,372.2 535.1,372.6 535.6,372.7 536.1,372.8 536.6,372.4 537.1,371.9 537.6,371.8 538.1,372.3 538.6,372.7 539.1,372.6 539.6,372.3 540.1,372.9 540.6,372.8 541.1,372.9 541.6,372.6 542.1,372.2 542.6,372.1 543.1,372.4 543.6,372.6 544.1,372.8 544.6,372.7 545.1,372.5 545.6,372.2 546.1,372.1 546.6,372.4 547.1,372.1 547.6,372.7 548.1,372.4 548.6,372.2 549.1,372.3 549.6,372 550.1,372.6 550.6,372.6 551.1,372.7 551.6,372.8 552.1,372.7 552.6,372.8 553.1,372.8 553.6,372.8 554.1,372.8 554.6,372.8 555.1,372.8 555.6,372.6 556.1,372.6 556.6,372.8 557.1,372.7 557.6,372.7 558.1,372.8 558.6,372.8 559.1,372.7 559.6,372.6 560.1,372.6 560.6,372.5 561.1,372.5 561.6,372.6 562.1,372.8 562.6,372.8 563.1,372.8 563.6,372.8 564.1,372.7 564.6,372.8 565.1,372.7 565.6,372.5 566.1,372.1 566.6,371.7 567.1,372.2 567.6,372.4 568.1,372.6 568.6,372.6 569.1,372.6 569.6,372.6 570.1,372.5 570.6,372.6 571.1,372.3 571.6,372.2 572.1,372.4 572.6,372.5 573.1,372.7 573.6,372.4 574.1,372.7 574.6,372.7 575.1,372.3 575.6,372.3 576.1,372.1 576.6,372.1 577.1,372.3 577.6,372.5 578.1,372.5 578.6,372.7 579.1,372.7 579.6,372.6 580.1,372.4 580.6,372.2 581.1,372.1 581.6,371.8 582.1,371.8 582.6,371.8 583.1,371.6 583.6,372.1 584.1,371.9 584.6,372 585.1,372.4 585.6,372.5 586.1,372.8 586.6,372.8 587.1,372.9 587.6,372.8 588.1,372.7 588.6,372.7 589.1,372.6 589.6,372.6 590.1,372.6 590.6,372.5 591.1,372.7 591.6,372.5 592.1,372.5 592.6,372.7 593.1,372.8 593.6,372.7 594.1,372.9 594.6,372.5 595.1,372.5 595.6,372.4 596.1,372.8 596.6,372.9 597.1,372.9 597.6,372.8 598.1,372.8 598.6,372.5 599.1,372.4 599.6,372.8 600.1,372.6 600.6,372.3 601.1,372.5 601.6,372.6 602.1,372.7 602.6,372.8 603.1,372.5 603.6,372.4 604.1,372.7 604.6,372.8 605.1,372.7 605.6,372.8 606.1,372.7 606.6,372.7 607.1,372.5 607.6,372.6 608.1,372.6 608.6,372.7 609.1,372.8 609.6,372.6 610.1,372.7 610.6,372.8 611.1,372.4 611.6,372.2 612.1,372.2 612.6,372.4 613.1,372.4 613.6,372.5 614.1,372.7 614.6,372.7 615.1,372.6 615.6,372.7 616.1,372.4 616.6,372.3 617.1,371.9 617.6,372 618.1,372.3 618.6,372.4 619.1,372.7 619.6,372.7 620.1,372.7 620.6,372.4 621.1,372.6 621.6,372.8 622.1,372.7 622.6,372.8 623.1,372.8 623.6,372.7 624.1,372.6 624.6,372.7 625.1,372.7 625.6,372.6 626.1,372.4 626.6,372.2 627.1,372.3 627.6,372.3 628.1,372.2 628.6,372.1 629.1,372.1 629.6,372 630.1,371.7 630.6,371.3 631.1,371.2 631.6,370.8 632.1,370.9 632.6,370.7 633.1,371 633.6,371.3 634.1,370.7 634.6,370.3 635.1,370.1 635.6,370.3 636.1,370.9 636.6,370.7 637.1,370.3 637.6,370.6 638.1,370.6 638.6,370.6 639.1,370.4 639.6,370.5 640.1,370.7 640.6,370.9 641.1,371.1 641.6,371.5 642.1,371.8 642.6,372 643.1,372.2 643.6,372.5 644.1,372.6 644.6,372.8 645.1,372.8 645.6,373.1 646.1,373.2 646.6,373.3 647.1,373.3 647.6,373.3 648.1,373.4 648.6,373.7 649.1,373.9 649.6,374 650.1,374 650.6,374 651.1,374 651.1,374.8 650.6,374.8 650.1,374.8 649.6,374.8 649.1,375 648.6,375.1 648.1,375.1 647.6,375.4 647.1,375.5 646.6,375.5 646.1,375.7 645.6,375.8 645.1,375.9 644.6,376.1 644.1,376.2 643.6,376.4 643.1,376.8 642.6,377.1 642.1,377.2 641.6,377.4 641.1,377.8 640.6,378 640.1,378.4 639.6,378.4 639.1,378.5 638.6,378.3 638.1,378.3 637.6,378.1 637.1,378.1 636.6,378 636.1,378.2 635.6,378.1 635.1,378 634.6,377.8 634.1,377.7 633.6,377.6 633.1,377.6 632.6,377.5 632.1,377.6 631.6,377.6 631.1,377.8 630.6,377.7 630.1,377.4 629.6,377.2 629.1,376.8 628.6,376.6 628.1,376.7 627.6,376.6 627.1,376.6 626.6,376.8 626.1,376.9 625.6,376.7 625.1,376.6 624.6,376.1 624.1,376.1 623.6,376.4 623.1,376.3 622.6,376 622.1,376.1 621.6,376.1 621.1,375.9 620.6,375.9 620.1,376 619.6,376 619.1,376 618.6,376 618.1,376.4 617.6,376.8 617.1,376.9 616.6,376.4 616.1,376.1 615.6,376.1 615.1,376.1 614.6,376.3 614.1,376.3 613.6,376.4 613.1,376.4 612.6,376.4 612.1,376.4 611.6,376.3 611.1,376.2 610.6,376.3 610.1,376.3 609.6,376.2 609.1,376.1 608.6,376.1 608.1,376.1 607.6,376.4 607.1,376.5 606.6,376.7 606.1,376.3 605.6,376 605.1,376.1 604.6,376 604.1,376 603.6,376 603.1,376 602.6,376 602.1,376.4 601.6,376.5 601.1,376.6 600.6,376.8 600.1,376.4 599.6,376.1 599.1,376.1 598.6,376.7 598.1,376.5 597.6,376.4 597.1,376.1 596.6,376.1 596.1,376.2 595.6,376.1 595.1,376 594.6,376.3 594.1,376.3 593.6,376.1 593.1,376.1 592.6,375.9 592.1,375.9 591.6,376.1 591.1,375.9 590.6,376.2 590.1,376.3 589.6,375.9 589.1,375.9 588.6,376.1 588.1,376.1 587.6,375.9 587.1,376.6 586.6,376.3 586.1,376 585.6,376.1 585.1,376.3 584.6,376.7 584.1,376.7 583.6,376.4 583.1,376.3 582.6,376.4 582.1,376.4 581.6,376.6 581.1,376.4 580.6,376.3 580.1,376.1 579.6,375.9 579.1,375.9 578.6,376 578.1,375.9 577.6,375.9 577.1,376 576.6,376 576.1,375.9 575.6,376.2 575.1,376.3 574.6,376.3 574.1,376 573.6,375.9 573.1,375.9 572.6,376.1 572.1,376.5 571.6,376.3 571.1,376.1 570.6,376.1 570.1,376.2 569.6,376.3 569.1,376.4 568.6,376.3 568.1,376.1 567.6,376.6 567.1,376.6 566.6,376.5 566.1,376.3 565.6,376.3 565.1,376.1 564.6,376 564.1,376 563.6,376 563.1,375.8 562.6,375.8 562.1,375.9 561.6,376.2 561.1,376.2 560.6,376 560.1,375.8 559.6,376.2 559.1,376.2 558.6,376 558.1,376 557.6,375.9 557.1,375.8 556.6,375.9 556.1,376.1 555.6,375.9 555.1,375.8 554.6,375.8 554.1,375.8 553.6,375.9 553.1,376 552.6,375.8 552.1,375.9 551.6,375.9 551.1,375.9 550.6,375.9 550.1,375.9 549.6,376 549.1,376 548.6,376 548.1,375.9 547.6,376 547.1,376.1 546.6,376.2 546.1,376.8 545.6,377.1 545.1,376.8 544.6,376.5 544.1,376.1 543.6,375.9 543.1,376 542.6,376.6 542.1,376.2 541.6,376.1 541.1,375.8 540.6,375.8 540.1,375.8 539.6,376.1 539.1,376 538.6,375.9 538.1,376 537.6,375.9 537.1,375.9 536.6,376 536.1,376.1 535.6,376 535.1,376.6 534.6,376.5 534.1,376.9 533.6,377.4 533.1,377.5 532.6,377.6 532.1,377 531.6,377 531.1,377.7 530.6,377.4 530.1,376.7 529.6,376.3 529.1,376.4 528.6,376.4 528.1,376.1 527.6,376 527.1,376.2 526.6,376.2 526.1,376.2 525.6,376 525.1,376.2 524.6,376.1 524.1,376 523.6,376.1 523.1,376 522.6,376 522.1,376.2 521.6,376.1 521.1,376.1 520.6,376.2 520.1,376.1 519.6,376.3 519.1,375.9 518.6,375.9 518.1,375.9 517.6,376.1 517.1,376.3 516.6,376.7 516.1,376.5 515.6,375.9 515.1,376 514.6,375.9 514.1,375.9 513.6,376.2 513.1,376.2 512.6,376.1 512.1,376.1 511.6,376.2 511.1,376.4 510.6,376.8 510.1,377.1 509.6,376.9 509.1,376.4 508.6,376.3 508.1,376.3 507.6,376.3 507.1,376.3 506.6,376.2 506.1,376.6 505.6,376.5 505.1,376.4 504.6,376 504.1,376.1 503.6,376 503.1,376 502.6,376 502.1,376.1 501.6,376.2 501.1,376.7 500.6,376.5 500.1,376.1 499.6,376.1 499.1,376.2 498.6,376.1 498.1,376.1 497.6,376.3 497.1,376.4 496.6,376.3 496.1,376.8 495.6,376.9 495.1,376.9 494.6,376.7 494.1,376.4 493.6,376.3 493.1,376 492.6,376 492.1,376 491.6,376 491.1,376 490.6,375.9 490.1,375.9 489.6,375.8 489.1,375.8 488.6,375.9 488.1,376 487.6,375.8 487.1,375.8 486.6,375.8 486.1,375.8 485.6,375.8 485.1,376.1 484.6,375.9 484.1,375.9 483.6,376.3 483.1,376.4 482.6,376 482.1,375.9 481.6,375.8 481.1,375.8 480.6,376.3 480.1,376.3 479.6,376.3 479.1,376.1 478.6,375.9 478.1,376 477.6,376 477.1,376 476.6,376.2 476.1,376 475.6,376.1 475.1,376 474.6,376.1 474.1,376 473.6,376 473.1,376 472.6,376 472.1,376.1 471.6,376.1 471.1,376.1 470.6,375.9 470.1,376 469.6,376.1 469.1,376 468.6,376 468.1,376.1 467.6,376.1 467.1,376 466.6,376.1 466.1,376 465.6,376.1 465.1,376.1 464.6,376.2 464.1,376.3 463.6,376.4 463.1,376.5 462.6,376.4 462.1,376.3 461.6,376.2 461.1,376.1 460.6,376.2 460.1,376 459.6,376 459.1,376.1 458.6,376.2 458.1,376.2 457.6,376 457.1,376 456.6,376 456.1,375.9 455.6,375.9 455.1,375.9 454.6,376.3 454.1,376.3 453.6,376.6 453.1,376.6 452.6,376.5 452.1,376 451.6,376 451.1,376.1 450.6,376 450.1,376.1 449.6,376 449.1,376 448.6,376 448.1,376.1 447.6,376 447.1,376.1 446.6,376.2 446.1,376 445.6,376.1 445.1,376.3 444.6,376.3 444.1,376.2 443.6,376 443.1,376 442.6,376 442.1,376.2 441.6,376.2 441.1,376.1 440.6,376.3 440.1,376.8 439.6,377.1 439.1,376.9 438.6,376.8 438.1,376.9 437.6,376.6 437.1,376.5 436.6,377 436.1,377.3 435.6,377.1 435.1,376.1 434.6,375.9 434.1,376 433.6,375.9 433.1,375.8 432.6,375.9 432.1,375.9 431.6,376.1 431.1,376.1 430.6,376 430.1,376.1 429.6,376.1 429.1,376.2 428.6,376.3 428.1,376.3 427.6,376.7 427.1,376.6 426.6,376.5 426.1,375.9 425.6,375.9 425.1,376 424.6,375.9 424.1,375.9 423.6,376 423.1,376 422.6,376.1 422.1,375.9 421.6,376.4 421.1,375.9 420.6,376 420.1,376.1 419.6,376 419.1,376.1 418.6,376.1 418.1,376 417.6,376 417.1,375.9 416.6,375.9 416.1,376.1 415.6,376.2 415.1,376.1 414.6,376 414.1,376 413.6,376 413.1,376 412.6,376.2 412.1,376.2 411.6,376 411.1,376.2 410.6,376.3 410.1,376.2 409.6,376.1 409.1,376.2 408.6,376.6 408.1,376.6 407.6,377 407.1,376.5 406.6,376.7 406.1,376.2 405.6,376.2 405.1,376.1 404.6,376.1 404.1,376.3 403.6,376.4 403.1,376.4 402.6,376.1 402.1,376.1 401.6,376.2 401.1,376.2 400.6,376.1 400.1,376.3 399.6,376.5 399.1,376.4 398.6,376.2 398.1,376.2 397.6,376.2 397.1,376.8 396.6,377 396.1,376.5 395.6,376.5 395.1,376.4 394.6,376.3 394.1,376.1 393.6,376.2 393.1,376.1 392.6,376.1 392.1,376.1 391.6,376.4 391.1,376.4 390.6,376.4 390.1,376.6 389.6,376.6 389.1,376.7 388.6,376.4 388.1,376.1 387.6,376.1 387.1,376.1 386.6,376.2 386.1,376.2 385.6,376.1 385.1,376.2 384.6,376 384.1,376 383.6,376.1 383.1,376 382.6,376.2 382.1,376.5 381.6,376.6 381.1,376.3 380.6,376.3 380.1,376.6 379.6,376.7 379.1,376.7 378.6,376.9 378.1,376.8 377.6,376.4 377.1,376.1 376.6,376 376.1,376 375.6,376.3 375.1,376.3 374.6,376.1 374.1,376.1 373.6,376.1 373.1,376.1 372.6,376.7 372.1,376.7 371.6,376.6 371.1,376.4 370.6,376.6 370.1,376.9 369.6,376.9 369.1,376.5 368.6,376.2 368.1,376.1 367.6,376.1 367.1,376 366.6,376 366.1,376 365.6,376 365.1,376.5 364.6,376.5 364.1,376.2 363.6,376.3 363.1,376.6 362.6,376.9 362.1,377.2 361.6,377.8 361.1,378.5 360.6,378.6 360.1,378.9 359.6,379.2 359.1,379.5 358.6,379.7 358.1,380 357.6,380.7 357.1,380.8 356.6,380.4 356.1,379.7 355.6,379.9 355.1,379.5 354.6,378.2 354.1,377.8 353.6,377.4 353.1,376.7 352.6,376.5 352.1,376.6 351.6,376.3 351.1,375.9 350.6,375.9 350.1,375.9 349.6,375.9 349.1,376 348.6,375.9 348.1,376 347.6,375.9 347.1,375.8 346.6,375.8 346.1,375.8 345.6,375.8 345.1,376 344.6,375.8 344.1,375.9 343.6,376 343.1,376.2 342.6,376.3 342.1,376.2 341.6,376 341.1,375.9 340.6,376 340.1,375.9 339.6,376 339.1,376.2 338.6,376.3 338.1,376.1 337.6,376 337.1,376 336.6,376.1 336.1,375.9 335.6,376.2 335.1,376.2 334.6,376 334.1,376 333.6,376 333.1,376.1 332.6,376.1 332.1,376.1 331.6,376.3 331.1,376.3 330.6,376.3 330.1,376.3 329.6,376.4 329.1,376 328.6,376 328.1,375.9 327.6,375.9 327.1,375.9 326.6,376 326.1,376.1 325.6,376 325.1,376.3 324.6,376.1 324.1,375.9 323.6,376.3 323.1,376.3 322.6,376.4 322.1,376.1 321.6,376.2 321.1,376.6 320.6,376.4 320.1,376 319.6,375.9 319.1,376.1 318.6,376.7 318.1,376.7 317.6,376.8 317.1,376.4 316.6,376.6 316.1,376.4 315.6,376.5 315.1,376.5 314.6,376.7 314.1,376.5 313.6,376.1 313.1,376 312.6,376.1 312.1,376 311.6,376.1 311.1,376.1 310.6,376.2 310.1,376.3 309.6,376.4 309.1,376.6 308.6,376.7 308.1,376.5 307.6,376.7 307.1,376.7 306.6,376.2 306.1,376.3 305.6,376.1 305.1,376.3 304.6,376.3 304.1,376.2 303.6,375.9 303.1,375.9 302.6,376 302.1,376.1 301.6,375.9 301.1,376 300.6,375.9 300.1,376 299.6,376 299.1,375.9 298.6,375.9 298.1,376.2 297.6,376.1 297.1,376.1 296.6,376.1 296.1,376.1 295.6,376.1 295.1,376.5 294.6,376.6 294.1,376.2 293.6,376.1 293.1,376.1 292.6,376.1 292.1,376.3 291.6,376.6 291.1,376.7 290.6,376.5 290.1,376.3 289.6,376.5 289.1,376.7 288.6,376.7 288.1,376.5 287.6,376.5 287.1,376.2 286.6,376.4 286.1,376.3 285.6,376.3 285.1,376.2 284.6,376.2 284.1,376.2 283.6,375.9 283.1,376.4 282.6,376.6 282.1,376.4 281.6,376.5 281.1,376.4 280.6,376.2 280.1,376.2 279.6,376.1 279.1,376.1 278.6,376.7 278.1,376.9 277.6,376.9 277.1,377 276.6,376.7 276.1,376.3 275.6,376.1 275.1,376.1 274.6,376 274.1,376 273.6,376.3 273.1,376.7 272.6,377 272.1,376.4 271.6,376.5 271.1,376.5 270.6,376.5 270.1,376.4 269.6,376.5 269.1,376.4 268.6,376.4 268.1,376 267.6,376.1 267.1,376.3 266.6,376.3 266.1,376.4 265.6,376.6 265.1,377.1 264.6,377 264.1,376.5 263.6,376.1 263.1,376 262.6,375.9 262.1,376.1 261.6,376.1 261.1,375.9 260.6,375.9 260.1,376.1 259.6,376.2 259.1,376.3 258.6,376.1 258.1,375.9 257.6,376 257.1,376 256.6,376.1 256.1,376 255.6,376 255.1,376.1 254.6,376.3 254.1,376.3 253.6,376.3 253.1,376.3 252.6,376.2 252.1,376 251.6,376.1 251.1,376.5 250.6,376.5 250.1,376.4 249.6,376.1 249.1,376 248.6,376.1 248.1,376.1 247.6,376 247.1,376.2 246.6,376.6 246.1,376.8 245.6,376.5 245.1,376.3 244.6,376 244.1,376.2 243.6,376.2 243.1,376.2 242.6,376.2 242.1,376.1 241.6,376.1 241.1,376.1 240.6,376.3 240.1,376.5 239.6,376.6 239.1,376.9 238.6,376.8 238.1,376.9 237.6,376.8 237.1,376.7 236.6,376.4 236.1,376.1 235.6,376 235.1,376.6 234.6,376.3 234.1,376 233.6,376.2 233.1,376.3 232.6,376.4 232.1,376.5 231.6,376.6 231.1,376.8 230.6,376.7 230.1,376.7 229.6,376.8 229.1,376.9 228.6,376.7 228.1,376.9 227.6,376.3 227.1,376.5 226.6,376.5 226.1,376.6 225.6,376.6 225.1,376.4 224.6,376.2 224.1,376.4 223.6,376.5 223.1,376 222.6,375.9 222.1,376 221.6,376 221.1,375.9 220.6,375.9 220.1,375.8 219.6,375.9 219.1,375.9 218.6,375.9 218.1,375.9 217.6,376 217.1,375.9 216.6,376.4 216.1,376.6 215.6,375.9 215.1,375.9 214.6,375.9 214.1,375.9 213.6,376.1 213.1,376 212.6,375.9 212.1,375.9 211.6,376.1 211.1,375.9 210.6,376 210.1,375.9 209.6,375.9 209.1,375.9 208.6,375.9 208.1,376 207.6,376 207.1,376.3 206.6,376.3 206.1,376.9 205.6,376.7 205.1,377 204.6,376.9 204.1,376.8 203.6,376.8 203.1,376.7 202.6,376.6 202.1,376.2 201.6,376 201.1,376.5 200.6,376.1 200.1,375.9 199.6,375.9 199.1,376.1 198.6,376.1 198.1,375.9 197.6,375.9 197.1,376.3 196.6,376.4 196.1,376 195.6,375.9 195.1,376.1 194.6,376.3 194.1,376.2 193.6,375.9 193.1,375.9 192.6,375.9 192.1,375.8 191.6,375.9 191.1,376 190.6,376 190.1,376 189.6,376 189.1,376 188.6,375.9 188.1,375.9 187.6,376 187.1,376 186.6,376.1 186.1,376.1 185.6,376 185.1,376.1 184.6,376 184.1,376 183.6,376.2 183.1,376 182.6,376.1 182.1,376 181.6,376 181.1,376 180.6,376.2 180.1,376.4 179.6,376.6 179.1,377 178.6,376.7 178.1,376.5 177.6,376.6 177.1,376.1 176.6,376.7 176.1,376.4 175.6,376.1 175.1,376.1 174.6,375.9 174.1,375.9 173.6,376 173.1,376.2 172.6,376.1 172.1,376.3 171.6,376.4 171.1,376.8 170.6,377 170.1,376.8 169.6,376.4 169.1,376.1 168.6,375.9 168.1,376 167.6,376.3 167.1,376 166.6,376 166.1,376 165.6,375.9 165.1,376 164.6,376 164.1,376 163.6,376.2 163.1,376.4 162.6,376.6 162.1,376.3 161.6,376.4 161.1,376.7 160.6,376.7 160.1,376.3 159.6,376.1 159.1,375.9 158.6,375.9 158.1,376.1 157.6,376.2 157.1,376.2 156.6,376.3 156.1,376.4 155.6,376.5 155.1,376.7 154.6,376.1 154.1,376.1 153.6,376.1 153.1,376 152.6,376.1 152.1,376.3 151.6,376.6 151.1,376.7 150.6,376.5 150.1,376.5 149.6,376.4 149.1,376.4 148.6,376.5 148.1,376.6 147.6,376.8 147.1,376.5 146.6,376.5 146.1,376.6 145.6,376.7 145.1,376.9 144.6,377.1 144.1,377.2 143.6,377.3 143.1,377.5 142.6,379.4 142.1,381.7 141.6,383.9 141.1,386 140.6,388.1 140.1,390.6 139.6,392.8 139.1,395.2 138.6,397 138.1,394.3 137.6,390.8 137.1,387.6 136.6,384.2 136.1,381.3 135.6,377.7 135.1,376.6 134.6,376.3 134.1,376.1 133.6,375.9 133.1,375.9 132.6,375.8 132.1,376 131.6,376.1 131.1,375.9 130.6,375.8 130.1,375.8 129.6,375.9 129.1,375.9 128.6,375.9 128.1,375.8 127.6,375.8 127.1,376.2 126.6,376.3 126.1,375.9 125.6,375.8 125.1,375.8 124.6,376 124.1,375.9 123.6,375.9 123.1,376 122.6,375.9 122.1,376 121.6,376 121.1,376 120.6,375.9 120.1,375.9 119.6,376 119.1,376 118.6,376 118.1,375.9 117.6,376.4 117.1,376.3 116.6,375.9 116.1,376.2 115.6,376.5 115.1,376.7 114.6,376.6 114.1,376.3 113.6,376 113.1,375.9 112.6,376 112.1,376.3 111.6,376.3 111.1,376.3 110.6,376.8 110.1,376.3 109.6,376.4 109.1,376.2 108.6,376.1 108.1,375.9 107.6,376 107.1,376 106.6,376 106.1,376 105.6,376.1 105.1,376.1 104.6,376.1 104.1,376.5 103.6,376.6 103.1,376.1 102.6,376.6 102.1,376.5 101.6,376.1 101.1,376.1 100.6,376.5 100.1,376.6 99.6,376.6 99.1,376.8 98.6,376.7 98.1,376.9 97.6,376.7 97.1,376.7 96.6,376.3 96.1,376.2 95.6,376.1 95.1,376.1 94.6,376.2 94.1,376.2 93.6,376 93.1,376.1 92.6,376.1 92.1,376 91.6,376 91.1,376 90.6,376.1 90.1,376 89.6,376 89.1,376.7 88.6,376.6 88.1,376.3 87.6,376.3 87.1,376.2 86.6,376.1 86.1,376.1Z"/></g>
<g fill="none" stroke="#000" stroke-width="3.4" stroke-linejoin="round" stroke-linecap="square"><path d="M267,94.5 267.5,94.1 268,93.8 268.5,93.7 269,93.7 269.5,93.9 270,94.1 270.5,94.1 271,93.9 271.5,93.7 272,93.6 272.5,93.6 273,93.9 273.5,94.1 274,94.2 274.5,94.1 275,94.1 275.5,94.2 276,94.3 276.5,94.3 277,94.1 277.5,93.7 278,93.2 278.5,92.9 279,92.7 279.5,92.7 280,92.6 280.5,92.6 281,92.5 281.5,92.5 282,92.7 282.5,92.9 283,93.2 283.5,93.5 284,93.7 284.5,93.8 285,93.7 285.5,93.6 286,93.3 286.5,93.2 287,93.2 287.5,93.3 288,93.2 288.5,92.9 289,92.4 289.5,91.9 290,91.6 290.5,91.7 291,92 291.5,92.5 292,92.8 292.5,92.8 293,92.6 293.5,92.3 294,92 294.5,91.9 295,92.3 295.5,92.8 296,93.3 296.5,93.6 297,93.5 297.5,93.2 298,93 298.5,93 299,93.2 299.5,93.6 300,94.1 300.5,94.5 301,94.8 301.5,95 302,95.1 302.5,94.9 303,94.6 303.5,94.2 304,93.9 304.5,93.6 305,93.6 305.5,93.7 306,93.9 306.5,94.1 307,94.2 307.5,94.3 308,94.2 308.5,94 309,93.8 309.5,93.7 310,93.7 310.5,93.8 311,94.1 311.5,94.5 312,94.9 312.5,95.2 313,95.2 313.5,95.1 314,95 314.5,94.9 315,94.9 315.5,94.9 316,94.9 316.5,94.9 317,94.7 317.5,94.6 318,94.5 318.5,94.4 319,94.2 319.5,93.9 320,93.5 320.5,93.1 321,92.8 321.5,92.6 322,92.5 322.5,92.4 323,92.4 323.5,92.6 324,92.8 324.5,92.8 325,92.7 325.5,92.2 326,91.7 326.5,91.2 327,90.9 327.5,90.8 328,91.2 328.5,91.8 329,92.5 329.5,93.1 330,93.4 330.5,93.4 331,93.3 331.5,93.3 332,93.4 332.5,93.6 333,93.8 333.5,94 334,94 334.5,93.9 335,93.7 335.5,93.4 336,93 336.5,92.6 337,92 337.5,91.6 338,91.4 338.5,91.5 339,92 339.5,92.6 340,93.2 340.5,93.6 341,93.9 341.5,94 342,94 342.5,93.9 343,93.8 343.5,93.7 344,93.7 344.5,93.5 345,93.3 345.5,93.1 346,93 346.5,93 347,93.1 347.5,93.2 348,93 348.5,92.7 349,92.2 349.5,91.8 350,91.6 350.5,91.5 351,91.4 351.5,91.2 352,90.9 352.5,90.6 353,90.4 353.5,90.6 354,91.2 354.5,91.9 355,92.6 355.5,93.3 356,93.8 356.5,94.2 357,94.2 357.5,94.1 358,93.8 358.5,93.6 359,93.6 359.5,94 360,94.6 360.5,95.2 361,95.5 361.5,95.6 362,95.3 362.5,95 363,94.7 363.5,94.5 364,94.5 364.5,94.6 365,94.7 365.5,94.7 366,94.7 366.5,94.6 367,94.3 367.5,94 368,93.8 368.5,93.4 369,93.1 369.5,92.7 370,92.4 370.5,92.2 371,92.2 371.5,92.2 372,92 372.5,91.7 373,91.3 373.5,90.8 374,90.5 374.5,90.3 375,90.5 375.5,90.9 376,91.4 376.5,92 377,92.6 377.5,93.1 378,93.6 378.5,93.9 379,93.8 379.5,93.5 380,93 380.5,92.6 381,92.6 381.5,92.7 382,93 382.5,93.1 383,92.9 383.5,92.6 384,92.4 384.5,92.4 385,92.5 385.5,92.8 386,93 386.5,93.2 387,93.3 387.5,93.5 388,93.7 388.5,93.9 389,94.2 389.5,94.4 390,94.4 390.5,94.1 391,93.7 391.5,93.1 392,92.6 392.5,92.4 393,92.5 393.5,92.9 394,93.4 394.5,93.9 395,94.2 395.5,94.5 396,94.6 396.5,94.6 397,94.5 397.5,94.2 398,94 398.5,93.8 399,93.6 399.5,93.5 400,93.4 400.5,93.3 401,93.3 401.5,93.3 402,93.4 402.5,93.6 403,93.7 403.5,93.7 404,93.7 404.5,93.7 405,93.8 405.5,94 406,94.1 406.5,94.3 407,94.4 407.5,94.3 408,94.2 408.5,93.9 409,93.5 409.5,93.3 410,93.1 410.5,93 411,93.1 411.5,93.2 412,93.4 412.5,93.4 413,93.3 413.5,93 414,92.7 414.5,92.4 415,92.4 415.5,92.5 416,92.7 416.5,93.1 417,93.4 417.5,93.6 418,93.8 418.5,93.8 419,93.9 419.5,93.9 420,94 420.5,94.1 421,94.1 421.5,94.2 422,94.2 422.5,94.2 423,94.2 423.5,94.2 424,94.3 424.5,94.4 425,94.6 425.5,94.8 426,95 426.5,95.1 427,94.9 427.5,94.6 428,94.1 428.5,93.7 429,93.3 429.5,93 430,93 430.5,92.9 431,92.9 431.5,92.8 432,92.7 432.5,92.6 433,92.4 433.5,92 434,91.6 434.5,91.3 435,91.2 435.5,91.5 436,92.1 436.5,92.8 437,93.5 437.5,93.9 438,94.1 438.5,93.9 439,93.4 439.5,92.8 440,92.2 440.5,91.6 441,91.2 441.5,90.8 442,90.5 442.5,90.3 443,90.2 443.5,90.3 444,90.4 444.5,90.7 445,91.2 445.5,91.7 446,92.4 446.5,93 447,93.5 447.5,93.7 448,93.5 448.5,93 449,92.3 449.5,91.8 450,91.5 450.5,91.3 451,91.2 451.5,91.3 452,91.4 452.5,91.8 453,92.1 453.5,92.4 454,92.5 454.5,92.4 455,92.2 455.5,92 456,92 456.5,92 457,92.1 457.5,92 458,91.9 458.5,91.9 459,92 459.5,92.3 460,92.8 460.5,93.2 461,93.4 461.5,93.5 462,93.5 462.5,93.3 463,93.1 463.5,92.9 464,92.7 464.5,92.5 465,92.2 465.5,92.1 466,92.1 466.5,92.2 467,92.4 467.5,92.6 468,92.7 468.5,92.8 469,92.7 469.5,92.5 470,90.6 470.5,88.4 471,86.2 471.5,84 472,82.1 472.5,80.6 473,79.7 473.5,80 474,82.5 474.5,84.7 475,86.5 475.5,88.2 476,89.6 476.5,90.8 477,91.8 477.5,92.7 478,93.5 478.5,93.9 479,93.9 479.5,94.1 480,94.3 480.5,94.5 481,94.8 481.5,94.8 482,94.6 482.5,94.1 483,93.3 483.5,92.7 484,92.3 484.5,92.4 485,92.8 485.5,93.2 486,93.3 486.5,93.1 487,92.7 487.5,92.1 488,91.7 488.5,91.5 489,91.7 489.5,92.1 490,92.8 490.5,93.5 491,94.1 491.5,94.4 492,94.5 492.5,94.5 493,94.3 493.5,94.1 494,93.9 494.5,93.7 495,93.6 495.5,93.6 496,93.5 496.5,93.4 497,93.4 497.5,93.5 498,93.7 498.5,93.9 499,94.1 499.5,94.3 500,94.4 500.5,94.5 501,94.3 501.5,93.9 502,93.3 502.5,92.8 503,92.6 503.5,92.7 504,92.8 504.5,93 505,93 505.5,93 506,93 506.5,92.9 507,92.8 507.5,92.7 508,92.6 508.5,92.7 509,92.8 509.5,92.8 510,92.6 510.5,92.2 511,91.8 511.5,91.4 512,91.3 512.5,91.5 513,92 513.5,92.6 514,93.1 514.5,93.5 515,93.6 515.5,93.3 516,92.7 516.5,91.9 517,91.3 517.5,90.9 518,90.9 518.5,91.3 519,91.9 519.5,92.5 520,92.9 520.5,93 521,92.7 521.5,92.3 522,92 522.5,91.8 523,91.8 523.5,91.9 524,92 524.5,92 525,92.1 525.5,92.3 526,92.5 526.5,92.6 527,92.7 527.5,92.8 528,92.9 528.5,93.1 529,93.3 529.5,93.5 530,93.6 530.5,93.5 531,93.4 531.5,93.3 532,93.4 532.5,93.8 533,94.2 533.5,94.6 534,94.8 534.5,94.8 535,94.6 535.5,94.4 536,94.3 536.5,94.4 537,94.6 537.5,94.8 538,94.7 538.5,94.4 539,93.8 539.5,93.2 540,92.5 540.5,92.2 541,92 541.5,92.2 542,92.6 542.5,93 543,93.4 543.5,93.6 544,93.6 544.5,93.5 545,93.5 545.5,93.6 546,93.8 546.5,94.2 547,94.6 547.5,94.8 548,94.8 548.5,94.7 549,94.4 549.5,94 550,93.6 550.5,93.3 551,93.1 551.5,92.9 552,92.6 552.5,92.1 553,91.6 553.5,91 554,90.6 554.5,90.6 555,90.9 555.5,91.6 556,92.6 556.5,93.5 557,94.1 557.5,94.3 558,94.2 558.5,93.9 559,93.5 559.5,93.3 560,93.2 560.5,93.1 561,92.9 561.5,92.7 562,92.6 562.5,92.6 563,92.7 563.5,93 564,93.3 564.5,93.7 565,93.9 565.5,94 566,93.9 566.5,93.8 567,93.7 567.5,93.5 568,93.2"/><path d="M267,132.5 267.5,131.8 268,131.2 268.5,131 269,131.1 269.5,131.5 270,132.2 270.5,133.1 271,133.9 271.5,134.4 272,134.7 272.5,134.7 273,134.8 273.5,135 274,135.3 274.5,135.7 275,135.7 275.5,135.4 276,135 276.5,134.6 277,134.6 277.5,134.8 278,135.2 278.5,135.5 279,135.9 279.5,136.1 280,136.3 280.5,136.4 281,136.4 281.5,136.3 282,135.9 282.5,135.4 283,134.6 283.5,133.8 284,133.1 284.5,132.7 285,132.7 285.5,133.1 286,133.6 286.5,134.2 287,134.6 287.5,134.7 288,134.7 288.5,134.4 289,134 289.5,133.6 290,133.2 290.5,132.9 291,132.7 291.5,132.8 292,133.1 292.5,133.6 293,134.1 293.5,134.5 294,134.8 294.5,135 295,135 295.5,135 296,134.8 296.5,134.7 297,134.6 297.5,134.5 298,134.4 298.5,134.2 299,133.9 299.5,133.6 300,133.3 300.5,133 301,132.7 301.5,132.5 302,132.5 302.5,132.7 303,133.1 303.5,133.6 304,134 304.5,134.1 305,134 305.5,133.7 306,133.4 306.5,133.4 307,133.5 307.5,133.7 308,133.8 308.5,133.8 309,133.6 309.5,133.5 310,133.3 310.5,133.2 311,133.1 311.5,133 312,133.1 312.5,133.3 313,133.6 313.5,134.1 314,134.5 314.5,134.8 315,135 315.5,135 316,134.9 316.5,134.9 317,135 317.5,135.3 318,135.7 318.5,135.9 319,135.8 319.5,135.4 320,134.9 320.5,134.5 321,134.3 321.5,134.5 322,134.7 322.5,134.9 323,134.9 323.5,134.8 324,134.7 324.5,134.8 325,134.9 325.5,135 326,134.9 326.5,134.5 327,134.1 327.5,133.7 328,133.5 328.5,133.6 329,134.1 329.5,134.7 330,135.2 330.5,135.5 331,135.7 331.5,135.7 332,135.7 332.5,135.7 333,135.6 333.5,135.6 334,135.4 334.5,135.2 335,134.8 335.5,134.5 336,134.1 336.5,133.7 337,133.4 337.5,133.3 338,133.3 338.5,133.5 339,133.7 339.5,134 340,134.2 340.5,134.5 341,134.9 341.5,135.4 342,135.7 342.5,135.8 343,135.6 343.5,135.2 344,134.8 344.5,134.3 345,134 345.5,133.8 346,133.7 346.5,133.7 347,133.6 347.5,133.3 348,133 348.5,132.6 349,132.3 349.5,132.1 350,132.1 350.5,132.2 351,132.2 351.5,132.1 352,132 352.5,131.8 353,131.6 353.5,131.5 354,131.4 354.5,131.5 355,131.7 355.5,131.9 356,132.1 356.5,132.4 357,132.8 357.5,133.1 358,133.5 358.5,133.8 359,134.3 359.5,134.9 360,135.4 360.5,135.9 361,136 361.5,135.9 362,135.4 362.5,134.9 363,134.4 363.5,134 364,133.9 364.5,134 365,134.1 365.5,134.3 366,134.4 366.5,134.4 367,134.5 367.5,134.7 368,134.9 368.5,135.2 369,135.3 369.5,135.3 370,135.1 370.5,135 371,135.1 371.5,135.5 372,136 372.5,136.5 373,136.9 373.5,137.1 374,137.1 374.5,137 375,137 375.5,137 376,136.9 376.5,136.7 377,136.3 377.5,135.5 378,134.6 378.5,133.7 379,133 379.5,132.7 380,132.7 380.5,132.8 381,133 381.5,133.2 382,133.4 382.5,133.6 383,133.7 383.5,133.7 384,133.9 384.5,134.2 385,134.5 385.5,134.9 386,135.1 386.5,135.3 387,135.6 387.5,135.9 388,136.1 388.5,135.9 389,135.4 389.5,134.8 390,134.2 390.5,133.8 391,133.6 391.5,133.6 392,133.6 392.5,133.6 393,133.5 393.5,133.3 394,133.2 394.5,133.2 395,133.5 395.5,133.9 396,134.4 396.5,134.8 397,135 397.5,135 398,134.9 398.5,134.9 399,135 399.5,135.3 400,135.6 400.5,135.8 401,135.9 401.5,136 402,136.1 402.5,136.3 403,136.4 403.5,136.4 404,136.3 404.5,136 405,135.8 405.5,135.6 406,135.5 406.5,135.4 407,135.2 407.5,134.7 408,134 408.5,133.5 409,133.3 409.5,133.5 410,134 410.5,134.6 411,135 411.5,135.1 412,135 412.5,134.8 413,134.6 413.5,134.6 414,134.8 414.5,135 415,135.3 415.5,135.4 416,135.5 416.5,135.7 417,135.8 417.5,135.8 418,135.7 418.5,135.5 419,135.3 419.5,135.1 420,134.8 420.5,134.6 421,134.3 421.5,134 422,133.9 422.5,133.8 423,133.7 423.5,133.7 424,133.7 424.5,133.7 425,133.8 425.5,134 426,134.3 426.5,134.7 427,135 427.5,135.2 428,135 428.5,134.4 429,133.8 429.5,133.1 430,132.7 430.5,132.4 431,132.3 431.5,132.4 432,132.6 432.5,133 433,133.5 433.5,134.1 434,134.5 434.5,134.8 435,134.7 435.5,134.4 436,133.9 436.5,133.5 437,133.2 437.5,133.2 438,133.4 438.5,133.5 439,133.5 439.5,133.4 440,133.4 440.5,133.4 441,133.5 441.5,133.8 442,134.1 442.5,134.3 443,134.5 443.5,134.6 444,134.5 444.5,134.3 445,134 445.5,133.7 446,133.3 446.5,133 447,132.8 447.5,132.7 448,132.8 448.5,133 449,133.4 449.5,133.9 450,134.3 450.5,134.5 451,134.4 451.5,134.3 452,132.9 452.5,131.1 453,129.3 453.5,127.3 454,125.4 454.5,123.6 455,122 455.5,120.9 456,120.2 456.5,120.4 457,122.2 457.5,123.8 458,125.3 458.5,126.7 459,127.9 459.5,129 460,130 460.5,130.9 461,131.7 461.5,132.5 462,132.7 462.5,132.4 463,132 463.5,131.7 464,131.7 464.5,132.1 465,132.7 465.5,133.5 466,134.1 466.5,134.5 467,134.7 467.5,134.7 468,134.6 468.5,134.5 469,134.7 469.5,135 470,135.5 470.5,136.1 471,136.7 471.5,137.3 472,137.5 472.5,137.2 473,136.4 473.5,135.3 474,134.3 474.5,133.7 475,133.6 475.5,134.1 476,134.7 476.5,135.3 477,135.6 477.5,135.6 478,135.4 478.5,135.1 479,134.9 479.5,134.8 480,134.9 480.5,135.1 481,135.5 481.5,135.8 482,136 482.5,136.1 483,136.2 483.5,136.3 484,136.5 484.5,136.6 485,136.6 485.5,136.4 486,135.9 486.5,135.3 487,134.7 487.5,134.1 488,133.6 488.5,133.2 489,133 489.5,133 490,133.1 490.5,133.2 491,133.4 491.5,133.7 492,133.9 492.5,134.1 493,134.2 493.5,134.2 494,134.1 494.5,134.1 495,134.1 495.5,134.2 496,134.3 496.5,134.4 497,134.5 497.5,134.5 498,134.5 498.5,134.5 499,134.4 499.5,134.5 500,134.7 500.5,135.1 501,135.7 501.5,136.1 502,136.2 502.5,135.9 503,135.5 503.5,135.1 504,134.9 504.5,135.1 505,135.4 505.5,135.8 506,135.9 506.5,135.7 507,135.4 507.5,135.1 508,134.8 508.5,134.5 509,134 509.5,133.7 510,133.5 510.5,133.4 511,133.6 511.5,133.8 512,134 512.5,134.3 513,134.5 513.5,134.6 514,134.5 514.5,134.2 515,133.8 515.5,133.4 516,133.1 516.5,133 517,133.1 517.5,133.3 518,133.6 518.5,133.8 519,133.9 519.5,134.1 520,134.1 520.5,134.2 521,134.3 521.5,134.4 522,134.5 522.5,134.4 523,134.3 523.5,134.2 524,134.3 524.5,134.5 525,134.7 525.5,134.7 526,134.6 526.5,134.5 527,134.3 527.5,134.3 528,134.4 528.5,134.7 529,135.2 529.5,135.8 530,136.3 530.5,136.6 531,136.7 531.5,136.5 532,136.3 532.5,136 533,135.7 533.5,135.3 534,134.8 534.5,134.2 535,133.7 535.5,133.4 536,133.2 536.5,133 537,132.9 537.5,132.9 538,132.9 538.5,133 539,133.2 539.5,133.4 540,133.5 540.5,133.6 541,133.6 541.5,133.6 542,133.8 542.5,134 543,134.4 543.5,134.6 544,134.6 544.5,134.3 545,134 545.5,133.6 546,133.4 546.5,133.4 547,133.6 547.5,133.9 548,134.4 548.5,134.8 549,135.3 549.5,135.9 550,136.4 550.5,136.8 551,136.9 551.5,136.6 552,136.2 552.5,135.8 553,135.4 553.5,135.1 554,134.8 554.5,134.7 555,134.6 555.5,134.6 556,134.7 556.5,134.9 557,135.2 557.5,135.4 558,135.4 558.5,135.4 559,135.3 559.5,135.1 560,134.8 560.5,134.2 561,133.6 561.5,133.1 562,133 562.5,133.3 563,133.9 563.5,134.6 564,135.1 564.5,135.4 565,135.5 565.5,135.4 566,135.4 566.5,135.4 567,135.5 567.5,135.8 568,136.1"/><path d="M267,175.3 267.5,175.4 268,175.6 268.5,175.7 269,175.8 269.5,175.8 270,175.6 270.5,175.4 271,175.2 271.5,175.1 272,175 272.5,175 273,175 273.5,175.1 274,175.1 274.5,175.2 275,175.1 275.5,175.1 276,175 276.5,175 277,175.1 277.5,175.2 278,175.3 278.5,175.5 279,175.7 279.5,175.8 280,175.8 280.5,175.9 281,175.9 281.5,175.9 282,175.9 282.5,176 283,176.1 283.5,176.2 284,176.3 284.5,176.4 285,176.4 285.5,176.4 286,176.4 286.5,176.3 287,176.2 287.5,176.1 288,176 288.5,175.8 289,175.6 289.5,175.4 290,175.1 290.5,174.9 291,174.8 291.5,174.7 292,174.6 292.5,174.7 293,174.8 293.5,174.9 294,175 294.5,175.1 295,175.3 295.5,175.4 296,175.5 296.5,175.6 297,175.6 297.5,175.6 298,175.6 298.5,175.6 299,175.7 299.5,175.7 300,175.7 300.5,175.6 301,175.6 301.5,175.5 302,175.4 302.5,175.3 303,175.3 303.5,175.3 304,175.5 304.5,175.7 305,176 305.5,176.2 306,176.4 306.5,176.4 307,176.4 307.5,176.1 308,175.8 308.5,175.4 309,175 309.5,174.7 310,174.4 310.5,174.3 311,174.3 311.5,174.4 312,174.5 312.5,174.6 313,174.7 313.5,174.7 314,174.6 314.5,174.4 315,174.3 315.5,174.2 316,174.2 316.5,174.4 317,174.5 317.5,174.8 318,175 318.5,175.1 319,175.3 319.5,175.4 320,175.4 320.5,175.4 321,175.3 321.5,175.2 322,175 322.5,174.8 323,174.5 323.5,174.3 324,174.3 324.5,174.3 325,174.5 325.5,174.8 326,175.2 326.5,175.6 327,176 327.5,176.3 328,176.6 328.5,176.8 329,176.9 329.5,177 330,177 330.5,176.9 331,176.8 331.5,176.6 332,176.3 332.5,176 333,175.6 333.5,175.4 334,175.2 334.5,175.3 335,175.4 335.5,175.7 336,176 336.5,176.2 337,176.3 337.5,176.3 338,176.2 338.5,176 339,175.8 339.5,175.6 340,175.5 340.5,175.5 341,175.4 341.5,175.5 342,175.5 342.5,175.5 343,175.5 343.5,175.4 344,175.2 344.5,175 345,174.9 345.5,174.8 346,174.8 346.5,174.8 347,174.9 347.5,175 348,175.1 348.5,175.1 349,175.1 349.5,175 350,174.9 350.5,174.7 351,174.5 351.5,174.4 352,174.3 352.5,174.2 353,174.1 353.5,174 354,173.9 354.5,173.9 355,173.9 355.5,173.9 356,174.1 356.5,174.3 357,174.5 357.5,174.7 358,174.9 358.5,174.9 359,174.8 359.5,174.7 360,174.6 360.5,174.5 361,174.5 361.5,174.5 362,174.5 362.5,174.6 363,174.6 363.5,174.6 364,174.7 364.5,174.7 365,174.8 365.5,174.9 366,175.1 366.5,175.2 367,175.3 367.5,175.4 368,175.5 368.5,175.6 369,175.7 369.5,175.8 370,175.9 370.5,176 371,176.1 371.5,176 372,175.9 372.5,175.7 373,175.5 373.5,175.1 374,174.8 374.5,174.6 375,174.3 375.5,174.2 376,174.1 376.5,174.2 377,174.4 377.5,174.6 378,175 378.5,175.3 379,175.6 379.5,175.9 380,176.1 380.5,176.2 381,176.2 381.5,176.2 382,176.1 382.5,176.1 383,176 383.5,175.8 384,175.7 384.5,175.5 385,175.4 385.5,175.2 386,175.2 386.5,175.2 387,175.2 387.5,175.2 388,175.2 388.5,175 389,174.9 389.5,174.8 390,174.7 390.5,174.8 391,175 391.5,175.1 392,175.3 392.5,175.3 393,175.3 393.5,175.1 394,175 394.5,174.9 395,174.9 395.5,175 396,175.3 396.5,175.5 397,175.8 397.5,175.9 398,175.9 398.5,175.7 399,175.4 399.5,175.1 400,174.8 400.5,174.7 401,174.7 401.5,174.8 402,175 402.5,175.2 403,175.3 403.5,175.5 404,175.6 404.5,175.6 405,175.6 405.5,175.5 406,175.2 406.5,174.9 407,174.6 407.5,174.3 408,174.1 408.5,174.1 409,174.3 409.5,174.5 410,174.9 410.5,175.2 411,175.5 411.5,175.8 412,176.1 412.5,176.3 413,176.5 413.5,176.7 414,176.7 414.5,176.7 415,176.7 415.5,176.7 416,176.6 416.5,176.6 417,176.5 417.5,176.4 418,176.3 418.5,176 419,175.7 419.5,175.4 420,175.1 420.5,174.9 421,174.7 421.5,174.5 422,174.5 422.5,174.6 423,174.7 423.5,174.8 424,174.9 424.5,174.9 425,175 425.5,175 426,175 426.5,175 427,175 427.5,175.1 428,175.3 428.5,175.5 429,175.8 429.5,176.1 430,176.2 430.5,176.3 431,176.2 431.5,176.1 432,175.8 432.5,175.6 433,175.4 433.5,175.3 434,175.2 434.5,175.2 435,175.2 435.5,175.1 436,175.1 436.5,175 437,174.9 437.5,173.4 438,170.3 438.5,166.1 439,161.1 439.5,156.1 440,152.2 440.5,150.4 441,153.5 441.5,157 442,160 442.5,162.5 443,164.7 443.5,166.6 444,168.2 444.5,169.5 445,170.7 445.5,171.7 446,172.5 446.5,173.3 447,173.9 447.5,173.8 448,173.6 448.5,173.4 449,173.4 449.5,173.4 450,173.4 450.5,173.4 451,173.4 451.5,173.5 452,173.7 452.5,173.8 453,174 453.5,174.1 454,174.1 454.5,174 455,174 455.5,174 456,174 456.5,174.1 457,174.3 457.5,174.6 458,175 458.5,175.5 459,175.9 459.5,176.3 460,176.6 460.5,176.7 461,176.6 461.5,176.4 462,176 462.5,175.5 463,175 463.5,174.5 464,174.2 464.5,174 465,173.9 465.5,173.9 466,174 466.5,174.1 467,174.3 467.5,174.4 468,174.6 468.5,174.7 469,174.7 469.5,174.7 470,174.6 470.5,174.5 471,174.3 471.5,174.2 472,174 472.5,173.9 473,173.9 473.5,173.9 474,174 474.5,174.1 475,174.3 475.5,174.4 476,174.5 476.5,174.5 477,174.4 477.5,174.3 478,174.1 478.5,174 479,173.9 479.5,173.8 480,173.8 480.5,173.9 481,174 481.5,174 482,174.1 482.5,174 483,174 483.5,173.9 484,174 484.5,174.1 485,174.3 485.5,174.6 486,174.9 486.5,175.2 487,175.5 487.5,175.7 488,175.8 488.5,175.8 489,175.8 489.5,175.7 490,175.6 490.5,175.5 491,175.3 491.5,175 492,174.8 492.5,174.6 493,174.5 493.5,174.4 494,174.5 494.5,174.7 495,175.1 495.5,175.5 496,176 496.5,176.4 497,176.7 497.5,176.9 498,177 498.5,176.8 499,176.5 499.5,176.1 500,175.6 500.5,175.1 501,174.7 501.5,174.4 502,174.2 502.5,174.2 503,174.4 503.5,174.6 504,174.7 504.5,174.8 505,174.9 505.5,174.9 506,174.9 506.5,174.9 507,175 507.5,175.2 508,175.3 508.5,175.5 509,175.6 509.5,175.6 510,175.6 510.5,175.6 511,175.6 511.5,175.5 512,175.5 512.5,175.6 513,175.8 513.5,176 514,176.2 514.5,176.3 515,176.4 515.5,176.5 516,176.6 516.5,176.6 517,176.6 517.5,176.5 518,176.4 518.5,176.2 519,176 519.5,175.8 520,175.7 520.5,175.7 521,175.7 521.5,175.8 522,175.9 522.5,175.9 523,175.9 523.5,175.8 524,175.7 524.5,175.5 525,175.2 525.5,175 526,174.8 526.5,174.6 527,174.5 527.5,174.5 528,174.6 528.5,174.7 529,174.8 529.5,175 530,175.2 530.5,175.3 531,175.3 531.5,175.2 532,175 532.5,174.8 533,174.6 533.5,174.6 534,174.6 534.5,174.7 535,174.9 535.5,175.2 536,175.5 536.5,175.9 537,176.3 537.5,176.7 538,177 538.5,177.2 539,177.3 539.5,177.3 540,177.1 540.5,176.9 541,176.5 541.5,176.2 542,175.9 542.5,175.6 543,175.3 543.5,175.1 544,174.9 544.5,174.8 545,174.7 545.5,174.7 546,174.7 546.5,174.8 547,174.8 547.5,174.7 548,174.7 548.5,174.6 549,174.6 549.5,174.6 550,174.7 550.5,174.8 551,175 551.5,175.2 552,175.3 552.5,175.5 553,175.5 553.5,175.5 554,175.5 554.5,175.3 555,175.2 555.5,175.1 556,175 556.5,175 557,175.1 557.5,175.2 558,175.5 558.5,175.8 559,176.2 559.5,176.4 560,176.5 560.5,176.6 561,176.5 561.5,176.3 562,176.1 562.5,175.9 563,175.6 563.5,175.4 564,175.1 564.5,174.9 565,174.8 565.5,174.7 566,174.7 566.5,174.7 567,174.8 567.5,175 568,175.2"/><path d="M267,302.8 267.5,302.8 268,302.9 268.5,303.1 269,303.4 269.5,303.6 270,303.8 270.5,303.8 271,303.7 271.5,303.5 272,303.2 272.5,302.8 273,302.5 273.5,302.3 274,302.2 274.5,302.2 275,302.3 275.5,302.6 276,302.9 276.5,303.5 277,303.9 277.5,304.1 278,304 278.5,303.7 279,303.4 279.5,303.2 280,303.2 280.5,303.1 281,303 281.5,302.7 282,302.4 282.5,302.2 283,302.1 283.5,302.1 284,302.3 284.5,302.6 285,303.1 285.5,303.5 286,303.9 286.5,304.1 287,304.1 287.5,304 288,303.9 288.5,303.9 289,303.8 289.5,303.8 290,303.8 290.5,303.8 291,303.9 291.5,303.9 292,303.8 292.5,303.6 293,303.3 293.5,303.1 294,302.9 294.5,302.9 295,303 295.5,303.1 296,303.2 296.5,303.2 297,303.2 297.5,303.1 298,303 298.5,302.8 299,302.7 299.5,302.7 300,302.7 300.5,302.9 301,303.1 301.5,303.2 302,303.2 302.5,303.1 303,302.9 303.5,302.7 304,302.7 304.5,302.8 305,302.9 305.5,303.2 306,303.3 306.5,303.3 307,303.1 307.5,302.8 308,302.6 308.5,302.5 309,302.5 309.5,302.6 310,302.6 310.5,302.7 311,302.7 311.5,302.8 312,303 312.5,303.2 313,303.3 313.5,303.3 314,303 314.5,302.7 315,302.3 315.5,302.1 316,302.1 316.5,302.2 317,302.6 317.5,303 318,303.5 318.5,303.8 319,303.8 319.5,303.5 320,303.1 320.5,302.8 321,302.7 321.5,302.7 322,302.9 322.5,303.1 323,303.4 323.5,303.5 324,303.6 324.5,303.5 325,303.4 325.5,303.2 326,303.2 326.5,303.3 327,303.4 327.5,303.5 328,303.5 328.5,303.4 329,303.2 329.5,303 330,302.9 330.5,302.8 331,303 331.5,303.3 332,303.7 332.5,304.1 333,304.4 333.5,304.5 334,304.4 334.5,304.3 335,304.2 335.5,304.1 336,304 336.5,303.7 337,303.5 337.5,303.3 338,303.2 338.5,303.2 339,303.3 339.5,303.4 340,303.4 340.5,303.2 341,303 341.5,302.7 342,302.7 342.5,302.8 343,303 343.5,303.2 344,303.4 344.5,303.4 345,303.4 345.5,303.3 346,303.2 346.5,303.1 347,303.1 347.5,303.2 348,303.4 348.5,303.5 349,303.7 349.5,303.9 350,304.1 350.5,304.2 351,304.2 351.5,304.3 352,304.4 352.5,304.4 353,304.5 353.5,304.3 354,303.9 354.5,303.4 355,302.9 355.5,302.5 356,302.5 356.5,302.7 357,303.2 357.5,303.7 358,304.1 358.5,304.2 359,304.1 359.5,303.8 360,303.6 360.5,303.4 361,303.3 361.5,303.2 362,303.1 362.5,303.1 363,303.1 363.5,303.2 364,303.3 364.5,303.5 365,303.6 365.5,303.7 366,303.5 366.5,303.3 367,302.9 367.5,302.7 368,302.7 368.5,302.9 369,303.1 369.5,303.3 370,303.4 370.5,303.4 371,303.4 371.5,303.3 372,303.2 372.5,302.9 373,302.7 373.5,302.5 374,302.6 374.5,302.7 375,303 375.5,303.3 376,303.4 376.5,303.5 377,303.4 377.5,303.3 378,303.2 378.5,303.1 379,303 379.5,303 380,303 380.5,303.1 381,303.2 381.5,303.3 382,303.5 382.5,303.5 383,303.5 383.5,302.9 384,300.5 384.5,297.3 385,293.5 385.5,289.3 386,285.3 386.5,281.9 387,279.8 387.5,280.1 388,284.2 388.5,287.7 389,290.7 389.5,293.2 390,295.3 390.5,297.1 391,298.6 391.5,299.9 392,301 392.5,301.9 393,302.6 393.5,302.8 394,303 394.5,303.2 395,303.2 395.5,303.1 396,303 396.5,303 397,303.1 397.5,303.1 398,303.1 398.5,302.9 399,302.7 399.5,302.6 400,302.5 400.5,302.4 401,302.3 401.5,302.3 402,302.3 402.5,302.3 403,302.3 403.5,302.4 404,302.5 404.5,302.7 405,302.8 405.5,302.8 406,302.8 406.5,302.8 407,302.9 407.5,303.1 408,303.3 408.5,303.5 409,303.6 409.5,303.7 410,303.7 410.5,303.8 411,303.8 411.5,303.7 412,303.7 412.5,303.8 413,303.9 413.5,303.9 414,303.8 414.5,303.5 415,303.1 415.5,302.7 416,302.5 416.5,302.5 417,302.7 417.5,303.1 418,303.5 418.5,304 419,304.3 419.5,304.5 420,304.3 420.5,304.1 421,303.7 421.5,303.4 422,303.3 422.5,303.4 423,303.5 423.5,303.5 424,303.5 424.5,303.5 425,303.4 425.5,303.4 426,303.4 426.5,303.4 427,303.3 427.5,303.2 428,303.2 428.5,303.2 429,303.1 429.5,303 430,302.8 430.5,302.8 431,302.9 431.5,303.2 432,303.3 432.5,303.3 433,303 433.5,302.8 434,302.9 434.5,303.2 435,303.7 435.5,304 436,304.1 436.5,304.1 437,304 437.5,303.9 438,303.8 438.5,303.5 439,303.1 439.5,302.7 440,302.5 440.5,302.5 441,302.7 441.5,302.9 442,303.2 442.5,303.4 443,303.5 443.5,303.5 444,303.4 444.5,303.3 445,303.2 445.5,303.3 446,303.4 446.5,303.5 447,303.5 447.5,303.5 448,303.3 448.5,303 449,302.8 449.5,302.8 450,302.9 450.5,303 451,303.1 451.5,303 452,303 452.5,303 453,303 453.5,303.1 454,303.2 454.5,303.2 455,303.1 455.5,303.1 456,303.2 456.5,303.3 457,303.4 457.5,303.5 458,303.5 458.5,303.6 459,303.8 459.5,303.9 460,304.1 460.5,304.2 461,304.2 461.5,304 462,303.8 462.5,303.5 463,303.3 463.5,303.1 464,303.1 464.5,303.1 465,303.1 465.5,303 466,302.8 466.5,302.7 467,302.8 467.5,302.9 468,303 468.5,303 469,302.9 469.5,302.7 470,302.5 470.5,302.4 471,302.4 471.5,302.5 472,302.6 472.5,302.8 473,303.1 473.5,303.4 474,303.7 474.5,303.9 475,304 475.5,303.8 476,303.6 476.5,303.2 477,303 477.5,302.7 478,302.6 478.5,302.5 479,302.5 479.5,302.5 480,302.6 480.5,302.8 481,302.9 481.5,302.9 482,302.8 482.5,302.6 483,302.4 483.5,302.3 484,302.3 484.5,302.6 485,303.1 485.5,303.8 486,304.2 486.5,304.4 487,304.3 487.5,304.1 488,304 488.5,303.9 489,303.9 489.5,303.8 490,303.7 490.5,303.6 491,303.6 491.5,303.6 492,303.7 492.5,303.9 493,303.9 493.5,303.6 494,303.2 494.5,302.9 495,302.8 495.5,303 496,303.4 496.5,303.8 497,304.1 497.5,304.2 498,304 498.5,303.8 499,303.5 499.5,303.2 500,303 500.5,302.7 501,302.6 501.5,302.7 502,303.1 502.5,303.6 503,303.9 503.5,304 504,303.8 504.5,303.6 505,303.3 505.5,303.1 506,303 506.5,303.2 507,303.5 507.5,303.8 508,303.9 508.5,303.7 509,303.1 509.5,302.6 510,302.2 510.5,302.2 511,302.4 511.5,302.7 512,302.9 512.5,303.2 513,303.3 513.5,303.3 514,303 514.5,302.7 515,302.6 515.5,302.8 516,303.1 516.5,303.4 517,303.4 517.5,303.3 518,303.1 518.5,302.9 519,303 519.5,303.2 520,303.6 520.5,303.9 521,304.2 521.5,304.2 522,304.1 522.5,303.9 523,303.6 523.5,303.3 524,302.9 524.5,302.7 525,302.7 525.5,302.9 526,303.2 526.5,303.5 527,303.6 527.5,303.6 528,303.5 528.5,303.4 529,303.4 529.5,303.5 530,303.8 530.5,304.2 531,304.5 531.5,304.5 532,304.3 532.5,304.1 533,304 533.5,303.8 534,303.5 534.5,303.1 535,302.8 535.5,302.5 536,302.3 536.5,302.4 537,302.6 537.5,303 538,303.3 538.5,303.5 539,303.5 539.5,303.3 540,303.1 540.5,303 541,303 541.5,303.2 542,303.4 542.5,303.5 543,303.6 543.5,303.8 544,303.9 544.5,304 545,303.9 545.5,303.7 546,303.5 546.5,303.2 547,303 547.5,302.8 548,302.6 548.5,302.6 549,302.5 549.5,302.5 550,302.4 550.5,302.5 551,302.6 551.5,303 552,303.2 552.5,303.3 553,303.1 553.5,302.7 554,302.4 554.5,302.2 555,302.3 555.5,302.5 556,302.8 556.5,303 557,303.1 557.5,303.1 558,303 558.5,303 559,303.1 559.5,303.2 560,303.4 560.5,303.6 561,303.8 561.5,303.9 562,303.9 562.5,303.9 563,303.8 563.5,303.6 564,303.4 564.5,303.2 565,303 565.5,302.9 566,302.8 566.5,302.8 567,302.8 567.5,303 568,303.1"/><path d="M267,305.5 267.5,305.6 268,305.6 268.5,305.6 269,305.6 269.5,305.5 270,305.4 270.5,305.3 271,305.1 271.5,305.1 272,305.2 272.5,305.2 273,305.1 273.5,305 274,304.9 274.5,304.8 275,304.8 275.5,304.9 276,304.9 276.5,304.8 277,304.6 277.5,304.4 278,304.3 278.5,304.3 279,304.5 279.5,304.7 280,304.9 280.5,305 281,304.9 281.5,304.7 282,304.5 282.5,304.6 283,304.9 283.5,305.1 284,305.3 284.5,305.2 285,305 285.5,305 286,305 286.5,305.1 287,305.1 287.5,305 288,305 288.5,305.2 289,305.5 289.5,305.7 290,305.7 290.5,305.5 291,305.2 291.5,304.9 292,304.8 292.5,304.8 293,304.9 293.5,304.9 294,304.8 294.5,304.7 295,304.6 295.5,304.6 296,304.8 296.5,304.9 297,305.1 297.5,305.2 298,305.2 298.5,305.2 299,305.2 299.5,305 300,304.8 300.5,304.5 301,304.5 301.5,304.6 302,304.8 302.5,305.1 303,305.3 303.5,305.5 304,305.6 304.5,305.7 305,305.7 305.5,305.5 306,305.4 306.5,305.2 307,305.1 307.5,305.3 308,305.6 308.5,306.1 309,306.6 309.5,306.6 310,306.6 310.5,306.5 311,306.2 311.5,306 312,305.8 312.5,305.6 313,305.4 313.5,305.4 314,305.5 314.5,305.7 315,305.9 315.5,306.1 316,306.1 316.5,306.1 317,305.9 317.5,305.7 318,305.4 318.5,305.1 319,304.9 319.5,304.8 320,304.8 320.5,304.7 321,304.4 321.5,304.3 322,304.3 322.5,304.5 323,304.7 323.5,304.8 324,304.8 324.5,304.7 325,304.7 325.5,304.6 326,304.6 326.5,304.7 327,304.8 327.5,304.8 328,304.7 328.5,304.5 329,304.3 329.5,304.3 330,304.3 330.5,304.3 331,304.3 331.5,304.2 332,304.2 332.5,304.2 333,304.2 333.5,304.3 334,304.5 334.5,304.6 335,304.5 335.5,304.3 336,304 336.5,303.7 337,303.6 337.5,303.7 338,303.9 338.5,304.1 339,304.3 339.5,304.4 340,304.4 340.5,304.3 341,304.2 341.5,304.1 342,304.1 342.5,304.1 343,304.1 343.5,304.2 344,304.4 344.5,304.8 345,305.2 345.5,305.5 346,305.8 346.5,305.8 347,305.6 347.5,305.3 348,305 348.5,304.7 349,304.5 349.5,304.4 350,304.4 350.5,304.5 351,304.7 351.5,304.8 352,304.9 352.5,304.9 353,304.8 353.5,304.8 354,304.9 354.5,305.1 355,305.2 355.5,305.4 356,305.5 356.5,305.7 357,305.9 357.5,305.9 358,305.7 358.5,305.3 359,305 359.5,304.7 360,304.5 360.5,304.4 361,304.4 361.5,304.5 362,304.6 362.5,304.7 363,304.8 363.5,304.9 364,305 364.5,305.1 365,305.2 365.5,305.2 366,305.2 366.5,305.1 367,305 367.5,304.8 368,304.7 368.5,304.5 369,304.4 369.5,304.3 370,304.3 370.5,304.3 371,304.3 371.5,304.4 372,304.5 372.5,304.6 373,304.7 373.5,304.8 374,304.7 374.5,304.6 375,304.5 375.5,304.5 376,304.6 376.5,304.6 377,304.7 377.5,304.7 378,304.7 378.5,304.7 379,304.6 379.5,304.5 380,304.5 380.5,304.6 381,304.8 381.5,304.9 382,304.9 382.5,303.7 383,301.9 383.5,299.6 384,296.7 384.5,293.5 385,290.3 385.5,287.6 386,285.7 386.5,285 387,288.3 387.5,291.1 388,293.5 388.5,295.5 389,297.2 389.5,298.6 390,299.9 390.5,300.9 391,301.8 391.5,302.5 392,303.1 392.5,303.7 393,304.1 393.5,304.5 394,304.8 394.5,305.1 395,305.3 395.5,305.4 396,305.4 396.5,305.5 397,305.6 397.5,305.5 398,305.3 398.5,305.1 399,304.8 399.5,304.4 400,304.2 400.5,304 401,304.1 401.5,304.5 402,305 402.5,305.4 403,305.6 403.5,305.6 404,305.5 404.5,305.3 405,305.1 405.5,305 406,304.9 406.5,305 407,305 407.5,305 408,304.9 408.5,304.9 409,304.8 409.5,304.8 410,304.8 410.5,304.8 411,304.9 411.5,305.1 412,305.3 412.5,305.4 413,305.5 413.5,305.5 414,305.4 414.5,305.3 415,305.2 415.5,305.1 416,305.1 416.5,305.2 417,305.2 417.5,305.2 418,305.3 418.5,305.2 419,305.1 419.5,305 420,304.8 420.5,304.8 421,304.8 421.5,304.9 422,305 422.5,305 423,304.9 423.5,304.8 424,304.7 424.5,304.7 425,304.8 425.5,304.8 426,304.6 426.5,304.4 427,304.4 427.5,304.5 428,304.6 428.5,304.5 429,304.4 429.5,304.2 430,304.2 430.5,304.3 431,304.4 431.5,304.4 432,304.4 432.5,304.4 433,304.5 433.5,304.6 434,304.8 434.5,305 435,305 435.5,304.9 436,304.9 436.5,304.9 437,305.1 437.5,305.3 438,305.5 438.5,305.7 439,305.9 439.5,305.9 440,305.7 440.5,305.5 441,305.4 441.5,305.4 442,305.4 442.5,305.4 443,305.3 443.5,305.4 444,305.4 444.5,305.4 445,305.5 445.5,305.5 446,305.4 446.5,305.3 447,305.3 447.5,305.4 448,305.4 448.5,305.5 449,305.4 449.5,305.3 450,305.1 450.5,305 451,304.9 451.5,305 452,305 452.5,305.2 453,305.3 453.5,305.4 454,305.3 454.5,305.2 455,305 455.5,305.1 456,305.2 456.5,305.2 457,305.1 457.5,304.9 458,304.8 458.5,304.7 459,304.8 459.5,304.9 460,305 460.5,305.2 461,305.3 461.5,305.3 462,305.3 462.5,305.2 463,304.9 463.5,304.5 464,304.1 464.5,303.8 465,303.6 465.5,303.4 466,303.3 466.5,303.4 467,303.6 467.5,304 468,304.5 468.5,304.9 469,305.1 469.5,305.1 470,304.9 470.5,304.8 471,304.7 471.5,304.8 472,304.9 472.5,305 473,305 473.5,305.1 474,305 474.5,304.9 475,304.8 475.5,304.7 476,304.6 476.5,304.6 477,304.8 477.5,305.1 478,305.4 478.5,305.5 479,305.4 479.5,305.3 480,305.2 480.5,305.1 481,305.2 481.5,305.2 482,305.1 482.5,304.9 483,304.7 483.5,304.7 484,304.8 484.5,305 485,305.1 485.5,305.2 486,305.1 486.5,304.9 487,304.7 487.5,304.5 488,304.3 488.5,304.1 489,304.1 489.5,304.2 490,304.5 490.5,304.8 491,305.2 491.5,305.3 492,305.1 492.5,304.7 493,304.1 493.5,303.7 494,303.5 494.5,303.5 495,303.7 495.5,303.9 496,304.1 496.5,304.1 497,304.2 497.5,304.3 498,304.5 498.5,304.6 499,304.7 499.5,304.7 500,304.7 500.5,304.7 501,304.7 501.5,304.8 502,304.9 502.5,305.1 503,305.2 503.5,305.3 504,305.2 504.5,305.1 505,305 505.5,305.1 506,305.2 506.5,305.4 507,305.6 507.5,305.6 508,305.4 508.5,305.1 509,304.8 509.5,304.7 510,304.7 510.5,304.7 511,304.8 511.5,305 512,305.2 512.5,305.4 513,305.6 513.5,305.7 514,305.7 514.5,305.6 515,305.4 515.5,305.2 516,305.1 516.5,305.1 517,305.1 517.5,305.2 518,305.4 518.5,305.4 519,305.3 519.5,305.2 520,305 520.5,305 521,305.3 521.5,305.6 522,305.9 522.5,306 523,306 523.5,305.9 524,305.8 524.5,305.8 525,305.8 525.5,305.7 526,305.5 526.5,305.3 527,305.1 527.5,305.1 528,305.3 528.5,305.6 529,305.8 529.5,306 530,306 530.5,305.8 531,305.5 531.5,305.3 532,305.2 532.5,305.2 533,305.2 533.5,305.3 534,305.3 534.5,305.3 535,305.3 535.5,305.3 536,305.3 536.5,305.3 537,305.3 537.5,305.2 538,305.2 538.5,305.2 539,305.1 539.5,305 540,304.9 540.5,304.8 541,304.9 541.5,304.9 542,304.9 542.5,305 543,305.1 543.5,305.2 544,305.3 544.5,305.4 545,305.4 545.5,305.3 546,305.1 546.5,304.9 547,304.9 547.5,304.9 548,305.1 548.5,305.4 549,305.6 549.5,305.6 550,305.6 550.5,305.5 551,305.4 551.5,305.5 552,305.6 552.5,305.6 553,305.4 553.5,305 554,304.8 554.5,304.8 555,305 555.5,305.3 556,305.6 556.5,305.8 557,305.7 557.5,305.5 558,305.3 558.5,305.1 559,305 559.5,305 560,305 560.5,305 561,305 561.5,305 562,304.9 562.5,304.8 563,304.6 563.5,304.4 564,304.2 564.5,304.2 565,304.2 565.5,304.2 566,304.3 566.5,304.5 567,304.5 567.5,304.5 568,304.5"/><path d="M267,321.1 267.5,321.1 268,320.9 268.5,320.7 269,320.6 269.5,320.6 270,320.8 270.5,321.2 271,321.5 271.5,321.6 272,321.5 272.5,321.4 273,321.3 273.5,321.2 274,321.1 274.5,321 275,320.9 275.5,321 276,321.3 276.5,321.8 277,322.1 277.5,322.4 278,322.3 278.5,322 279,321.5 279.5,320.9 280,320.4 280.5,320.3 281,320.4 281.5,320.7 282,321 282.5,321.1 283,320.9 283.5,320.5 284,320.2 284.5,320.1 285,320.1 285.5,320.3 286,320.4 286.5,320.6 287,320.7 287.5,320.8 288,320.8 288.5,320.8 289,320.9 289.5,321.1 290,321.3 290.5,321.4 291,321.4 291.5,321.3 292,321.1 292.5,320.9 293,320.8 293.5,320.7 294,320.8 294.5,320.9 295,320.9 295.5,320.9 296,320.9 296.5,320.9 297,320.9 297.5,321 298,321 298.5,320.9 299,320.8 299.5,320.7 300,320.8 300.5,321 301,321.2 301.5,321.3 302,321.3 302.5,321.2 303,321.1 303.5,321.1 304,321.1 304.5,321 305,320.9 305.5,320.8 306,320.7 306.5,320.6 307,320.5 307.5,320.5 308,320.4 308.5,320.4 309,320.3 309.5,320.3 310,320.2 310.5,320.1 311,320 311.5,320 312,320.1 312.5,320.3 313,320.6 313.5,320.8 314,320.9 314.5,320.8 315,320.5 315.5,320.2 316,320 316.5,320.2 317,320.6 317.5,321.2 318,321.6 318.5,321.9 319,321.9 319.5,321.6 320,321.2 320.5,320.8 321,320.5 321.5,320.4 322,320.5 322.5,320.6 323,320.5 323.5,320.4 324,320.3 324.5,320.4 325,320.5 325.5,320.8 326,321.1 326.5,321.4 327,321.6 327.5,321.6 328,321.5 328.5,321.4 329,321.3 329.5,321.2 330,321.1 330.5,321 331,320.8 331.5,320.6 332,320.6 332.5,320.7 333,320.8 333.5,320.8 334,320.7 334.5,320.5 335,320.4 335.5,320.4 336,320.4 336.5,320.4 337,320.3 337.5,320.3 338,320.2 338.5,320.1 339,320.1 339.5,320.1 340,320 340.5,320.1 341,320.1 341.5,320.2 342,320.4 342.5,320.6 343,320.9 343.5,321.3 344,321.5 344.5,321.5 345,321.4 345.5,321.2 346,321.1 346.5,321.1 347,321.2 347.5,321.4 348,321.5 348.5,321.5 349,321.4 349.5,321.1 350,320.8 350.5,320.6 351,320.5 351.5,320.5 352,320.5 352.5,320.5 353,320.6 353.5,320.7 354,320.7 354.5,320.6 355,320.4 355.5,320.2 356,320.1 356.5,320.2 357,320.5 357.5,320.8 358,321 358.5,321.1 359,321.1 359.5,320.9 360,320.8 360.5,320.8 361,320.8 361.5,320.5 362,320.1 362.5,319.8 363,319.7 363.5,319.9 364,320.2 364.5,320.5 365,320.6 365.5,320.5 366,320.3 366.5,320 367,319.8 367.5,319.8 368,320 368.5,320.2 369,320.3 369.5,320.4 370,320.4 370.5,320.4 371,320.4 371.5,320.4 372,320.5 372.5,320.7 373,320.7 373.5,320.8 374,320.8 374.5,320.9 375,320.9 375.5,320.9 376,320.8 376.5,320.5 377,320.3 377.5,318.8 378,315.8 378.5,311.7 379,306.7 379.5,301.6 380,297.3 380.5,294.9 381,297.8 381.5,302.3 382,305.9 382.5,308.9 383,311.4 383.5,313.4 384,315.1 384.5,316.4 385,317.5 385.5,318.4 386,319.2 386.5,319.8 387,320.3 387.5,320.7 388,320.9 388.5,320.9 389,320.8 389.5,320.8 390,320.8 390.5,320.9 391,321 391.5,321.1 392,321.1 392.5,320.9 393,320.7 393.5,320.4 394,320.3 394.5,320.4 395,320.5 395.5,320.8 396,321 396.5,321.1 397,321.1 397.5,321 398,320.9 398.5,320.9 399,320.8 399.5,320.7 400,320.5 400.5,320.3 401,320.2 401.5,320.3 402,320.5 402.5,320.6 403,320.7 403.5,320.9 404,321.1 404.5,321.4 405,321.5 405.5,321.5 406,321.5 406.5,321.5 407,321.5 407.5,321.4 408,321.2 408.5,321.1 409,321 409.5,321.1 410,321.2 410.5,321.2 411,321.1 411.5,321 412,320.9 412.5,320.9 413,320.8 413.5,320.8 414,320.7 414.5,320.7 415,320.5 415.5,320.4 416,320.4 416.5,320.5 417,320.8 417.5,321 418,321.1 418.5,321.1 419,321.1 419.5,321.1 420,321 420.5,321 421,320.9 421.5,320.9 422,320.9 422.5,321 423,321 423.5,321 424,320.9 424.5,320.8 425,320.8 425.5,320.6 426,320.5 426.5,320.3 427,320.2 427.5,320.1 428,320 428.5,319.9 429,320 429.5,320.1 430,320.4 430.5,320.6 431,320.8 431.5,320.8 432,320.8 432.5,320.6 433,320.5 433.5,320.5 434,320.6 434.5,320.6 435,320.6 435.5,320.4 436,320.3 436.5,320.2 437,320.2 437.5,320.2 438,320.1 438.5,320.1 439,320.3 439.5,320.6 440,321.1 440.5,321.5 441,321.7 441.5,321.8 442,321.9 442.5,322 443,322 443.5,321.9 444,321.7 444.5,321.5 445,321.4 445.5,321.4 446,321.5 446.5,321.4 447,321.3 447.5,321.1 448,320.9 448.5,320.9 449,320.9 449.5,320.9 450,320.9 450.5,320.8 451,320.9 451.5,321 452,321.2 452.5,321.3 453,321.2 453.5,321.1 454,320.9 454.5,320.7 455,320.6 455.5,320.4 456,320.3 456.5,320.3 457,320.4 457.5,320.6 458,320.7 458.5,320.8 459,320.9 459.5,320.9 460,320.8 460.5,320.7 461,320.6 461.5,320.5 462,320.4 462.5,320.3 463,320.3 463.5,320.3 464,320.3 464.5,320.4 465,320.5 465.5,320.8 466,321 466.5,321.2 467,321.2 467.5,321 468,320.5 468.5,320 469,319.7 469.5,319.5 470,319.5 470.5,319.6 471,319.9 471.5,320.2 472,320.4 472.5,320.6 473,320.7 473.5,320.8 474,320.9 474.5,321.1 475,321.2 475.5,321.2 476,321.2 476.5,321.2 477,321.2 477.5,321.2 478,321.1 478.5,321 479,320.9 479.5,320.9 480,321 480.5,321.3 481,321.6 481.5,321.8 482,321.8 482.5,321.5 483,321 483.5,320.6 484,320.4 484.5,320.4 485,320.6 485.5,320.8 486,321.1 486.5,321.3 487,321.2 487.5,320.9 488,320.4 488.5,320.1 489,320 489.5,320.1 490,320.4 490.5,320.7 491,320.9 491.5,321 492,320.9 492.5,320.8 493,320.5 493.5,320.4 494,320.3 494.5,320.3 495,320.3 495.5,320.3 496,320.2 496.5,320.2 497,320.2 497.5,320.3 498,320.4 498.5,320.7 499,321 499.5,321.3 500,321.4 500.5,321.6 501,321.7 501.5,321.7 502,321.5 502.5,321.2 503,320.9 503.5,320.9 504,321.1 504.5,321.2 505,321.4 505.5,321.5 506,321.7 506.5,321.9 507,322.1 507.5,322.1 508,322 508.5,321.7 509,321.4 509.5,321.1 510,320.8 510.5,320.7 511,320.7 511.5,320.9 512,321.3 512.5,321.5 513,321.6 513.5,321.4 514,321.2 514.5,321 515,321 515.5,321.1 516,321.1 516.5,321 517,320.8 517.5,320.8 518,320.8 518.5,321 519,321.3 519.5,321.6 520,321.7 520.5,321.4 521,321 521.5,320.4 522,319.9 522.5,319.6 523,319.7 523.5,319.9 524,320.1 524.5,320.1 525,320.2 525.5,320.3 526,320.5 526.5,320.7 527,320.9 527.5,321.1 528,321.2 528.5,321.4 529,321.5 529.5,321.5 530,321.4 530.5,321.4 531,321.4 531.5,321.4 532,321.3 532.5,321.3 533,321.4 533.5,321.7 534,322 534.5,322.2 535,322.1 535.5,322 536,321.8 536.5,321.7 537,321.6 537.5,321.4 538,321.2 538.5,321 539,320.9 539.5,320.8 540,320.8 540.5,320.9 541,321 541.5,321 542,321 542.5,320.9 543,320.8 543.5,320.7 544,320.7 544.5,320.7 545,320.7 545.5,320.8 546,320.9 546.5,321.2 547,321.4 547.5,321.6 548,321.6 548.5,321.6 549,321.6 549.5,321.5 550,321.3 550.5,321 551,320.8 551.5,320.6 552,320.5 552.5,320.5 553,320.7 553.5,321 554,321.2 554.5,321.2 555,321 555.5,320.8 556,320.6 556.5,320.6 557,320.7 557.5,320.7 558,320.8 558.5,321.1 559,321.5 559.5,321.9 560,322.1 560.5,322.1 561,321.9 561.5,321.6 562,321.3 562.5,321 563,320.5 563.5,320.1 564,319.8 564.5,319.8 565,320 565.5,320.2 566,320.5 566.5,320.9 567,321.1 567.5,321.2 568,321.3"/><path d="M267,354.6 267.5,354.4 268,354.4 268.5,354.5 269,354.5 269.5,354.6 270,354.7 270.5,354.7 271,354.6 271.5,354.6 272,354.5 272.5,354.4 273,354.5 273.5,354.6 274,354.8 274.5,354.9 275,355 275.5,354.9 276,354.9 276.5,354.9 277,354.9 277.5,354.9 278,354.8 278.5,354.5 279,354.3 279.5,354.3 280,354.3 280.5,354.4 281,354.6 281.5,354.8 282,355 282.5,355 283,354.9 283.5,354.7 284,354.5 284.5,354.4 285,354.3 285.5,354.2 286,354.1 286.5,354 287,354 287.5,354.1 288,354.2 288.5,354.4 289,354.5 289.5,354.5 290,354.6 290.5,354.6 291,354.7 291.5,354.7 292,354.8 292.5,354.9 293,354.9 293.5,354.8 294,354.7 294.5,354.5 295,354.4 295.5,354.4 296,354.5 296.5,354.6 297,354.8 297.5,354.8 298,354.7 298.5,354.5 299,354.3 299.5,354.2 300,354.2 300.5,354.3 301,354.4 301.5,354.5 302,354.4 302.5,354.4 303,354.4 303.5,354.5 304,354.7 304.5,354.9 305,355.1 305.5,355.2 306,355.3 306.5,355.2 307,355 307.5,354.8 308,354.7 308.5,354.7 309,354.7 309.5,354.7 310,354.6 310.5,354.5 311,354.3 311.5,354.1 312,354.1 312.5,354.2 313,354.3 313.5,354.5 314,354.6 314.5,354.6 315,354.7 315.5,354.7 316,354.7 316.5,354.6 317,354.4 317.5,354.4 318,354.4 318.5,354.5 319,354.5 319.5,354.6 320,354.5 320.5,354.5 321,354.4 321.5,354.4 322,354.5 322.5,354.7 323,354.9 323.5,355.1 324,355.2 324.5,355.2 325,355.2 325.5,355.2 326,355.1 326.5,355 327,355 327.5,355 328,355 328.5,354.9 329,354.8 329.5,354.6 330,354.3 330.5,354.1 331,354 331.5,354 332,354.1 332.5,354.3 333,354.5 333.5,354.7 334,354.7 334.5,354.6 335,354.5 335.5,354.5 336,354.5 336.5,354.5 337,354.5 337.5,354.4 338,354.3 338.5,354.3 339,354.3 339.5,354.4 340,354.4 340.5,354.4 341,354.3 341.5,354.1 342,354 342.5,353.9 343,353.9 343.5,354 344,354.1 344.5,354.3 345,354.4 345.5,354.5 346,354.6 346.5,354.6 347,354.6 347.5,354.6 348,354.5 348.5,354.4 349,354.4 349.5,354.4 350,354.5 350.5,354.5 351,354.5 351.5,354.4 352,354.3 352.5,354.3 353,354.4 353.5,354.5 354,354.6 354.5,354.6 355,354.6 355.5,354.6 356,354.6 356.5,354.7 357,354.7 357.5,354.6 358,354.5 358.5,354.3 359,354.1 359.5,354 360,353.9 360.5,353.9 361,354 361.5,354.1 362,354.3 362.5,354.4 363,354.5 363.5,354.6 364,354.6 364.5,354.1 365,353.4 365.5,352.7 366,351.9 366.5,351.2 367,350.7 367.5,350.5 368,351.1 368.5,351.8 369,352.4 369.5,352.9 370,353.3 370.5,353.7 371,354 371.5,354.2 372,354.4 372.5,354.6 373,354.5 373.5,354.4 374,354.4 374.5,354.5 375,354.7 375.5,354.8 376,354.9 376.5,354.9 377,354.9 377.5,354.9 378,354.8 378.5,354.7 379,354.6 379.5,354.6 380,354.7 380.5,354.7 381,354.7 381.5,354.6 382,354.6 382.5,354.6 383,354.6 383.5,354.8 384,354.9 384.5,355 385,355.1 385.5,355 386,354.8 386.5,354.7 387,354.6 387.5,354.6 388,354.7 388.5,354.9 389,355 389.5,355.2 390,355.1 390.5,354.9 391,354.7 391.5,354.6 392,354.6 392.5,354.8 393,354.9 393.5,354.9 394,354.8 394.5,354.7 395,354.6 395.5,354.5 396,354.5 396.5,354.4 397,354.4 397.5,354.4 398,354.5 398.5,354.5 399,354.5 399.5,354.6 400,354.7 400.5,354.7 401,354.7 401.5,354.5 402,354.2 402.5,354 403,354 403.5,354 404,354.2 404.5,354.4 405,354.4 405.5,354.4 406,354.2 406.5,354.2 407,354.1 407.5,354.2 408,354.2 408.5,354.3 409,354.5 409.5,354.6 410,354.7 410.5,354.8 411,354.7 411.5,354.5 412,354.4 412.5,354.3 413,354.3 413.5,354.3 414,354.4 414.5,354.4 415,354.6 415.5,354.6 416,354.7 416.5,354.6 417,354.5 417.5,354.5 418,354.5 418.5,354.5 419,354.5 419.5,354.3 420,354.2 420.5,354.1 421,354 421.5,354.2 422,354.4 422.5,354.8 423,355.1 423.5,355.3 424,355.5 424.5,355.5 425,355.4 425.5,355.2 426,355 426.5,354.8 427,354.7 427.5,354.7 428,354.7 428.5,354.8 429,354.8 429.5,354.9 430,354.9 430.5,354.9 431,354.8 431.5,354.7 432,354.6 432.5,354.5 433,354.5 433.5,354.4 434,354.5 434.5,354.5 435,354.5 435.5,354.5 436,354.6 436.5,354.6 437,354.7 437.5,354.7 438,354.7 438.5,354.7 439,354.7 439.5,354.8 440,354.8 440.5,354.8 441,354.7 441.5,354.5 442,354.3 442.5,354.2 443,354.2 443.5,354.2 444,354.3 444.5,354.4 445,354.5 445.5,354.6 446,354.7 446.5,354.8 447,354.9 447.5,355 448,355 448.5,354.9 449,354.8 449.5,354.8 450,354.7 450.5,354.7 451,354.7 451.5,354.8 452,354.8 452.5,354.8 453,354.8 453.5,354.7 454,354.5 454.5,354.5 455,354.5 455.5,354.6 456,354.7 456.5,354.8 457,354.9 457.5,354.9 458,354.9 458.5,354.9 459,354.9 459.5,354.8 460,354.8 460.5,354.9 461,355 461.5,355 462,355.1 462.5,355.1 463,355 463.5,354.9 464,354.7 464.5,354.6 465,354.5 465.5,354.6 466,354.7 466.5,354.7 467,354.7 467.5,354.6 468,354.5 468.5,354.6 469,354.7 469.5,354.9 470,355 470.5,355.1 471,355 471.5,354.9 472,354.7 472.5,354.6 473,354.5 473.5,354.5 474,354.5 474.5,354.6 475,354.7 475.5,354.8 476,354.7 476.5,354.6 477,354.5 477.5,354.4 478,354.4 478.5,354.4 479,354.5 479.5,354.5 480,354.5 480.5,354.5 481,354.6 481.5,354.7 482,354.9 482.5,355 483,354.9 483.5,354.9 484,354.8 484.5,354.7 485,354.7 485.5,354.7 486,354.7 486.5,354.8 487,354.8 487.5,354.8 488,354.7 488.5,354.5 489,354.4 489.5,354.3 490,354.2 490.5,354.3 491,354.3 491.5,354.5 492,354.6 492.5,354.6 493,354.7 493.5,354.7 494,354.8 494.5,354.9 495,354.8 495.5,354.7 496,354.6 496.5,354.5 497,354.5 497.5,354.5 498,354.5 498.5,354.5 499,354.5 499.5,354.4 500,354.3 500.5,354.2 501,354.2 501.5,354.1 502,354.1 502.5,354.1 503,354.1 503.5,354.1 504,354.1 504.5,354.2 505,354.2 505.5,354.3 506,354.4 506.5,354.4 507,354.4 507.5,354.4 508,354.4 508.5,354.3 509,354.3 509.5,354.2 510,354.1 510.5,354.1 511,354 511.5,353.9 512,353.8 512.5,353.8 513,353.8 513.5,353.8 514,353.9 514.5,354.1 515,354.3 515.5,354.5 516,354.6 516.5,354.5 517,354.3 517.5,354.1 518,354 518.5,354 519,354.1 519.5,354.2 520,354.2 520.5,354.1 521,354 521.5,354 522,354.1 522.5,354.2 523,354.4 523.5,354.6 524,354.7 524.5,354.6 525,354.5 525.5,354.4 526,354.4 526.5,354.4 527,354.3 527.5,354.3 528,354.2 528.5,354.2 529,354.3 529.5,354.3 530,354.3 530.5,354.3 531,354.1 531.5,353.9 532,353.7 532.5,353.7 533,353.7 533.5,353.9 534,354.1 534.5,354.4 535,354.5 535.5,354.6 536,354.6 536.5,354.5 537,354.4 537.5,354.2 538,354 538.5,353.8 539,353.7 539.5,353.6 540,353.7 540.5,353.8 541,354 541.5,354.1 542,354.1 542.5,354.1 543,354.2 543.5,354.2 544,354.2 544.5,354.2 545,354.2 545.5,354.2 546,354.3 546.5,354.3 547,354.3 547.5,354.3 548,354.3 548.5,354.2 549,354.2 549.5,354.3 550,354.5 550.5,354.6 551,354.6 551.5,354.5 552,354.4 552.5,354.2 553,354.1 553.5,354 554,354 554.5,354.1 555,354.2 555.5,354.3 556,354.4 556.5,354.5 557,354.5 557.5,354.5 558,354.5 558.5,354.4 559,354.3 559.5,354.3 560,354.2 560.5,354.1 561,354.1 561.5,354.1 562,354.1 562.5,354.2 563,354.3 563.5,354.4 564,354.4 564.5,354.4 565,354.5 565.5,354.6 566,354.7 566.5,354.8 567,354.8 567.5,354.9 568,355"/><path d="M267,374 267.5,374 268,373.9 268.5,373.8 269,373.5 269.5,373.2 270,373 270.5,373 271,373 271.5,373 272,373 272.5,373.1 273,373 273.5,372.9 274,372.6 274.5,372.4 275,372.3 275.5,372.4 276,372.6 276.5,372.8 277,372.9 277.5,372.8 278,372.6 278.5,372.3 279,372.2 279.5,372.2 280,372.2 280.5,372.2 281,372.2 281.5,372.3 282,372.6 282.5,372.9 283,373 283.5,373 284,372.9 284.5,372.8 285,372.8 285.5,372.9 286,372.9 286.5,372.8 287,372.5 287.5,372.3 288,372.1 288.5,372.1 289,372.2 289.5,372.4 290,372.6 290.5,372.7 291,372.7 291.5,372.5 292,372.4 292.5,372.4 293,372.4 293.5,372.3 294,372.3 294.5,372.3 295,372.4 295.5,372.5 296,372.6 296.5,372.7 297,372.9 297.5,373.1 298,373.3 298.5,373.3 299,373.2 299.5,373 300,372.8 300.5,372.7 301,372.6 301.5,372.6 302,372.5 302.5,372.5 303,372.5 303.5,372.7 304,372.9 304.5,373 305,373 305.5,373 306,372.9 306.5,372.7 307,372.6 307.5,372.5 308,372.6 308.5,372.7 309,372.8 309.5,372.8 310,372.7 310.5,372.4 311,372.2 311.5,372.1 312,372.2 312.5,372.4 313,372.7 313.5,372.9 314,373.1 314.5,373.2 315,373.3 315.5,373.3 316,373.3 316.5,373.2 317,373.1 317.5,373 318,373 318.5,373 319,373 319.5,373.1 320,373.2 320.5,373.2 321,373.3 321.5,373.3 322,373.3 322.5,373.1 323,373 323.5,373 324,373.2 324.5,373.4 325,373.4 325.5,373.3 326,373.1 326.5,373 327,372.9 327.5,372.7 328,372.4 328.5,372.2 329,372.3 329.5,372.6 330,373 330.5,373.3 331,373.4 331.5,373.3 332,373.1 332.5,373 333,373 333.5,372.9 334,372.9 334.5,372.8 335,372.6 335.5,372.4 336,372.1 336.5,372.1 337,372.1 337.5,372.2 338,372.2 338.5,372.2 339,372.2 339.5,372.2 340,372.2 340.5,372.2 341,372 341.5,371.9 342,371.8 342.5,371.8 343,371.9 343.5,372.1 344,372.3 344.5,372.3 345,372.3 345.5,372.1 346,371.9 346.5,371.7 347,371.6 347.5,371.6 348,371.7 348.5,371.9 349,372.2 349.5,372.4 350,372.6 350.5,372.7 351,372.9 351.5,373.1 352,373.3 352.5,373.3 353,373.3 353.5,373.2 354,373 354.5,372.7 355,372.5 355.5,372.3 356,372.2 356.5,372.2 357,372 357.5,369.7 358,366.1 358.5,361.3 359,356 359.5,351.1 360,348 360.5,350 361,355.4 361.5,359.6 362,362.9 362.5,365.4 363,367.4 363.5,369 364,370.2 364.5,371.1 365,371.8 365.5,372.4 366,372.8 366.5,372.4 367,372.2 367.5,372.1 368,372.3 368.5,372.6 369,372.8 369.5,372.9 370,372.9 370.5,372.8 371,372.6 371.5,372.6 372,372.5 372.5,372.5 373,372.6 373.5,372.7 374,372.8 374.5,373 375,373.1 375.5,373.1 376,373.1 376.5,373 377,373 377.5,372.9 378,372.7 378.5,372.6 379,372.3 379.5,372.1 380,372 380.5,372.1 381,372.2 381.5,372.3 382,372.4 382.5,372.4 383,372.2 383.5,372.1 384,372.1 384.5,372.3 385,372.7 385.5,373.1 386,373.3 386.5,373.4 387,373.3 387.5,373.3 388,373.1 388.5,372.9 389,372.7 389.5,372.5 390,372.5 390.5,372.7 391,372.9 391.5,373.2 392,373.3 392.5,373.3 393,373.1 393.5,373 394,372.8 394.5,372.8 395,372.8 395.5,372.8 396,372.7 396.5,372.6 397,372.5 397.5,372.4 398,372.4 398.5,372.3 399,372.2 399.5,372.1 400,372.1 400.5,372.3 401,372.5 401.5,372.7 402,372.9 402.5,372.9 403,372.8 403.5,372.5 404,372.3 404.5,372.2 405,372.3 405.5,372.5 406,372.6 406.5,372.6 407,372.4 407.5,372.1 408,371.9 408.5,372 409,372.1 409.5,372.3 410,372.5 410.5,372.7 411,372.9 411.5,373.1 412,373.2 412.5,373 413,372.6 413.5,372.2 414,372 414.5,371.9 415,371.9 415.5,372 416,372.1 416.5,372.2 417,372.2 417.5,372.2 418,372.1 418.5,372.1 419,372.1 419.5,372.2 420,372.2 420.5,372.2 421,372.2 421.5,372.2 422,372.2 422.5,372.3 423,372.4 423.5,372.5 424,372.6 424.5,372.6 425,372.6 425.5,372.5 426,372.3 426.5,372.2 427,372.1 427.5,372.2 428,372.4 428.5,372.7 429,373 429.5,373.3 430,373.4 430.5,373.5 431,373.6 431.5,373.6 432,373.6 432.5,373.4 433,373.1 433.5,372.8 434,372.5 434.5,372.3 435,372.3 435.5,372.4 436,372.5 436.5,372.7 437,372.9 437.5,372.8 438,372.6 438.5,372.3 439,372 439.5,371.8 440,371.9 440.5,372.1 441,372.3 441.5,372.4 442,372.4 442.5,372.2 443,372.1 443.5,371.9 444,372 444.5,372.1 445,372.3 445.5,372.6 446,372.8 446.5,373 447,373.2 447.5,373.3 448,373.4 448.5,373.4 449,373.4 449.5,373.2 450,373.1 450.5,373 451,373 451.5,372.8 452,372.7 452.5,372.5 453,372.5 453.5,372.5 454,372.5 454.5,372.4 455,372.2 455.5,372 456,372 456.5,372.1 457,372.3 457.5,372.6 458,372.9 458.5,373.1 459,373.1 459.5,372.9 460,372.7 460.5,372.5 461,372.5 461.5,372.6 462,372.6 462.5,372.4 463,372.3 463.5,372.2 464,372.2 464.5,372.3 465,372.5 465.5,372.7 466,372.9 466.5,373 467,373 467.5,372.9 468,372.8 468.5,372.9 469,373 469.5,373.1 470,373.1 470.5,373.2 471,373.4 471.5,373.4 472,373.4 472.5,373.4 473,373.2 473.5,373.1 474,373 474.5,372.8 475,372.6 475.5,372.4 476,372.4 476.5,372.5 477,372.5 477.5,372.4 478,372.2 478.5,372 479,371.9 479.5,372.1 480,372.4 480.5,372.8 481,373.2 481.5,373.5 482,373.6 482.5,373.5 483,373.2 483.5,372.8 484,372.6 484.5,372.6 485,372.7 485.5,372.6 486,372.5 486.5,372.4 487,372.4 487.5,372.4 488,372.4 488.5,372.4 489,372.3 489.5,372.3 490,372.2 490.5,372.2 491,372.2 491.5,372.2 492,372.2 492.5,372.2 493,372.2 493.5,372.2 494,372.3 494.5,372.4 495,372.7 495.5,373 496,373.2 496.5,373.4 497,373.3 497.5,373 498,372.7 498.5,372.4 499,372.2 499.5,372.1 500,372.1 500.5,372.2 501,372.3 501.5,372.4 502,372.4 502.5,372.6 503,372.8 503.5,373 504,373.1 504.5,373.1 505,373.1 505.5,373 506,373 506.5,373.1 507,373.3 507.5,373.4 508,373.4 508.5,373.3 509,373.1 509.5,372.9 510,372.7 510.5,372.5 511,372.6 511.5,372.8 512,373 512.5,373.1 513,373.1 513.5,373 514,372.8 514.5,372.6 515,372.3 515.5,372 516,371.9 516.5,371.9 517,372 517.5,372.2 518,372.4 518.5,372.5 519,372.6 519.5,372.7 520,372.6 520.5,372.5 521,372.3 521.5,372.2 522,372.2 522.5,372.3 523,372.7 523.5,373 524,373.3 524.5,373.5 525,373.4 525.5,373.3 526,373 526.5,372.8 527,372.6 527.5,372.4 528,372.3 528.5,372.3 529,372.3 529.5,372.3 530,372.3 530.5,372.4 531,372.4 531.5,372.4 532,372.4 532.5,372.5 533,372.6 533.5,372.7 534,372.8 534.5,372.8 535,372.5 535.5,372.1 536,371.7 536.5,371.5 537,371.4 537.5,371.6 538,372 538.5,372.3 539,372.6 539.5,372.8 540,373.1 540.5,373.4 541,373.6 541.5,373.5 542,373.3 542.5,373.1 543,373 543.5,372.9 544,372.9 544.5,372.9 545,372.9 545.5,373 546,373 546.5,373 547,373 547.5,373.1 548,373 548.5,372.8 549,372.6 549.5,372.4 550,372.3 550.5,372.4 551,372.4 551.5,372.5 552,372.7 552.5,372.9 553,373.1 553.5,373.3 554,373.5 554.5,373.6 555,373.6 555.5,373.5 556,373.3 556.5,373 557,372.7 557.5,372.5 558,372.6 558.5,372.8 559,373.1 559.5,373.2 560,373.1 560.5,373 561,372.8 561.5,372.7 562,372.6 562.5,372.5 563,372.5 563.5,372.5 564,372.5 564.5,372.4 565,372.3 565.5,372.2 566,372.2 566.5,372.2 567,372.2 567.5,372.1 568,372"/></g>
<line x1="513.40" y1="2.00" x2="283.30" y2="558.60" stroke="#ff0000" stroke-width="2.5" stroke-dasharray="9.1 4.21" stroke-dashoffset="12.0"/>
<g stroke="#008000"><line x1="473.40" y1="78.80" x2="473.40" y2="118.60" stroke-width="2.60"/><line x1="456.40" y1="119.70" x2="456.40" y2="158.60" stroke-width="2.60"/><line x1="440.60" y1="150.30" x2="440.60" y2="205.40" stroke-width="2.60"/><line x1="387.40" y1="279.20" x2="387.40" y2="333.60" stroke-width="3.60"/><line x1="380.70" y1="294.70" x2="380.70" y2="349.90" stroke-width="2.60"/><line x1="367.60" y1="328.00" x2="367.60" y2="382.50" stroke-width="2.60"/><line x1="360.30" y1="347.50" x2="360.30" y2="402.00" stroke-width="2.60"/></g>
</g>
<rect x="94.0" y="10.2" width="334.6" height="29.4" rx="3.5" fill="#fff" fill-opacity="0.8" stroke="#cccccc" stroke-width="1.3"/>
<line x1="100.2" y1="23.9" x2="133.5" y2="23.9" stroke="#ff0000" stroke-width="2.5" stroke-dasharray="9.25 4"/>
<text x="146.30" y="29.40" text-anchor="start" textLength="273.58" lengthAdjust="spacingAndGlyphs">best fit v=0.344, residual = 1.01</text>
<g stroke="#000"><rect x="86.10" y="2.00" width="565.30" height="556.60" fill="none" stroke="#000" stroke-width="1.4"/><line x1="80.00" y1="14.90" x2="86.10" y2="14.90" stroke-width="1.4"/><line x1="80.00" y1="99.20" x2="86.10" y2="99.20" stroke-width="1.4"/><line x1="80.00" y1="140.30" x2="86.10" y2="140.30" stroke-width="1.4"/><line x1="80.00" y1="178.30" x2="86.10" y2="178.30" stroke-width="1.4"/><line x1="80.00" y1="279.80" x2="86.10" y2="279.80" stroke-width="1.4"/><line x1="80.00" y1="306.60" x2="86.10" y2="306.60" stroke-width="2.4"/><line x1="80.00" y1="323.30" x2="86.10" y2="323.30" stroke-width="1.4"/><line x1="80.00" y1="356.00" x2="86.10" y2="356.00" stroke-width="1.4"/><line x1="80.00" y1="375.20" x2="86.10" y2="375.20" stroke-width="1.4"/><line x1="80.00" y1="412.80" x2="86.10" y2="412.80" stroke-width="1.4"/><line x1="80.00" y1="545.40" x2="86.10" y2="545.40" stroke-width="1.4"/><line x1="651.40" y1="99.20" x2="657.50" y2="99.20" stroke-width="1.4"/><line x1="651.40" y1="140.30" x2="657.50" y2="140.30" stroke-width="1.4"/><line x1="651.40" y1="178.30" x2="657.50" y2="178.30" stroke-width="1.4"/><line x1="651.40" y1="323.30" x2="657.50" y2="323.30" stroke-width="1.4"/><line x1="651.40" y1="356.00" x2="657.50" y2="356.00" stroke-width="1.4"/><line x1="651.40" y1="375.20" x2="657.50" y2="375.20" stroke-width="1.4"/><line x1="86.10" y1="558.60" x2="86.10" y2="564.60" stroke-width="1.4"/><line x1="161.47" y1="558.60" x2="161.47" y2="564.60" stroke-width="1.4"/><line x1="236.85" y1="558.60" x2="236.85" y2="564.60" stroke-width="1.4"/><line x1="312.22" y1="558.60" x2="312.22" y2="564.60" stroke-width="1.4"/><line x1="387.59" y1="558.60" x2="387.59" y2="564.60" stroke-width="1.4"/><line x1="462.97" y1="558.60" x2="462.97" y2="564.60" stroke-width="1.4"/><line x1="538.34" y1="558.60" x2="538.34" y2="564.60" stroke-width="1.4"/><line x1="613.71" y1="558.60" x2="613.71" y2="564.60" stroke-width="1.4"/></g>
<g stroke="#808080" stroke-width="0.8"><line x1="651.4" y1="304.6" x2="675.2" y2="253.1"/><line x1="651.4" y1="304.6" x2="674.3" y2="293.2"/></g>
<g><text x="72.40" y="19.80" text-anchor="end" textLength="46.52" lengthAdjust="spacingAndGlyphs">350.0</text><text x="72.40" y="105.60" text-anchor="end" textLength="46.52" lengthAdjust="spacingAndGlyphs">318.0</text><text x="72.40" y="145.50" text-anchor="end" textLength="46.52" lengthAdjust="spacingAndGlyphs">302.7</text><text x="72.40" y="183.90" text-anchor="end" textLength="46.52" lengthAdjust="spacingAndGlyphs">288.4</text><text x="72.40" y="286.50" text-anchor="end" textLength="46.52" lengthAdjust="spacingAndGlyphs">250.0</text><text x="72.40" y="308.10" text-anchor="end" textLength="46.52" lengthAdjust="spacingAndGlyphs">239.8</text><text x="72.40" y="328.80" text-anchor="end" textLength="46.52" lengthAdjust="spacingAndGlyphs">233.8</text><text x="72.40" y="358.90" text-anchor="end" textLength="46.52" lengthAdjust="spacingAndGlyphs">221.3</text><text x="72.40" y="380.60" text-anchor="end" textLength="46.52" lengthAdjust="spacingAndGlyphs">214.3</text><text x="72.40" y="417.80" text-anchor="end" textLength="46.52" lengthAdjust="spacingAndGlyphs">200.0</text><text x="72.40" y="550.80" text-anchor="end" textLength="46.52" lengthAdjust="spacingAndGlyphs">150.0</text><text x="663.90" y="105.70" text-anchor="start" textLength="76.16" lengthAdjust="spacingAndGlyphs">CQ.AKMS</text><text x="663.90" y="146.60" text-anchor="start" textLength="69.67" lengthAdjust="spacingAndGlyphs">CQ.ALEF</text><text x="663.90" y="185.20" text-anchor="start" textLength="71.73" lengthAdjust="spacingAndGlyphs">CQ.NATA</text><text x="663.90" y="329.00" text-anchor="start" textLength="60.35" lengthAdjust="spacingAndGlyphs">GE.CSS</text><text x="663.90" y="362.40" text-anchor="start" textLength="71.68" lengthAdjust="spacingAndGlyphs">KO.EREN</text><text x="663.90" y="381.30" text-anchor="start" textLength="79.68" lengthAdjust="spacingAndGlyphs">CQ.MVOU</text><text x="675.40" y="252.90" text-anchor="start" textLength="56.37" lengthAdjust="spacingAndGlyphs">KO.LFK</text><text x="676.20" y="294.10" text-anchor="start" textLength="73.09" lengthAdjust="spacingAndGlyphs">CQ.ATHA</text><text x="86.10" y="583.70" text-anchor="middle" textLength="9.41" lengthAdjust="spacingAndGlyphs">0</text><text x="161.47" y="583.70" text-anchor="middle" textLength="30.62" lengthAdjust="spacingAndGlyphs">200</text><text x="236.85" y="583.70" text-anchor="middle" textLength="30.62" lengthAdjust="spacingAndGlyphs">400</text><text x="312.22" y="583.70" text-anchor="middle" textLength="30.62" lengthAdjust="spacingAndGlyphs">600</text><text x="387.59" y="583.70" text-anchor="middle" textLength="30.62" lengthAdjust="spacingAndGlyphs">800</text><text x="462.97" y="583.70" text-anchor="middle" textLength="41.22" lengthAdjust="spacingAndGlyphs">1000</text><text x="538.34" y="583.70" text-anchor="middle" textLength="41.22" lengthAdjust="spacingAndGlyphs">1200</text><text x="613.71" y="583.70" text-anchor="middle" textLength="41.22" lengthAdjust="spacingAndGlyphs">1400</text><text x="368.00" y="606.20" text-anchor="middle" textLength="232.54" lengthAdjust="spacingAndGlyphs">Time after 15:08:18 UTC [s]</text><text x="0.00" y="0.00" text-anchor="middle" textLength="274.48" lengthAdjust="spacingAndGlyphs" transform="translate(13.4 280.0) rotate(-90)">Distance from best location [km]</text></g>
</svg></body></html>
